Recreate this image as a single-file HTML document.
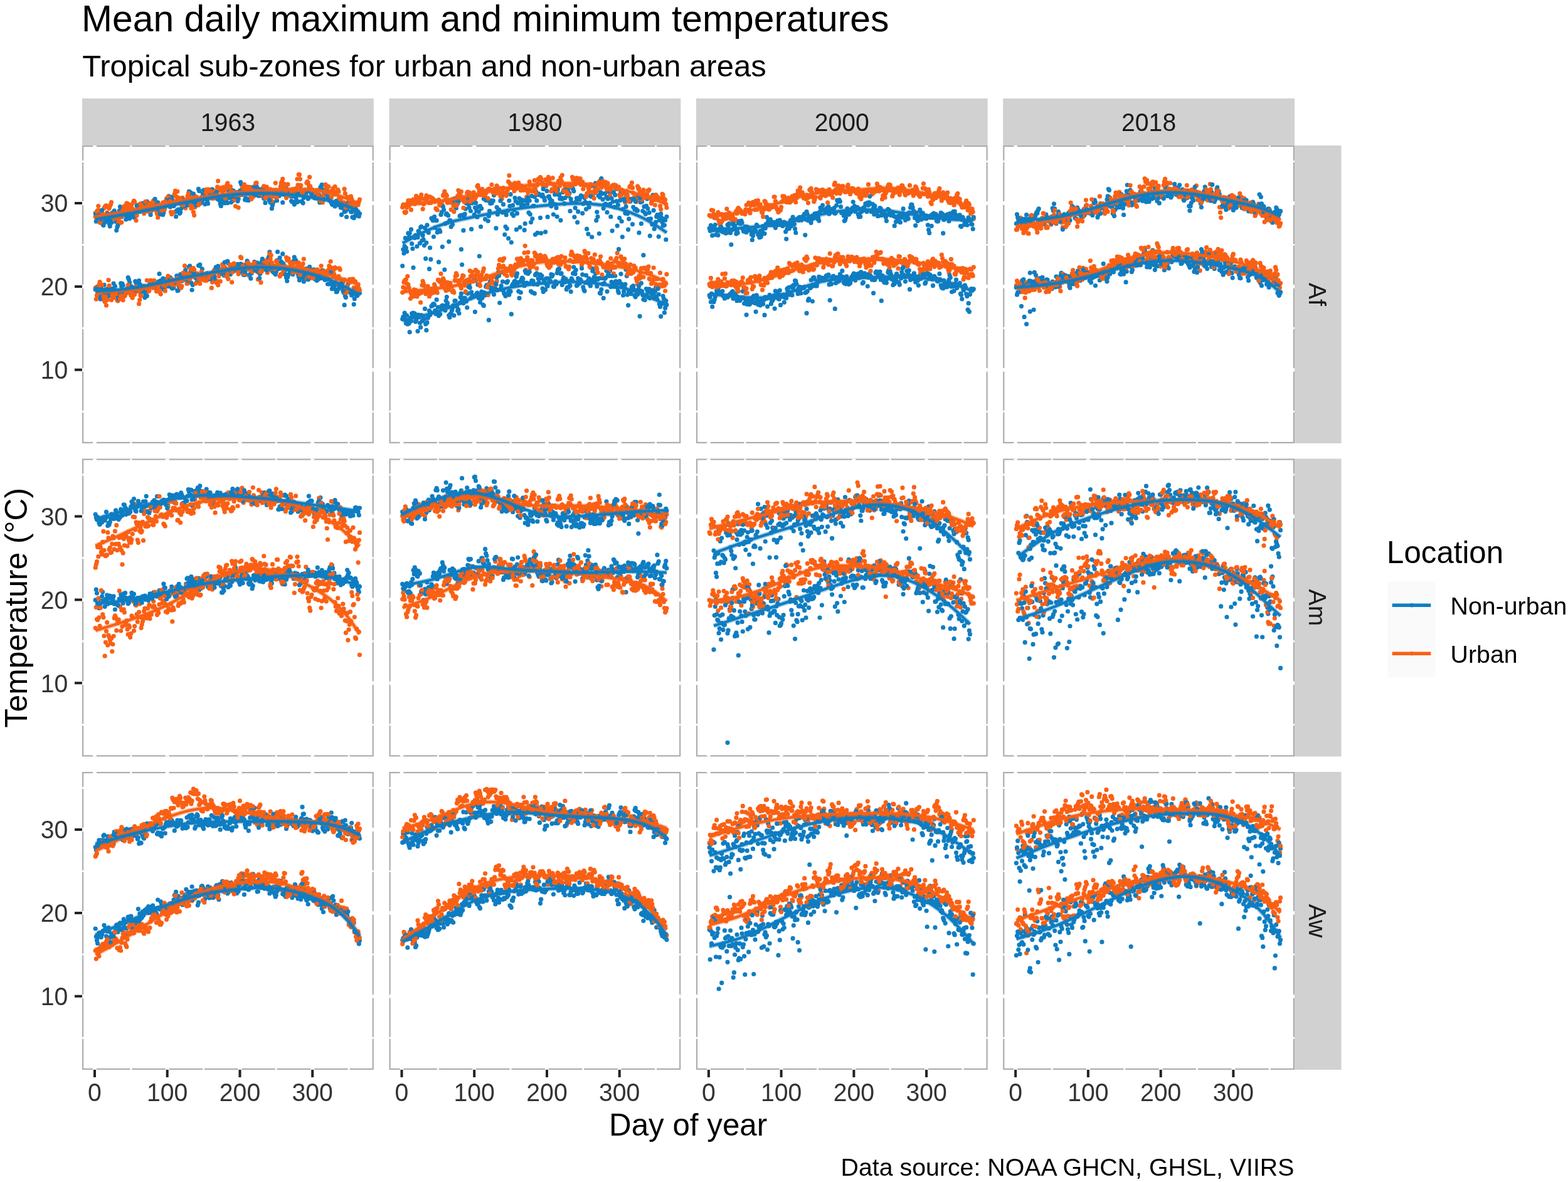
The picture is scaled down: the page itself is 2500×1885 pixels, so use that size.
<!DOCTYPE html><html><head><meta charset="utf-8"><title>Mean daily maximum and minimum temperatures</title><style>html,body{margin:0;padding:0;background:#fff}svg{display:block}text{font-family:"Liberation Sans",Arial,Helvetica,sans-serif}</style></head><body><svg width="2500" height="1885" viewBox="0 0 2500 1885">
<rect width="2500" height="1885" fill="#fff"/>
<text x="130" y="50" font-size="58.8" fill="#000">Mean daily maximum and minimum temperatures</text>
<text x="131.2" y="122" font-size="49" fill="#000">Tropical sub-zones for urban and non-urban areas</text>
<rect x="131.0" y="157" width="464.8" height="75" fill="#D1D1D1"/>
<text transform="translate(363.4 208.6) scale(1 1.035)" font-size="39.2" fill="#1A1A1A" text-anchor="middle">1963</text>
<rect x="620.5" y="157" width="464.8" height="75" fill="#D1D1D1"/>
<text transform="translate(852.9 208.6) scale(1 1.035)" font-size="39.2" fill="#1A1A1A" text-anchor="middle">1980</text>
<rect x="1109.9" y="157" width="464.8" height="75" fill="#D1D1D1"/>
<text transform="translate(1342.3 208.6) scale(1 1.035)" font-size="39.2" fill="#1A1A1A" text-anchor="middle">2000</text>
<rect x="1599.2" y="157" width="464.8" height="75" fill="#D1D1D1"/>
<text transform="translate(1831.6 208.6) scale(1 1.035)" font-size="39.2" fill="#1A1A1A" text-anchor="middle">2018</text>
<rect x="2063.1" y="232.0" width="75.4" height="475.0" fill="#D1D1D1"/>
<text transform="translate(2086.6 469.5) rotate(90)" font-size="39.2" fill="#1A1A1A" text-anchor="middle">Af</text>
<rect x="2063.1" y="731.5" width="75.4" height="475.0" fill="#D1D1D1"/>
<text transform="translate(2086.6 969.0) rotate(90)" font-size="39.2" fill="#1A1A1A" text-anchor="middle">Am</text>
<rect x="2063.1" y="1231.0" width="75.4" height="475.0" fill="#D1D1D1"/>
<text transform="translate(2086.6 1468.5) rotate(90)" font-size="39.2" fill="#1A1A1A" text-anchor="middle">Aw</text>
<rect x="132.1" y="233.1" width="462.6" height="472.8" fill="#fff" stroke="#ADADAD" stroke-width="2.2"/>
<g stroke="#fff"><path d="M151.0 232.0V707.0" stroke-width="5.8"/><path d="M208.9 232.0V707.0" stroke-width="2.9"/><path d="M266.7 232.0V707.0" stroke-width="5.8"/><path d="M324.6 232.0V707.0" stroke-width="2.9"/><path d="M382.5 232.0V707.0" stroke-width="5.8"/><path d="M440.3 232.0V707.0" stroke-width="2.9"/><path d="M498.2 232.0V707.0" stroke-width="5.8"/><path d="M556.1 232.0V707.0" stroke-width="2.9"/><path d="M131.0 656.2H595.8" stroke-width="2.9"/><path d="M131.0 589.8H595.8" stroke-width="5.8"/><path d="M131.0 523.3H595.8" stroke-width="2.9"/><path d="M131.0 456.9H595.8" stroke-width="5.8"/><path d="M131.0 390.4H595.8" stroke-width="2.9"/><path d="M131.0 324.0H595.8" stroke-width="5.8"/><path d="M131.0 257.5H595.8" stroke-width="2.9"/></g>
<path d="M380.1 317.3h0M557.2 466.2h0M566.5 468.5h0M532.9 456.4h0M236.6 334.4h0M186.9 468.8h0M523.7 315h0M228.5 334.4h0M417.2 417.7h0M541 315.7h0M251.7 460.7h0M523.7 444.9h0M355.8 317.6h0M156.8 468.8h0M304.9 451.1h0M391.7 437.6h0M298 442.8h0M343.1 446.1h0M466.9 437.6h0M159.1 335.8h0M404.4 310.1h0M249.4 453.5h0M192.7 451.9h0M396.3 420.6h0M245.9 327.4h0M498.2 431.5h0M218.1 453.2h0M328.1 306.6h0M526 315h0M266.7 445h0M198.4 342.2h0M363.9 303.9h0M506.3 443.3h0M388.2 438.2h0M451.9 309.9h0M342 441.1h0M160.3 476.9h0M340.8 313h0M186.9 362.1h0M384.8 434.1h0M182.2 468.7h0M207.7 455.5h0M241.3 452.5h0M455.4 297.6h0M177.6 355.2h0M538.7 453.8h0M478.5 295.9h0M519 445.4h0M220.4 327.2h0M432.2 320.8h0M204.2 334.3h0M395.2 418.3h0M387.1 310.5h0M184.6 353.4h0M306.1 462.5h0M486.6 302.8h0M215.8 448.7h0M384.8 294h0M174.1 356.4h0M573.4 340.7h0M294.5 444.2h0M332.7 444.1h0M363.9 419.8h0M280.6 449.1h0M470.4 308.6h0M377.8 427.5h0M200.8 464.6h0M273.7 314.2h0M335 313.5h0M191.5 329.6h0M394 416.2h0M282.9 463.4h0M563 334.9h0M196.1 332.4h0M558.4 465.9h0M498.2 302.7h0M323.4 436.8h0M440.3 314.9h0M413.7 303.3h0M572.3 463h0M265.6 450.6h0M197.3 466.3h0M269 312.8h0M379 320.8h0M348.9 428.9h0M214.7 347.3h0M338.5 435.4h0M500.5 311.4h0M185.7 367.3h0M463.5 313.1h0M457.7 448.1h0M254 436.7h0M534.1 328.9h0M495.9 430.1h0M310.7 440.8h0M389.4 306.7h0M337.3 302.2h0M259.8 342.5h0M263.3 329.5h0M350.1 319.9h0M331.5 439.7h0M548 328.2h0M169.5 464.1h0M239 329h0M206.6 348.4h0M190.3 469.6h0M300.3 439.5h0M431.1 322.9h0M432.2 430.3h0M250.5 453.5h0M469.3 410h0M296.8 440.4h0M472.7 319h0M397.5 306h0M203.1 342.9h0M381.3 307.1h0M513.2 434.5h0M398.7 298.9h0M213.5 460.3h0M156.8 346.5h0M531.8 325h0M383.6 290.7h0M427.6 304.3h0M538.7 325.8h0M355.8 427.5h0M534.1 451.1h0M277.1 458.8h0M153.3 353.1h0M524.8 452.9h0M448.4 293.9h0M447.3 419.8h0M357 316.4h0M320 324.1h0M466.9 313.2h0M256.3 447.6h0M193.8 456.5h0M257.5 336.8h0M543.3 451.5h0M389.4 438.4h0M535.2 326.1h0M499.3 435.2h0M428.8 409.2h0M215.8 337.9h0M291 443.2h0M227.4 324.2h0M223.9 466.6h0M561.8 346.3h0M539.9 460.5h0M292.2 320.4h0M539.9 319.8h0M236.6 460.9h0M369.7 424.6h0M314.2 318.4h0M248.2 453.6h0M527.1 305.4h0M219.3 464.3h0M299.1 327.3h0M239 452.8h0M271.4 329.9h0M171.8 473.6h0M374.4 313.2h0M425.3 303.1h0M267.9 325.4h0M569.9 471.3h0M427.6 412.1h0M230.9 474.6h0M500.5 429.8h0M416 302h0M293.3 329.6h0M154.5 457.7h0M388.2 309.1h0M289.9 448.1h0M559.5 337.7h0M565.3 336.2h0M244.7 331.9h0M234.3 321.3h0M357 439.2h0M536.4 320.4h0M344.3 309.4h0M321.1 322.5h0M285.2 335.3h0M475 436.6h0M338.5 301.8h0M454.2 296.9h0M385.9 426.9h0M560.7 338.1h0M211.2 464.7h0M354.7 428.7h0M426.4 306h0M510.9 438.6h0M155.6 462.7h0M258.6 339.9h0M220.4 457.7h0M350.1 429.2h0M491.2 316.9h0M166 454.3h0M262.1 459h0M485.5 446.3h0M336.2 307.2h0M358.2 324h0M418.3 300.9h0M242.4 455.9h0M189.2 345.7h0M329.2 444.7h0M436.9 310.6h0M264.4 445.2h0M416 420.6h0M501.7 315.8h0M374.4 429.6h0M235.5 465h0M483.1 323.8h0M439.2 307.2h0M289.9 324.2h0M237.8 327h0M177.6 471.5h0M163.7 357.1h0M313 441.9h0M465.8 434.3h0M376.7 425.8h0M550.3 471.7h0M273.7 459h0M479.7 440.7h0M237.8 455.6h0M438 303.6h0M228.5 456.6h0M456.5 442.8h0M369.7 316.1h0M287.6 437.7h0M473.9 322.5h0M546.8 324.1h0M370.9 312.5h0M475 321.5h0M435.7 322.5h0M554.9 453.1h0M473.9 432.8h0M472.7 431h0M548 466.7h0M380.1 423.9h0M303.8 306.8h0M258.6 454h0M404.4 427.3h0M512.1 297.2h0M197.3 338.5h0" stroke="#0F7DC2" stroke-width="7.2" stroke-linecap="round" fill="none"/>
<path d="M498.2 438.7h0M260.9 323.1h0M205.4 457.3h0M453.1 436.8h0M171.8 460h0M438 313.1h0M153.3 477.1h0M345.4 309.9h0M249.4 464.6h0M219.3 330.5h0M419.5 300.8h0M247.1 323.3h0M470.4 302.9h0M416 309.7h0M377.8 306.6h0M309.6 343.3h0M260.9 455.7h0M384.8 306h0M333.9 305.1h0M363.9 297.9h0M258.6 458.6h0M536.4 307.1h0M152.2 345.3h0M523.7 430.3h0M413.7 308.2h0M384.8 411.4h0M257.5 451.4h0M531.8 431h0M409.1 291.6h0M545.6 325.9h0M472.7 433.6h0M289.9 456.3h0M561.8 327.1h0M388.2 424.6h0M439.2 291.8h0M426.4 311.5h0M258.6 331.8h0M347.7 454.7h0M355.8 437.1h0M360.5 417.7h0M351.2 304h0M532.9 437.4h0M208.9 331.4h0M342 430.1h0M218.1 464.4h0M325.8 303.1h0M476.2 278.3h0M433.4 321.1h0M374.4 316.9h0M363.9 444.8h0M417.2 312.5h0M270.2 318.2h0M381.3 307.8h0M248.2 331.4h0M482 422.6h0M169.5 486.9h0M526 434h0M548 448h0M199.6 335.3h0M372 320h0M166 331.8h0M265.6 316.7h0M296.8 319.2h0M512.1 317.9h0M519 438.6h0M335 306.8h0M488.9 291.7h0M276 458h0M461.2 430.6h0M412.5 309.5h0M513.2 315.2h0M164.9 342.6h0M233.2 332h0M413.7 436.4h0M264.4 457.5h0M337.3 316.2h0M424.1 415.8h0M487.8 428.5h0M304.9 332.2h0M266.7 327.4h0M161.4 459.9h0M513.2 431.2h0M487.8 311.4h0M465.8 302.4h0M420.7 416.3h0M280.6 313.3h0M385.9 421.8h0M390.6 310.2h0M269 315.9h0M270.2 443.9h0M403.3 426.2h0M323.4 437.2h0M502.8 431.5h0M294.5 327.2h0M466.9 301.8h0M497 435.2h0M412.5 432.4h0M429.9 305.3h0M557.2 322.4h0M311.9 317.6h0M367.4 427.5h0M244.7 319.9h0M473.9 285.5h0M310.7 330.4h0M460 412.5h0M273.7 341.6h0M549.1 446h0M252.8 329.6h0M463.5 420.7h0M190.3 472h0M404.4 421.1h0M530.6 300.7h0M436.9 305.3h0M573.4 318.1h0M483.1 420.5h0M483.1 309.7h0M179.9 339.9h0M232 457.4h0M157.9 335.8h0M543.3 321.4h0M272.5 448.5h0M365.1 433.7h0M213.5 320.3h0M212.3 466.3h0M295.7 332h0M291 315.3h0M354.7 305.1h0M565.3 324.6h0M286.4 322.5h0M539.9 440.7h0M306.1 325.2h0M532.9 309.8h0M499.3 313.1h0M382.5 429.7h0M505.1 303.4h0M181.1 474.7h0M427.6 310.2h0M342 309.4h0M431.1 412.8h0M546.8 329.6h0M397.5 440h0M446.1 310.5h0M324.6 317.8h0M211.2 333.1h0M176.5 466.7h0M298 452.2h0M220.4 464.6h0M410.2 433.4h0M328.1 443h0M330.4 441.4h0M571.1 453.9h0M190.3 344.2h0M559.5 446.1h0M195 475.2h0M567.6 340.4h0M206.6 341.7h0M461.2 303.8h0M406.8 295.7h0M566.5 330.9h0M479.7 295.7h0M497 310.1h0M435.7 433.1h0M243.6 330.7h0M212.3 322.8h0M434.5 305.7h0M241.3 452.1h0M162.6 339.2h0M188 357.4h0M225.1 325.6h0M558.4 450h0M156.8 328.5h0M530.6 442.2h0M315.3 324h0M354.7 421.7h0M486.6 305.1h0M568.8 458.1h0M152.2 459.2h0M563 445.1h0M428.8 419.4h0M250.5 460.5h0M451.9 292.8h0M193.8 473.9h0M453.1 293.4h0M249.4 337.1h0M242.4 452.4h0M220.4 332.2h0M175.3 466.3h0M490.1 289.7h0M239 328.5h0M387.1 299.3h0M339.6 316.3h0M545.6 456.3h0M359.3 427.4h0M552.6 324.3h0M377.8 424.6h0M376.7 425.4h0M226.2 462.7h0M405.6 306.2h0M504 434.4h0M331.5 302h0M490.1 439.6h0M196.1 478.7h0M215.8 335.9h0M160.3 454.8h0M402.1 309.8h0M160.3 355.2h0M458.8 414h0M185.7 475h0M201.9 462.1h0M281.8 445.6h0M432.2 314.7h0M445 312.3h0M293.3 324.9h0M314.2 316.7h0M544.5 451.7h0M491.2 291.3h0M254 330.8h0M200.8 342h0M163.7 471.6h0M302.6 318.2h0M346.6 448.6h0M193.8 354.5h0M409.1 424.8h0M528.3 426.9h0M385.9 300.4h0M326.9 305.6h0M272.5 338h0M307.2 441h0M447.3 437.9h0M375.5 431.6h0M234.3 447h0M543.3 445.5h0M478.5 285.6h0M295.7 434.5h0M267.9 314.2h0M203.1 460.7h0M269 449.3h0M473.9 428h0M557.2 445.7h0M169.5 327.8h0M529.4 438.3h0M210 326.6h0M569.9 323h0" stroke="#FA6014" stroke-width="7.2" stroke-linecap="round" fill="none"/>
<path d="M195 452.3h0M403.3 299.2h0M516.7 308.1h0M554.9 323.2h0M157.9 471.7h0M568.8 337.4h0M482 322h0M164.9 467.2h0M445 428.7h0M320 444.6h0M484.3 448.9h0M251.7 322.9h0M271.4 442.6h0M449.6 302.7h0M476.2 441.3h0M419.5 302.4h0M311.9 323.8h0M188 472.3h0M433.4 332.4h0M434.5 327.2h0M328.1 445.4h0M447.3 309.6h0M348.9 313.7h0M280.6 345.5h0M412.5 312.3h0M243.6 455.4h0M288.7 332.8h0M277.1 328.6h0M326.9 440.2h0M292.2 441.8h0M468.1 416.1h0M512.1 443.7h0M509.8 438.6h0M212.3 466.5h0M222.8 337.3h0M419.5 429.8h0M557.2 323.4h0M322.3 320.1h0M221.6 331.4h0M181.1 345.8h0M558.4 329.6h0M401 298.9h0M252.8 335.7h0M284.1 334.1h0M225.1 460.8h0M385.9 305.9h0M361.6 438.1h0M173 347.3h0M521.3 445.3h0M346.6 425.4h0M302.6 424h0M176.5 351.9h0M530.6 326.7h0M267.9 449.1h0M287.6 338.8h0M256.3 336.1h0M458.8 441.7h0M262.1 334.2h0M339.6 439h0M346.6 317.3h0M414.9 436.3h0M306.1 321.5h0M210 344.7h0M179.9 341h0M383.6 420.9h0M382.5 304.3h0M550.3 337.3h0M471.6 314.6h0M163.7 463.7h0M248.2 329.7h0M487.8 308.5h0M479.7 302.3h0M276 450.7h0M424.1 428.4h0M243.6 333.8h0M464.6 422.2h0M347.7 424.3h0M434.5 430.7h0M488.9 305.4h0M515.5 304.9h0M443.8 312.5h0M188 359.5h0M442.6 401.7h0M308.4 309.1h0M160.3 345.9h0M298 324.7h0M168.4 461.5h0M463.5 430.4h0M318.8 422.2h0M504 444h0M339.6 307.1h0M321.1 440.1h0M552.6 463.4h0M461.2 429.8h0M291 318.3h0M204.2 442.7h0M322.3 428.9h0M407.9 299.1h0M325.8 440.9h0M234.3 471.9h0M480.8 321h0M304.9 324.3h0M417.2 306.2h0M257.5 458.2h0M250.5 329.1h0M439.2 437.6h0M367.4 305.4h0M343.1 314.2h0M454.2 431.6h0M561.8 465.1h0M272.5 448h0M316.5 423.5h0M359.3 435.8h0M284.1 463.3h0M314.2 449.7h0M342 313.4h0M406.8 311.5h0M308.4 437.9h0M303.8 433.6h0M203.1 460.3h0M309.6 315.9h0M502.8 440.8h0M403.3 424h0M242.4 329.4h0M226.2 325.1h0M521.3 310.8h0M520.2 443.2h0M269 456.6h0M200.8 350h0M373.2 432h0M217 340.2h0M324.6 303.3h0M552.6 346h0M440.3 433.5h0M152.2 340.2h0M279.5 337.9h0M372 428.7h0M433.4 426.1h0M392.9 319.1h0M286.4 447h0M442.6 308.6h0M482 442.5h0M492.4 304.4h0M255.2 448.1h0M502.8 308.4h0M411.4 300.8h0M367.4 437.4h0M445 312.4h0M178.8 467.1h0M225.1 336.1h0M553.7 333.4h0M223.9 334.3h0M359.3 320.5h0M208.9 457.3h0M446.1 303.3h0M497 433.6h0M421.8 419.7h0M226.2 458.3h0M366.3 431h0M205.4 338.1h0M164.9 359.5h0M513.2 294.7h0M217 451.1h0M173 464.1h0M174.1 459.8h0M337.3 438.3h0M281.8 335.8h0M438 435.1h0M464.6 320.6h0M294.5 328.7h0M301.4 305.4h0M192.7 339.3h0M210 457.4h0M368.6 427.8h0M441.5 320h0M347.7 315.2h0M443.8 422.1h0M556.1 465.6h0M285.2 456.4h0M232 469.4h0M154.5 345.4h0M315.3 438.5h0M370.9 422.1h0M493.6 299.9h0M317.7 424h0M316.5 301.4h0M401 436h0M307.2 454.5h0M545.6 457.8h0M429.9 401.8h0M379 421.3h0M541 455.9h0M456.5 308.5h0M213.5 346.4h0M484.3 315.5h0M477.4 308.3h0M264.4 324.1h0M232 325.9h0M170.7 468.7h0M528.3 323.4h0M254 338.8h0M402.1 433.4h0M265.6 319.5h0M206.6 450.1h0M270.2 318.5h0M405.6 417.6h0M522.5 453h0M155.6 345.3h0M193.8 346h0M310.7 313.3h0M157.9 342.4h0M252.8 449.2h0M398.7 437.4h0M382.5 422.4h0M499.3 309.7h0M227.4 456.1h0M399.8 444.2h0M501.7 444.8h0M391.7 316.1h0M431.1 421.8h0M532.9 323.7h0M175.3 360.8h0M152.2 461.7h0M324.6 443.7h0M295.7 430.6h0M441.5 415.4h0M397.5 422.7h0M282.9 336.6h0M198.4 464.6h0M241.3 336.3h0M219.3 334.5h0M494.7 430.3h0M361.6 316.5h0M240.1 342.4h0M229.7 327.1h0M260.9 338.9h0M446.1 411h0M418.3 412.9h0M551.4 336.3h0M296.8 326.3h0M451.9 420.8h0M196.1 455.2h0M201.9 465.5h0" stroke="#0F7DC2" stroke-width="7.2" stroke-linecap="round" fill="none"/>
<path d="M499.3 443.3h0M488.9 444.6h0M326.9 437.9h0M504 305.1h0M479.7 436.4h0M418.3 309.8h0M207.7 333.6h0M186.9 479.1h0M265.6 452.8h0M563 322.3h0M228.5 332h0M571.1 326.7h0M314.2 436.1h0M493.6 282.4h0M279.5 304.4h0M185.7 346.4h0M524.8 424.2h0M429.9 404.4h0M442.6 306.9h0M556.1 449h0M362.8 435.4h0M510.9 433h0M159.1 355h0M204.2 325.1h0M179.9 472.6h0M214.7 321.9h0M435.7 303.2h0M174.1 332.3h0M477.4 425.5h0M188 479.8h0M227.4 460.5h0M310.7 435.3h0M564.2 458.8h0M552.6 465.9h0M516.7 304.8h0M553.7 314.1h0M406.8 423.8h0M456.5 410.5h0M171.8 341h0M350.1 435.7h0M536.4 444.2h0M299.1 451.9h0M508.6 318.1h0M217 456.8h0M278.3 309.4h0M222.8 478h0M460 307.1h0M527.1 307.4h0M206.6 465h0M357 303.4h0M317.7 444.9h0M288.7 325.4h0M391.7 421.6h0M200.8 468.1h0M285.2 315.6h0M352.4 303h0M523.7 297.6h0M347.7 288.7h0M373.2 420.2h0M247.1 453.9h0M514.4 322.9h0M225.1 471.7h0M546.8 450.6h0M500.5 439.8h0M538.7 452.1h0M367.4 297.5h0M522.5 433.8h0M336.2 305.4h0M337.3 459.2h0M278.3 447h0M425.3 420.8h0M226.2 328.3h0M402.1 433.3h0M455.4 427.7h0M539.9 305.7h0M178.8 343h0M227.4 333.4h0M170.7 339.1h0M541 427.8h0M507.4 435.5h0M564.2 326.6h0M221.6 326.6h0M313 443.9h0M432.2 407h0M559.5 313.2h0M244.7 451.9h0M284.1 315.1h0M426.4 435h0M440.3 303.2h0M343.1 434.4h0M351.2 448.7h0M207.7 468.6h0M494.7 438.7h0M374.4 426.4h0M443.8 420.9h0M336.2 442.5h0M492.4 296.2h0M512.1 424.1h0M189.2 468.1h0M306.1 439.5h0M451.9 433.5h0M521.3 301.6h0M472.7 300h0M572.3 460.2h0M344.3 313.2h0M167.2 329.8h0M550.3 466.4h0M251.7 460.1h0M228.5 463.5h0M502.8 306.7h0M421.8 308.3h0M470.4 418h0M287.6 318.7h0M329.2 447.3h0M264.4 323.2h0M173 331.2h0M501.7 310.3h0M162.6 454.3h0M509.8 440.6h0M248.2 459.8h0M262.1 457.6h0M370.9 433.8h0M535.2 307.9h0M250.5 340.9h0M211.2 474.9h0M235.5 324.9h0M544.5 315.5h0M331.5 445.8h0M529.4 308h0M396.3 429.6h0M522.5 297h0M506.3 429.9h0M189.2 351.2h0M565.3 463.6h0M500.5 304.7h0M282.9 305.3h0M449.6 289.3h0M167.2 481.3h0M333.9 441.1h0M339.6 435.4h0M442.6 422.1h0M368.6 302.6h0M471.6 303.7h0M464.6 422.3h0M338.5 450.1h0M491.2 445.7h0M369.7 450.2h0M423 426.5h0M465.8 427.9h0M475 424.1h0M155.6 335.6h0M548 322.9h0M399.8 422.3h0M495.9 306.3h0M392.9 299.9h0M450.7 285.3h0M266.7 445.5h0M410.2 305.9h0M527.1 417h0M353.5 432.3h0M332.7 302.4h0M263.3 321.6h0M182.2 348.6h0M230.9 457.8h0M421.8 418.7h0M197.3 330h0M534.1 297.5h0M493.6 444h0M485.5 311.1h0M433.4 418.9h0M542.2 430.1h0M568.8 325.4h0M192.7 355.1h0M355.8 298.6h0M271.4 451.6h0M395.2 298.5h0M257.5 335.8h0M411.4 445.4h0M183.4 466.7h0M446.1 440.6h0M538.7 302.7h0M445 426.4h0M520.2 440.9h0M390.6 430.7h0M431.1 301.9h0M256.3 469.1h0M293.3 436.4h0M286.4 455.2h0M352.4 430.1h0M301.4 437.6h0M457.7 414.9h0M300.3 436.4h0M456.5 315.6h0M394 427.6h0M219.3 463.5h0M203.1 329.6h0M369.7 310.6h0M501.7 434.9h0M528.3 315.1h0M173 446.6h0M259.8 323h0M509.8 321.8h0M375.5 328.8h0M177.6 322.6h0M515.5 312h0M325.8 447.2h0M520.2 298.2h0M340.8 315.9h0M399.8 314.1h0M450.7 435.6h0M403.3 313.9h0M239 454.3h0M323.4 314.1h0M338.5 315.8h0M485.5 432.3h0M353.5 303.4h0M396.3 302.2h0M240.1 447h0M308.4 338.2h0M223.9 471.2h0M222.8 332.5h0M434.5 432.9h0M417.2 433h0M197.3 473h0M235.5 464.7h0M343.1 304.3h0M357 425.1h0M508.6 439.1h0M484.3 413h0M183.4 342.2h0M280.6 452.7h0M389.4 437h0M480.8 428h0M381.3 429.1h0M361.6 295.3h0M277.1 322.9h0M383.6 311h0M255.2 467.1h0M322.3 436h0M392.9 425.5h0M320 318.2h0M213.5 470h0M198.4 472.5h0" stroke="#FA6014" stroke-width="7.2" stroke-linecap="round" fill="none"/>
<path d="M326.9 325.7h0M329.2 315.3h0M392.9 423h0M166 348.9h0M522.5 306.4h0M259.8 444.1h0M530.6 457h0M390.6 318.6h0M189.2 476.8h0M325.8 311h0M366.3 315.5h0M528.3 450.9h0M278.3 450.6h0M535.2 462h0M567.6 333.8h0M420.7 423.9h0M490.1 434.3h0M407.9 425.4h0M182.2 336h0M524.8 319.6h0M509.8 322.9h0M373.2 312.9h0M537.5 326.7h0M161.4 461.5h0M402.1 299.3h0M471.6 414.9h0M286.4 340.5h0M505.1 447.5h0M560.7 471h0M365.1 430.2h0M205.4 445.5h0M274.8 319h0M293.3 446.1h0M300.3 317h0M505.1 316.3h0M429.9 319.8h0M494.7 303h0M170.7 352.3h0M572.3 345h0M553.7 460.9h0M565.3 476.4h0M375.5 427.3h0M360.5 320.9h0M218.1 328.2h0M420.7 316.6h0M208.9 343.3h0M199.6 341h0M249.4 326.8h0M531.8 450.8h0M453.1 423.8h0M551.4 474.3h0M181.1 452h0M409.1 297.4h0M354.7 318.5h0M559.5 464.3h0M335 445h0M183.4 339.3h0M247.1 451.6h0M567.6 461.8h0M244.7 458.2h0M455.4 437.9h0M260.9 461.8h0M517.9 317.8h0M468.1 322.1h0M387.1 430h0M462.3 433.5h0M436.9 435h0M353.5 436.3h0M568.8 471.1h0M450.7 322.9h0M331.5 324.7h0M330.4 319.9h0M185.7 464.9h0M469.3 325.9h0M406.8 431.2h0M543.3 331.1h0M233.2 323.9h0M333.9 311.4h0M485.5 307.5h0M212.3 345.7h0M278.3 324.5h0M272.5 326.9h0M520.2 306.6h0M307.2 319.3h0M465.8 322h0M311.9 443.1h0M506.3 311.8h0M426.4 425.4h0M358.2 418.3h0M493.6 425.7h0M171.8 341h0M362.8 323.6h0M448.4 417.4h0M299.1 447.3h0M332.7 314.7h0M564.2 347.7h0M478.5 438.8h0M488.9 428.9h0M405.6 309.7h0M302.6 309.6h0M462.3 308.9h0M309.6 436.4h0M323.4 309.1h0M351.2 434.4h0M176.5 467.3h0M573.4 467.6h0M421.8 310.3h0M410.2 309.7h0M544.5 342.4h0M526 434.3h0M184.6 463.7h0M545.6 331.5h0M546.8 463.4h0M340.8 432.9h0M362.8 416.6h0M480.8 439.3h0M315.3 321.4h0M450.7 404.9h0M542.2 327.9h0M169.5 347h0M372 304.1h0M279.5 447.3h0M414.9 307.6h0M336.2 444.4h0M288.7 443h0M549.1 486.4h0M563 468.4h0M399.8 300.2h0M376.7 310.2h0M168.4 347.8h0M199.6 470.4h0M365.1 309.7h0M390.6 433.5h0M423 323.4h0M483.1 442.6h0M247.1 317.3h0M566.5 343.9h0M549.1 337.4h0M477.4 446.8h0M507.4 312.5h0M542.2 453.8h0M529.4 460.7h0M410.2 419.1h0M235.5 327.5h0M411.4 431.9h0M266.7 326.1h0M345.4 428.8h0M507.4 445.4h0M510.9 298.8h0M529.4 325.7h0M222.8 453.1h0M301.4 425.6h0M167.2 354.4h0M214.7 465.6h0M270.2 443h0M457.7 302.1h0M274.8 459.9h0M352.4 328.4h0M255.2 342h0M458.8 305.5h0M537.5 465.1h0M476.2 308.4h0M449.6 418.5h0M353.5 324.1h0M381.3 424.8h0M375.5 307.7h0M317.7 304.4h0M295.7 326.3h0M313 327.6h0M183.4 456.3h0M428.8 318.3h0M396.3 319.4h0M195 339.8h0M571.1 466.1h0M564.2 485.3h0M409.1 429.6h0M514.4 302.5h0M162.6 461.6h0M569.9 337.6h0M460 437.8h0M504 313.5h0M517.9 446.3h0M240.1 455.1h0M281.8 439.8h0M516.7 433.3h0M230.9 335.5h0M178.8 339.6h0M425.3 430.9h0M162.6 335.3h0M508.6 441.8h0M497 310h0M453.1 310h0M360.5 429.6h0M352.4 435.4h0M423 426.8h0M318.8 319.2h0M460 305.3h0M167.2 471.3h0M536.4 465.7h0M344.3 426.2h0M514.4 432.1h0M508.6 310.6h0M330.4 435.8h0M207.7 345.1h0M190.3 336.2h0M175.3 463.7h0M435.7 433.6h0M413.7 443.7h0M153.3 460.8h0M276 327.9h0M492.4 437.4h0M527.1 434.3h0M345.4 306.3h0M229.7 465.3h0M461.2 305h0M245.9 453.2h0M470.4 418.1h0M161.4 349.4h0M571.1 341.1h0M377.8 314.7h0M395.2 308.7h0M424.1 313.5h0M201.9 345.4h0M491.2 445.7h0M179.9 460.2h0M515.5 431.7h0M486.6 437.9h0M333.9 442.4h0M544.5 452.7h0M519 307h0M412.5 433.5h0M556.1 321.3h0M211.2 344.2h0M394 317.1h0M351.2 325.3h0M191.5 468.7h0M159.1 472.8h0M221.6 447.5h0M490.1 304.8h0M263.3 451.5h0M495.9 307.6h0M233.2 462.4h0M487.8 437.6h0M368.6 322.6h0" stroke="#0F7DC2" stroke-width="7.2" stroke-linecap="round" fill="none"/>
<path d="M373.2 309.9h0M217 351.6h0M302.6 444.9h0M573.4 462.7h0M307.2 315.7h0M510.9 320.3h0M198.4 328.8h0M236.6 337.5h0M505.1 430.7h0M556.1 319.2h0M245.9 447.4h0M229.7 340.4h0M535.2 427.6h0M486.6 431.6h0M242.4 329.7h0M300.3 308.4h0M154.5 337.1h0M157.9 454.1h0M462.3 418h0M441.5 314.5h0M243.6 459.1h0M178.8 470.8h0M420.7 296.8h0M454.2 297.5h0M553.7 456.7h0M407.9 291.8h0M368.6 430h0M233.2 459.1h0M389.4 294.1h0M462.3 310.9h0M324.6 444.3h0M184.6 468.8h0M506.3 303.4h0M376.7 310.3h0M256.3 330.6h0M537.5 444.7h0M303.8 429h0M232 321.6h0M164.9 472.5h0M191.5 476.4h0M288.7 459.2h0M304.9 429.4h0M335 437.8h0M569.9 455.9h0M366.3 310.7h0M554.9 462.5h0M554.9 327.6h0M401 317.3h0M195 343.8h0M237.8 327h0M380.1 437h0M475 295.1h0M273.7 445.4h0M215.8 461.2h0M332.7 442.8h0M457.7 310.9h0M541 315.4h0M454.2 426.4h0M274.8 454.1h0M358.2 312.9h0M229.7 456.4h0M463.5 303.6h0M287.6 447.7h0M447.3 297.6h0M526 305.8h0M262.1 334.3h0M168.4 328.4h0M478.5 438.2h0M494.7 297h0M182.2 463.6h0M320 445.9h0M321.1 433.3h0M398.7 299.9h0M292.2 435.2h0M448.4 291.7h0M316.5 326.9h0M234.3 329.2h0M542.2 317.9h0M161.4 344.2h0M316.5 442h0M391.7 300.6h0M199.6 470.3h0M516.7 435.8h0M348.9 300.1h0M419.5 426.9h0M443.8 304.7h0M448.4 437.4h0M285.2 450.7h0M476.2 418.8h0M329.2 302.3h0M308.4 427.5h0M284.1 444.7h0M166 478.7h0M240.1 323.8h0M281.8 320.4h0M379 310.7h0M380.1 331.1h0M251.7 347h0M458.8 293.9h0M537.5 306.1h0M277.1 447.3h0M498.2 303.2h0M407.9 426.2h0M477.4 278.4h0M322.3 315h0M303.8 327h0M181.1 344.2h0M340.8 433.6h0M416 450.4h0M425.3 298.2h0M466.9 434.3h0M236.6 461.5h0M401 423.5h0M321.1 314.5h0M298 318.2h0M566.5 448.9h0M524.8 306.9h0M560.7 445.3h0M441.5 416.8h0M468.1 419.9h0M255.2 329.5h0M558.4 326.3h0M282.9 443.8h0M315.3 439.6h0M515.5 432.5h0M311.9 452.1h0M271.4 321h0M521.3 432.9h0M418.3 427.1h0M245.9 333.3h0M561.8 446.7h0M482 308.8h0M346.6 298.2h0M492.4 440.8h0M567.6 462.6h0M344.3 433.4h0M394 297.9h0M205.4 334.8h0M439.2 423.8h0M428.8 306.6h0M405.6 419.2h0M176.5 326.1h0M259.8 451.4h0M549.1 301.4h0M517.9 442.2h0M411.4 306.8h0M177.6 478.5h0M291 446.1h0M168.4 473.1h0M184.6 344.9h0M370.9 306.3h0M155.6 467.9h0M514.4 434.2h0M328.1 307.3h0M350.1 299.7h0M358.2 426.1h0M361.6 440.9h0M263.3 463.9h0M517.9 305.7h0M551.4 458.5h0M372 421.2h0M495.9 432.9h0M274.8 325.7h0M186.9 344.9h0M427.6 426.3h0M292.2 327h0M221.6 484.4h0M237.8 464h0M572.3 321.8h0M309.6 430.3h0M414.9 308.9h0M388.2 300.3h0M218.1 343.6h0M379 430.3h0M276 338.9h0M318.8 452.3h0M170.7 478.5h0M208.9 471.5h0M299.1 312.5h0M156.8 466.7h0M414.9 433.3h0M360.5 300.9h0M469.3 419.3h0M362.8 292.2h0M289.9 326.6h0M507.4 311.3h0M301.4 314.5h0M382.5 311.1h0M163.7 347.9h0M480.8 304.3h0M174.1 455.5h0M468.1 310.5h0M196.1 335.3h0M436.9 423.9h0M359.3 316.1h0M159.1 449.7h0M204.2 454.5h0M214.7 469.6h0M484.3 303.6h0M398.7 429.9h0M471.6 426.9h0M345.4 451.2h0M560.7 317.3h0M397.5 298.4h0M366.3 422.3h0M201.9 324h0M192.7 471.6h0M383.6 409.9h0M191.5 346.2h0M440.3 416.5h0M423 316h0M230.9 337h0M175.3 328.7h0M317.7 324.7h0M550.3 308.4h0M519 294.4h0M296.8 442.9h0M348.9 440.3h0M531.8 304.4h0M252.8 452.5h0M313 313.9h0M395.2 419.4h0M424.1 314.4h0M469.3 301.9h0M404.4 304.5h0M294.5 423.9h0M534.1 426.7h0M210 467h0M438 428.9h0M318.8 318.7h0M330.4 306.1h0M153.3 347h0M254 462.8h0M279.5 447.7h0M455.4 304.4h0M449.6 427.3h0M551.4 331h0M223.9 324.8h0M267.9 440.2h0M154.5 471.1h0M241.3 335.3h0M365.1 308.6h0M387.1 424.4h0M464.6 304.8h0" stroke="#FA6014" stroke-width="7.2" stroke-linecap="round" fill="none"/>
<defs><path id="L00omax" d="M152.2 345.8 L161.5 344.2 L170.9 342.7 L180.2 341.1 L189.6 339.5 L199.0 337.7 L208.3 335.9 L217.7 334.0 L227.0 332.1 L236.4 330.1 L245.8 328.1 L255.1 326.1 L264.5 324.2 L273.9 322.5 L283.2 320.9 L292.6 319.3 L301.9 317.9 L311.3 316.5 L320.7 315.1 L330.0 313.7 L339.4 312.3 L348.7 310.9 L358.1 309.6 L367.5 308.4 L376.8 307.3 L386.2 306.4 L395.6 305.6 L404.9 304.9 L414.3 304.3 L423.6 303.8 L433.0 303.4 L442.4 302.9 L451.7 302.4 L461.1 302.0 L470.4 301.7 L479.8 301.8 L489.2 302.1 L498.5 302.8 L507.9 304.1 L517.2 305.8 L526.6 308.0 L536.0 310.6 L545.3 313.7 L554.7 317.3 L564.1 321.3 L573.4 325.5"/></defs>
<use href="#L00omax" stroke="#FA6014" stroke-opacity="0.35" stroke-width="8" fill="none" stroke-linejoin="round"/>
<use href="#L00omax" stroke="#FA6014" stroke-width="4.3" fill="none" stroke-linejoin="round"/>
<defs><path id="L00omin" d="M152.2 465.6 L161.5 465.4 L170.9 465.1 L180.2 464.8 L189.6 464.2 L199.0 463.5 L208.3 462.6 L217.7 461.3 L227.0 459.8 L236.4 458.0 L245.8 456.1 L255.1 454.0 L264.5 451.8 L273.9 449.6 L283.2 447.3 L292.6 445.0 L301.9 442.8 L311.3 440.6 L320.7 438.5 L330.0 436.5 L339.4 434.7 L348.7 433.0 L358.1 431.4 L367.5 429.9 L376.8 428.6 L386.2 427.4 L395.6 426.4 L404.9 425.5 L414.3 424.8 L423.6 424.4 L433.0 424.2 L442.4 424.3 L451.7 424.8 L461.1 425.5 L470.4 426.5 L479.8 427.9 L489.2 429.5 L498.5 431.5 L507.9 433.8 L517.2 436.3 L526.6 439.0 L536.0 441.8 L545.3 444.8 L554.7 447.9 L564.1 451.0 L573.4 454.1"/></defs>
<use href="#L00omin" stroke="#FA6014" stroke-opacity="0.35" stroke-width="8" fill="none" stroke-linejoin="round"/>
<use href="#L00omin" stroke="#FA6014" stroke-width="4.3" fill="none" stroke-linejoin="round"/>
<defs><path id="L00bmax" d="M152.2 350.0 L161.5 348.4 L170.9 346.9 L180.2 345.3 L189.6 343.6 L199.0 342.0 L208.3 340.3 L217.7 338.5 L227.0 336.7 L236.4 334.9 L245.8 333.1 L255.1 331.2 L264.5 329.3 L273.9 327.4 L283.2 325.4 L292.6 323.5 L301.9 321.7 L311.3 319.9 L320.7 318.1 L330.0 316.5 L339.4 314.9 L348.7 313.4 L358.1 312.1 L367.5 311.0 L376.8 310.0 L386.2 309.2 L395.6 308.7 L404.9 308.4 L414.3 308.2 L423.6 308.3 L433.0 308.6 L442.4 309.0 L451.7 309.6 L461.1 310.4 L470.4 311.3 L479.8 312.4 L489.2 313.6 L498.5 315.0 L507.9 316.5 L517.2 318.2 L526.6 320.2 L536.0 322.6 L545.3 325.6 L554.7 329.2 L564.1 333.4 L573.4 338.0"/></defs>
<use href="#L00bmax" stroke="#0F7DC2" stroke-opacity="0.35" stroke-width="8" fill="none" stroke-linejoin="round"/>
<use href="#L00bmax" stroke="#0F7DC2" stroke-width="4.3" fill="none" stroke-linejoin="round"/>
<defs><path id="L00bmin" d="M152.2 464.1 L161.5 463.6 L170.9 463.1 L180.2 462.5 L189.6 461.8 L199.0 460.9 L208.3 459.7 L217.7 458.3 L227.0 456.7 L236.4 454.9 L245.8 453.0 L255.1 451.0 L264.5 449.0 L273.9 447.0 L283.2 445.1 L292.6 443.2 L301.9 441.3 L311.3 439.5 L320.7 437.7 L330.0 436.0 L339.4 434.2 L348.7 432.6 L358.1 431.1 L367.5 429.7 L376.8 428.6 L386.2 427.6 L395.6 426.9 L404.9 426.4 L414.3 426.2 L423.6 426.3 L433.0 426.6 L442.4 427.3 L451.7 428.2 L461.1 429.5 L470.4 431.1 L479.8 433.0 L489.2 435.2 L498.5 437.6 L507.9 440.3 L517.2 443.4 L526.6 446.8 L536.0 450.6 L545.3 454.9 L554.7 459.7 L564.1 465.0 L573.4 470.6"/></defs>
<use href="#L00bmin" stroke="#0F7DC2" stroke-opacity="0.35" stroke-width="8" fill="none" stroke-linejoin="round"/>
<use href="#L00bmin" stroke="#0F7DC2" stroke-width="4.3" fill="none" stroke-linejoin="round"/>
<rect x="621.6" y="233.1" width="462.6" height="472.8" fill="#fff" stroke="#ADADAD" stroke-width="2.2"/>
<g stroke="#fff"><path d="M640.5 232.0V707.0" stroke-width="5.8"/><path d="M698.4 232.0V707.0" stroke-width="2.9"/><path d="M756.2 232.0V707.0" stroke-width="5.8"/><path d="M814.1 232.0V707.0" stroke-width="2.9"/><path d="M872.0 232.0V707.0" stroke-width="5.8"/><path d="M929.8 232.0V707.0" stroke-width="2.9"/><path d="M987.7 232.0V707.0" stroke-width="5.8"/><path d="M1045.6 232.0V707.0" stroke-width="2.9"/><path d="M620.5 656.2H1085.3" stroke-width="2.9"/><path d="M620.5 589.8H1085.3" stroke-width="5.8"/><path d="M620.5 523.3H1085.3" stroke-width="2.9"/><path d="M620.5 456.9H1085.3" stroke-width="5.8"/><path d="M620.5 390.4H1085.3" stroke-width="2.9"/><path d="M620.5 324.0H1085.3" stroke-width="5.8"/><path d="M620.5 257.5H1085.3" stroke-width="2.9"/></g>
<path d="M728.5 318.8h0M810.6 380.2h0M965.7 325h0M909 336.7h0M870.8 444h0M682.2 507.2h0M991.2 453.2h0M756.2 443.7h0M743.5 480.6h0M701.8 501.1h0M769 307.5h0M980.7 310.9h0M846.5 464.5h0M921.7 443.9h0M683.3 504.3h0M915.9 434.1h0M1061.8 382.2h0M806 361.5h0M723.8 325.4h0M786.3 451.2h0M685.6 502.3h0M711.1 479.5h0M779.4 510.4h0M770.1 309.5h0M918.3 321.8h0M907.8 450.1h0M772.4 466.6h0M656.7 499.9h0M693.7 495.2h0M1051.3 484.9h0M911.3 444.2h0M1040.9 311h0M742.3 333.2h0M898.6 303.3h0M745.8 468.1h0M675.2 508.9h0M955.3 443.8h0M676.4 508.5h0M961.1 318.1h0M699.5 503.6h0M1053.7 340.9h0M817.6 327.3h0M742.3 466.2h0M873.1 345.9h0M1050.2 377.3h0M779.4 344.4h0M730.8 318.6h0M843 433.6h0M1007.4 318.3h0M709.9 495.1h0M758.5 323.4h0M811.8 320h0M753.9 472.6h0M763.2 337.6h0M807.2 450.1h0M1002.7 349.1h0M1051.3 351.2h0M981.9 448.5h0M924 318.2h0M800.2 433.9h0M932.1 464.1h0M1030.5 328.4h0M880.1 320.4h0M949.5 436.2h0M830.3 466.5h0M762 453.9h0M729.6 495.5h0M1030.5 460.6h0M941.4 312.6h0M744.7 317.4h0M1034 349.3h0M950.7 443.8h0M964.5 444.3h0M1058.3 476.3h0M747 457.5h0M719.2 361.7h0M829.1 362.5h0M810.6 465.3h0M1036.3 475.6h0M773.6 470.8h0M936.8 324.3h0M690.3 351.7h0M881.2 438.6h0M931 462.5h0M955.3 372.5h0M684.5 495.4h0M840.7 325.2h0M985.4 326.7h0M677.5 363.4h0M861.5 437.8h0M825.7 323.9h0M845.3 452.1h0M782.8 319.9h0M873.1 456.2h0M802.5 463.4h0M806 472.2h0M862.7 443.7h0M1005 465.5h0M1005 320.9h0M726.1 479.6h0M973.8 457.5h0M895.1 315.7h0M711.1 341.8h0M969.2 439h0M718 351.5h0M900.9 449.8h0M740 481.2h0M947.2 307.9h0M1060.6 351.2h0M904.4 305.1h0M650.9 371.9h0M812.9 464.2h0M763.2 475.4h0M1032.8 332.7h0M1045.6 458.7h0M953 445.5h0M931 313.7h0M1008.5 357.6h0M872 455.4h0M772.4 305.6h0M1031.7 461.9h0M759.7 468.5h0M874.3 444.1h0M646.3 509.7h0M1050.2 469.5h0M811.8 470.1h0M808.3 364.6h0M721.5 358h0M777.1 470.1h0M1061.8 479.7h0M855.8 435.8h0M800.2 312.4h0M692.6 486.1h0M870.8 296.5h0M972.6 431.4h0M707.6 492.5h0M1047.9 342.7h0M898.6 442.5h0M762 330.1h0M865 310.5h0M794.4 434.5h0M700.7 366.9h0M939.1 330.5h0M876.6 447.3h0M1000.4 340.8h0M1047.9 477.6h0M784 324h0M859.2 450.3h0M914.8 426h0M856.9 453.7h0M678.7 412.4h0M733.1 483.2h0M744.7 490.5h0M697.2 497.2h0M760.9 467.2h0M884.7 310.2h0M1014.3 333.5h0M885.8 326.2h0M949.5 292.2h0M942.6 447.8h0M907.8 308.2h0M819.9 335h0M661.3 500h0M666 378.4h0M652.1 378.6h0M714.6 343.7h0M959.9 308.8h0M1018.9 371.2h0M1022.4 356.7h0M778.2 352.5h0M951.8 338.1h0M1059.4 359h0M750.4 336.5h0M687.9 488.3h0M839.6 451.2h0M929.8 457.9h0M782.8 460.7h0M880.1 440.4h0M883.5 457.2h0M885.8 448.9h0M725 316.5h0M1046.7 345.4h0M743.5 324.2h0M642.8 397.8h0M968 464.8h0M970.3 303.5h0M828 475.4h0M804.8 374.2h0M915.9 346.1h0M948.3 449.4h0M881.2 324.1h0M972.6 325.4h0M920.6 454.4h0M912.5 299.9h0M654.4 379h0M816.4 455.5h0M652.1 515.8h0M992.3 377.8h0M708.8 487.4h0M833.8 444.7h0M980.7 440h0M649.8 517h0M722.7 487.1h0M788.6 307.6h0M905.5 448.2h0M887 453.1h0M1053.7 504.6h0M922.9 448.9h0M891.6 428.9h0M999.3 310.1h0M788.6 462.7h0M767.8 332.6h0M823.4 366.2h0M902 444.9h0M1054.8 484.6h0M905.5 302.9h0M795.6 334.4h0M694.9 351.7h0M649.8 381.3h0M786.3 320.2h0M1006.2 468.4h0M642.8 505.4h0M689.1 349.7h0M868.5 450.9h0M692.6 345.5h0M877.7 323.3h0M834.9 450.9h0M853.4 438.4h0M821 315.5h0M787.5 311.3h0M801.4 339h0M706.5 487.7h0M645.1 499.2h0M933.3 450.8h0M748.1 453.7h0M799.1 455.9h0M852.3 467.9h0M866.2 465.3h0M1031.7 317.1h0M833.8 320.2h0M977.3 452.2h0M1023.6 321.6h0M703 342.3h0" stroke="#0F7DC2" stroke-width="7.2" stroke-linecap="round" fill="none"/>
<path d="M785.2 303.4h0M959.9 295.7h0M850 295.6h0M682.2 456.7h0M814.1 299.3h0M1056 309.4h0M807.2 311.9h0M825.7 414.5h0M1003.9 430.3h0M984.2 301.5h0M719.2 457.1h0M874.3 423.9h0M900.9 296.9h0M729.6 447.6h0M972.6 311h0M903.2 424.8h0M920.6 289.3h0M815.3 293.6h0M744.7 449.2h0M883.5 294.8h0M913.6 286.2h0M889.3 299.3h0M917.1 293.8h0M912.5 282.3h0M863.9 293h0M861.5 406.8h0M664.8 315.2h0M920.6 407.6h0M784 294.6h0M866.2 412.5h0M1017.8 444.3h0M912.5 405.1h0M836.1 403.2h0M973.8 412.2h0M774.7 308.3h0M750.4 440.4h0M647.4 338.2h0M662.5 462.6h0M867.3 414.1h0M856.9 292.8h0M753.9 448.7h0M971.5 306.9h0M996.9 323h0M902 300.2h0M652.1 458.8h0M955.3 415.9h0M731.9 309.6h0M1056 456.3h0M742.3 321.6h0M733.1 311.1h0M806 428.5h0M770.1 307.9h0M1029.4 428.5h0M862.7 410.7h0M1042.1 316.5h0M706.5 311.9h0M720.4 319.2h0M767.8 438.3h0M887 411.7h0M1035.1 302.6h0M801.4 306h0M726.1 440.8h0M921.7 413h0M829.1 418.9h0M910.2 406.5h0M800.2 316.9h0M659 472.8h0M1022.4 306.9h0M978.4 436.4h0M792.1 448.2h0M780.5 304h0M760.9 439.5h0M696.1 464.7h0M833.8 421.2h0M1045.6 310.7h0M859.2 412.6h0M865 291.7h0M674.1 333.3h0M1035.1 444.6h0M957.6 287.2h0M645.1 447.5h0M788.6 457.4h0M705.3 327.4h0M869.6 410.1h0M720.4 457.1h0M839.6 414.9h0M1021.3 434.6h0M767.8 308.6h0M838.4 301h0M756.2 311.5h0M769 445.3h0M703 324.4h0M848.8 305.2h0M907.8 296.4h0M1007.4 433.3h0M759.7 312.2h0M858.1 285.8h0M933.3 294.8h0M667.1 319.4h0M965.7 290.7h0M796.7 300h0M696.1 333.9h0M851.1 297.3h0M999.3 304.8h0M992.3 419.8h0M907.8 425.6h0M691.4 318h0M741.2 320.2h0M778.2 470.4h0M802.5 299.7h0M740 321.8h0M927.5 423.1h0M644 329.2h0M1031.7 310.4h0M744.7 307.7h0M683.3 313.9h0M757.4 439.5h0M1017.8 301.1h0M939.1 420h0M668.3 468.6h0M870.8 413h0M1023.6 441.5h0M693.7 457h0M826.8 420.7h0M747 308.8h0M847.7 304.4h0M917.1 416.9h0M725 326.7h0M677.5 462.7h0M715.7 461.9h0M924 285.6h0M753.9 316.5h0M786.3 307.6h0M986.5 298.1h0M980.7 296.1h0M792.1 296.2h0M1016.6 453.6h0M714.6 454.5h0M762 295.5h0M888.2 416.4h0M1046.7 461h0M925.2 284.8h0M1034 304.3h0M818.7 437.2h0M747 446.2h0M905.5 427.1h0M726.1 330.7h0M1045.6 453h0M1052.5 435.2h0M749.3 431.8h0M787.5 441h0M942.6 297.2h0M743.5 447.2h0M823.4 425.3h0M897.4 292.5h0M772.4 308.7h0M690.3 318.3h0M1054.8 454.2h0M1053.7 454.6h0M687.9 321.5h0M765.5 455.8h0M953 301.9h0M946 413.3h0M824.5 298.3h0M1044.4 327.1h0M1013.2 314.3h0M1006.2 436.4h0M678.7 468.6h0M790.9 454h0M1018.9 440.1h0M944.9 414.9h0M801.4 415.6h0M1032.8 429.2h0M731.9 453.3h0M701.8 327.6h0M756.2 444.7h0M781.7 302h0M742.3 464.9h0M686.8 323.3h0M1024.7 310.7h0M862.7 284.9h0M1014.3 443.8h0M650.9 453.8h0M806 307.2h0M1029.4 313.7h0M855.8 295.8h0M994.6 421.5h0M822.2 297h0M993.5 418.5h0M828 295.1h0M692.6 453.7h0M789.8 453.2h0M764.3 304.9h0M722.7 463.9h0M712.3 453.5h0M841.9 307.6h0M981.9 295.6h0M642.8 326.6h0M965.7 423.8h0M1059.4 319h0M763.2 440.8h0M893.9 283.1h0M988.8 313.2h0M1014.3 322h0M793.3 440.1h0M984.2 403.6h0M818.7 298.5h0M1062.9 437.3h0M736.6 443.8h0M785.2 451.2h0M837.2 392.1h0M803.7 412h0M954.1 416.2h0M1046.7 312h0M661.3 468.6h0M904.4 310.5h0M970.3 431.9h0M845.3 295.4h0M780.5 451.8h0M838.4 430.6h0M966.9 300h0M968 304.7h0M1020.1 307.6h0M927.5 293.3h0M642.8 458.2h0M1022.4 427.9h0M679.8 311.8h0M669.4 323.4h0M743.5 315.4h0M734.2 312h0M933.3 403.5h0M1001.6 316.9h0M992.3 307.5h0M692.6 321.5h0M797.9 413.7h0M941.4 426.7h0M674.1 448.4h0M718 451.4h0M914.8 407.8h0M865 412.9h0M671.7 466.9h0M949.5 306.4h0M980.7 426.4h0" stroke="#FA6014" stroke-width="7.2" stroke-linecap="round" fill="none"/>
<path d="M913.6 301.1h0M850 448.1h0M940.2 453.5h0M961.1 452.9h0M1025.9 406.9h0M975 449.5h0M785.2 463.6h0M803.7 467.9h0M995.8 320.3h0M996.9 453.3h0M789.8 301.5h0M937.9 447.2h0M914.8 304.8h0M940.2 323.6h0M893.9 436.4h0M727.3 487.6h0M723.8 503.1h0M802.5 325.9h0M668.3 505.8h0M850 328.6h0M715.7 503h0M803.7 338.3h0M910.2 317.7h0M869.6 369.8h0M854.6 305.7h0M920.6 354.6h0M690.3 485.4h0M669.4 515h0M924 452h0M1056 483.1h0M875.4 313.1h0M860.4 311h0M674.1 375.5h0M944.9 313.4h0M832.6 443.1h0M749.3 458.7h0M844.2 320h0M707.6 334.7h0M757.4 331h0M919.4 455.6h0M950.7 351.4h0M753.9 313.1h0M966.9 314.4h0M730.8 493.7h0M644 404h0M818.7 452.6h0M655.5 511.9h0M884.7 452.6h0M1043.2 475.9h0M785.2 320.9h0M836.1 366.9h0M1025.9 477.6h0M821 448.2h0M926.4 447.8h0M899.7 324.6h0M983.1 320.9h0M999.3 440.1h0M832.6 318.8h0M984.2 458.6h0M822.2 321h0M1039.8 357.8h0M804.8 469h0M892.8 317h0M831.5 445.2h0M904.4 458.4h0M976.1 440.2h0M847.7 447.7h0M897.4 306.7h0M712.3 473.6h0M1028.2 339.3h0M815.3 386.5h0M971.5 440.2h0M926.4 311.8h0M906.7 457.9h0M694.9 500.6h0M812.9 328.7h0M716.9 506.2h0M868.5 319.7h0M672.9 512.2h0M874.3 313.7h0M817.6 453.2h0M740 345.2h0M1042.1 469.7h0M928.7 437.9h0M793.3 342h0M826.8 464.6h0M837.2 356.7h0M921.7 337.4h0M846.5 354.5h0M752.8 470.7h0M809.5 336.2h0M1052.5 342.3h0M956.4 467.3h0M703 489.1h0M667.1 368.6h0M749.3 322.5h0M954.1 444h0M793.3 462.4h0M878.9 328.8h0M781.7 448.3h0M1024.7 470.5h0M944.9 432.2h0M1046.7 472.8h0M774.7 457.2h0M797.9 320.2h0M887 331.4h0M704.2 490.6h0M799.1 309.7h0M682.2 368h0M678.7 517h0M693.7 363.1h0M1020.1 504.3h0M891.6 309.9h0M966.9 431.8h0M825.7 450.4h0M912.5 447h0M947.2 442.1h0M876.6 317.2h0M775.9 317.4h0M657.9 502.4h0M733.1 344.4h0M934.5 439.2h0M1044.4 465.2h0M1049 344.5h0M937.9 373.2h0M933.3 322.4h0M917.1 331.6h0M727.3 332h0M971.5 304.9h0M854.6 436.8h0M714.6 489.4h0M792.1 442.5h0M1018.9 456.1h0M1036.3 376.2h0M927.5 313.3h0M773.6 349.7h0M784 459h0M1038.6 323h0M659 426.8h0M674.1 511.4h0M998.1 329.4h0M764.3 408.5h0M737.7 342.9h0M671.7 361.4h0M890.5 310.7h0M1009.7 455.9h0M654.4 506.6h0M848.8 348.8h0M735.4 397.7h0M725 479.9h0M1017.8 314h0M1057.1 472h0M896.3 454.5h0M978.4 457.1h0M976.1 368.1h0M808.3 450.6h0M865 460h0M934.5 333.6h0M715.7 385.3h0M750.4 475.5h0M736.6 478.1h0M653.2 372.2h0M698.4 368.1h0M1010.8 461.5h0M1029.4 341.3h0M990 306.2h0M676.4 391.3h0M883.5 303.4h0M962.2 332.3h0M836.1 455.7h0M766.6 361.5h0M1032.8 466.5h0M777.1 319.6h0M1021.3 322.4h0M705.3 487h0M954.1 312h0M741.2 341.3h0M701.8 369.5h0M935.6 450.1h0M962.2 475.4h0M993.5 333.6h0M948.3 296.4h0M747 326h0M1056 354.4h0M807.2 342.7h0M1022.4 451.7h0M867.3 446.7h0M669.4 387.9h0M704.2 338.3h0M775.9 454.7h0M1016.6 469.4h0M641.7 424.1h0M816.4 341h0M656.7 388.7h0M943.7 378h0M771.3 487.4h0M1008.5 461.2h0M755.1 319h0M823.4 441.2h0M1012 334h0M689.1 487.4h0M1052.5 489.2h0M853.4 374.1h0M861.5 347.3h0M667.1 502.1h0M801.4 449.1h0M1027 471.1h0M1028.2 478.5h0M789.8 460.6h0M1003.9 321.5h0M882.4 456.9h0M757.4 497.3h0M778.2 454.2h0M957.6 306.7h0M770.1 486h0M892.8 421.5h0M1001.6 486.8h0M878.9 437.6h0M1006.2 317.3h0M929.8 324.8h0M790.9 452.9h0M790.9 363.9h0M847.7 312.6h0M781.7 324.5h0M720.4 495.3h0M979.6 330.1h0M1000.4 469.9h0M963.4 451.7h0M769 474.9h0M787.5 469.7h0M1009.7 330.3h0M706.5 329.6h0M660.2 500.9h0M1062.9 345.5h0M647.4 515.4h0M722.7 319.7h0M925.2 314.8h0M1035.1 460.9h0M679.8 387.1h0M927.5 428h0M919.4 316.1h0M675.2 382.1h0M726.1 329h0" stroke="#0F7DC2" stroke-width="7.2" stroke-linecap="round" fill="none"/>
<path d="M940.2 425h0M915.9 409.4h0M888.2 305.1h0M979.6 294.9h0M730.8 447.9h0M807.2 428.7h0M714.6 319.2h0M973.8 303.2h0M800.2 426.2h0M987.7 419.6h0M891.6 290.2h0M697.2 467h0M895.1 288.6h0M1047.9 444.9h0M1058.3 316.3h0M1057.1 310.8h0M704.2 453.7h0M657.9 470.5h0M668.3 315.3h0M948.3 302.8h0M804.8 308.7h0M672.9 316.9h0M860.4 286.4h0M981.9 414.1h0M1039.8 451h0M803.7 307.3h0M881.2 413h0M825.7 299.1h0M852.3 403h0M843 419.3h0M846.5 415h0M884.7 297.9h0M712.3 312.2h0M875.4 426.8h0M872 287.5h0M870.8 295.5h0M697.2 335h0M922.9 288.5h0M650.9 319.9h0M745.8 448.5h0M856.9 413.7h0M1010.8 315h0M928.7 290.1h0M852.3 287.6h0M797.9 313h0M911.3 401.5h0M961.1 423h0M875.4 290.5h0M1038.6 324.5h0M1028.2 428.1h0M861.5 282.6h0M845.3 427.3h0M646.3 339.3h0M698.4 321h0M675.2 452.2h0M1018.9 300.7h0M899.7 304.9h0M896.3 418.3h0M811.8 428.7h0M653.2 463.4h0M822.2 421.9h0M956.4 292.6h0M833.8 301.5h0M782.8 303.7h0M873.1 423.9h0M762 433.7h0M1049 458.1h0M986.5 420.7h0M832.6 301.7h0M811.8 279.8h0M654.4 324.6h0M693.7 320h0M863.9 415.7h0M755.1 306.9h0M869.6 286.4h0M1039.8 320.3h0M733.1 447.4h0M944.9 313.1h0M1050.2 458.6h0M968 420.8h0M1023.6 317.9h0M962.2 294.6h0M940.2 306.3h0M1000.4 437.3h0M748.1 306.9h0M954.1 291.6h0M1037.5 314.7h0M675.2 325.6h0M821 291.9h0M1049 314.5h0M713.4 450.3h0M759.7 432.9h0M936.8 307.9h0M699.5 318.6h0M964.5 290.4h0M998.1 315.3h0M881.2 283.8h0M647.4 445.5h0M873.1 287.9h0M1053.7 333.7h0M882.4 294.2h0M664.8 473h0M700.7 326.9h0M983.1 298.8h0M728.5 438.9h0M1005 421.8h0M681 465h0M824.5 412.8h0M1012 318.1h0M1003.9 298.2h0M840.7 410.4h0M976.1 298.1h0M770.1 432.9h0M821 423h0M1051.3 454.1h0M919.4 283.9h0M1015.5 318.2h0M711.1 463.6h0M655.5 334.6h0M910.2 296.9h0M735.4 459.7h0M684.5 472.7h0M700.7 449.1h0M1040.9 449.1h0M750.4 313.5h0M666 467.7h0M855.8 428.2h0M915.9 290.1h0M758.5 314.4h0M859.2 285h0M839.6 314.1h0M667.1 468.5h0M991.2 302.9h0M941.4 293.9h0M745.8 306.1h0M1044.4 444.9h0M1027 309h0M644 450.2h0M641.7 330.5h0M1006.2 296.4h0M1050.2 318.1h0M660.2 461.8h0M977.3 295.3h0M995.8 308.6h0M689.1 315.9h0M880.1 415.9h0M950.7 305.2h0M769 301.5h0M899.7 418.3h0M663.6 312.7h0M1008.5 431.7h0M868.5 294.9h0M957.6 409h0M765.5 311h0M854.6 406.2h0M963.4 296.2h0M786.3 441.8h0M969.2 292.3h0M686.8 468.7h0M1005 296.5h0M774.7 445h0M713.4 323.5h0M931 296.2h0M953 434.7h0M795.6 422.7h0M699.5 446.3h0M996.9 420.3h0M963.4 424.5h0M905.5 311.6h0M853.4 302h0M958.8 419.9h0M1061.8 325.5h0M843 302.2h0M969.2 418.7h0M641.7 466.3h0M993.5 305.2h0M679.8 466.7h0M707.6 446.8h0M937.9 403.8h0M766.6 446.8h0M810.6 429.8h0M828 413.1h0M701.8 448.2h0M709.9 460.8h0M1059.4 455.4h0M676.4 323.9h0M799.1 309.5h0M846.5 303.1h0M721.5 317.9h0M832.6 417.9h0M799.1 414.6h0M988.8 422.4h0M847.7 423.4h0M773.6 313.7h0M662.5 318.4h0M741.2 455.2h0M704.2 321.8h0M929.8 418.1h0M670.6 482.3h0M1036.3 445.4h0M913.6 417.3h0M705.3 457.4h0M919.4 413.7h0M660.2 320h0M1060.6 318.5h0M789.8 302.3h0M804.8 437.2h0M816.4 299.4h0M722.7 327.8h0M964.5 424.3h0M955.3 289.9h0M1012 426.7h0M706.5 444.2h0M1037.5 435.6h0M657.9 324.2h0M848.8 415.4h0M994.6 308.8h0M882.4 419h0M796.7 414.4h0M723.8 466.4h0M773.6 444.6h0M648.6 452.3h0M885.8 298.4h0M892.8 296.3h0M677.5 317h0M661.3 325.1h0M883.5 413h0M866.2 297.2h0M948.3 406.2h0M685.6 466.4h0M878.9 417.9h0M727.3 435.9h0M781.7 442.5h0M779.4 454.1h0M751.6 440h0M1008.5 299.7h0M1038.6 452.4h0M1054.8 315.8h0M666 320.4h0M656.7 320h0M1030.5 313.9h0M877.7 292.4h0M926.4 294.4h0" stroke="#FA6014" stroke-width="7.2" stroke-linecap="round" fill="none"/>
<path d="M958.8 284.6h0M969.2 317.2h0M838.4 434.9h0M1029.4 471.7h0M696.1 351.7h0M718 500.7h0M764.3 470.3h0M657.9 396.6h0M858.1 310.7h0M755.1 442.6h0M672.9 383.6h0M698.4 490h0M995.8 458.4h0M935.6 365.2h0M709.9 356.6h0M845.3 341.8h0M844.2 433.6h0M858.1 444.1h0M712.3 340.5h0M877.7 448h0M671.7 502.5h0M913.6 436.1h0M738.9 483.6h0M1054.8 347.2h0M899.7 447.2h0M751.6 465.8h0M647.4 395.3h0M946 428.7h0M1057.1 360h0M897.4 446.9h0M941.4 456h0M653.2 529.7h0M939.1 444.1h0M977.3 321.5h0M838.4 319.6h0M988.8 319.4h0M663.6 375.5h0M734.2 473.9h0M1038.6 467.6h0M906.7 312.5h0M687.9 348.1h0M994.6 465.1h0M965.7 443h0M841.9 314.9h0M1045.6 354h0M756.2 342.3h0M851.1 328.3h0M882.4 342h0M826.8 323.4h0M1014.3 470.1h0M866.2 301.4h0M659 499h0M824.5 436.2h0M1059.4 498.7h0M964.5 308.5h0M822.2 452.4h0M852.3 314h0M992.3 457.5h0M814.1 309.9h0M991.2 353h0M681 358.8h0M716.9 351.4h0M1015.5 335.9h0M655.5 365.9h0M860.4 441.3h0M910.2 465.1h0M795.6 439.4h0M830.3 322.9h0M863.9 439.9h0M983.1 452.8h0M863.9 313h0M797.9 461.3h0M686.8 498.7h0M713.4 355h0M943.7 446.4h0M855.8 319.9h0M796.7 483h0M1012 471.4h0M734.2 343.5h0M834.9 327.2h0M691.4 484.5h0M648.6 401.2h0M684.5 428.9h0M970.3 436.8h0M958.8 461.7h0M668.3 369.9h0M843 339.2h0M664.8 504.4h0M1049 460.3h0M1007.4 457.7h0M890.5 428.9h0M780.5 458.1h0M1040.9 462.8h0M1017.8 461.3h0M856.9 371.4h0M737.7 475.2h0M1039.8 468.7h0M889.3 303.1h0M664.8 393h0M900.9 315.7h0M662.5 375.2h0M1035.1 339.2h0M720.4 320.4h0M661.3 379.3h0M705.3 393.6h0M993.5 471h0M963.4 326.5h0M1060.6 491.3h0M984.2 360.1h0M829.1 449.3h0M1010.8 317.3h0M809.5 448.5h0M1001.6 366.1h0M796.7 337.3h0M765.5 482.2h0M699.5 417.9h0M666 528.2h0M872 304.4h0M752.8 323.9h0M646.3 379.7h0M1013.2 321.2h0M815.3 500.9h0M936.8 451h0M862.7 371.8h0M994.6 317.3h0M911.3 322.9h0M670.6 521.9h0M895.1 435.9h0M780.5 336.7h0M819.9 449.3h0M928.7 340.2h0M1023.6 464.5h0M932.1 315.4h0M922.9 315.7h0M824.5 340.3h0M735.4 468.2h0M719.2 500.1h0M957.6 467.9h0M736.6 422.1h0M700.7 500.4h0M996.9 340.1h0M794.4 334.7h0M1042.1 335.4h0M903.2 304.6h0M818.7 343.9h0M869.6 461.9h0M1043.2 364.9h0M1027 329.4h0M760.9 346.2h0M731.9 499.7h0M713.4 483.4h0M650.9 511.4h0M731.9 320.3h0M968 338.7h0M662.5 513.1h0M990 436.8h0M951.8 456.7h0M729.6 324.7h0M859.2 309h0M681 514.4h0M839.6 318.5h0M765.5 328.5h0M683.3 370.9h0M670.6 362.6h0M679.8 526.7h0M766.6 476.7h0M903.2 461.4h0M956.4 314.6h0M738.9 367.4h0M1034 474.1h0M663.6 510.5h0M828 316.3h0M641.7 508.8h0M925.2 445.6h0M978.4 306.7h0M1002.7 465.2h0M645.1 392.7h0M677.5 492.4h0M814.1 464.8h0M840.7 451.6h0M1015.5 464.5h0M888.2 345.5h0M893.9 351.3h0M1021.3 463.6h0M721.5 491.6h0M748.1 331.2h0M848.8 466.5h0M985.4 464.3h0M973.8 345.7h0M979.6 450.6h0M745.8 314.4h0M988.8 452h0M774.7 319.5h0M685.6 395.2h0M998.1 430h0M792.1 330.5h0M841.9 436.5h0M691.4 377.5h0M975 316.3h0M946 295.7h0M867.3 315.1h0M1037.5 464.3h0M696.1 477.9h0M889.3 430.7h0M918.3 430.6h0M648.6 503h0M741.2 475.1h0M1058.3 349.5h0M660.2 377.7h0M942.6 313.3h0M902 302.8h0M686.8 413.7h0M987.7 347.6h0M987.7 448.3h0M1037.5 348.8h0M1013.2 473.6h0M953 345.6h0M751.6 365.4h0M1003.9 464.6h0M708.8 430.2h0M896.3 317.5h0M875.4 450.2h0M851.1 453.1h0M759.7 336.2h0M771.3 316.9h0M758.5 447.3h0M767.8 465.1h0M644 506.4h0M697.2 370.6h0M981.9 300.4h0M1016.6 335.8h0M1044.4 359.1h0M1020.1 315.6h0M959.9 443.6h0M888.2 435.3h0M831.5 329.2h0M986.5 467h0M917.1 436.8h0M1062.9 486.2h0M1024.7 336.6h0M986.5 397.4h0M837.2 432h0M909 455.6h0M728.5 489.1h0" stroke="#0F7DC2" stroke-width="7.2" stroke-linecap="round" fill="none"/>
<path d="M752.8 319.3h0M936.8 418h0M1027 427.2h0M663.6 471.6h0M958.8 299.2h0M844.2 423.9h0M906.7 429.1h0M978.4 296.4h0M1007.4 291.3h0M728.5 326.6h0M902 424.9h0M892.8 411.3h0M1030.5 427.3h0M1002.7 320.8h0M654.4 476.1h0M795.6 308h0M649.8 440.5h0M935.6 413.3h0M976.1 426h0M991.2 412.3h0M998.1 421.2h0M1024.7 441.7h0M872 421.6h0M737.7 439.4h0M1013.2 427h0M649.8 324.5h0M808.3 439.9h0M670.6 316.4h0M990 409.2h0M918.3 414.5h0M949.5 419.7h0M885.8 414.8h0M1058.3 451.7h0M751.6 317.2h0M990 312h0M748.1 445.7h0M995.8 412.8h0M716.9 319.5h0M874.3 282.4h0M698.4 446.4h0M962.2 426.2h0M922.9 410.7h0M716.9 456.1h0M897.4 417.8h0M890.5 288.7h0M823.4 300.8h0M645.1 338.2h0M815.3 436.6h0M691.4 466.6h0M772.4 445h0M961.1 288.9h0M729.6 312.6h0M925.2 409.6h0M891.6 413.7h0M850 425.2h0M911.3 295.6h0M810.6 289.7h0M1043.2 444.3h0M858.1 412.9h0M985.4 418.8h0M715.7 320.5h0M903.2 305.4h0M736.6 318.5h0M703 436.7h0M836.1 300.2h0M926.4 415.6h0M684.5 323.5h0M709.9 318.7h0M809.5 432.2h0M900.9 410.9h0M878.9 304.9h0M877.7 424.2h0M896.3 279.3h0M841.9 402.3h0M725 447.3h0M931 410.1h0M727.3 328.2h0M887 303.3h0M802.5 424.2h0M972.6 425.5h0M718 322.9h0M975 420.4h0M884.7 418.5h0M1047.9 318.2h0M669.4 466.6h0M983.1 411.5h0M778.2 316.4h0M937.9 299.6h0M730.8 303.6h0M906.7 310.2h0M1040.9 313.3h0M737.7 315.2h0M672.9 454.8h0M1031.7 434h0M809.5 303h0M771.3 311.9h0M918.3 284.7h0M816.4 438.9h0M935.6 309h0M694.9 464.5h0M721.5 465.5h0M812.9 430.8h0M898.6 304.4h0M1021.3 306.7h0M1060.6 464h0M929.8 301.5h0M932.1 295.1h0M794.4 428.4h0M1062.9 331.2h0M1001.6 433.5h0M814.1 424.4h0M652.1 328.5h0M682.2 316h0M678.7 315.8h0M939.1 302.8h0M777.1 458.2h0M817.6 297.9h0M735.4 305.6h0M975 297.1h0M851.1 421.1h0M794.4 303.3h0M853.4 408.6h0M1000.4 312.2h0M943.7 418.1h0M775.9 439.5h0M1032.8 304h0M826.8 291.3h0M889.3 410.1h0M694.9 332.4h0M867.3 294.7h0M890.5 421.2h0M966.9 427.7h0M854.6 308.5h0M880.1 301.8h0M681 318.4h0M687.9 460.7h0M708.8 305.4h0M646.3 459.8h0M689.1 460.4h0M985.4 300.4h0M707.6 309.8h0M793.3 307.8h0M766.6 307.6h0M819.9 430h0M946 306.7h0M1015.5 448.3h0M1025.9 442h0M711.1 310.1h0M723.8 337.7h0M959.9 438.1h0M1009.7 307.8h0M1009.7 434.3h0M999.3 425.4h0M1036.3 316.3h0M734.2 456h0M947.2 416h0M656.7 472.1h0M782.8 442.5h0M683.3 465.3h0M909 294.4h0M655.5 468h0M844.2 289.9h0M868.5 408.3h0M653.2 319.9h0M790.9 308.5h0M758.5 430.5h0M951.8 294.7h0M977.3 426.8h0M834.9 415.3h0M719.2 334.3h0M1025.9 302.9h0M779.4 301.1h0M914.8 285h0M947.2 316.3h0M671.7 310.5h0M819.9 304.6h0M829.1 300.1h0M943.7 306.7h0M764.3 452.9h0M876.6 416.4h0M812.9 292.7h0M909 414.8h0M752.8 433.8h0M956.4 415.5h0M708.8 451.8h0M685.6 313.8h0M1061.8 452.2h0M831.5 296.4h0M1002.7 426.9h0M951.8 429.1h0M904.4 425.5h0M1052.5 328.6h0M921.7 284.7h0M1042.1 427h0M817.6 432.9h0M648.6 331h0M987.7 310.5h0M1020.1 444.2h0M830.3 411.8h0M934.5 313.6h0M893.9 421.9h0M876.6 285.2h0M831.5 417h0M676.4 455.7h0M787.5 304.1h0M898.6 417.6h0M777.1 302.9h0M775.9 304.1h0M1010.8 423.8h0M763.2 300.1h0M749.3 321.4h0M755.1 442.1h0M1043.2 318.6h0M834.9 303.5h0M950.7 426.7h0M757.4 316.6h0M788.6 301h0M738.9 331.5h0M979.6 417h0M932.1 400.4h0M1051.3 317.7h0M860.4 408.4h0M928.7 412.4h0M970.3 301.7h0M840.7 304.1h0M971.5 427.8h0M659 318h0M837.2 302.5h0M760.9 297.1h0M924 408.6h0M934.5 410.3h0M740 450.1h0M690.3 461.1h0M771.3 428.4h0M1028.2 315.1h0M830.3 303.7h0M738.9 440h0M1057.1 445.1h0M1034 425h0M784 448.4h0M895.1 408.7h0M942.6 411.8h0M808.3 309.3h0M1016.6 297h0" stroke="#FA6014" stroke-width="7.2" stroke-linecap="round" fill="none"/>
<defs><path id="L01omax" d="M641.7 326.0 L651.0 325.5 L660.4 325.0 L669.7 324.4 L679.1 323.7 L688.5 322.7 L697.8 321.6 L707.2 320.2 L716.5 318.6 L725.9 316.8 L735.3 314.9 L744.6 312.9 L754.0 310.8 L763.4 308.8 L772.7 306.8 L782.1 304.8 L791.4 303.0 L800.8 301.2 L810.2 299.6 L819.5 298.2 L828.9 296.9 L838.2 295.8 L847.6 294.9 L857.0 294.1 L866.3 293.5 L875.7 293.0 L885.1 292.6 L894.4 292.4 L903.8 292.3 L913.1 292.5 L922.5 292.8 L931.9 293.4 L941.2 294.2 L950.6 295.3 L959.9 296.6 L969.3 298.1 L978.7 299.9 L988.0 301.8 L997.4 304.1 L1006.7 306.5 L1016.1 309.2 L1025.5 312.1 L1034.8 315.2 L1044.2 318.6 L1053.6 322.1 L1062.9 325.8"/></defs>
<use href="#L01omax" stroke="#FA6014" stroke-opacity="0.35" stroke-width="8" fill="none" stroke-linejoin="round"/>
<use href="#L01omax" stroke="#FA6014" stroke-width="4.3" fill="none" stroke-linejoin="round"/>
<defs><path id="L01omin" d="M641.7 465.5 L651.0 464.7 L660.4 463.9 L669.7 463.0 L679.1 462.1 L688.5 461.1 L697.8 459.9 L707.2 458.6 L716.5 457.1 L725.9 455.4 L735.3 453.5 L744.6 451.3 L754.0 448.8 L763.4 446.0 L772.7 442.9 L782.1 439.6 L791.4 436.3 L800.8 433.0 L810.2 429.9 L819.5 427.0 L828.9 424.5 L838.2 422.3 L847.6 420.4 L857.0 418.9 L866.3 417.7 L875.7 417.0 L885.1 416.6 L894.4 416.5 L903.8 416.7 L913.1 417.2 L922.5 417.8 L931.9 418.6 L941.2 419.4 L950.6 420.4 L959.9 421.5 L969.3 422.7 L978.7 424.0 L988.0 425.6 L997.4 427.3 L1006.7 429.3 L1016.1 431.7 L1025.5 434.5 L1034.8 437.7 L1044.2 441.5 L1053.6 445.9 L1062.9 450.6"/></defs>
<use href="#L01omin" stroke="#FA6014" stroke-opacity="0.35" stroke-width="8" fill="none" stroke-linejoin="round"/>
<use href="#L01omin" stroke="#FA6014" stroke-width="4.3" fill="none" stroke-linejoin="round"/>
<defs><path id="L01bmax" d="M641.7 387.8 L651.0 382.8 L660.4 377.8 L669.7 373.1 L679.1 368.6 L688.5 364.4 L697.8 360.7 L707.2 357.4 L716.5 354.7 L725.9 352.2 L735.3 350.0 L744.6 348.1 L754.0 346.1 L763.4 344.2 L772.7 342.3 L782.1 340.5 L791.4 338.6 L800.8 336.9 L810.2 335.2 L819.5 333.7 L828.9 332.3 L838.2 331.1 L847.6 329.9 L857.0 328.8 L866.3 327.9 L875.7 327.0 L885.1 326.1 L894.4 325.4 L903.8 324.9 L913.1 324.6 L922.5 324.5 L931.9 324.6 L941.2 325.1 L950.6 326.0 L959.9 327.2 L969.3 328.7 L978.7 330.8 L988.0 333.2 L997.4 336.1 L1006.7 339.6 L1016.1 343.5 L1025.5 347.9 L1034.8 352.9 L1044.2 358.5 L1053.6 364.6 L1062.9 371.0"/></defs>
<use href="#L01bmax" stroke="#0F7DC2" stroke-opacity="0.35" stroke-width="8" fill="none" stroke-linejoin="round"/>
<use href="#L01bmax" stroke="#0F7DC2" stroke-width="4.3" fill="none" stroke-linejoin="round"/>
<defs><path id="L01bmin" d="M641.7 510.9 L651.0 508.9 L660.4 506.9 L669.7 504.7 L679.1 502.3 L688.5 499.6 L697.8 496.7 L707.2 493.4 L716.5 489.9 L725.9 486.2 L735.3 482.4 L744.6 478.7 L754.0 475.1 L763.4 471.8 L772.7 468.7 L782.1 465.9 L791.4 463.4 L800.8 461.2 L810.2 459.2 L819.5 457.4 L828.9 455.9 L838.2 454.6 L847.6 453.4 L857.0 452.5 L866.3 451.6 L875.7 450.9 L885.1 450.3 L894.4 449.8 L903.8 449.5 L913.1 449.5 L922.5 449.6 L931.9 450.1 L941.2 450.8 L950.6 451.8 L959.9 453.1 L969.3 454.6 L978.7 456.3 L988.0 458.3 L997.4 460.4 L1006.7 462.9 L1016.1 465.7 L1025.5 468.9 L1034.8 472.7 L1044.2 477.1 L1053.6 482.1 L1062.9 487.6"/></defs>
<use href="#L01bmin" stroke="#0F7DC2" stroke-opacity="0.35" stroke-width="8" fill="none" stroke-linejoin="round"/>
<use href="#L01bmin" stroke="#0F7DC2" stroke-width="4.3" fill="none" stroke-linejoin="round"/>
<rect x="1111.0" y="233.1" width="462.6" height="472.8" fill="#fff" stroke="#ADADAD" stroke-width="2.2"/>
<g stroke="#fff"><path d="M1129.9 232.0V707.0" stroke-width="5.8"/><path d="M1187.8 232.0V707.0" stroke-width="2.9"/><path d="M1245.6 232.0V707.0" stroke-width="5.8"/><path d="M1303.5 232.0V707.0" stroke-width="2.9"/><path d="M1361.4 232.0V707.0" stroke-width="5.8"/><path d="M1419.2 232.0V707.0" stroke-width="2.9"/><path d="M1477.1 232.0V707.0" stroke-width="5.8"/><path d="M1535.0 232.0V707.0" stroke-width="2.9"/><path d="M1109.9 656.2H1574.7" stroke-width="2.9"/><path d="M1109.9 589.8H1574.7" stroke-width="5.8"/><path d="M1109.9 523.3H1574.7" stroke-width="2.9"/><path d="M1109.9 456.9H1574.7" stroke-width="5.8"/><path d="M1109.9 390.4H1574.7" stroke-width="2.9"/><path d="M1109.9 324.0H1574.7" stroke-width="5.8"/><path d="M1109.9 257.5H1574.7" stroke-width="2.9"/></g>
<path d="M1295.4 480.5h0M1513 352.7h0M1456.3 438.5h0M1164.6 469.4h0M1269.9 452.7h0M1548.8 357.4h0M1374.1 337.3h0M1357.9 441.7h0M1445.8 346.8h0M1428.5 353.6h0M1507.2 345.4h0M1535 457.7h0M1212.1 368.6h0M1464.4 345.7h0M1432 348.8h0M1422.7 338.4h0M1192.4 367.6h0M1160 358.5h0M1258.4 469.9h0M1186.6 484h0M1367.1 438.8h0M1190.1 502.1h0M1518.8 456.9h0M1210.9 378.7h0M1288.5 351.6h0M1276.9 350.6h0M1499.1 346.5h0M1197 482.1h0M1171.6 360.2h0M1349.8 440.8h0M1482.9 438.1h0M1440.1 332.9h0M1448.2 437.6h0M1266.5 455.3h0M1467.8 338.1h0M1325.5 333.7h0M1545.4 349.8h0M1354.4 340.5h0M1544.2 483.7h0M1521.1 348h0M1509.5 458h0M1474.8 452.2h0M1323.2 478.8h0M1516.4 456.9h0M1515.3 340.6h0M1406.5 339.2h0M1303.5 450.3h0M1522.2 337.1h0M1412.3 346.5h0M1530.3 342.9h0M1325.5 452.9h0M1243.3 351h0M1180.8 477.2h0M1458.6 440.1h0M1245.6 471.1h0M1459.7 449.9h0M1247.9 360.5h0M1257.2 458.6h0M1245.6 354.7h0M1175 367.1h0M1176.2 371.3h0M1445.8 432.2h0M1215.5 366.8h0M1176.2 473.7h0M1294.2 349.9h0M1223.6 356.9h0M1208.6 374.2h0M1186.6 368.7h0M1260.7 351h0M1282.7 457.5h0M1390.3 446.1h0M1547.7 351.1h0M1546.5 351.5h0M1133.4 359.4h0M1545.4 497.1h0M1134.5 364.8h0M1524.5 344.7h0M1140.3 472.9h0M1243.3 463.1h0M1289.6 350.2h0M1161.1 471.7h0M1511.8 451h0M1469 443.4h0M1489.8 440.6h0M1317.4 336.9h0M1478.2 437.8h0M1517.6 341.8h0M1148.4 466.4h0M1312.8 334.7h0M1329 440.3h0M1234.1 354.7h0M1541.9 359h0M1473.6 439h0M1139.2 347.3h0M1390.3 337.2h0M1533.8 350.3h0M1222.5 346.3h0M1467.8 444.6h0M1316.2 442.3h0M1392.6 331.8h0M1226 352.3h0M1219 502.4h0M1296.6 348.5h0M1347.5 351h0M1375.2 332.8h0M1155.4 476h0M1340.5 440.7h0M1191.2 485.2h0M1246.8 470.7h0M1419.2 432.8h0M1397.2 338.8h0M1177.3 356h0M1510.7 454.1h0M1404.2 445.9h0M1216.7 360.5h0M1192.4 480.1h0M1188.9 370h0M1331.3 340.5h0M1349.8 341h0M1401.9 336.3h0M1361.4 436.1h0M1362.5 443.4h0M1494.4 448.2h0M1238.7 471.4h0M1427.3 440.6h0M1364.8 332.5h0M1259.5 466.3h0M1144.9 461.4h0M1154.2 472.9h0M1242.2 477.2h0M1457.4 435.8h0M1441.2 438.6h0M1215.5 478.9h0M1210.9 485.9h0M1419.2 338h0M1259.5 355.8h0M1494.4 353h0M1217.9 363.7h0M1429.6 345.8h0M1536.1 462.9h0M1154.2 367.6h0M1264.1 346h0M1464.4 455.1h0M1519.9 337.6h0M1286.1 337.5h0M1449.3 339.1h0M1470.1 430.1h0M1531.5 468.4h0M1366 437.3h0M1396.1 434.9h0M1406.5 439.4h0M1276.9 467.7h0M1455.1 444.7h0M1330.1 443.7h0M1179.7 354.4h0M1536.1 350.4h0M1342.8 431.9h0M1263 352.9h0M1134.5 468.4h0M1436.6 443.8h0M1315.1 334.2h0M1250.3 482.2h0M1352.1 336.1h0M1175 479.7h0M1202.8 366.8h0M1435.4 354.6h0M1163.5 370.1h0M1227.1 470.4h0M1150.7 364h0M1508.3 343.1h0M1310.4 443.2h0M1508.3 452.1h0M1293.1 355.3h0M1499.1 445.6h0M1131.1 470.9h0M1214.4 373.8h0M1221.3 475.9h0M1298.9 340.9h0M1278 351.2h0M1313.9 334.3h0M1138 481.4h0M1301.2 454.7h0M1307 337.8h0M1502.6 341h0M1291.9 459.5h0M1301.2 340.7h0M1504.9 350.5h0M1180.8 356.8h0M1444.7 347.8h0M1421.5 444.9h0M1501.4 345.8h0M1535 346.3h0M1139.2 477.7h0M1234.1 471.1h0M1524.5 446h0M1453.9 326.3h0M1539.6 458.2h0M1382.2 337.6h0M1471.3 339.8h0M1144.9 375.1h0M1156.5 371.7h0M1363.7 337.5h0M1458.6 347.4h0M1466.7 439.1h0M1427.3 345.8h0M1226 475.2h0M1452.8 440.2h0M1146.1 367.1h0M1275.7 348.3h0M1168.1 464.5h0M1289.6 476.5h0M1297.7 345.3h0M1500.2 339.4h0M1480.6 366.6h0M1237.5 354.8h0M1295.4 343.8h0M1275.7 462.5h0M1260.7 466.1h0M1519.9 456.5h0M1477.1 436.5h0M1415.8 333.7h0M1462 446.2h0M1199.3 382.7h0M1302.3 455.9h0M1359 442.5h0M1268.8 371.2h0M1497.9 436.7h0M1201.7 370.6h0M1324.3 451.5h0M1153 369.3h0M1136.8 480.2h0M1182 352.1h0M1394.9 446.1h0M1353.3 342.1h0M1339.4 321.3h0M1191.2 361.6h0M1463.2 352.5h0M1426.2 452.4h0M1510.7 341.9h0M1399.6 441.1h0M1393.8 342h0M1540.7 354.4h0M1517.6 465.5h0" stroke="#0F7DC2" stroke-width="7.2" stroke-linecap="round" fill="none"/>
<path d="M1318.5 310.8h0M1462 420h0M1418.1 296.2h0M1140.3 347.3h0M1228.3 437.4h0M1354.4 416.4h0M1383.3 419h0M1501.4 319.9h0M1296.6 430.2h0M1300 314.7h0M1414.6 304.5h0M1334.7 305h0M1372.9 416.2h0M1444.7 305.7h0M1401.9 412.9h0M1445.8 304.5h0M1361.4 413.6h0M1165.8 454.6h0M1458.6 418.7h0M1500.2 314h0M1316.2 312.3h0M1359 300.6h0M1231.7 330.3h0M1441.2 300.5h0M1222.5 445.9h0M1367.1 416.1h0M1404.2 402.3h0M1453.9 307h0M1271.1 418.8h0M1524.5 433.6h0M1503.7 417.7h0M1352.1 409h0M1312.8 303.4h0M1298.9 318.5h0M1456.3 311.9h0M1249.1 434.3h0M1291.9 302.4h0M1265.3 317.4h0M1264.1 315.3h0M1359 410h0M1147.3 356.4h0M1550 437.4h0M1491 416.1h0M1223.6 451.2h0M1308.1 316.1h0M1421.5 300.5h0M1342.8 296.8h0M1163.5 344.5h0M1160 450.4h0M1384.5 413.6h0M1258.4 419.6h0M1452.8 306.5h0M1445.8 424.7h0M1224.8 441.4h0M1523.4 317h0M1457.4 308.8h0M1368.3 301.1h0M1438.9 296h0M1473.6 424.4h0M1434.3 409.1h0M1346.3 304.8h0M1220.2 449.3h0M1440.1 417.2h0M1478.2 427.4h0M1429.6 306.4h0M1208.6 319.8h0M1132.2 344.2h0M1325.5 414.6h0M1290.8 302.8h0M1392.6 414.7h0M1435.4 305.3h0M1531.5 323.8h0M1216.7 454.3h0M1149.6 448.9h0M1172.7 350h0M1427.3 420.1h0M1429.6 419.4h0M1201.7 456.9h0M1234.1 434.7h0M1466.7 429h0M1187.8 462.7h0M1479.4 313.5h0M1366 410.2h0M1543.1 442.8h0M1229.4 434h0M1536.1 327h0M1376.4 416.6h0M1390.3 309.8h0M1302.3 423h0M1241 338.5h0M1381 426.6h0M1489.8 425.5h0M1257.2 315.5h0M1426.2 417.9h0M1456.3 415.7h0M1276.9 306.2h0M1391.4 308.7h0M1266.5 422.7h0M1369.5 307.9h0M1513 434.2h0M1285 415.8h0M1375.2 306h0M1341.7 299.5h0M1180.8 335.6h0M1452.8 410h0M1237.5 330.4h0M1176.2 333h0M1163.5 450.9h0M1433.1 408.8h0M1536.1 445.7h0M1448.2 420.3h0M1264.1 431.3h0M1500.2 425.2h0M1209.8 448.1h0M1327.8 315.2h0M1186.6 339.5h0M1268.8 424.8h0M1390.3 414.4h0M1371.8 419.8h0M1291.9 427.4h0M1465.5 308.3h0M1266.5 311.5h0M1499.1 424.2h0M1268.8 322.4h0M1243.3 336.2h0M1311.6 302.7h0M1344 296.9h0M1155.4 444.2h0M1467.8 434.1h0M1394.9 305.8h0M1432 428.2h0M1251.4 315.7h0M1544.2 443.2h0M1236.4 320.8h0M1474.8 425.8h0M1307 314.5h0M1182 449.4h0M1486.3 315.5h0M1319.7 417.1h0M1231.7 440.2h0M1208.6 445.1h0M1313.9 309.8h0M1372.9 317.5h0M1477.1 429.9h0M1193.6 323.4h0M1141.5 450.8h0M1497.9 300.7h0M1139.2 454.7h0M1242.2 434.2h0M1259.5 421.7h0M1173.9 449.4h0M1407.7 413h0M1360.2 300.5h0M1533.8 330.6h0M1413.4 416.2h0M1480.6 302.1h0M1421.5 411.5h0M1412.3 308.3h0M1493.3 313.2h0M1519.9 424.3h0M1492.1 419.6h0M1355.6 309.4h0M1302.3 307h0M1315.1 415.1h0M1510.7 307.2h0M1363.7 305.7h0M1131.1 343.3h0M1438.9 419.5h0M1215.5 462.3h0M1473.6 309.6h0M1161.1 345.3h0M1202.8 441.3h0M1307 412.8h0M1136.8 335.5h0M1207.4 333.9h0M1525.7 430.4h0M1519.9 319.1h0M1282.7 412.9h0M1360.2 411.2h0M1533.8 434.5h0M1394.9 413.7h0M1155.4 347.7h0M1466.7 313.4h0M1179.7 451.2h0M1260.7 318h0M1472.5 292.8h0M1414.6 421.4h0M1205.1 446.3h0M1134.5 450.8h0M1463.2 419.4h0M1400.7 412.8h0M1253.7 429.5h0M1356.7 306.3h0M1347.5 418.3h0M1405.3 303.2h0M1213.2 454.1h0M1331.3 410.3h0M1515.3 421.4h0M1295.4 314.1h0M1396.1 408.5h0M1250.3 429.9h0M1197 442.3h0M1399.6 297h0M1326.6 424.3h0M1272.2 422.9h0M1147.3 456.3h0M1295.4 422.5h0M1273.4 304.7h0M1545.4 326.3h0M1340.5 303.4h0M1276.9 425.5h0M1134.5 335.1h0M1480.6 427.5h0M1550 333.1h0M1393.8 303.6h0M1370.6 424.5h0M1374.1 313.3h0M1430.8 418.8h0M1305.8 412.1h0M1150.7 453.7h0M1400.7 299.6h0M1391.4 410h0M1458.6 308.7h0M1487.5 412.9h0M1334.7 413h0M1496.8 304.2h0M1315.1 311.5h0M1420.4 419.7h0M1220.2 321.4h0M1546.5 428.8h0M1368.3 418.4h0M1303.5 304.4h0M1415.8 296.9h0M1171.6 352.2h0M1267.6 420.5h0M1186.6 458.4h0M1539.6 429.2h0M1442.4 413.4h0M1162.3 451.7h0M1245.6 431.1h0M1310.4 302.8h0M1488.7 421.6h0M1486.3 414.6h0" stroke="#FA6014" stroke-width="7.2" stroke-linecap="round" fill="none"/>
<path d="M1438.9 428h0M1447 441h0M1472.5 436.3h0M1398.4 338.3h0M1484 441.6h0M1383.3 323.4h0M1156.5 472.9h0M1187.8 361.3h0M1543.1 352h0M1184.3 464.6h0M1279.2 458.3h0M1443.5 448.8h0M1495.6 448.6h0M1197 368.2h0M1503.7 460h0M1532.6 470.3h0M1249.1 470.2h0M1345.2 450h0M1429.6 436.5h0M1264.1 459.5h0M1303.5 348.9h0M1487.5 347.1h0M1170.4 363.6h0M1334.7 442.3h0M1392.6 467.4h0M1479.4 436.1h0M1388 324.9h0M1252.6 369.6h0M1515.3 442.6h0M1208.6 485.6h0M1521.1 464h0M1495.6 352.8h0M1475.9 450.4h0M1377.6 330.7h0M1148.4 363.1h0M1168.1 357.5h0M1267.6 364.9h0M1133.4 481.5h0M1206.3 358.6h0M1452.8 326.4h0M1165.8 467.5h0M1214.4 478.9h0M1496.8 347.7h0M1386.8 313.1h0M1413.4 451.1h0M1200.5 476.7h0M1377.6 439.5h0M1318.5 331.5h0M1344 339.4h0M1407.7 342.8h0M1304.7 448.1h0M1171.6 472.5h0M1142.6 463.3h0M1266.5 357.6h0M1529.2 345.6h0M1437.7 347h0M1278 459.9h0M1147.3 467.3h0M1324.3 336.6h0M1547.7 462.9h0M1442.4 342.1h0M1528 453.5h0M1434.3 454.1h0M1230.6 355h0M1298.9 445.2h0M1526.9 344.1h0M1376.4 450.4h0M1297.7 442.3h0M1522.2 454.2h0M1185.5 474.9h0M1440.1 426.2h0M1204 367.4h0M1340.5 329.7h0M1473.6 348.1h0M1491 346.2h0M1394.9 328.4h0M1493.3 351.9h0M1132.2 368.1h0M1420.4 343.5h0M1385.7 436.7h0M1132.2 474.1h0M1300 456h0M1443.5 351.1h0M1183.1 355.3h0M1430.8 350.9h0M1397.2 433.2h0M1486.3 342.2h0M1222.5 476h0M1360.2 438.4h0M1451.6 446.3h0M1198.2 479.5h0M1474.8 347.4h0M1293.1 446.6h0M1230.6 480.3h0M1283.8 467h0M1379.9 324.9h0M1501.4 458.6h0M1291.9 347.1h0M1172.7 468.2h0M1509.5 346.8h0M1453.9 441.7h0M1381 439.8h0M1173.9 471.9h0M1384.5 327.1h0M1326.6 443.1h0M1241 469.4h0M1280.3 348.5h0M1141.5 469.3h0M1272.2 468.4h0M1332.4 338.9h0M1400.7 437.8h0M1551.2 461.9h0M1147.3 367.9h0M1217.9 478.5h0M1353.3 453.3h0M1311.6 444.5h0M1430.8 441h0M1272.2 348.4h0M1187.8 476h0M1274.6 457.4h0M1279.2 345.7h0M1178.5 352.8h0M1333.6 327.6h0M1263 470.7h0M1254.9 460.6h0M1205.1 497.1h0M1281.5 459.3h0M1378.7 335.5h0M1403 433.3h0M1231.7 479.3h0M1239.8 475.5h0M1551.2 365.2h0M1333.6 444.1h0M1418.1 435.8h0M1488.7 441.1h0M1548.8 460.7h0M1138 362.5h0M1220.2 473.8h0M1477.1 348.6h0M1329 337.3h0M1423.9 338.4h0M1447 344.1h0M1308.1 331.3h0M1285 466.4h0M1478.2 344.4h0M1436.6 346.4h0M1153 471.4h0M1492.1 341.7h0M1309.3 331.6h0M1150.7 469.6h0M1323.2 337.5h0M1337.1 445.8h0M1239.8 352.1h0M1224.8 352.7h0M1492.1 444.8h0M1286.1 499.4h0M1273.4 351.5h0M1235.2 360.3h0M1221.3 357.4h0M1274.6 346.4h0M1244.5 358.4h0M1345.2 344h0M1504.9 447.3h0M1481.7 371.6h0M1269.9 349.9h0M1194.7 366.3h0M1460.9 441.3h0M1442.4 441.5h0M1421.5 338.6h0M1538.4 454.8h0M1413.4 352.3h0M1320.9 438h0M1391.4 444h0M1496.8 445.9h0M1369.5 346h0M1185.5 368.8h0M1514.1 438.9h0M1157.7 371.8h0M1142.6 365.9h0M1497.9 344.1h0M1408.8 339h0M1285 349.9h0M1207.4 479.4h0M1195.9 366.8h0M1256 360.9h0M1308.1 444.7h0M1257.2 357.9h0M1219 372.5h0M1302.3 340.2h0M1487.5 455.4h0M1199.3 475.2h0M1290.8 457h0M1265.3 454.6h0M1416.9 431h0M1350.9 332.7h0M1140.3 358.5h0M1249.1 355.7h0M1456.3 335.8h0M1481.7 426.8h0M1525.7 347.2h0M1238.7 356.6h0M1363.7 447.1h0M1472.5 343h0M1448.2 348.8h0M1335.9 320.9h0M1503.7 371.9h0M1165.8 390.1h0M1411.1 443.5h0M1359 331.9h0M1157.7 471.9h0M1484 343.9h0M1236.4 363.3h0M1229.4 358.7h0M1194.7 485.4h0M1376.4 332.6h0M1379.9 439.5h0M1307 443.2h0M1404.2 332.7h0M1235.2 492.1h0M1403 331.7h0M1296.6 442.8h0M1160 473.9h0M1190.1 370.5h0M1539.6 355.9h0M1398.4 434.8h0M1550 462.9h0M1178.5 474.7h0M1378.7 435.9h0M1177.3 475.1h0M1544.2 346.8h0M1251.4 358.2h0M1317.4 439.8h0M1411.1 342.1h0M1372.9 433.9h0M1311.6 327.3h0M1489.8 344.5h0M1352.1 447.2h0M1162.3 470.8h0M1232.9 476.9h0M1426.2 360.2h0M1267.6 447.6h0M1258.4 364.5h0M1410 341.3h0" stroke="#0F7DC2" stroke-width="7.2" stroke-linecap="round" fill="none"/>
<path d="M1428.5 305.1h0M1497.9 426.7h0M1329 417.5h0M1457.4 418h0M1544.2 324.1h0M1182 338.2h0M1462 302.6h0M1475.9 301.6h0M1275.7 299.2h0M1337.1 413.2h0M1234.1 314h0M1279.2 429.8h0M1252.6 321.4h0M1235.2 314h0M1511.8 430.1h0M1210.9 327.8h0M1176.2 460.2h0M1547.7 340.7h0M1178.5 333.9h0M1436.6 416.4h0M1546.5 332.9h0M1364.8 415h0M1309.3 312.5h0M1296.6 315.1h0M1164.6 349h0M1514.1 316h0M1319.7 323.2h0M1175 460.8h0M1420.4 303.4h0M1342.8 411.3h0M1158.8 456.1h0M1226 440.7h0M1464.4 310.6h0M1413.4 304.5h0M1379.9 312h0M1219 443.4h0M1374.1 413.4h0M1543.1 335.2h0M1294.2 306h0M1502.6 412h0M1256 321.4h0M1317.4 412.8h0M1249.1 318.8h0M1193.6 446.7h0M1521.1 326.9h0M1333.6 410.5h0M1197 327.6h0M1281.5 316h0M1166.9 447.8h0M1535 327.6h0M1530.3 317.5h0M1353.3 300.6h0M1529.2 321h0M1370.6 314.5h0M1528 316.1h0M1415.8 415.6h0M1165.8 349.5h0M1209.8 326.3h0M1138 341.5h0M1330.1 418.2h0M1541.9 431h0M1521.1 424.1h0M1547.7 437.9h0M1485.2 419h0M1389.1 305h0M1451.6 307h0M1287.3 412.3h0M1180.8 452.5h0M1235.2 433.9h0M1426.2 303.6h0M1265.3 423.1h0M1327.8 424.2h0M1187.8 341.6h0M1244.5 335.2h0M1168.1 344.6h0M1213.2 331.7h0M1376.4 307.7h0M1346.3 416.3h0M1191.2 336.2h0M1216.7 345.7h0M1226 334.2h0M1548.8 430h0M1154.2 455.8h0M1156.5 436.4h0M1522.2 316h0M1335.9 297.4h0M1254.9 428.6h0M1205.1 320.3h0M1530.3 430.4h0M1479.4 417h0M1459.7 297.5h0M1337.1 296.2h0M1172.7 457h0M1280.3 434h0M1513 322.8h0M1175 340.5h0M1326.6 308.6h0M1135.7 457.7h0M1132.2 455.9h0M1272.2 304.3h0M1443.5 311.2h0M1139.2 345.5h0M1157.7 456.7h0M1278 422.2h0M1392.6 304.9h0M1345.2 303.6h0M1151.9 437h0M1419.2 418.7h0M1289.6 314.4h0M1303.5 415.8h0M1271.1 309.5h0M1293.1 423.6h0M1156.5 341.8h0M1177.3 331.5h0M1552.3 348.9h0M1190.1 460h0M1238.7 432.1h0M1364.8 307.4h0M1269.9 422.5h0M1451.6 412.2h0M1455.1 412.3h0M1201.7 323.6h0M1148.4 456.5h0M1263 313h0M1178.5 455h0M1385.7 302h0M1143.8 455h0M1274.6 432.1h0M1511.8 319.9h0M1537.3 441.9h0M1355.6 411.3h0M1286.1 311.2h0M1294.2 428.4h0M1422.7 413.7h0M1523.4 437.7h0M1142.6 347.9h0M1287.3 316h0M1470.1 430.6h0M1348.6 421.2h0M1246.8 438.9h0M1493.3 421.8h0M1540.7 320h0M1207.4 447.1h0M1141.5 347.5h0M1502.6 310h0M1435.4 417.3h0M1243.3 442.2h0M1301.2 301.8h0M1349.8 305.8h0M1433.1 300.5h0M1160 343.4h0M1232.9 328.1h0M1341.7 415.1h0M1282.7 316.2h0M1518.8 321.5h0M1375.2 416.3h0M1518.8 424.9h0M1444.7 420.4h0M1135.7 343.4h0M1465.5 421.5h0M1148.4 357.6h0M1202.8 327.2h0M1419.2 294.9h0M1422.7 313h0M1232.9 434.8h0M1338.2 302.1h0M1423.9 421.1h0M1363.7 414.1h0M1260.7 432.5h0M1501.4 406.4h0M1317.4 304.9h0M1464.4 421.9h0M1230.6 329h0M1210.9 439.9h0M1320.9 422.2h0M1228.3 331.2h0M1283.8 428.3h0M1166.9 350.4h0M1551.2 439.9h0M1169.2 348.2h0M1471.3 300.1h0M1185.5 338.8h0M1195.9 447.5h0M1447 424.5h0M1184.3 339.8h0M1200.5 457.2h0M1242.2 334.9h0M1214.4 454.4h0M1227.1 333.1h0M1278 311.1h0M1482.9 428.9h0M1313.9 420.5h0M1405.3 413.2h0M1298.9 421.6h0M1506 419.4h0M1443.5 415.2h0M1183.1 449.5h0M1198.2 324h0M1474.8 300.6h0M1227.1 443.3h0M1301.2 421.1h0M1331.3 291.5h0M1154.2 344.8h0M1323.2 304.3h0M1212.1 445.9h0M1469 441.9h0M1401.9 304.8h0M1161.1 453.2h0M1300 411.2h0M1267.6 314h0M1532.6 433.9h0M1259.5 322.8h0M1386.8 423.7h0M1470.1 308.6h0M1257.2 435.1h0M1484 422.9h0M1171.6 455.1h0M1322 302.1h0M1194.7 334.1h0M1450.5 295.7h0M1460.9 413.6h0M1345.2 417.5h0M1397.2 401.5h0M1133.4 345h0M1531.5 428.4h0M1322 414h0M1206.3 325.8h0M1288.5 427.2h0M1311.6 413.6h0M1164.6 453.4h0M1192.4 447.1h0M1489.8 308.9h0M1432 299.3h0M1162.3 339.1h0M1449.3 417.3h0M1396.1 301.7h0M1288.5 323.6h0M1190.1 327h0M1247.9 439.3h0M1143.8 342.1h0M1448.2 308.3h0M1320.9 308.4h0M1149.6 355.5h0" stroke="#FA6014" stroke-width="7.2" stroke-linecap="round" fill="none"/>
<path d="M1313.9 447h0M1163.5 469.3h0M1433.1 450.1h0M1410 450.5h0M1346.3 352.3h0M1282.7 341.1h0M1332.4 451.5h0M1250.3 354.1h0M1143.8 368.1h0M1223.6 488.8h0M1546.5 469.4h0M1334.7 319.3h0M1339.4 437.3h0M1204 483.4h0M1318.5 439.3h0M1537.3 358.2h0M1158.8 473.3h0M1348.6 347.3h0M1283.8 374.8h0M1261.8 457.2h0M1346.3 451.7h0M1322 341.2h0M1462 349.6h0M1268.8 448h0M1507.2 453.8h0M1202.8 483h0M1401.9 434.2h0M1322 453.8h0M1465.5 443.9h0M1244.5 486.4h0M1162.3 356.7h0M1370.6 340.6h0M1530.3 451.4h0M1231.7 358h0M1418.1 335.7h0M1450.5 339.4h0M1158.8 371.2h0M1209.8 484.3h0M1463.2 447.7h0M1420.4 437.2h0M1330.1 331.6h0M1523.4 342.2h0M1300 346.9h0M1480.6 444.6h0M1337.1 321.4h0M1511.8 345.2h0M1172.7 366.1h0M1550 358h0M1173.9 372.8h0M1518.8 339.7h0M1415.8 434.3h0M1327.8 338.1h0M1389.1 441.9h0M1531.5 360.5h0M1320.9 329.6h0M1356.7 338h0M1414.6 342.6h0M1331.3 492.4h0M1479.4 358.8h0M1198.2 374h0M1425 344.6h0M1305.8 441.4h0M1241 358.7h0M1212.1 486.8h0M1312.8 443.9h0M1182 475.9h0M1416.9 334.8h0M1382.2 441.5h0M1224.8 474h0M1400.7 344.3h0M1281.5 343.8h0M1193.6 363.6h0M1532.6 361.4h0M1304.7 347h0M1280.3 458.6h0M1290.8 345.5h0M1433.1 344.4h0M1271.1 349.5h0M1538.4 353.5h0M1368.3 436.7h0M1316.2 337.1h0M1341.7 440.9h0M1533.8 476.8h0M1435.4 440.4h0M1438.9 340.4h0M1338.2 447.7h0M1405.3 343.3h0M1151.9 369.8h0M1164.6 371.5h0M1253.7 381.1h0M1287.3 464.4h0M1451.6 331.2h0M1179.7 479.5h0M1393.8 446.3h0M1432 449.8h0M1287.3 341.5h0M1459.7 359.7h0M1405.3 479.7h0M1428.5 446h0M1207.4 360.9h0M1183.1 474.5h0M1485.2 360.3h0M1460.9 339.1h0M1271.1 462.8h0M1232.9 354.7h0M1367.1 330.7h0M1254.9 365.5h0M1383.3 456.5h0M1236.4 464.2h0M1227.1 350.1h0M1355.6 334.9h0M1385.7 322.9h0M1253.7 475.3h0M1228.3 472.7h0M1540.7 468.8h0M1366 333.7h0M1370.6 441.3h0M1213.2 482.5h0M1371.8 435h0M1374.1 440h0M1407.7 440.4h0M1246.8 356.4h0M1355.6 451.6h0M1348.6 452.8h0M1471.3 438h0M1525.7 459.3h0M1368.3 342h0M1206.3 470.8h0M1350.9 445.4h0M1151.9 464.3h0M1135.7 375.7h0M1434.3 353.7h0M1513 446h0M1469 350.1h0M1412.3 446.9h0M1516.4 346.4h0M1229.4 484.4h0M1131.1 364.1h0M1422.7 444.3h0M1209.8 373.1h0M1143.8 464.4h0M1347.5 446.4h0M1444.7 441h0M1425 447.7h0M1326.6 335.9h0M1319.7 333.8h0M1216.7 484.8h0M1372.9 333.4h0M1237.5 465.1h0M1364.8 441.2h0M1470.1 341.3h0M1466.7 334.7h0M1388 440.2h0M1384.5 442.4h0M1491 443.1h0M1552.3 460.9h0M1543.1 493.9h0M1251.4 474.6h0M1341.7 339.5h0M1528 347.2h0M1201.7 471.8h0M1361.4 330.5h0M1169.2 476.2h0M1552.3 346.3h0M1408.8 448.3h0M1514.1 340.9h0M1247.9 473.2h0M1338.2 318.9h0M1319.7 441.1h0M1414.6 444.7h0M1195.9 484.4h0M1423.9 454.4h0M1386.8 438.7h0M1228.3 349.8h0M1294.2 457.2h0M1273.4 459.4h0M1184.3 364.7h0M1475.9 343.9h0M1305.8 352.1h0M1288.5 479.2h0M1155.4 365.9h0M1161.1 360.4h0M1506 453h0M1193.6 479.9h0M1455.1 330.5h0M1399.6 344.7h0M1213.2 377.6h0M1371.8 345.6h0M1362.5 328.5h0M1315.1 444h0M1261.8 360.3h0M1506 348.5h0M1256 463.7h0M1523.4 452.2h0M1375.2 452h0M1391.4 325.6h0M1493.3 444.4h0M1486.3 445.5h0M1457.4 338.4h0M1166.9 366.7h0M1242.2 354.9h0M1526.9 454.5h0M1356.7 446.8h0M1309.3 446.5h0M1537.3 460.9h0M1369.5 443.2h0M1500.2 454.9h0M1200.5 375.9h0M1396.1 334.9h0M1265.3 351.7h0M1437.7 433.8h0M1188.9 480.5h0M1488.7 340.1h0M1149.6 466.8h0M1166.9 466.2h0M1360.2 322h0M1529.2 454.9h0M1342.8 339.1h0M1485.2 441.4h0M1205.1 368.5h0M1149.6 361.9h0M1381 326.5h0M1170.4 471.8h0M1169.2 356.3h0M1354.4 449h0M1135.7 489.2h0M1252.6 470.9h0M1136.8 363.6h0M1482.9 346.9h0M1502.6 456.7h0M1441.2 342.5h0M1327.8 440.8h0M1146.1 465.6h0M1335.9 449.3h0M1141.5 374.3h0M1449.3 431.3h0M1450.5 461.4h0M1357.9 335.9h0M1541.9 472.5h0M1465.5 346.2h0M1389.1 337.7h0M1310.4 335.3h0M1344 441.6h0M1220.2 363.9h0" stroke="#0F7DC2" stroke-width="7.2" stroke-linecap="round" fill="none"/>
<path d="M1344 410h0M1484 322.8h0M1140.3 455.2h0M1170.4 447.5h0M1509.5 419.4h0M1538.4 326.7h0M1516.4 316.6h0M1251.4 435.6h0M1406.5 413.9h0M1488.7 317.1h0M1540.7 432.6h0M1535 427.7h0M1354.4 304h0M1304.7 412h0M1221.3 449.9h0M1347.5 306.3h0M1504.9 313.2h0M1185.5 458.3h0M1188.9 334.2h0M1150.7 341.7h0M1305.8 304.2h0M1214.4 337.7h0M1329 305.3h0M1138 456.6h0M1236.4 432.2h0M1403 403.3h0M1411.1 416.8h0M1253.7 316.9h0M1440.1 301.1h0M1224.8 327.2h0M1325.5 309.8h0M1195.9 340h0M1388 432.2h0M1378.7 416.4h0M1212.1 325.9h0M1279.2 306.8h0M1442.4 308h0M1217.9 334.3h0M1153 346.8h0M1508.3 309.9h0M1169.2 453.3h0M1404.2 299.3h0M1515.3 323.7h0M1357.9 300.3h0M1293.1 300.6h0M1261.8 320.4h0M1503.7 306.9h0M1308.1 414.1h0M1525.7 310.9h0M1215.5 339.7h0M1478.2 305.7h0M1384.5 294.2h0M1332.4 302h0M1459.7 413.1h0M1495.6 307.7h0M1348.6 305.7h0M1244.5 432.5h0M1241 432.1h0M1250.3 313.1h0M1254.9 322.7h0M1184.3 442.8h0M1437.7 418.5h0M1482.9 311.8h0M1239.8 426.8h0M1237.5 437.3h0M1399.6 405.2h0M1324.3 415.7h0M1142.6 458.1h0M1309.3 415.5h0M1517.6 421.4h0M1356.7 414.7h0M1136.8 456.8h0M1274.6 303.1h0M1425 423.7h0M1333.6 308.5h0M1297.7 428.8h0M1407.7 312h0M1532.6 327h0M1408.8 420.3h0M1467.8 310.4h0M1199.3 461.1h0M1179.7 336.7h0M1146.1 351.9h0M1393.8 418.9h0M1204 440.5h0M1304.7 303.4h0M1198.2 450.6h0M1281.5 425.2h0M1200.5 322.4h0M1477.1 308.3h0M1412.3 416.5h0M1330.1 294.7h0M1506 315.4h0M1263 424.3h0M1441.2 417.3h0M1516.4 413.4h0M1173.9 336.5h0M1352.1 294.9h0M1338.2 416.5h0M1450.5 408.7h0M1386.8 303.1h0M1522.2 436.9h0M1453.9 410.3h0M1388 304.2h0M1269.9 315.8h0M1332.4 406.9h0M1238.7 333.5h0M1286.1 409.4h0M1206.3 443.4h0M1398.4 411.8h0M1280.3 309.8h0M1221.3 325.2h0M1222.5 332.5h0M1471.3 430.7h0M1485.2 325.2h0M1552.3 426.1h0M1492.1 315.7h0M1353.3 413.1h0M1239.8 334.6h0M1361.4 304.5h0M1475.9 422h0M1350.9 298h0M1144.9 445.4h0M1349.8 424.1h0M1455.1 302.8h0M1258.4 319.8h0M1285 317.3h0M1509.5 311.7h0M1379.9 421.5h0M1323.2 404.3h0M1528 430.6h0M1499.1 308.9h0M1428.5 420.9h0M1191.2 467.2h0M1289.6 430.9h0M1469 308.7h0M1539.6 323.4h0M1362.5 302.9h0M1383.3 303.5h0M1449.3 305.2h0M1312.8 426.3h0M1168.1 451.6h0M1275.7 427.1h0M1335.9 404.5h0M1427.3 306.8h0M1389.1 423.4h0M1371.8 313.7h0M1217.9 455.2h0M1481.7 306.7h0M1194.7 445.5h0M1495.6 422.8h0M1246.8 321.7h0M1339.4 308.4h0M1157.7 348.8h0M1131.1 453.2h0M1434.3 310.7h0M1339.4 421.2h0M1416.9 294.3h0M1261.8 422.3h0M1385.7 417.6h0M1460.9 299.4h0M1403 298.3h0M1507.2 416.7h0M1245.6 330.4h0M1297.7 321.6h0M1472.5 419.7h0M1418.1 426.7h0M1537.3 330.4h0M1229.4 327.8h0M1494.4 308.5h0M1144.9 338.6h0M1324.3 310.3h0M1382.2 309.2h0M1508.3 424.9h0M1357.9 409.6h0M1170.4 350h0M1177.3 464.4h0M1463.2 306.7h0M1350.9 414.5h0M1487.5 318.4h0M1507.2 315.1h0M1425 302.8h0M1406.5 317.7h0M1192.4 336.3h0M1430.8 303.7h0M1524.5 317.7h0M1151.9 352h0M1369.5 413.8h0M1283.8 315.3h0M1223.6 333h0M1411.1 314.9h0M1366 308.3h0M1504.9 417.4h0M1410 417.6h0M1408.8 311h0M1541.9 327.2h0M1397.2 304.4h0M1377.6 412.6h0M1219 320.9h0M1378.7 303.9h0M1230.6 442.9h0M1318.5 416.7h0M1146.1 451.1h0M1447 307.9h0M1526.9 428.1h0M1252.6 434.6h0M1188.9 467.4h0M1437.7 295.9h0M1381 303.4h0M1526.9 308.7h0M1538.4 436.1h0M1367.1 309h0M1290.8 425.4h0M1416.9 421.2h0M1423.9 309.7h0M1273.4 425.7h0M1510.7 420.3h0M1183.1 340.4h0M1496.8 419.3h0M1481.7 425.9h0M1158.8 333.1h0M1551.2 337.9h0M1133.4 443.3h0M1410 304.5h0M1204 334.5h0M1514.1 430.2h0M1362.5 417.4h0M1517.6 321h0M1340.5 410.2h0M1153 453.1h0M1529.2 429.1h0M1548.8 339.2h0M1491 308h0M1199.3 325.4h0M1545.4 437.8h0M1310.4 416.3h0M1377.6 305.5h0M1398.4 293.2h0M1436.6 304.1h0M1316.2 418.7h0M1247.9 312.9h0M1382.2 424.7h0M1494.4 418.8h0M1256 428.2h0" stroke="#FA6014" stroke-width="7.2" stroke-linecap="round" fill="none"/>
<defs><path id="L02omax" d="M1131.1 345.8 L1140.4 344.6 L1149.8 343.4 L1159.1 342.1 L1168.5 340.7 L1177.9 339.1 L1187.2 337.4 L1196.6 335.4 L1205.9 333.2 L1215.3 330.9 L1224.7 328.4 L1234.0 325.8 L1243.4 323.1 L1252.8 320.4 L1262.1 317.6 L1271.5 315.0 L1280.8 312.5 L1290.2 310.3 L1299.6 308.5 L1308.9 307.0 L1318.3 306.0 L1327.6 305.3 L1337.0 304.7 L1346.4 304.2 L1355.7 303.7 L1365.1 303.1 L1374.5 302.3 L1383.8 301.5 L1393.2 300.8 L1402.5 300.2 L1411.9 300.0 L1421.3 300.2 L1430.6 300.9 L1440.0 302.0 L1449.3 303.5 L1458.7 305.2 L1468.1 307.2 L1477.4 309.2 L1486.8 311.4 L1496.1 313.7 L1505.5 316.2 L1514.9 319.1 L1524.2 322.4 L1533.6 326.2 L1543.0 330.6 L1552.3 335.3"/></defs>
<use href="#L02omax" stroke="#FA6014" stroke-opacity="0.35" stroke-width="8" fill="none" stroke-linejoin="round"/>
<use href="#L02omax" stroke="#FA6014" stroke-width="4.3" fill="none" stroke-linejoin="round"/>
<defs><path id="L02omin" d="M1131.1 450.2 L1140.4 451.2 L1149.8 452.1 L1159.1 452.8 L1168.5 453.1 L1177.9 453.0 L1187.2 452.3 L1196.6 451.0 L1205.9 449.1 L1215.3 446.7 L1224.7 444.0 L1234.0 441.0 L1243.4 437.9 L1252.8 434.7 L1262.1 431.6 L1271.5 428.6 L1280.8 425.8 L1290.2 423.3 L1299.6 421.0 L1308.9 419.2 L1318.3 417.7 L1327.6 416.5 L1337.0 415.6 L1346.4 414.9 L1355.7 414.4 L1365.1 413.9 L1374.5 413.5 L1383.8 413.2 L1393.2 413.1 L1402.5 413.2 L1411.9 413.5 L1421.3 414.0 L1430.6 414.9 L1440.0 416.0 L1449.3 417.2 L1458.7 418.4 L1468.1 419.7 L1477.4 420.9 L1486.8 422.0 L1496.1 423.1 L1505.5 424.5 L1514.9 426.4 L1524.2 428.9 L1533.6 432.3 L1543.0 436.6 L1552.3 441.6"/></defs>
<use href="#L02omin" stroke="#FA6014" stroke-opacity="0.35" stroke-width="8" fill="none" stroke-linejoin="round"/>
<use href="#L02omin" stroke="#FA6014" stroke-width="4.3" fill="none" stroke-linejoin="round"/>
<defs><path id="L02bmax" d="M1131.1 368.6 L1140.4 367.6 L1149.8 366.6 L1159.1 365.7 L1168.5 364.8 L1177.9 364.0 L1187.2 363.2 L1196.6 362.5 L1205.9 361.7 L1215.3 360.9 L1224.7 360.0 L1234.0 358.8 L1243.4 357.4 L1252.8 355.6 L1262.1 353.5 L1271.5 351.2 L1280.8 348.9 L1290.2 346.5 L1299.6 344.1 L1308.9 342.0 L1318.3 340.1 L1327.6 338.4 L1337.0 336.9 L1346.4 335.8 L1355.7 335.0 L1365.1 334.4 L1374.5 334.2 L1383.8 334.3 L1393.2 334.6 L1402.5 335.2 L1411.9 336.0 L1421.3 337.1 L1430.6 338.3 L1440.0 339.6 L1449.3 341.0 L1458.7 342.5 L1468.1 344.0 L1477.4 345.4 L1486.8 346.7 L1496.1 347.9 L1505.5 348.9 L1514.9 349.7 L1524.2 350.3 L1533.6 350.6 L1543.0 350.6 L1552.3 350.5"/></defs>
<use href="#L02bmax" stroke="#0F7DC2" stroke-opacity="0.35" stroke-width="8" fill="none" stroke-linejoin="round"/>
<use href="#L02bmax" stroke="#0F7DC2" stroke-width="4.3" fill="none" stroke-linejoin="round"/>
<defs><path id="L02bmin" d="M1131.1 468.6 L1140.4 469.7 L1149.8 470.7 L1159.1 471.7 L1168.5 472.7 L1177.9 473.5 L1187.2 474.2 L1196.6 474.6 L1205.9 474.9 L1215.3 474.7 L1224.7 474.1 L1234.0 472.9 L1243.4 471.1 L1252.8 468.5 L1262.1 465.4 L1271.5 461.9 L1280.8 458.3 L1290.2 454.8 L1299.6 451.7 L1308.9 449.2 L1318.3 447.4 L1327.6 446.1 L1337.0 445.2 L1346.4 444.6 L1355.7 444.1 L1365.1 443.7 L1374.5 443.2 L1383.8 442.7 L1393.2 442.2 L1402.5 441.8 L1411.9 441.5 L1421.3 441.3 L1430.6 441.3 L1440.0 441.5 L1449.3 441.8 L1458.7 442.4 L1468.1 443.1 L1477.4 444.1 L1486.8 445.4 L1496.1 446.9 L1505.5 448.8 L1514.9 451.1 L1524.2 453.9 L1533.6 457.1 L1543.0 460.9 L1552.3 464.9"/></defs>
<use href="#L02bmin" stroke="#0F7DC2" stroke-opacity="0.35" stroke-width="8" fill="none" stroke-linejoin="round"/>
<use href="#L02bmin" stroke="#0F7DC2" stroke-width="4.3" fill="none" stroke-linejoin="round"/>
<rect x="1600.3" y="233.1" width="462.6" height="472.8" fill="#fff" stroke="#ADADAD" stroke-width="2.2"/>
<g stroke="#fff"><path d="M1619.2 232.0V707.0" stroke-width="5.8"/><path d="M1677.1 232.0V707.0" stroke-width="2.9"/><path d="M1734.9 232.0V707.0" stroke-width="5.8"/><path d="M1792.8 232.0V707.0" stroke-width="2.9"/><path d="M1850.7 232.0V707.0" stroke-width="5.8"/><path d="M1908.5 232.0V707.0" stroke-width="2.9"/><path d="M1966.4 232.0V707.0" stroke-width="5.8"/><path d="M2024.3 232.0V707.0" stroke-width="2.9"/><path d="M1599.2 656.2H2064.0" stroke-width="2.9"/><path d="M1599.2 589.8H2064.0" stroke-width="5.8"/><path d="M1599.2 523.3H2064.0" stroke-width="2.9"/><path d="M1599.2 456.9H2064.0" stroke-width="5.8"/><path d="M1599.2 390.4H2064.0" stroke-width="2.9"/><path d="M1599.2 324.0H2064.0" stroke-width="5.8"/><path d="M1599.2 257.5H2064.0" stroke-width="2.9"/></g>
<path d="M1829.8 416.2h0M1629.6 356h0M1978 318.5h0M1956 433.6h0M2023.1 333.2h0M1887.7 405.9h0M1854.1 415h0M1876.1 406.2h0M1815.9 420.6h0M1787 326h0M1640 460.9h0M1820.6 312.7h0M1753.4 333.6h0M1798.6 310.8h0M1729.1 442.9h0M2020.8 449.2h0M1645.8 349.2h0M1753.4 447h0M1917.8 401.6h0M2038.1 338.8h0M2039.3 471.3h0M1939.8 306.6h0M1663.2 353.2h0M1776.6 425.5h0M1814.8 319.7h0M1843.7 308h0M1724.5 337.7h0M2003.4 331.6h0M2001.1 426.1h0M1870.3 304.2h0M1881.9 304.8h0M1893.5 314.9h0M1817.1 312.4h0M1832.1 321.4h0M1960.6 423.5h0M1767.3 301.5h0M1762.7 334.6h0M1763.9 445.6h0M1820.6 418.2h0M1928.2 403.2h0M1625 351.7h0M1856.4 305.3h0M1959.4 430h0M1679.4 336h0M1736.1 440.7h0M1811.3 318h0M1634.2 349.2h0M1863.4 427.8h0M1638.9 457.9h0M1672.4 349.6h0M1677.1 460.7h0M1969.9 429.5h0M1892.3 417.4h0M1803.2 310.3h0M1916.6 320.1h0M1974.5 434.9h0M1950.2 326.1h0M2025.4 343.8h0M1787 437.6h0M1850.7 422.6h0M1750 434.7h0M1636.6 459.2h0M1685.2 452.5h0M1812.5 319.1h0M1726.8 346h0M1913.2 315.9h0M1989.5 332h0M1746.5 455.5h0M1666.6 353h0M1744.2 441.4h0M1797.4 425h0M1897 426.6h0M1843.7 424.4h0M1886.5 303.7h0M1796.3 433h0M1862.2 305.9h0M1730.3 339.2h0M1762.7 441.5h0M1922.4 304.2h0M2008.1 310h0M1700.2 442.3h0M1669 350.8h0M1681.7 455.6h0M1804.4 327.1h0M2040.5 338.1h0M1907.4 305.8h0M1724.5 442.7h0M1684 441h0M1633.1 505.4h0M1840.2 305.5h0M1641.2 350.2h0M1931.7 306.2h0M1652.8 338.7h0M1826.4 312h0M1652.8 447.8h0M1964.1 311.5h0M1677.1 345.5h0M2010.4 439.3h0M1866.9 412.3h0M2021.9 450.6h0M1728 333.9h0M1768.5 426.5h0M1642.3 496.8h0M1929.4 408.1h0M1868 417.8h0M1657.4 358h0M2024.3 335.1h0M1791.6 437.1h0M1875 410.2h0M1702.5 343.9h0M1707.2 453.5h0M1761.5 430h0M1662 442.3h0M1885.4 302.1h0M1968.7 425.1h0M1976.8 318.2h0M1693.3 351.5h0M1794 421.3h0M1761.5 335.3h0M1950.2 438.2h0M1667.8 447.2h0M2040.5 468.2h0M1995.3 429.7h0M1709.5 328.8h0M1975.6 327.2h0M1936.3 428.4h0M1733.8 339.4h0M1846 416.5h0M2030 452.7h0M2015 441.6h0M1699.1 353.8h0M1669 445.9h0M1877.3 300.9h0M1957.1 418.5h0M1678.2 332h0M1966.4 427.6h0M2035.8 333.9h0M2026.6 441.5h0M1834.5 304.6h0M1769.6 315.3h0M1894.6 421.3h0M1692.1 354.7h0M2013.8 446.6h0M1979.1 324.1h0M1923.6 420.4h0M1864.5 416.7h0M1718.7 431.9h0M1701.4 448.2h0M1679.4 456.5h0M1702.5 444.4h0M1908.5 309.6h0M1759.2 420.6h0M1696.7 446.2h0M1938.6 312.9h0M1995.3 335.5h0M1921.3 298h0M2033.5 450.8h0M1803.2 425.1h0M1781.2 331.1h0M1664.3 453.9h0M1648.1 346.3h0M1658.5 451.6h0M1637.7 353.3h0M1799.7 312.4h0M1973.3 427.8h0M1704.8 351.3h0M1722.2 447.5h0M1709.5 446.6h0M1662 356.4h0M1980.3 430.2h0M1831 411.3h0M1993 437.7h0M2005.7 337.2h0M1772 319.6h0M1906.2 419.9h0M1848.3 323.9h0M1824 313.6h0M1743 440.5h0M1718.7 334.2h0M1827.5 419.6h0M1810.2 318.7h0M1789.3 430.3h0M1967.5 415.8h0M1910.8 312.9h0M1952.5 416.3h0M1807.8 423.8h0M1731.5 328h0M1973.3 326.6h0M1897 335.9h0M1869.2 409h0M1752.3 340.2h0M1975.6 438.5h0M1791.6 342.7h0M1937.5 418.6h0M1728 434.3h0M1710.6 330.3h0M1840.2 422.7h0M1866.9 315h0M1957.1 325h0M1982.6 431.2h0M1734.9 440.5h0M2031.2 339.7h0M1888.9 316.7h0M1710.6 442.3h0M1961.8 329.4h0M2027.7 443.2h0M1947.9 317.8h0M1692.1 435.3h0M1776.6 344.4h0M2033.5 337.5h0M1831 319.6h0M1655.1 335.1h0M1671.3 458.7h0M1653.9 449.6h0M1659.7 357.1h0M1794 319.1h0M1914.3 406.8h0M1836.8 414h0M1682.9 347h0M2002.3 331.9h0M1988.4 429h0M1806.7 325.9h0M1688.6 342.9h0M1781.2 427h0M1998.8 430.9h0M1760.4 333h0M1725.7 439.3h0M1819.4 301.3h0M1782.4 330.2h0M1850.7 310.4h0M1965.2 443.1h0M1880.7 411.3h0M1774.3 425.7h0M1903.9 306.5h0M1754.6 440.3h0M1711.8 334.9h0M1998.8 325.2h0M1681.7 332.9h0M1740.7 341.5h0M1804.4 433.6h0M1684 356.6h0M1756.9 330.1h0M1699.1 440.8h0M1907.4 427h0M1945.6 315.5h0" stroke="#0F7DC2" stroke-width="7.2" stroke-linecap="round" fill="none"/>
<path d="M1722.2 350.9h0M1718.7 353.9h0M1736.1 442.6h0M1717.6 361.3h0M1807.8 311h0M1691 464.2h0M1766.2 431.4h0M1840.2 411.1h0M1901.6 404.9h0M1631.9 371.4h0M1629.6 456.4h0M1787 320.3h0M2002.3 341.4h0M1837.9 289.9h0M1718.7 447.9h0M1627.3 465.3h0M2025.4 431.9h0M1702.5 440.8h0M1762.7 336.5h0M1782.4 425.7h0M1842.6 290.9h0M1790.5 319.2h0M1868 310.3h0M1827.5 288.2h0M1704.8 346.1h0M1697.9 347.1h0M1927 307.4h0M1858.8 422.1h0M1892.3 398.5h0M1728 437.5h0M1820.6 312.7h0M1883.1 406.5h0M2040.5 458.6h0M1894.6 415.8h0M1922.4 401.4h0M1625 358.6h0M2001.1 344.2h0M1822.9 310.8h0M2038.1 348.5h0M1871.5 406.3h0M1809 309.4h0M1980.3 327.4h0M1701.4 440.3h0M1626.1 352.7h0M1769.6 429.6h0M1643.5 453.1h0M1726.8 427.3h0M1878.4 401.1h0M1755.8 438.9h0M1984.9 436h0M1700.2 356.3h0M1784.7 306.3h0M1714.1 339.5h0M1914.3 419.8h0M1692.1 346.8h0M1686.3 444.2h0M1684 454.7h0M1704.8 456.7h0M2013.8 427.7h0M1662 347.7h0M1888.9 407.1h0M1981.4 317.9h0M1795.1 413.5h0M1983.7 316.3h0M2026.6 352.4h0M1721 351h0M1752.3 433.6h0M1832.1 309.1h0M1954.8 412.6h0M1893.5 397.7h0M2040.5 359.8h0M1834.5 417.7h0M1723.4 340.2h0M2035.8 355.2h0M1710.6 339.6h0M1930.5 404.7h0M1905.1 305.4h0M1662 452.6h0M1910.8 306.8h0M1950.2 406.5h0M1781.2 409.3h0M1641.2 463.9h0M1906.2 409.7h0M1806.7 312.9h0M1754.6 324.4h0M1652.8 445.2h0M1848.3 306.5h0M1765 433.5h0M1814.8 406.6h0M1665.5 348.2h0M1777.8 313h0M1972.2 324.6h0M1694.4 362.3h0M1902.7 413.3h0M1866.9 312.1h0M1697.9 444.4h0M1744.2 321.4h0M1848.3 400.8h0M1763.9 437.7h0M1962.9 321.2h0M1988.4 421.9h0M2004.6 334.8h0M1982.6 428.8h0M1734.9 436.4h0M1907.4 296h0M1765 324.5h0M1660.9 447.8h0M1978 414.2h0M1724.5 341.7h0M1849.5 402.8h0M1835.6 406.9h0M1717.6 456.1h0M1815.9 412.7h0M1725.7 445.8h0M1899.3 409.9h0M1986.1 331.1h0M2039.3 360.9h0M1947.9 399.3h0M2012.7 430.3h0M1794 422h0M1921.3 403.1h0M1925.9 415.7h0M1866.9 411.7h0M1707.2 440.2h0M1989.5 419h0M1770.8 321.5h0M1912 307.1h0M1913.2 431.7h0M1693.3 450.4h0M2030 342.7h0M1849.5 307.9h0M1901.6 310h0M1916.6 317.9h0M1836.8 400.6h0M1798.6 324.5h0M1953.7 406.3h0M1667.8 465.6h0M1695.6 446.4h0M1979.1 314.2h0M1743 339.4h0M1741.9 431.5h0M1818.3 422.8h0M1862.2 412.2h0M1971 320h0M1768.5 314.3h0M1692.1 446.5h0M1998.8 334.2h0M2005.7 444.5h0M1880.7 401.9h0M1914.3 310.8h0M1679.4 352.6h0M2018.5 433.7h0M1954.8 318.9h0M1760.4 339h0M1737.2 337.7h0M1693.3 354.6h0M1714.1 451.3h0M2015 337.2h0M1709.5 334.5h0M1781.2 319.2h0M1784.7 409.8h0M1826.4 289.9h0M1795.1 319.5h0M1644.7 461.9h0M1734.9 339.6h0M1703.7 448.5h0M1996.5 435.4h0M1952.5 405.7h0M1900.4 302.7h0M1959.4 332.1h0M1917.8 417.5h0M1743 428.3h0M1724.5 433.9h0M1731.5 429.2h0M1812.5 408.9h0M2010.4 424.4h0M1687.5 348.2h0M1916.6 419.2h0M1917.8 310.2h0M1738.4 336.9h0M1973.3 429.6h0M2041.6 451.7h0M1930.5 301.8h0M1694.4 436.9h0M1956 410h0M1974.5 317.4h0M2004.6 433.2h0M1762.7 436.3h0M1928.2 412.1h0M2012.7 343.8h0M1944.4 330.3h0M1792.8 318.7h0M1924.7 318.1h0M1967.5 313.7h0M1929.4 398.7h0M1666.6 352.2h0M1627.3 347.3h0M2031.2 443.2h0M1770.8 434h0M1927 417.9h0M1760.4 438.7h0M1688.6 457.8h0M1748.8 334.7h0M1895.8 306.2h0M2039.3 455.2h0M1635.4 367.3h0M1960.6 317.8h0M1893.5 303.9h0M1846 391.8h0M1938.6 401.9h0M1966.4 326.6h0M1957.1 328.2h0M1737.2 433.9h0M1986.1 428.1h0M1879.6 313.9h0M1918.9 307.1h0M1942.1 397.3h0M1958.3 332.2h0M1633.1 365.5h0M1824 396.6h0M2009.2 329.2h0M1686.3 352.7h0M1847.2 296.7h0M1898.1 413.9h0M1903.9 303h0M1929.4 293.5h0M1962.9 424.1h0M1903.9 422h0M1629.6 365h0M2018.5 335.8h0M1960.6 433.7h0M1836.8 293.4h0M1827.5 414.8h0M1975.6 327.7h0M1739.6 426.8h0M1932.8 403.3h0M1989.5 333.3h0M2021.9 436.4h0M1890 309.9h0M1939.8 301.8h0M1750 434.8h0M1851.8 412.8h0M1922.4 303.2h0" stroke="#FA6014" stroke-width="7.2" stroke-linecap="round" fill="none"/>
<path d="M2032.4 349.7h0M1959.4 318.4h0M2031.2 455.2h0M1997.6 423.4h0M1731.5 439.2h0M1988.4 327.4h0M2041.6 336.7h0M1943.2 305.2h0M1987.2 426.6h0M2038.1 453.9h0M1835.6 417h0M1768.5 303.3h0M1648.1 494h0M1758.1 436.5h0M1680.5 453.7h0M1953.7 420.3h0M2030 352.8h0M1879.6 401.7h0M1719.9 438.2h0M1785.9 320.3h0M1895.8 328.7h0M2037 335.3h0M1841.4 300h0M1656.2 332.9h0M1996.5 436.3h0M1800.9 313.8h0M1795.1 311.9h0M1915.5 397.7h0M2004.6 333.9h0M1671.3 347h0M1836.8 316.9h0M2000 431.7h0M1906.2 308.1h0M1987.2 319.4h0M1826.4 404.8h0M1645.8 455.8h0M1945.6 421.1h0M1785.9 437h0M1814.8 421.7h0M2026.6 347.5h0M1991.9 335.6h0M1712.9 448.9h0M1997.6 322.2h0M1672.4 451.7h0M1972.2 430h0M1942.1 415.2h0M1656.2 445.8h0M1770.8 430.9h0M1686.3 448.1h0M1870.3 399.6h0M1923.6 311.8h0M1859.9 294.9h0M1924.7 318.2h0M1752.3 438.2h0M1697.9 438.8h0M1886.5 410.6h0M1909.7 425.8h0M1914.3 324.4h0M1958.3 418.3h0M1844.9 320.4h0M2016.2 444.6h0M2039.3 341.7h0M1623.8 465.9h0M1739.6 337.3h0M1944.4 430.5h0M1930.5 417.3h0M1969.9 326h0M1666.6 457.1h0M1898.1 414.4h0M1989.5 442h0M1961.8 423.8h0M1673.6 451.8h0M1706 351.4h0M1891.2 416h0M1704.8 452.6h0M2000 338.5h0M1723.4 438.7h0M1744.2 323.6h0M1855.3 423.4h0M1748.8 336.7h0M1879.6 309.2h0M1962.9 418.4h0M1847.2 315.3h0M1806.7 419.4h0M1767.3 432h0M1675.9 457.3h0M1660.9 449.5h0M1929.4 312.1h0M2037 467.3h0M1745.3 441.2h0M1638.9 349.5h0M1647 452.3h0M1643.5 448.3h0M1714.1 442.3h0M1825.2 309.3h0M1833.3 426.2h0M1981.4 323.7h0M1802.1 415.1h0M1908.5 434.4h0M1663.2 448.5h0M1788.2 431.8h0M1751.1 342.7h0M1865.7 312.3h0M1849.5 412.6h0M1763.9 329.2h0M1966.4 335.2h0M1984.9 325.4h0M2034.7 445.2h0M1664.3 357.4h0M1980.3 331.5h0M1630.8 450.6h0M1839.1 315.7h0M1946.7 316.2h0M2023.1 458.2h0M1872.6 293.7h0M1701.4 343.1h0M1979.1 434.4h0M1700.2 352.9h0M1809 418.4h0M1706 459.2h0M1946.7 428.1h0M2019.6 348.3h0M1949 427.2h0M1902.7 419.3h0M1822.9 316.5h0M1790.5 426.3h0M1766.2 312.9h0M1982.6 319.8h0M1905.1 429h0M1878.4 405.1h0M1773.1 429.4h0M1936.3 321.7h0M1634.2 462.7h0M1917.8 317.8h0M1849.5 313.8h0M1956 323.9h0M1770.8 329.3h0M1650.4 453.7h0M1881.9 411h0M1910.8 418.4h0M1784.7 330.4h0M1726.8 430.2h0M1717.6 438.7h0M1837.9 399.2h0M1868 312.4h0M1847.2 409.9h0M1853 418.2h0M1873.8 298.7h0M1902.7 319.7h0M1863.4 303.7h0M1792.8 430.4h0M1636.6 516.8h0M2017.3 445.1h0M1802.1 303h0M1780.1 326.3h0M1674.8 459.9h0M1878.4 299.5h0M1758.1 328.6h0M1861.1 312.6h0M1976.8 443.5h0M1798.6 417.7h0M1942.1 308.4h0M1828.7 319.4h0M2003.4 442.8h0M1990.7 336.8h0M2011.5 324.9h0M1960.6 313.4h0M2011.5 455.4h0M1873.8 407.7h0M2024.3 454.1h0M1983.7 332.9h0M1655.1 454h0M2006.9 436.2h0M1839.1 402.5h0M1972.2 324h0M1780.1 427.5h0M1939.8 405.9h0M1715.3 341.1h0M1857.6 298.3h0M1859.9 419.2h0M1971 429.3h0M1815.9 316.5h0M1986.1 426.5h0M1769.6 436.9h0M1682.9 457.8h0M1990.7 447.5h0M1725.7 339.1h0M2004.6 442.7h0M1738.4 338h0M1633.1 355.8h0M1631.9 360h0M1872.6 407.2h0M2028.9 354.9h0M1631.9 445.6h0M1653.9 339.9h0M1673.6 349.9h0M1747.7 334.6h0M2010.4 314.2h0M1964.1 435.4h0M1651.6 341.5h0M2028.9 442.5h0M1951.3 426.8h0M1912 311h0M1834.5 422h0M1729.1 342.9h0M2041.6 465.9h0M1877.3 410.7h0M1862.2 426.4h0M1626.1 456.6h0M1965.2 323.6h0M1927 317.5h0M1876.1 303.3h0M1869.2 302h0M2018.5 445.9h0M1817.1 413h0M2001.1 332.5h0M1630.8 349.7h0M2021.9 333h0M1737.2 340h0M1627.3 352.5h0M1871.5 406.9h0M1918.9 410.4h0M1818.3 305.7h0M1842.6 304.1h0M1711.8 453h0M1734.9 336.4h0M1721 336.5h0M1912 417.9h0M1857.6 425.2h0M1871.5 302h0M1821.7 320.5h0M1627.3 454.1h0M1651.6 439h0M1894.6 312.1h0M1891.2 316.2h0M1931.7 425.5h0M1818.3 422.3h0M1899.3 414h0M1750 346.4h0M1715.3 440.9h0M1918.9 316.3h0M1760.4 438.9h0M1778.9 326h0M1660.9 354.8h0M1951.3 324.6h0" stroke="#0F7DC2" stroke-width="7.2" stroke-linecap="round" fill="none"/>
<path d="M1877.3 311h0M1753.4 313.2h0M1641.2 353.5h0M1712.9 337.9h0M1887.7 309.5h0M1642.3 462h0M1834.5 292.7h0M1671.3 463.5h0M1672.4 352.8h0M2035.8 439.2h0M1728 340.2h0M1655.1 354.3h0M1656.2 355h0M1708.3 443h0M1924.7 403.4h0M2009.2 419.7h0M1751.1 437.7h0M1937.5 310.5h0M1890 406.4h0M2008.1 436h0M1716.4 452.2h0M2032.4 348.7h0M1628.5 458.3h0M1969.9 320.8h0M1850.7 425h0M1699.1 449h0M2000 332.9h0M1637.7 363.1h0M1747.7 338.8h0M2013.8 340.7h0M1753.4 432.3h0M1972.2 427h0M1966.4 405.2h0M1923.6 394.6h0M1913.2 311h0M2027.7 346.4h0M1865.7 292h0M2024.3 440.1h0M1835.6 297.6h0M1965.2 317.8h0M1828.7 404h0M1988.4 325.1h0M1787 425.9h0M1761.5 340.6h0M1745.3 429.3h0M1756.9 326.6h0M1853 405.1h0M1886.5 317.5h0M1637.7 459.3h0M1715.3 441.6h0M2032.4 436.7h0M1994.2 323h0M1976.8 426.9h0M1702.5 349.3h0M1951.3 314.6h0M1862.2 301.8h0M1825.2 284.8h0M1633.1 461h0M1696.7 443.1h0M1915.5 415.6h0M1744.2 424.6h0M1967.5 414.1h0M1869.2 303.1h0M1780.1 415.6h0M1964.1 412.9h0M1990.7 329.6h0M1821.7 397.2h0M1769.6 317.7h0M1909.7 318.8h0M2023.1 444.9h0M1859.9 293.5h0M1687.5 446.8h0M1659.7 364.1h0M1622.7 456.4h0M1730.3 331.9h0M1817.1 297.5h0M1675.9 358.1h0M1767.3 318.4h0M1829.8 292.8h0M1875 402.4h0M1875 306.7h0M1628.5 360.2h0M1814.8 309.9h0M1643.5 344.1h0M2033.5 351.1h0M1873.8 405.9h0M1809 408.7h0M1869.2 400.1h0M1932.8 314h0M1815.9 311.5h0M1677.1 355.4h0M1680.5 454.4h0M1910.8 414.8h0M2003.4 335.4h0M1748.8 440.1h0M1726.8 345.2h0M1983.7 435.9h0M1854.1 313.4h0M2010.4 340.6h0M1841.4 409.9h0M1885.4 310.2h0M1721 426.6h0M1729.1 332.7h0M1872.6 300.6h0M2011.5 425.1h0M1844.9 388.3h0M1752.3 330.7h0M1824 297.7h0M1673.6 349.5h0M1897 412h0M1636.6 450.6h0M1647 347.9h0M1631.9 454.5h0M1788.2 411h0M2034.7 349.4h0M2019.6 438.8h0M2020.8 433h0M1741.9 337.9h0M1673.6 460.5h0M1847.2 394.2h0M1908.5 309.2h0M1898.1 308.2h0M1675.9 460.3h0M1819.4 302.6h0M2000 417.8h0M2030 448.7h0M1645.8 462h0M1799.7 410.8h0M1798.6 406.6h0M1706 446.8h0M1891.2 315h0M1789.3 421h0M1799.7 327.3h0M1620.4 455.1h0M1755.8 325.9h0M1891.2 409.3h0M1773.1 424.3h0M2011.5 339.2h0M1652.8 365.2h0M1949 321.2h0M1839.1 293.2h0M1805.5 423.9h0M1881.9 306.3h0M1993 332.2h0M1671.3 349.3h0M1864.5 412.1h0M2037 437.7h0M1710.6 430.8h0M1980.3 427h0M1950.2 323.9h0M2025.4 351.3h0M1945.6 402.8h0M1843.7 401.2h0M1982.6 330.8h0M1785.9 411h0M1842.6 411.2h0M1993 418.9h0M1667.8 363.1h0M1701.4 358.4h0M1620.4 366.3h0M2024.3 345.3h0M1812.5 329.5h0M1931.7 403.6h0M1761.5 437.4h0M1921.3 305.1h0M1746.5 332.3h0M1861.1 402.2h0M1863.4 306h0M1782.4 308.9h0M1949 414.5h0M1820.6 396.9h0M1645.8 353.2h0M1725.7 352.8h0M1947.9 330.5h0M1883.1 314h0M1994.2 419.4h0M1920.1 417.4h0M2020.8 350.8h0M1691 347.3h0M1647 461.9h0M1968.7 322.8h0M1878.4 304.9h0M1723.4 438.1h0M1974.5 428.6h0M1791.6 313.5h0M1811.3 405.3h0M1920.1 310.7h0M1887.7 414.5h0M1621.5 447.9h0M1670.1 363.2h0M1699.1 361.9h0M1935.1 316.9h0M1803.2 306h0M1858.8 292.1h0M1895.8 413.4h0M1886.5 410.9h0M1870.3 395.6h0M1733.8 433.9h0M1672.4 465.1h0M1621.5 366.2h0M1897 313.4h0M1969.9 414.8h0M1819.4 395.4h0M1825.2 395.3h0M1759.2 437.7h0M1850.7 314.2h0M1840.2 306h0M2021.9 337.7h0M1871.5 306.4h0M1783.5 311.9h0M1681.7 452.6h0M1936.3 417.2h0M1956 315.9h0M1703.7 356.2h0M1630.8 360.5h0M2001.1 421.5h0M1756.9 442.8h0M1863.4 410.2h0M2015 427.1h0M1828.7 287.5h0M1918.9 422.3h0M2006.9 325h0M1832.1 403.1h0M1951.3 409.8h0M1958.3 422.1h0M1855.3 410.1h0M1934 407.6h0M1623.8 356.2h0M1876.1 402.9h0M1800.9 319.8h0M1908.5 403.1h0M1831 393.9h0M1997.6 414.9h0M1800.9 417h0M1638.9 372h0M1855.3 295.3h0M1976.8 308.5h0M1778.9 419.7h0M1987.2 327.6h0M1689.8 457.2h0M1925.9 319.3h0M1821.7 307.2h0M1659.7 450.1h0" stroke="#FA6014" stroke-width="7.2" stroke-linecap="round" fill="none"/>
<path d="M1812.5 414.2h0M1954.8 334.5h0M1884.2 420.1h0M1829.8 312.4h0M1916.6 403.2h0M2008.1 441.1h0M1827.5 321.9h0M1680.5 325.1h0M1913.2 410.2h0M1993 329.2h0M2015 329h0M1790.5 332.1h0M1670.1 446.4h0M1858.8 419h0M1994.2 331.8h0M1778.9 425h0M1691 344.6h0M1795.1 449.9h0M1940.9 298.8h0M1643.5 347.1h0M1691 439.3h0M1708.3 336.5h0M1952.5 321.1h0M2027.7 344.7h0M1703.7 440.8h0M1773.1 330.2h0M1865.7 415.1h0M1932.8 294.4h0M1717.6 331.1h0M1755.8 326.3h0M1741.9 443.1h0M1708.3 442.8h0M2009.2 451h0M1716.4 435.7h0M1799.7 423h0M1783.5 420.7h0M1928.2 315.4h0M1855.3 316.4h0M1853 312.4h0M1805.5 430.5h0M1825.2 399h0M1934 425.8h0M1693.3 448.1h0M1967.5 330.4h0M2016.2 333.9h0M1925.9 311.9h0M1685.2 343.9h0M1716.4 349.1h0M1844.9 424.4h0M1766.2 442.4h0M1996.5 324.5h0M1738.4 448.6h0M1915.5 330.5h0M1674.8 348.1h0M1703.7 339.6h0M1851.8 420.8h0M1883.1 420.4h0M1642.3 435.1h0M1822.9 406.4h0M2020.8 336.2h0M1636.6 342.5h0M1954.8 433.9h0M2018.5 342.5h0M1777.8 425.6h0M1837.9 314h0M1732.6 334.2h0M1797.4 295h0M1905.1 298.3h0M1695.6 446.2h0M1670.1 347.6h0M1903.9 433.3h0M1649.3 346.4h0M1747.7 439h0M1947.9 433.2h0M1811.3 423.3h0M1789.3 324.5h0M1962.9 329.6h0M1647 344.9h0M2009.2 325.5h0M1687.5 337.6h0M1628.5 354.3h0M1740.7 442.5h0M1748.8 440h0M1875 310.1h0M1694.4 442.1h0M1920.1 416.2h0M1732.6 434.8h0M1900.4 315.2h0M1714.1 347.7h0M1909.7 311.5h0M1629.6 447.5h0M1658.5 353.5h0M2005.7 444h0M2019.6 453.3h0M1623.8 348.7h0M1934 317.3h0M1777.8 334.7h0M1694.4 365.8h0M1824 403.4h0M1678.2 449h0M1696.7 341.9h0M1930.5 320.2h0M1885.4 413.2h0M1644.7 344.9h0M1755.8 432.9h0M1754.6 340.4h0M1739.6 450.4h0M1920.1 304.7h0M1665.5 354.2h0M1983.7 427.2h0M1835.6 316.3h0M1622.7 346.8h0M2025.4 438.8h0M1953.7 330.3h0M1628.5 450.9h0M1994.2 434.9h0M1723.4 344.3h0M1968.7 326.6h0M1641.2 447.8h0M1746.5 322.4h0M1833.3 304.7h0M2006.9 327.7h0M1924.7 428.6h0M1807.8 313.3h0M1883.1 307.6h0M1649.3 434.4h0M1783.5 327.7h0M1782.4 420.3h0M1722.2 339.1h0M1687.5 456.4h0M1991.9 438.5h0M1688.6 451.1h0M1736.1 338.2h0M1675.9 355.8h0M1943.2 423.2h0M1858.8 303h0M1800.9 418.4h0M1925.9 420h0M1901.6 423.6h0M2032.4 451.1h0M1900.4 410.1h0M1775.4 433.8h0M1944.4 310h0M1659.7 444.9h0M1958.3 322h0M1927 405.8h0M2017.3 339.2h0M1695.6 351.7h0M1733.8 436.3h0M2012.7 331.7h0M1712.9 340.4h0M1774.3 340.4h0M1775.4 340.4h0M1741.9 343.3h0M1809 321.8h0M1935.1 316.4h0M1848.3 408.3h0M2002.3 434.6h0M1935.1 426.3h0M1888.9 410.2h0M1895.8 422.9h0M1842.6 421.9h0M1984.9 424.2h0M1657.4 443.9h0M1642.3 353.2h0M2034.7 331.2h0M1626.1 352.9h0M1721 445.8h0M1697.9 351.4h0M1819.4 416.2h0M1884.2 307.8h0M1689.8 451.4h0M1898.1 328.7h0M1730.3 443h0M1625 457.8h0M1765 318.3h0M1890 310.9h0M1841.4 430.3h0M1686.3 346.9h0M1756.9 435.6h0M1621.5 469.9h0M1821.7 411.7h0M1854.1 312.6h0M1772 433.4h0M1622.7 466.4h0M1635.4 454.7h0M1637.7 453.9h0M1893.5 410.3h0M2012.7 438h0M1899.3 323.7h0M1745.3 319h0M1640 350.1h0M1689.8 352.8h0M1743 338.8h0M1635.4 354.3h0M1633.1 456h0M1719.9 340.9h0M1751.1 437.7h0M1937.5 318.6h0M2035.8 448.7h0M1901.6 317.4h0M1986.1 320.1h0M1978 443.7h0M1621.5 341.8h0M1784.7 421.3h0M1805.5 323.4h0M1861.1 421.2h0M1620.4 356.5h0M1810.2 421.6h0M1938.6 418.5h0M1932.8 416.7h0M1667.8 342h0M1648.1 449.1h0M1981.4 429.1h0M1765 448.8h0M1887.7 319.7h0M1949 328.4h0M1788.2 310h0M1922.4 423.8h0M1650.4 344.8h0M1971 331.2h0M1921.3 424.4h0M1737.2 447.4h0M1892.3 304.8h0M2013.8 337.6h0M1828.7 426h0M1890 416.3h0M1644.7 455.5h0M1880.7 295.1h0M1792.8 326.1h0M1813.6 315.4h0M1832.1 424.3h0M1759.2 325.1h0M1974.5 315h0M1851.8 310.7h0M1813.6 422.9h0M1856.4 430.7h0M1628.5 488.3h0M1796.3 304.9h0M1665.5 453.7h0M1940.9 413.8h0M1620.4 458.4h0M1846 315.3h0M1707.2 342.6h0M1864.5 310.5h0" stroke="#0F7DC2" stroke-width="7.2" stroke-linecap="round" fill="none"/>
<path d="M1634.2 475.2h0M1841.4 307.1h0M1740.7 318h0M1700.2 442.9h0M1978 322.5h0M1674.8 346.9h0M1732.6 326.8h0M1657.4 463.5h0M1829.8 410.2h0M1892.3 295.5h0M2034.7 430.4h0M1634.2 367.4h0M1758.1 325.1h0M1711.8 334.7h0M1759.2 329.3h0M1943.2 313.6h0M1785.9 312.5h0M1729.1 438.6h0M1745.3 337.6h0M2026.6 437.9h0M1881.9 401.8h0M1669 452.4h0M2037 354.3h0M2028.9 347.9h0M1767.3 432.5h0M1766.2 337.4h0M1831 301h0M1669 361.1h0M1944.4 408.9h0M1656.2 458h0M1991.9 333.2h0M1864.5 301.2h0M1998.8 424.5h0M2041.6 356h0M1711.8 440.3h0M1685.2 454.5h0M1695.6 348.3h0M1719.9 351.6h0M1902.7 306.2h0M2006.9 447.7h0M1763.9 332.6h0M1940.9 407h0M1706 336.8h0M1943.2 401.4h0M1674.8 457.1h0M1658.5 452.8h0M1802.1 295.6h0M1859.9 419.4h0M1837.9 400.8h0M1678.2 353.3h0M1894.6 313h0M2031.2 348.3h0M1746.5 434.8h0M1965.2 407.9h0M1657.4 357h0M1638.9 455.5h0M1670.1 462.6h0M1707.2 323.3h0M1660.9 358.5h0M1822.9 398.4h0M1681.7 335.3h0M1961.8 327.2h0M1730.3 440h0M1981.4 436.3h0M1630.8 465.5h0M1754.6 438h0M1946.7 407.5h0M1968.7 415.5h0M1833.3 415.8h0M1990.7 429.9h0M1865.7 415.5h0M1997.6 333.8h0M1905.1 412.2h0M1818.3 310.6h0M1648.1 361h0M1915.5 323.2h0M1649.3 461.9h0M2019.6 340.9h0M1797.4 418.1h0M1857.6 426.2h0M1928.2 312.7h0M1738.4 415.8h0M1851.8 310.9h0M1666.6 450.3h0M1783.5 417.5h0M1733.8 338.5h0M1788.2 311.5h0M1873.8 307.3h0M1923.6 302.7h0M1740.7 432h0M1739.6 328.5h0M1817.1 416.7h0M1680.5 342.7h0M1709.5 435.9h0M1623.8 454.6h0M1649.3 357h0M2002.3 419.4h0M1964.1 311.4h0M1688.6 346.8h0M1796.3 317.2h0M1719.9 446.7h0M1731.5 319.1h0M1987.2 415.6h0M1810.2 404.6h0M1952.5 320.4h0M1810.2 320.6h0M1708.3 332.2h0M1689.8 341.9h0M1854.1 414.2h0M1679.4 451.3h0M1758.1 444.3h0M1778.9 307.3h0M1991.9 430.9h0M1938.6 310.3h0M1684 353.7h0M1844.9 298h0M1685.2 352.1h0M1940.9 308h0M1792.8 415.3h0M1747.7 430.8h0M1776.6 317.9h0M1682.9 450.1h0M1971 433h0M1839.1 411.5h0M1665.5 451.9h0M1906.2 312.2h0M1802.1 419.5h0M1663.2 455.1h0M1884.2 413.5h0M1805.5 312.4h0M1813.6 406.2h0M1885.4 413.1h0M1712.9 438.6h0M1777.8 416h0M1856.4 289.7h0M1961.8 426.6h0M1774.3 335.2h0M1625 451.3h0M2003.4 430.7h0M1640 372.5h0M1664.3 458.5h0M1907.4 412.3h0M1768.5 423.1h0M1622.7 362.4h0M2038.1 447h0M2016.2 353.9h0M1807.8 411.9h0M1877.3 396.2h0M2005.7 332h0M1856.4 420.6h0M1957.1 412.1h0M1813.6 313.5h0M1870.3 304.3h0M1811.3 327.3h0M1664.3 340.5h0M1909.7 406.3h0M1648.1 462h0M1804.4 306.2h0M1715.3 332.9h0M1868 402.3h0M1884.2 307.3h0M1900.4 406h0M1774.3 419h0M1776.6 422.6h0M1861.1 291.7h0M2028.9 453h0M2027.7 437.9h0M1843.7 310.4h0M1959.4 437h0M1939.8 413.3h0M1973.3 321.4h0M1651.6 361.6h0M1937.5 410.4h0M1945.6 338.8h0M1716.4 350h0M1996.5 333h0M2023.1 336.1h0M1682.9 355.5h0M1663.2 340h0M1736.1 339h0M1979.1 418.3h0M1796.3 426.3h0M1644.7 343.4h0M1696.7 352.5h0M1804.4 416.3h0M1879.6 395.7h0M2017.3 438.6h0M1995.3 425.6h0M1953.7 315.3h0M1857.6 285.4h0M1626.1 453.4h0M1658.5 363.8h0M1750 328.6h0M1635.4 466.4h0M1826.4 405.5h0M1888.9 303.5h0M1912 420h0M1791.6 416.1h0M1773.1 321.1h0M1942.1 304.1h0M1772 415.9h0M1732.6 437.4h0M1876.1 302.1h0M1833.3 301.1h0M1653.9 445.6h0M1931.7 310.8h0M2017.3 344.6h0M1751.1 335.4h0M1772 324.4h0M1935.1 425.9h0M1899.3 303.1h0M1653.9 370.6h0M1853 306.3h0M1789.3 316.2h0M1803.2 422.6h0M1936.3 310.6h0M1775.4 415.1h0M1775.4 338.2h0M1655.1 447.3h0M1946.7 347.1h0M1984.9 333.2h0M2033.5 426.2h0M1678.2 453.9h0M1790.5 413.9h0M1975.6 425.4h0M1806.7 423.9h0M1780.1 323.4h0M1797.4 313.6h0M2016.2 436.6h0M1640 464.5h0M1651.6 457.4h0M1995.3 337.7h0M1677.1 455.8h0M1846 301.5h0M1722.2 435h0M1636.6 364.6h0M1650.4 361.4h0M1794 313.4h0M1934 317.3h0M2008.1 337h0M1642.3 360h0M1650.4 460.3h0M1872.6 405.6h0M1880.7 310.7h0" stroke="#FA6014" stroke-width="7.2" stroke-linecap="round" fill="none"/>
<defs><path id="L03omax" d="M1620.4 361.5 L1629.7 360.0 L1639.1 358.6 L1648.4 357.1 L1657.8 355.4 L1667.2 353.6 L1676.5 351.6 L1685.9 349.4 L1695.2 347.0 L1704.6 344.4 L1714.0 341.7 L1723.3 338.8 L1732.7 335.8 L1742.1 332.6 L1751.4 329.5 L1760.8 326.3 L1770.1 323.1 L1779.5 320.1 L1788.9 317.2 L1798.2 314.5 L1807.6 312.0 L1816.9 309.8 L1826.3 307.9 L1835.7 306.4 L1845.0 305.3 L1854.4 304.5 L1863.8 304.2 L1873.1 304.3 L1882.5 304.7 L1891.8 305.5 L1901.2 306.5 L1910.6 307.7 L1919.9 309.2 L1929.3 310.8 L1938.6 312.6 L1948.0 314.5 L1957.4 316.5 L1966.7 318.5 L1976.1 320.7 L1985.4 323.1 L1994.8 325.9 L2004.2 329.3 L2013.5 333.5 L2022.9 338.7 L2032.3 344.9 L2041.6 351.8"/></defs>
<use href="#L03omax" stroke="#FA6014" stroke-opacity="0.35" stroke-width="8" fill="none" stroke-linejoin="round"/>
<use href="#L03omax" stroke="#FA6014" stroke-width="4.3" fill="none" stroke-linejoin="round"/>
<defs><path id="L03omin" d="M1620.4 459.8 L1629.7 458.8 L1639.1 457.8 L1648.4 456.7 L1657.8 455.5 L1667.2 454.2 L1676.5 452.8 L1685.9 451.2 L1695.2 449.3 L1704.6 447.2 L1714.0 444.8 L1723.3 442.0 L1732.7 438.9 L1742.1 435.4 L1751.4 431.6 L1760.8 427.6 L1770.1 423.5 L1779.5 419.6 L1788.9 416.0 L1798.2 412.7 L1807.6 409.9 L1816.9 407.6 L1826.3 405.7 L1835.7 404.3 L1845.0 403.3 L1854.4 402.8 L1863.8 402.6 L1873.1 402.9 L1882.5 403.4 L1891.8 404.2 L1901.2 405.2 L1910.6 406.4 L1919.9 407.8 L1929.3 409.3 L1938.6 410.9 L1948.0 412.8 L1957.4 414.8 L1966.7 417.0 L1976.1 419.4 L1985.4 422.1 L1994.8 425.3 L2004.2 429.1 L2013.5 433.5 L2022.9 438.8 L2032.3 445.0 L2041.6 451.7"/></defs>
<use href="#L03omin" stroke="#FA6014" stroke-opacity="0.35" stroke-width="8" fill="none" stroke-linejoin="round"/>
<use href="#L03omin" stroke="#FA6014" stroke-width="4.3" fill="none" stroke-linejoin="round"/>
<defs><path id="L03bmax" d="M1620.4 351.6 L1629.7 351.2 L1639.1 350.7 L1648.4 350.1 L1657.8 349.4 L1667.2 348.4 L1676.5 347.3 L1685.9 345.8 L1695.2 344.1 L1704.6 342.2 L1714.0 340.0 L1723.3 337.6 L1732.7 335.1 L1742.1 332.4 L1751.4 329.6 L1760.8 326.7 L1770.1 323.9 L1779.5 321.2 L1788.9 318.5 L1798.2 316.1 L1807.6 313.9 L1816.9 312.0 L1826.3 310.3 L1835.7 309.0 L1845.0 308.0 L1854.4 307.4 L1863.8 307.1 L1873.1 307.2 L1882.5 307.6 L1891.8 308.4 L1901.2 309.4 L1910.6 310.7 L1919.9 312.2 L1929.3 313.9 L1938.6 315.7 L1948.0 317.6 L1957.4 319.5 L1966.7 321.4 L1976.1 323.3 L1985.4 325.3 L1994.8 327.4 L2004.2 329.9 L2013.5 332.8 L2022.9 336.4 L2032.3 340.6 L2041.6 345.2"/></defs>
<use href="#L03bmax" stroke="#0F7DC2" stroke-opacity="0.35" stroke-width="8" fill="none" stroke-linejoin="round"/>
<use href="#L03bmax" stroke="#0F7DC2" stroke-width="4.3" fill="none" stroke-linejoin="round"/>
<defs><path id="L03bmin" d="M1620.4 458.4 L1629.7 457.6 L1639.1 456.8 L1648.4 455.9 L1657.8 455.0 L1667.2 453.9 L1676.5 452.7 L1685.9 451.3 L1695.2 449.7 L1704.6 448.0 L1714.0 446.1 L1723.3 444.0 L1732.7 441.8 L1742.1 439.4 L1751.4 436.9 L1760.8 434.3 L1770.1 431.7 L1779.5 429.1 L1788.9 426.7 L1798.2 424.3 L1807.6 422.2 L1816.9 420.3 L1826.3 418.6 L1835.7 417.3 L1845.0 416.3 L1854.4 415.6 L1863.8 415.4 L1873.1 415.6 L1882.5 416.0 L1891.8 416.7 L1901.2 417.6 L1910.6 418.7 L1919.9 419.9 L1929.3 421.3 L1938.6 422.8 L1948.0 424.4 L1957.4 426.2 L1966.7 428.1 L1976.1 430.2 L1985.4 432.7 L1994.8 435.8 L2004.2 439.7 L2013.5 444.6 L2022.9 450.8 L2032.3 458.4 L2041.6 466.8"/></defs>
<use href="#L03bmin" stroke="#0F7DC2" stroke-opacity="0.35" stroke-width="8" fill="none" stroke-linejoin="round"/>
<use href="#L03bmin" stroke="#0F7DC2" stroke-width="4.3" fill="none" stroke-linejoin="round"/>
<rect x="132.1" y="732.6" width="462.6" height="472.8" fill="#fff" stroke="#ADADAD" stroke-width="2.2"/>
<g stroke="#fff"><path d="M151.0 731.5V1206.5" stroke-width="5.8"/><path d="M208.9 731.5V1206.5" stroke-width="2.9"/><path d="M266.7 731.5V1206.5" stroke-width="5.8"/><path d="M324.6 731.5V1206.5" stroke-width="2.9"/><path d="M382.5 731.5V1206.5" stroke-width="5.8"/><path d="M440.3 731.5V1206.5" stroke-width="2.9"/><path d="M498.2 731.5V1206.5" stroke-width="5.8"/><path d="M556.1 731.5V1206.5" stroke-width="2.9"/><path d="M131.0 1155.7H595.8" stroke-width="2.9"/><path d="M131.0 1089.3H595.8" stroke-width="5.8"/><path d="M131.0 1022.8H595.8" stroke-width="2.9"/><path d="M131.0 956.4H595.8" stroke-width="5.8"/><path d="M131.0 889.9H595.8" stroke-width="2.9"/><path d="M131.0 823.5H595.8" stroke-width="5.8"/><path d="M131.0 757.0H595.8" stroke-width="2.9"/></g>
<path d="M222.8 961.3h0M504 816.5h0M399.8 923.8h0M479.7 930.1h0M438 793.3h0M259.8 940.5h0M247.1 949.6h0M306.1 797h0M428.8 912.4h0M559.5 921.8h0M450.7 923.4h0M536.4 919.9h0M227.4 807.6h0M361.6 919.3h0M397.5 797.9h0M382.5 932.1h0M357 789.5h0M365.1 789.2h0M210 945.4h0M250.5 791.6h0M353.5 944.8h0M344.3 927.2h0M162.6 832.9h0M315.3 777.8h0M329.2 780.1h0M477.4 810.7h0M350.1 921.7h0M394 787.5h0M436.9 792h0M163.7 944.3h0M460 910.5h0M358.2 934.6h0M362.8 789.7h0M296.8 798h0M560.7 819.7h0M390.6 918.7h0M482 915.7h0M554.9 819.5h0M200.8 820.5h0M453.1 929.5h0M188 823h0M494.7 913.2h0M471.6 922h0M296.8 931.1h0M563 927.2h0M417.2 916.1h0M360.5 925.4h0M313 788.3h0M257.5 944.5h0M181.1 950.8h0M463.5 915.1h0M410.2 797.3h0M380.1 925.5h0M239 805.6h0M366.3 931.9h0M345.4 924.8h0M193.8 951.4h0M395.2 919.9h0M286.4 938.8h0M340.8 797.7h0M501.7 913h0M493.6 916.9h0M546.8 930.8h0M298 798.8h0M394 917.9h0M548 814.8h0M244.7 944.8h0M267.9 806.4h0M240.1 951.6h0M488.9 926.3h0M277.1 796.8h0M572.3 821.4h0M564.2 933.5h0M362.8 921h0M500.5 917.6h0M359.3 793.9h0M539.9 810.9h0M251.7 804h0M212.3 953.2h0M440.3 909.6h0M487.8 914.5h0M303.8 788.9h0M480.8 924.1h0M190.3 823.8h0M445 914h0M222.8 804.6h0M373.2 916.5h0M483.1 815.3h0M155.6 962.3h0M230.9 950.2h0M532.9 800.5h0M320 938.7h0M384.8 919.4h0M191.5 956.3h0M285.2 793.3h0M204.2 962.7h0M473.9 914.8h0M484.3 915.4h0M250.5 947.9h0M431.1 934.4h0M432.2 927h0M376.7 783.1h0M206.6 953.9h0M295.7 797.4h0M382.5 794.9h0M537.5 929.8h0M217 815.4h0M175.3 950.1h0M485.5 818.3h0M510.9 793.7h0M220.4 956.9h0M380.1 788.2h0M566.5 809.5h0M516.7 812.5h0M227.4 951h0M426.4 797.5h0M192.7 812h0M201.9 957h0M183.4 972h0M318.8 774.9h0M346.6 785.4h0M508.6 912.6h0M392.9 792.8h0M152.2 956.9h0M490.1 804.3h0M309.6 930.8h0M234.3 955.7h0M365.1 934.8h0M455.4 913.8h0M289.9 942.3h0M549.1 818.4h0M573.4 810h0M248.2 947.6h0M203.1 815.4h0M242.4 806.4h0M369.7 785.2h0M157.9 969.8h0M157.9 833.8h0M173 961.8h0M463.5 817.4h0M514.4 919.1h0M271.4 945.1h0M236.6 815.2h0M486.6 818h0M249.4 800.5h0M567.6 927.4h0M228.5 799.9h0M403.3 795.2h0M440.3 794.8h0M398.7 794.4h0M396.3 930.3h0M289.9 789.3h0M450.7 803.1h0M218.1 808.3h0M244.7 801.2h0M167.2 829.8h0M512.1 801.8h0M484.3 818.7h0M321.1 931.5h0M429.9 782.5h0M447.3 922.5h0M492.4 918.6h0M169.5 957.6h0M298 922.8h0M413.7 798.8h0M435.7 800.6h0M441.5 920.5h0M272.5 941.6h0M210 800h0M556.1 913.7h0M482 812.7h0M569.9 815.8h0M414.9 793.6h0M410.2 914.4h0M185.7 818.6h0M299.1 921.9h0M487.8 808.8h0M232 956.2h0M565.3 815.1h0M350.1 788.6h0M406.8 925.5h0M397.5 931.9h0M229.7 811.2h0M211.2 948.1h0M351.2 920.5h0M173 834.4h0M184.6 962.3h0M161.4 958.2h0M401 931.8h0M218.1 957.5h0M478.5 931.5h0M330.4 785.7h0M509.8 803.8h0M340.8 932h0M225.1 956.4h0M213.5 795.5h0M195 822h0M375.5 784.3h0M443.8 812.5h0M171.8 838.5h0M495.9 798.8h0M324.6 795.3h0M335 785.5h0M434.5 920.7h0M368.6 927.4h0M564.2 815h0M186.9 964.1h0M460 795.7h0M527.1 914.4h0M293.3 943.9h0M240.1 805.7h0M554.9 916h0M293.3 802.7h0M174.1 836.7h0M325.8 918.4h0M407.9 794.9h0M272.5 794.8h0M360.5 788.1h0M479.7 807h0M434.5 787.3h0M433.4 791.4h0M476.2 814.9h0M522.5 805.5h0M449.6 924.2h0M316.5 925h0M436.9 920.2h0M475 815.8h0M469.3 803.6h0M427.6 787.7h0M404.4 794.8h0M468.1 800.1h0M363.9 791.3h0M561.8 935.6h0M409.1 804.6h0M505.1 917.9h0M336.2 919.1h0M470.4 807.3h0M550.3 927.7h0M154.5 828.6h0M402.1 793.3h0M263.3 801.7h0M269 796.8h0M235.5 955.5h0" stroke="#0F7DC2" stroke-width="7.2" stroke-linecap="round" fill="none"/>
<path d="M443.8 906.9h0M181.1 1014.5h0M483.1 820.2h0M484.3 938.7h0M411.4 905.9h0M549.1 830.9h0M392.9 788.8h0M282.9 947.6h0M331.5 795.3h0M431.1 794.3h0M359.3 804.4h0M354.7 806.6h0M412.5 781.5h0M271.4 941.7h0M280.6 936.5h0M410.2 901.4h0M338.5 939.9h0M505.1 829.2h0M302.6 814.1h0M260.9 958.7h0M439.2 911.2h0M320 948.6h0M450.7 931.6h0M301.4 816.6h0M379 919.9h0M495.9 951.8h0M207.7 1016.3h0M222.8 847h0M372 810.8h0M214.7 998.6h0M404.4 903.8h0M446.1 797.7h0M193.8 973.1h0M374.4 793.2h0M413.7 792.5h0M397.5 906.7h0M401 804.6h0M315.3 948.3h0M244.7 959.1h0M196.1 881.9h0M213.5 1005.8h0M536.4 974.3h0M460 902.2h0M189.2 867.3h0M395.2 789.1h0M513.2 813.1h0M545.6 839.1h0M342 919.3h0M508.6 794.3h0M564.2 963.5h0M239 986.4h0M543.3 979.4h0M517.9 822.3h0M457.7 894.8h0M519 823h0M537.5 841.6h0M287.6 833.5h0M298 812.4h0M500.5 940.6h0M463.5 788.4h0M196.1 972.8h0M385.9 778.2h0M276 810.2h0M302.6 947.8h0M351.2 799.4h0M566.5 1016.9h0M492.4 958.4h0M497 948.5h0M544.5 982.2h0M550.3 838.5h0M322.3 922.7h0M487.8 904.2h0M504 818.4h0M417.2 785.3h0M163.7 979.8h0M215.8 844.8h0M510.9 942.3h0M449.6 930.6h0M502.8 831.2h0M471.6 790.9h0M333.9 798.5h0M336.2 803.9h0M154.5 895.7h0M219.3 991.6h0M251.7 973.4h0M183.4 847.2h0M448.4 927.1h0M367.4 812.5h0M552.6 850.2h0M461.2 907.9h0M368.6 917.7h0M316.5 941h0M340.8 931h0M293.3 808h0M344.3 927.1h0M479.7 922.2h0M242.4 829h0M259.8 958.9h0M260.9 835.4h0M161.4 941.7h0M267.9 808.6h0M563 965h0M247.1 944h0M491.2 953.9h0M182.2 985.4h0M363.9 785.6h0M171.8 849.2h0M389.4 794.2h0M402.1 795.1h0M348.9 904.2h0M385.9 905.4h0M390.6 792.6h0M469.3 945.5h0M218.1 835.4h0M310.7 941.2h0M521.3 842.5h0M303.8 941.8h0M436.9 913.1h0M328.1 799h0M564.2 858h0M198.4 869.8h0M152.2 905.2h0M237.8 964.5h0M423 911.2h0M466.9 801.8h0M155.6 988.6h0M230.9 970.1h0M568.8 871.2h0M188 868h0M535.2 840.3h0M391.7 903.6h0M157.9 984.8h0M358.2 917.6h0M284.1 829.3h0M310.7 796.6h0M286.4 944.8h0M442.6 792.8h0M197.3 971.8h0M573.4 1044.3h0M292.2 807.1h0M321.1 783.3h0M534.1 960.6h0M331.5 928.3h0M398.7 797.8h0M197.3 859.3h0M345.4 919.3h0M317.7 922.3h0M167.2 885.6h0M239 814.4h0M376.7 912.4h0M201.9 989.9h0M353.5 914.1h0M193.8 877.7h0M159.1 869.4h0M346.6 918.6h0M402.1 891.7h0M326.9 924h0M357 811.5h0M426.4 912.7h0M293.3 960.7h0M424.1 900.6h0M337.3 933.7h0M182.2 875.8h0M462.3 888.1h0M563 841.3h0M170.7 992.6h0M456.5 905.6h0M529.4 918.9h0M175.3 1020.8h0M558.4 846.2h0M220.4 865.3h0M255.2 953.9h0M254 963.9h0M285.2 812.8h0M203.1 1003.4h0M307.2 951h0M199.6 996.7h0M414.9 898.1h0M189.2 988h0M384.8 789.4h0M285.2 962.4h0M544.5 820.5h0M266.7 821.8h0M249.4 831.5h0M169.5 885.1h0M394 797.4h0M256.3 821.5h0M156.8 887.7h0M225.1 849h0M438 913.2h0M304.9 938.2h0M457.7 810.6h0M462.3 801h0M168.4 886.7h0M233.2 982.8h0M560.7 859.5h0M515.5 825.1h0M453.1 908.6h0M477.4 810.6h0M228.5 861.9h0M520.2 831.7h0M273.7 973.1h0M159.1 998.4h0M531.8 939.7h0M162.6 883.9h0M429.9 911.9h0M559.5 990.6h0M522.5 860.5h0M184.6 984.9h0M556.1 862.4h0M329.2 799.1h0M548 970.8h0M215.8 964.6h0M278.3 810.4h0M219.3 861.1h0M287.6 962.4h0M350.1 911.4h0M434.5 797.4h0M236.6 838.4h0M241.3 830.7h0M291 959.5h0M551.4 1009.2h0M206.6 1000.1h0M223.9 984.3h0M484.3 810.9h0M255.2 809.1h0M572.3 1007.6h0M178.8 1038.8h0M300.3 814h0M514.4 931.2h0M272.5 815.5h0M267.9 973.4h0M502.8 955h0M236.6 983.4h0M243.6 967.9h0M464.6 902.2h0M455.4 815.7h0M436.9 804h0M529.4 807.1h0M263.3 962.8h0M492.4 820.1h0M405.6 795.1h0M504 929.6h0" stroke="#FA6014" stroke-width="7.2" stroke-linecap="round" fill="none"/>
<path d="M411.4 915.2h0M255.2 949.1h0M189.2 966h0M439.2 919.8h0M566.5 922.7h0M423 799.5h0M168.4 826.7h0M311.9 933.5h0M288.7 785.9h0M470.4 913.8h0M254 941.6h0M523.7 914.9h0M573.4 935.3h0M337.3 792.6h0M473.9 812.3h0M509.8 914h0M339.6 931.6h0M412.5 924h0M413.7 927h0M513.2 806h0M325.8 791.1h0M501.7 813.5h0M353.5 794.3h0M505.1 812.1h0M155.6 824.5h0M287.6 936.4h0M220.4 799.2h0M420.7 790.8h0M366.3 790.2h0M398.7 926.3h0M376.7 910.7h0M208.9 955.8h0M477.4 933h0M254 804.9h0M330.4 931.4h0M182.2 825.5h0M205.4 961.2h0M223.9 806.2h0M292.2 793.1h0M379 779.9h0M462.3 911.8h0M369.7 928h0M565.3 930h0M335 928.9h0M535.2 921.2h0M191.5 824.9h0M417.2 792.2h0M446.1 807.8h0M545.6 924.6h0M383.6 796.4h0M561.8 815.7h0M159.1 964.6h0M424.1 800.7h0M273.7 935.5h0M529.4 812.5h0M233.2 791.3h0M201.9 812h0M236.6 957.4h0M507.4 801h0M166 958.5h0M193.8 818.6h0M486.6 923h0M300.3 780.7h0M571.1 940.9h0M456.5 790.9h0M553.7 818.1h0M185.7 961.4h0M342 803.1h0M178.8 954.4h0M425.3 805.3h0M200.8 953.4h0M457.7 798.7h0M388.2 795.5h0M421.8 908.1h0M520.2 815.8h0M451.9 804.5h0M160.3 958.6h0M458.8 805.5h0M498.2 811.2h0M387.1 929.8h0M177.6 953.7h0M571.1 816h0M488.9 806.2h0M256.3 947.2h0M351.2 786h0M166 824.8h0M448.4 917.9h0M153.3 940.2h0M361.6 789.1h0M358.2 791.4h0M414.9 918.1h0M485.5 914.8h0M258.6 798.6h0M280.6 789.4h0M427.6 921.7h0M256.3 803.6h0M170.7 823.6h0M557.2 815.9h0M538.7 929.2h0M462.3 807.2h0M270.2 788.8h0M207.7 952.5h0M153.3 825.5h0M541 813.1h0M531.8 812.2h0M454.2 789h0M308.4 796.2h0M497 798.8h0M512.1 912.6h0M455.4 799.9h0M497 915.1h0M506.3 811.3h0M301.4 784.5h0M331.5 936.1h0M328.1 785.3h0M260.9 797h0M536.4 802.9h0M401 800.6h0M304.9 919.7h0M162.6 951h0M317.7 940.8h0M527.1 810.1h0M546.8 820.7h0M451.9 930.9h0M308.4 923.7h0M469.3 917.6h0M302.6 781h0M461.2 797.5h0M306.1 929.6h0M502.8 815.3h0M171.8 963.1h0M456.5 924.2h0M352.4 934.5h0M432.2 792h0M416 927.2h0M228.5 952h0M491.2 801.7h0M291 945.9h0M320 784.6h0M175.3 832.5h0M229.7 951.8h0M542.2 818h0M326.9 915.8h0M405.6 917h0M205.4 819h0M189.2 828.3h0M255.2 802.8h0M245.9 950.1h0M535.2 810.1h0M310.7 788.7h0M375.5 905.1h0M241.3 809.7h0M287.6 793.7h0M226.2 809.1h0M523.7 807.4h0M285.2 931.4h0M385.9 788.1h0M223.9 953.1h0M418.3 924.1h0M475 920.2h0M418.3 794.7h0M346.6 921.1h0M499.3 915.4h0M431.1 791.7h0M221.6 803.6h0M559.5 822.4h0M538.7 803.9h0M323.4 783.8h0M374.4 787.1h0M178.8 823.9h0M219.3 805.4h0M569.9 936.5h0M264.4 805h0M374.4 913.1h0M520.2 922h0M329.2 919.5h0M476.2 921.7h0M510.9 913.9h0M421.8 785.6h0M466.9 917.4h0M160.3 828h0M416 793.1h0M336.2 795h0M304.9 781.3h0M333.9 933.9h0M161.4 827.9h0M174.1 954.2h0M273.7 799.3h0M491.2 908.8h0M230.9 815.6h0M278.3 801.7h0M247.1 810.2h0M164.9 826.1h0M524.8 908.3h0M302.6 924.9h0M359.3 924h0M383.6 927.1h0M438 922.8h0M406.8 802.3h0M446.1 921.1h0M269 951.3h0M521.3 814.8h0M221.6 957.9h0M531.8 916.1h0M324.6 931.4h0M344.3 791.9h0M537.5 808.1h0M321.1 790.4h0M443.8 922.6h0M572.3 944h0M342 937h0M206.6 813.1h0M286.4 789.1h0M183.4 827h0M277.1 944.3h0M357 941.9h0M243.6 948.5h0M367.4 788.3h0M309.6 783.4h0M526 904.6h0M390.6 785.7h0M280.6 948.8h0M545.6 812.8h0M517.9 915.3h0M506.3 905.2h0M560.7 933.4h0M251.7 948.2h0M257.5 802.6h0M237.8 818.2h0M465.8 814.9h0M316.5 786.5h0M252.8 950.2h0M453.1 789.9h0M270.2 949.4h0M370.9 779.7h0M208.9 807.8h0M274.8 943.1h0M495.9 917.8h0M363.9 936.5h0M551.4 925.8h0M508.6 798.8h0M332.7 933h0M276 945.7h0" stroke="#0F7DC2" stroke-width="7.2" stroke-linecap="round" fill="none"/>
<path d="M557.2 996.1h0M429.9 802.1h0M406.8 801.5h0M162.6 959.8h0M425.3 785.8h0M419.5 800.4h0M510.9 817.2h0M258.6 962h0M291 815.9h0M332.7 793.8h0M192.7 856.6h0M509.8 808.7h0M355.8 928.9h0M443.8 799h0M550.3 989.5h0M365.1 925.6h0M222.8 963.1h0M520.2 959h0M480.8 926h0M538.7 841.8h0M420.7 886.8h0M307.2 814.3h0M572.3 861.3h0M409.1 913.8h0M234.3 839.7h0M567.6 866.3h0M270.2 945.9h0M348.9 791h0M490.1 946h0M318.8 949.6h0M478.5 805.2h0M278.3 948.5h0M354.7 933.9h0M398.7 909.2h0M396.3 789.9h0M461.2 809.4h0M486.6 829.9h0M379 807h0M232 839.5h0M225.1 1001.3h0M271.4 795.9h0M380.1 793.2h0M176.5 1025.8h0M573.4 849.4h0M500.5 824.5h0M362.8 802.9h0M226.2 846.9h0M152.2 1001.6h0M523.7 937.2h0M479.7 823.6h0M370.9 809.1h0M418.3 802h0M163.7 864.4h0M347.7 805.8h0M446.1 918.1h0M441.5 794.6h0M407.9 798.8h0M374.4 900.1h0M179.9 855.2h0M517.9 953.8h0M403.3 777.5h0M353.5 796.2h0M295.7 943.3h0M208.9 865.3h0M243.6 837h0M521.3 941.1h0M447.3 785.6h0M269 970.1h0M273.7 822h0M416 792.4h0M392.9 899.3h0M569.9 864.5h0M207.7 858.2h0M471.6 917.1h0M308.4 817.9h0M229.7 819.5h0M229.7 974.7h0M468.1 916.4h0M468.1 800.2h0M440.3 779.8h0M541 978.2h0M485.5 813.2h0M211.2 984.1h0M176.5 881.3h0M335 924.4h0M370.9 899h0M527.1 930.3h0M311.9 947.1h0M350.1 799.1h0M304.9 819.1h0M493.6 805.6h0M174.1 876.4h0M498.2 912.2h0M213.5 802.9h0M542.2 808.9h0M383.6 905.8h0M330.4 785.5h0M171.8 1029h0M477.4 917.7h0M524.8 924.2h0M186.9 988.7h0M208.9 1010.3h0M439.2 786.3h0M306.1 954.1h0M245.9 830.5h0M174.1 1015.9h0M426.4 799h0M532.9 931.6h0M201.9 856.1h0M301.4 952.3h0M324.6 792h0M451.9 800.2h0M195 999.1h0M185.7 837.7h0M417.2 916.2h0M204.2 848.4h0M546.8 963.2h0M156.8 954.1h0M309.6 935.8h0M388.2 801.6h0M458.8 903.7h0M546.8 833.7h0M217 965.3h0M567.6 1018.4h0M432.2 937.5h0M369.7 894.8h0M419.5 909.6h0M254 791.7h0M292.2 955.7h0M478.5 941.2h0M445 792.8h0M527.1 811.8h0M343.1 930.1h0M179.9 1027.5h0M530.6 819h0M199.6 853.9h0M332.7 931.2h0M212.3 958.8h0M552.6 990.4h0M394 908.4h0M177.6 1018h0M173 857.8h0M155.6 872.5h0M221.6 976h0M183.4 981.9h0M256.3 954.3h0M247.1 815h0M218.1 979.5h0M191.5 967.6h0M366.3 909.1h0M526 820.9h0M288.7 961.4h0M483.1 943h0M566.5 875.9h0M168.4 1024.3h0M482 822.5h0M177.6 880.7h0M490.1 817.7h0M339.6 930h0M455.4 897.5h0M352.4 799.9h0M412.5 910.6h0M191.5 872.6h0M497 807h0M265.6 965.5h0M465.8 808.3h0M192.7 1006h0M571.1 955.3h0M512.1 969.5h0M498.2 808.5h0M358.2 816.3h0M424.1 793.5h0M536.4 838.8h0M539.9 834h0M298 932h0M195 900.2h0M448.4 790.3h0M308.4 948.1h0M281.8 935.6h0M263.3 839.1h0M227.4 991.1h0M248.2 823.3h0M181.1 857.8h0M523.7 829h0M325.8 923.7h0M513.2 958.7h0M321.1 937.4h0M423 788.5h0M303.8 804.6h0M494.7 814.2h0M279.5 800.5h0M355.8 800.2h0M257.5 820.7h0M377.8 789.1h0M270.2 799.9h0M178.8 867.6h0M507.4 957h0M384.8 894.3h0M251.7 812.7h0M184.6 867.7h0M190.3 857.7h0M230.9 814.9h0M274.8 800.2h0M387.1 910.6h0M458.8 803.1h0M352.4 909.7h0M542.2 976h0M252.8 807.9h0M416 900.9h0M554.9 849.2h0M519 932h0M288.7 820.8h0M205.4 860.9h0M470.4 808.7h0M421.8 899.3h0M204.2 1011.7h0M488.9 925.7h0M339.6 799.3h0M164.9 984.6h0M501.7 832.7h0M175.3 873.5h0M154.5 987.6h0M233.2 836.6h0M375.5 786.4h0M442.6 892.4h0M376.7 783.8h0M365.1 789.2h0M169.5 1006.6h0M454.2 800.4h0M264.4 821.9h0M403.3 893.1h0M166 1014.1h0M435.7 804h0M340.8 793.7h0M537.5 973.6h0M157.9 869h0M469.3 812.7h0M248.2 971.1h0M221.6 833.5h0M435.7 908h0M325.8 784.9h0M366.3 795.6h0M404.4 789.8h0" stroke="#FA6014" stroke-width="7.2" stroke-linecap="round" fill="none"/>
<path d="M339.6 796.9h0M568.8 929.5h0M471.6 806.4h0M343.1 790.4h0M196.1 961.9h0M457.7 920.2h0M551.4 820.3h0M294.5 805.4h0M441.5 795.4h0M245.9 797.8h0M248.2 805.1h0M278.3 942.5h0M556.1 817h0M326.9 794.2h0M271.4 793.3h0M318.8 930.3h0M281.8 788.1h0M197.3 804.8h0M163.7 829.2h0M315.3 922.2h0M558.4 822.9h0M152.2 820.3h0M314.2 781.2h0M199.6 945.7h0M213.5 947.3h0M472.7 922.7h0M419.5 928.2h0M426.4 918.2h0M407.9 919.5h0M557.2 921.4h0M260.9 931.2h0M199.6 809.6h0M445 812.2h0M502.8 919.5h0M521.3 916.7h0M530.6 906.3h0M169.5 816.4h0M526 809.5h0M332.7 787.7h0M515.5 916.1h0M409.1 918.8h0M337.3 923.5h0M543.3 818.3h0M265.6 797.8h0M322.3 788.6h0M442.6 913.2h0M391.7 911.7h0M541 919.7h0M214.7 809.2h0M170.7 949.1h0M354.7 792.4h0M347.7 930.3h0M563 822h0M196.1 815.3h0M494.7 798.9h0M524.8 807.9h0M466.9 804.7h0M211.2 805h0M384.8 796.9h0M458.8 918.1h0M548 923.8h0M377.8 910.7h0M448.4 806.6h0M281.8 952.6h0M389.4 913h0M323.4 936.6h0M387.1 799.5h0M396.3 790h0M207.7 816.5h0M243.6 800.4h0M322.3 925.6h0M179.9 823.2h0M348.9 929.9h0M372 788.3h0M226.2 961.1h0M370.9 920.9h0M483.1 916.1h0M513.2 909.4h0M294.5 938.9h0M389.4 782.2h0M395.2 790.8h0M549.1 926.8h0M558.4 921.1h0M192.7 948.1h0M328.1 917.2h0M352.4 794.7h0M234.3 806.7h0M500.5 818.1h0M528.3 905.2h0M154.5 946h0M164.9 957.9h0M300.3 929.7h0M490.1 916.6h0M354.7 944.9h0M517.9 817.2h0M419.5 790.8h0M447.3 798.2h0M464.6 916.8h0M279.5 951.5h0M345.4 793.2h0M259.8 801.9h0M232 799.7h0M464.6 810.8h0M499.3 811.9h0M402.1 938.7h0M179.9 956.1h0M288.7 944.8h0M317.7 781.3h0M516.7 916.1h0M519 912.6h0M530.6 807.8h0M377.8 780.8h0M233.2 952.5h0M534.1 797.7h0M198.4 805h0M184.6 813.9h0M465.8 915.1h0M195 956.9h0M249.4 951.2h0M156.8 965.8h0M493.6 802.3h0M388.2 910.2h0M235.5 816.3h0M420.7 917.3h0M203.1 957.7h0M333.9 785.7h0M212.3 803.5h0M391.7 787.1h0M264.4 949.7h0M355.8 793.1h0M176.5 961.7h0M225.1 814.7h0M424.1 924.4h0M252.8 802.2h0M534.1 923.3h0M385.9 915.9h0M176.5 827.2h0M504 916.5h0M449.6 811.7h0M381.3 928.5h0M156.8 829h0M274.8 790.2h0M553.7 909.2h0M544.5 821.8h0M219.3 953.5h0M379 911.3h0M215.8 962.7h0M241.3 950.4h0M310.7 928.4h0M542.2 925.9h0M433.4 930.2h0M301.4 933.8h0M367.4 933.8h0M314.2 932h0M381.3 788.4h0M343.1 930.6h0M411.4 795.9h0M412.5 796.1h0M204.2 818h0M428.8 783h0M190.3 955.1h0M237.8 952.3h0M307.2 926.4h0M258.6 944.2h0M282.9 939.4h0M403.3 934.3h0M404.4 917.9h0M282.9 790.7h0M265.6 955.5h0M279.5 790h0M347.7 788.4h0M478.5 809.1h0M468.1 922.8h0M242.4 954.4h0M439.2 793.8h0M338.5 924.5h0M331.5 795.8h0M159.1 836.5h0M519 814.8h0M348.9 790.7h0M514.4 803.8h0M442.6 798.6h0M552.6 819.6h0M543.3 932.8h0M567.6 809.4h0M177.6 820.1h0M529.4 901.7h0M276 792.9h0M182.2 963.2h0M284.1 791.1h0M291 802.5h0M544.5 926.9h0M480.8 807.3h0M186.9 822.5h0M454.2 932h0M267.9 946.9h0M515.5 810.4h0M355.8 937.4h0M498.2 917.2h0M198.4 952.6h0M284.1 934.1h0M528.3 814.6h0M399.8 796.7h0M472.7 811.2h0M215.8 813.9h0M311.9 787.1h0M188 964.9h0M423 920h0M263.3 937.4h0M262.1 937.2h0M461.2 909.7h0M197.3 946.7h0M532.9 913.8h0M507.4 914h0M392.9 922.8h0M552.6 920.5h0M266.7 946.9h0M181.1 827.3h0M313 937.6h0M266.7 810.6h0M539.9 923.4h0M373.2 791.7h0M292.2 940h0M239 946.8h0M435.7 922.4h0M568.8 811.7h0M372 914.8h0M492.4 791.2h0M167.2 967.3h0M217 961.9h0M522.5 919.9h0M429.9 920.8h0M425.3 924.2h0M338.5 793.6h0M168.4 955.3h0M295.7 937.4h0M262.1 799.8h0M303.8 922.4h0M299.1 791h0M214.7 957.8h0M405.6 803h0M368.6 785.1h0M307.2 807.2h0M550.3 815.1h0" stroke="#0F7DC2" stroke-width="7.2" stroke-linecap="round" fill="none"/>
<path d="M314.2 803.7h0M539.9 966.4h0M399.8 900.9h0M266.7 976.6h0M383.6 784.9h0M418.3 912h0M264.4 975.5h0M166 877.6h0M200.8 991.6h0M369.7 814.3h0M276 969h0M387.1 794.5h0M428.8 913.6h0M528.3 799.4h0M557.2 855.4h0M272.5 963.2h0M506.3 926.6h0M185.7 1005.4h0M499.3 840.2h0M473.9 887.8h0M472.7 896.6h0M480.8 821.7h0M506.3 825.2h0M410.2 805.3h0M428.8 804.5h0M535.2 967.2h0M472.7 812.6h0M153.3 900.1h0M381.3 797.3h0M313 790.7h0M326.9 794.2h0M553.7 977.8h0M499.3 938.1h0M401 902.5h0M367.4 911.4h0M227.4 832.3h0M237.8 826.6h0M360.5 808.2h0M299.1 939h0M453.1 799.8h0M164.9 847.4h0M274.8 991.2h0M475 804.7h0M433.4 803.7h0M530.6 914.9h0M382.5 797.7h0M476.2 903h0M286.4 818h0M318.8 790.8h0M198.4 976.6h0M464.6 793.5h0M313 922h0M170.7 885.1h0M232 981.3h0M188 993.2h0M568.8 1003.1h0M226.2 996.1h0M460 807.6h0M234.3 985.8h0M551.4 864.2h0M235.5 825.1h0M434.5 899.9h0M485.5 936.1h0M240.1 807.4h0M259.8 824.2h0M508.6 931.9h0M322.3 784.6h0M242.4 966.9h0M456.5 810.9h0M323.4 794.8h0M299.1 815.9h0M315.3 805.8h0M252.8 977.6h0M451.9 928.6h0M200.8 850.6h0M269 817.1h0M397.5 784.5h0M445 914h0M390.6 917.4h0M372 923.8h0M317.7 801.5h0M465.8 916.3h0M347.7 919.7h0M360.5 901.8h0M414.9 795.2h0M343.1 817.7h0M486.6 916.1h0M306.1 815.2h0M553.7 841.6h0M476.2 803.9h0M337.3 809.1h0M211.2 851.5h0M431.1 931.9h0M357 912h0M373.2 906.7h0M262.1 950.6h0M249.4 973h0M167.2 1046.2h0M427.6 794.8h0M294.5 948.9h0M528.3 900.2h0M549.1 976.3h0M447.3 909.1h0M210 860.6h0M548 827.2h0M494.7 973.8h0M505.1 937h0M409.1 802.1h0M314.2 944.2h0M569.9 948.1h0M282.9 829.8h0M491.2 808.7h0M421.8 791.6h0M220.4 984.3h0M522.5 930.5h0M320 793.4h0M554.9 1020.8h0M333.9 938.7h0M203.1 870.8h0M160.3 873.4h0M279.5 942.5h0M351.2 905.4h0M516.7 817.4h0M512.1 802.5h0M389.4 919.6h0M284.1 965.9h0M543.3 828.2h0M381.3 912.1h0M329.2 915.6h0M495.9 804.9h0M153.3 968.4h0M359.3 906.8h0M206.6 864.9h0M258.6 823.6h0M565.3 984.1h0M373.2 799.4h0M316.5 808.2h0M277.1 813h0M324.6 918.2h0M411.4 797.3h0M281.8 813.8h0M413.7 901.9h0M473.9 810.9h0M470.4 931.7h0M425.3 910.5h0M250.5 815.5h0M346.6 803.5h0M361.6 810.5h0M538.7 953.8h0M395.2 903h0M377.8 918.2h0M262.1 837.1h0M488.9 814.3h0M295.7 807.5h0M466.9 902.7h0M560.7 944.5h0M532.9 830h0M228.5 987.3h0M161.4 880.7h0M296.8 807.2h0M516.7 941.8h0M344.3 806h0M160.3 969.3h0M173 1013.2h0M515.5 927.1h0M362.8 913.8h0M240.1 977.9h0M375.5 895.2h0M475 895.6h0M335 804.7h0M558.4 975.7h0M210 982h0M561.8 950.3h0M388.2 910.7h0M509.8 928.4h0M399.8 798.1h0M501.7 941.5h0M449.6 805.5h0M420.7 799.3h0M223.9 841.9h0M368.6 815.1h0M380.1 924h0M300.3 950.7h0M217 832.8h0M493.6 969.3h0M280.6 802.9h0M214.7 824.6h0M407.9 907.8h0M212.3 824.2h0M250.5 980.4h0M186.9 877.5h0M294.5 810.8h0M311.9 786.4h0M534.1 834.3h0M433.4 917.3h0M541 818.9h0M328.1 916.1h0M396.3 910h0M296.8 949.3h0M450.7 804.9h0M190.3 942.3h0M432.2 809.6h0M265.6 825.5h0M454.2 905.9h0M545.6 973.2h0M405.6 900.1h0M330.4 915.2h0M391.7 790.8h0M526 917.1h0M507.4 806.1h0M482 943.8h0M257.5 941h0M244.7 837.2h0M441.5 892.3h0M438 801.5h0M531.8 822.1h0M363.9 926.6h0M338.5 808h0M289.9 804.2h0M241.3 979.9h0M336.2 935.7h0M463.5 888.8h0M406.8 895.5h0M524.8 832.6h0M382.5 896h0M514.4 814.8h0M565.3 859.8h0M559.5 856.3h0M361.6 901h0M309.6 810.5h0M245.9 966.5h0M345.4 803.6h0M277.1 972.5h0M487.8 817.6h0M342 807.9h0M561.8 864h0M556.1 1004.1h0M205.4 997.4h0M427.6 917.6h0M289.9 940.5h0M440.3 923.9h0M323.4 936h0M235.5 970.2h0M571.1 897.1h0" stroke="#FA6014" stroke-width="7.2" stroke-linecap="round" fill="none"/>
<defs><path id="L10omax" d="M152.2 870.6 L161.5 866.5 L170.9 862.4 L180.2 858.3 L189.6 854.1 L199.0 849.9 L208.3 845.5 L217.7 841.1 L227.0 836.7 L236.4 832.2 L245.8 827.8 L255.1 823.5 L264.5 819.3 L273.9 815.4 L283.2 811.7 L292.6 808.3 L301.9 805.3 L311.3 802.6 L320.7 800.3 L330.0 798.5 L339.4 797.1 L348.7 796.1 L358.1 795.3 L367.5 794.9 L376.8 794.6 L386.2 794.4 L395.6 794.4 L404.9 794.5 L414.3 794.8 L423.6 795.5 L433.0 796.6 L442.4 798.1 L451.7 800.2 L461.1 802.7 L470.4 805.6 L479.8 809.0 L489.2 812.7 L498.5 816.8 L507.9 821.2 L517.2 826.1 L526.6 831.5 L536.0 837.7 L545.3 844.7 L554.7 852.7 L564.1 861.7 L573.4 871.3"/></defs>
<use href="#L10omax" stroke="#FA6014" stroke-opacity="0.35" stroke-width="8" fill="none" stroke-linejoin="round"/>
<use href="#L10omax" stroke="#FA6014" stroke-width="4.3" fill="none" stroke-linejoin="round"/>
<defs><path id="L10omin" d="M152.2 1005.4 L161.5 1002.6 L170.9 999.8 L180.2 997.0 L189.6 994.1 L199.0 991.1 L208.3 988.0 L217.7 984.9 L227.0 981.6 L236.4 978.0 L245.8 974.3 L255.1 970.2 L264.5 965.8 L273.9 961.0 L283.2 955.9 L292.6 950.6 L301.9 945.1 L311.3 939.8 L320.7 934.5 L330.0 929.5 L339.4 924.8 L348.7 920.6 L358.1 916.8 L367.5 913.5 L376.8 910.9 L386.2 908.9 L395.6 907.5 L404.9 906.9 L414.3 907.0 L423.6 907.8 L433.0 909.4 L442.4 911.7 L451.7 914.7 L461.1 918.3 L470.4 922.5 L479.8 927.1 L489.2 932.1 L498.5 937.4 L507.9 942.9 L517.2 948.9 L526.6 955.8 L536.0 963.7 L545.3 973.1 L554.7 984.2 L564.1 997.2 L573.4 1011.3"/></defs>
<use href="#L10omin" stroke="#FA6014" stroke-opacity="0.35" stroke-width="8" fill="none" stroke-linejoin="round"/>
<use href="#L10omin" stroke="#FA6014" stroke-width="4.3" fill="none" stroke-linejoin="round"/>
<defs><path id="L10bmax" d="M152.2 827.9 L161.5 825.1 L170.9 822.3 L180.2 819.5 L189.6 816.7 L199.0 814.0 L208.3 811.4 L217.7 808.9 L227.0 806.5 L236.4 804.2 L245.8 802.0 L255.1 799.9 L264.5 798.0 L273.9 796.2 L283.2 794.5 L292.6 793.1 L301.9 791.9 L311.3 790.9 L320.7 790.2 L330.0 789.8 L339.4 789.7 L348.7 789.9 L358.1 790.2 L367.5 790.7 L376.8 791.4 L386.2 792.0 L395.6 792.8 L404.9 793.5 L414.3 794.3 L423.6 795.2 L433.0 796.2 L442.4 797.3 L451.7 798.5 L461.1 799.7 L470.4 801.0 L479.8 802.3 L489.2 803.6 L498.5 804.9 L507.9 806.2 L517.2 807.4 L526.6 808.6 L536.0 809.9 L545.3 811.2 L554.7 812.6 L564.1 814.1 L573.4 815.7"/></defs>
<use href="#L10bmax" stroke="#0F7DC2" stroke-opacity="0.35" stroke-width="8" fill="none" stroke-linejoin="round"/>
<use href="#L10bmax" stroke="#0F7DC2" stroke-width="4.3" fill="none" stroke-linejoin="round"/>
<defs><path id="L10bmin" d="M152.2 962.7 L161.5 961.9 L170.9 961.0 L180.2 960.1 L189.6 959.1 L199.0 957.8 L208.3 956.4 L217.7 954.8 L227.0 952.9 L236.4 950.9 L245.8 948.7 L255.1 946.5 L264.5 944.2 L273.9 941.9 L283.2 939.6 L292.6 937.4 L301.9 935.4 L311.3 933.4 L320.7 931.7 L330.0 930.1 L339.4 928.8 L348.7 927.7 L358.1 926.7 L367.5 925.8 L376.8 925.0 L386.2 924.1 L395.6 923.3 L404.9 922.4 L414.3 921.6 L423.6 920.7 L433.0 920.0 L442.4 919.3 L451.7 918.6 L461.1 918.1 L470.4 917.8 L479.8 917.6 L489.2 917.7 L498.5 918.0 L507.9 918.7 L517.2 919.8 L526.6 921.2 L536.0 923.0 L545.3 925.3 L554.7 928.2 L564.1 931.5 L573.4 935.1"/></defs>
<use href="#L10bmin" stroke="#0F7DC2" stroke-opacity="0.35" stroke-width="8" fill="none" stroke-linejoin="round"/>
<use href="#L10bmin" stroke="#0F7DC2" stroke-width="4.3" fill="none" stroke-linejoin="round"/>
<rect x="621.6" y="732.6" width="462.6" height="472.8" fill="#fff" stroke="#ADADAD" stroke-width="2.2"/>
<g stroke="#fff"><path d="M640.5 731.5V1206.5" stroke-width="5.8"/><path d="M698.4 731.5V1206.5" stroke-width="2.9"/><path d="M756.2 731.5V1206.5" stroke-width="5.8"/><path d="M814.1 731.5V1206.5" stroke-width="2.9"/><path d="M872.0 731.5V1206.5" stroke-width="5.8"/><path d="M929.8 731.5V1206.5" stroke-width="2.9"/><path d="M987.7 731.5V1206.5" stroke-width="5.8"/><path d="M1045.6 731.5V1206.5" stroke-width="2.9"/><path d="M620.5 1155.7H1085.3" stroke-width="2.9"/><path d="M620.5 1089.3H1085.3" stroke-width="5.8"/><path d="M620.5 1022.8H1085.3" stroke-width="2.9"/><path d="M620.5 956.4H1085.3" stroke-width="5.8"/><path d="M620.5 889.9H1085.3" stroke-width="2.9"/><path d="M620.5 823.5H1085.3" stroke-width="5.8"/><path d="M620.5 757.0H1085.3" stroke-width="2.9"/></g>
<path d="M773.6 875.7h0M847.7 821.3h0M965.7 810.4h0M990 911.9h0M859.2 919.4h0M852.3 888.7h0M943.7 823.8h0M762 787.8h0M881.2 816h0M800.2 815.7h0M801.4 796.7h0M826.8 913h0M1051.3 789h0M675.2 957.2h0M1012 900.3h0M645.1 815.4h0M760.9 915.5h0M1001.6 826.2h0M831.5 897.1h0M735.4 920.5h0M911.3 897.9h0M847.7 905.7h0M744.7 777.8h0M1037.5 932.5h0M874.3 906.1h0M897.4 913.8h0M666 822.2h0M919.4 835.9h0M965.7 916.5h0M756.2 919.3h0M727.3 791.3h0M674.1 808.8h0M925.2 907.5h0M755.1 913.3h0M814.1 801.2h0M887 921.9h0M709.9 801.7h0M899.7 922h0M796.7 901.4h0M926.4 913.2h0M981.9 908.1h0M994.6 828h0M812.9 915.4h0M934.5 900.8h0M1002.7 902.7h0M836.1 915.7h0M747 797.3h0M920.6 888.3h0M830.3 913.5h0M670.6 811.1h0M744.7 910.7h0M880.1 928.1h0M662.5 798h0M757.4 916.7h0M845.3 892.3h0M969.2 917.6h0M996.9 908.1h0M1036.3 804.2h0M738.9 915.2h0M681 928.6h0M1023.6 815.8h0M918.3 838.9h0M766.6 907.4h0M780.5 781.1h0M1008.5 814.6h0M852.3 810.3h0M1051.3 923.6h0M775.9 778.8h0M848.8 900.7h0M772.4 791.8h0M1013.2 906.7h0M892.8 832.1h0M681 800.1h0M1015.5 817.3h0M927.5 909.4h0M647.4 933.3h0M738.9 799.1h0M838.4 825.8h0M780.5 911.2h0M715.7 785.2h0M700.7 915.1h0M728.5 922.7h0M1057.1 926.6h0M910.2 830.3h0M758.5 766.6h0M903.2 839.3h0M980.7 898.5h0M1058.3 824.1h0M904.4 817.2h0M890.5 892.9h0M1050.2 805h0M646.3 936.1h0M779.4 899.6h0M824.5 808.7h0M770.1 897.5h0M950.7 822h0M953 936.7h0M882.4 829.2h0M641.7 816.2h0M1034 899.1h0M956.4 918.6h0M924 841.2h0M829.1 825.7h0M999.3 807.8h0M1050.2 895.3h0M679.8 943.8h0M690.3 919.2h0M749.3 902.8h0M843 831.4h0M719.2 785.7h0M759.7 785.8h0M788.6 768.1h0M685.6 803.8h0M709.9 920.6h0M712.3 931.1h0M687.9 806.2h0M912.5 830.3h0M735.4 782.3h0M721.5 906.8h0M855.8 821.6h0M1046.7 814.7h0M924 912.2h0M1053.7 820.6h0M656.7 835.2h0M793.3 909.4h0M984.2 920.6h0M832.6 808.2h0M900.9 919.2h0M1035.1 907.1h0M648.6 930.4h0M826.8 811.5h0M743.5 784.9h0M718 916.9h0M787.5 767.9h0M811.8 783.9h0M1061.8 894.7h0M866.2 922h0M936.8 894.1h0M697.2 781.8h0M737.7 788.9h0M821 903.5h0M642.8 938.5h0M951.8 924.9h0M888.2 910.9h0M745.8 789.1h0M944.9 829.9h0M1017.8 916.2h0M915.9 817.5h0M752.8 787.8h0M793.3 783.9h0M840.7 900h0M993.5 821h0M756.2 761.2h0M704.2 909.1h0M964.5 916.8h0M939.1 819.2h0M736.6 762.7h0M834.9 812.4h0M814.1 920.2h0M778.2 784.3h0M766.6 809.2h0M686.8 809h0M990 825.5h0M725 921.5h0M1005 904.9h0M698.4 917h0M935.6 808.2h0M1006.2 817.1h0M1001.6 897.2h0M853.4 818.4h0M1022.4 910.1h0M1014.3 909.5h0M867.3 803.9h0M668.3 806.9h0M926.4 834.3h0M784 909.2h0M983.1 809.1h0M991.2 904.2h0M917.1 828.9h0M752.8 913.3h0M705.3 896.9h0M781.7 919.8h0M858.1 916.9h0M1046.7 911.9h0M765.5 920.5h0M891.6 910.6h0M987.7 820.7h0M962.2 909h0M979.6 894.1h0M751.6 920.3h0M731.9 923.5h0M1049 898.4h0M959.9 926.6h0M701.8 796.9h0M1030.5 824.9h0M1040.9 807.1h0M1059.4 903.9h0M740 907.7h0M699.5 792.2h0M663.6 909.3h0M985.4 821.7h0M678.7 813.7h0M659 809.8h0M867.3 917.3h0M742.3 793.2h0M833.8 906h0M700.7 803.1h0M848.8 829.8h0M977.3 809.6h0M782.8 921.4h0M888.2 836.1h0M862.7 913.6h0M975 903.1h0M822.2 910.2h0M884.7 820.1h0M786.3 908.6h0M838.4 911h0M661.3 807.5h0M801.4 907.6h0M844.2 829.8h0M777.1 893.7h0M940.2 899.5h0M809.5 813.9h0M711.1 769.5h0M947.2 835.5h0M984.2 797.9h0M721.5 794.4h0M799.1 896.5h0M672.9 943h0M815.3 808.6h0M986.5 814.4h0M767.8 803.3h0M733.1 925.7h0M807.2 815.5h0M749.3 783.6h0M1015.5 931.4h0M834.9 904.3h0M797.9 803.6h0M895.1 910.3h0M904.4 916.5h0M937.9 816.8h0M893.9 836.1h0M771.3 899.1h0" stroke="#0F7DC2" stroke-width="7.2" stroke-linecap="round" fill="none"/>
<path d="M773.6 932.2h0M935.6 809.2h0M972.6 806.8h0M713.4 804.5h0M1027 941.5h0M661.3 974.7h0M824.5 812h0M868.5 909.4h0M753.9 793.1h0M705.3 805.2h0M668.3 804.5h0M687.9 804.7h0M704.2 805.5h0M999.3 926.8h0M927.5 812.2h0M693.7 953.3h0M818.7 911.9h0M742.3 798.9h0M1003.9 810.9h0M669.4 810.2h0M988.8 937.2h0M904.4 807.5h0M703 941.3h0M1038.6 830.8h0M1057.1 829h0M874.3 784.8h0M670.6 947.7h0M698.4 812.2h0M946 810.2h0M907.8 794.3h0M990 918.9h0M890.5 794.3h0M991.2 814.8h0M955.3 909.7h0M763.2 912h0M1017.8 937.3h0M964.5 813.5h0M883.5 807.3h0M755.1 930.3h0M940.2 803.9h0M781.7 793.5h0M1062.9 970.1h0M1025.9 934.4h0M1015.5 815.5h0M766.6 919.8h0M740 929.3h0M983.1 906.3h0M762 917h0M765.5 906.7h0M773.6 797.8h0M898.6 818h0M848.8 788.4h0M933.3 812.2h0M718 934.7h0M1010.8 934.3h0M862.7 920.3h0M1024.7 936.6h0M981.9 911.3h0M975 816.6h0M874.3 909.3h0M1046.7 959.6h0M769 909.3h0M796.7 891.4h0M800.2 804.1h0M912.5 807.2h0M1029.4 804.6h0M752.8 786.4h0M845.3 909.9h0M694.9 805.4h0M778.2 787.5h0M928.7 815.8h0M868.5 821.6h0M865 806.8h0M744.7 800.4h0M1014.3 929.6h0M1035.1 941.4h0M759.7 800.1h0M714.6 797.1h0M1022.4 918.6h0M727.3 800.9h0M737.7 792h0M789.8 895.5h0M992.3 944.2h0M922.9 805.8h0M895.1 912.5h0M720.4 807.4h0M1049 817.3h0M689.1 807.5h0M709.9 808.5h0M830.3 927h0M808.3 909.5h0M1044.4 831h0M1043.2 944.5h0M753.9 939.9h0M692.6 954.5h0M979.6 928.4h0M976.1 936h0M911.3 796h0M738.9 921h0M737.7 910.1h0M720.4 937h0M843 906.7h0M666 966.9h0M1052.5 964.7h0M821 922.4h0M965.7 817.8h0M698.4 940.8h0M903.2 921.4h0M863.9 925.9h0M706.5 949.5h0M669.4 948.6h0M1045.6 947.8h0M980.7 930.4h0M911.3 914.7h0M749.3 806.7h0M902 814.7h0M671.7 810.6h0M725 798.1h0M701.8 957.5h0M899.7 902.3h0M726.1 955h0M926.4 896.9h0M1006.2 824.7h0M690.3 803.2h0M940.2 903.7h0M897.4 818.6h0M925.2 910.6h0M906.7 908h0M741.2 795.2h0M1031.7 938.5h0M845.3 805h0M799.1 807.2h0M999.3 813.9h0M819.9 810.8h0M984.2 820.5h0M832.6 796.7h0M1030.5 943.7h0M844.2 920h0M855.8 802h0M919.4 916.1h0M723.8 798.3h0M767.8 782h0M759.7 917.7h0M662.5 814.3h0M837.2 891.2h0M1042.1 821.6h0M789.8 797.7h0M877.7 908.8h0M990 819.5h0M897.4 912h0M937.9 906.3h0M810.6 791.3h0M712.3 805.9h0M947.2 804h0M1001.6 818.4h0M679.8 958.8h0M987.7 826.9h0M1051.3 822.4h0M959.9 925.9h0M963.4 919.3h0M649.8 976.3h0M932.1 915.7h0M889.3 796.5h0M809.5 915.3h0M786.3 807.2h0M885.8 908h0M1006.2 930.8h0M705.3 949.4h0M854.6 806h0M928.7 926.4h0M736.6 785h0M661.3 817.7h0M735.4 785.7h0M794.4 792.5h0M646.3 965.3h0M1031.7 817.5h0M828 918.3h0M663.6 981.1h0M918.3 902.5h0M666 819.7h0M818.7 800h0M961.1 812.2h0M1025.9 817.5h0M900.9 926.9h0M912.5 902h0M771.3 916h0M851.1 879.7h0M951.8 802.9h0M947.2 919.6h0M906.7 802.3h0M699.5 813.5h0M803.7 897.4h0M893.9 810.2h0M896.3 923.7h0M1009.7 941.3h0M806 914.7h0M668.3 933.8h0M861.5 813.4h0M725 950.9h0M756.2 798.5h0M826.8 797.8h0M875.4 793.6h0M719.2 797.4h0M750.4 800.8h0M910.2 790.3h0M690.3 936.3h0M1013.2 808.9h0M834.9 801.6h0M801.4 797.1h0M892.8 894.2h0M881.2 919.9h0M770.1 785.3h0M689.1 941.7h0M919.4 815.5h0M678.7 811.2h0M1003.9 919.9h0M645.1 956.1h0M681 800.3h0M1032.8 938.7h0M1057.1 947.6h0M865 916.9h0M956.4 925.2h0M795.6 810.8h0M641.7 955.6h0M787.5 805.2h0M1053.7 839.7h0M944.9 820.1h0M733.1 799.1h0M948.3 915.7h0M675.2 960.3h0M994.6 799.1h0M878.9 810.6h0M748.1 796.2h0M863.9 813.6h0M870.8 795.5h0M1015.5 939h0M833.8 916.8h0M914.8 808.1h0M1012 804.3h0M834.9 905.1h0M758.5 924.4h0M1054.8 932.5h0M687.9 946.3h0" stroke="#FA6014" stroke-width="7.2" stroke-linecap="round" fill="none"/>
<path d="M868.5 913.6h0M907.8 824.9h0M1002.7 835.4h0M716.9 909.2h0M976.1 907.6h0M931 836.3h0M841.9 902.7h0M841.9 837h0M876.6 910.8h0M937.9 877.7h0M991.2 822.4h0M929.8 916.3h0M850 909h0M1028.2 905h0M802.5 924.4h0M809.5 909.5h0M802.5 809.5h0M645.1 934.3h0M660.2 802.8h0M705.3 803.3h0M672.9 810.2h0M787.5 904.8h0M808.3 807.4h0M683.3 936.5h0M773.6 800.4h0M653.2 814.5h0M690.3 795.7h0M819.9 920.8h0M947.2 906.5h0M741.2 912.8h0M892.8 918.4h0M825.7 823.1h0M862.7 819.6h0M755.1 781.9h0M907.8 893.5h0M1042.1 810.7h0M831.5 809h0M898.6 823h0M1024.7 826h0M836.1 821.7h0M957.6 830.6h0M850 832h0M1043.2 901.9h0M1016.6 829.5h0M654.4 945.9h0M942.6 831h0M649.8 943.9h0M932.1 906.8h0M899.7 829.7h0M740 804.5h0M725 787h0M1014.3 800.5h0M693.7 800.9h0M956.4 834.4h0M877.7 922.8h0M902 825.5h0M656.7 932.6h0M972.6 916.2h0M774.7 789h0M703 906.4h0M983.1 897.6h0M806 805.3h0M988.8 823.2h0M662.5 914h0M714.6 782.9h0M1024.7 898.8h0M1000.4 813.8h0M844.2 896.5h0M810.6 920.9h0M897.4 819.1h0M1010.8 822h0M698.4 795.4h0M644 940.6h0M795.6 904.8h0M999.3 926.8h0M882.4 903.4h0M922.9 822.8h0M846.5 822.4h0M955.3 834.7h0M936.8 818.1h0M689.1 933.9h0M816.4 891.2h0M790.9 888.3h0M970.3 837.6h0M845.3 819.4h0M1018.9 823.7h0M828 914.5h0M885.8 914.7h0M804.8 911.4h0M896.3 921.8h0M769 890h0M728.5 806.7h0M684.5 813.6h0M1062.9 814.7h0M1039.8 909.6h0M674.1 943.7h0M757.4 760.4h0M825.7 889h0M720.4 916.6h0M748.1 800.3h0M837.2 912.6h0M786.3 787.6h0M883.5 909.2h0M885.8 818.5h0M878.9 930h0M953 831.3h0M685.6 949.7h0M995.8 830.3h0M1020.1 912.1h0M968 817.3h0M741.2 802h0M870.8 829.3h0M1029.4 916.1h0M1034 809.5h0M649.8 830.8h0M817.6 816.4h0M714.6 926h0M919.4 911.4h0M706.5 782.1h0M644 826.6h0M1030.5 913.7h0M876.6 812.7h0M1029.4 823.7h0M909 886.3h0M914.8 835.6h0M784 783.5h0M861.5 818.4h0M906.7 903.2h0M1054.8 918.3h0M706.5 901.8h0M794.4 910h0M927.5 834.3h0M1012 800.6h0M723.8 909h0M1025.9 896.3h0M863.9 812.3h0M726.1 784.3h0M707.6 911.2h0M779.4 791h0M715.7 920.8h0M961.1 911.9h0M861.5 902.2h0M771.3 792.3h0M726.1 914.9h0M736.6 928h0M1060.6 825.3h0M769 802.2h0M1018.9 905.3h0M973.8 912.6h0M928.7 835h0M874.3 802.9h0M905.5 810.9h0M1023.6 903.8h0M797.9 894.7h0M711.1 921.9h0M959.9 829.7h0M1013.2 818.3h0M748.1 892.4h0M760.9 782.2h0M860.4 906.7h0M694.9 914.7h0M713.4 784.4h0M1043.2 822.4h0M770.1 797.5h0M840.7 827.4h0M762 917.5h0M891.6 826.7h0M648.6 816.5h0M750.4 891.6h0M790.9 800.1h0M917.1 927.3h0M832.6 905.6h0M913.6 906h0M806 920.3h0M722.7 795.9h0M1038.6 917.9h0M928.7 922.9h0M1032.8 902.3h0M718 773.8h0M745.8 901.3h0M893.9 910.9h0M661.3 904.9h0M872 914.2h0M687.9 931.8h0M873.1 812h0M963.4 815.6h0M824.5 900.1h0M878.9 816.4h0M963.4 906h0M1039.8 822h0M869.6 924.2h0M677.5 939.4h0M667.1 910.5h0M932.1 825.1h0M817.6 891.6h0M870.8 926h0M978.4 892.3h0M653.2 934.9h0M913.6 821.6h0M679.8 817.6h0M727.3 923.3h0M716.9 777.4h0M933.3 885.6h0M785.2 793.9h0M855.8 897.2h0M778.2 908.2h0M1045.6 824.4h0M833.8 793.8h0M995.8 902h0M795.6 798.9h0M1010.8 898.8h0M943.7 901.2h0M949.5 900.5h0M1060.6 900.6h0M763.2 775.6h0M880.1 823h0M720.4 785.2h0M1009.7 821.2h0M659 909.3h0M898.6 918.5h0M699.5 912.4h0M684.5 944.3h0M734.2 785.3h0M1052.5 805.6h0M828 814.8h0M890.5 838.2h0M851.1 817.5h0M668.3 915h0M676.4 946.2h0M1009.7 909.8h0M896.3 826.3h0M925.2 839.7h0M1025.9 818.5h0M1016.6 920.4h0M920.6 827h0M807.2 913.9h0M1044.4 827.7h0M961.1 828.3h0M759.7 905.9h0M812.9 797.2h0M808.3 919.4h0M823.4 810.6h0M1036.3 918.7h0" stroke="#0F7DC2" stroke-width="7.2" stroke-linecap="round" fill="none"/>
<path d="M829.1 808h0M727.3 951.8h0M794.4 914.5h0M924 911.4h0M907.8 930.2h0M816.4 920h0M892.8 795.4h0M963.4 825.1h0M742.3 922.6h0M918.3 816.7h0M987.7 936.5h0M1050.2 957.1h0M1030.5 812.1h0M664.8 966.5h0M846.5 797.3h0M887 809.7h0M927.5 914.2h0M745.8 911.1h0M709.9 928.6h0M860.4 798.5h0M730.8 929h0M726.1 804.6h0M644 831.3h0M838.4 894.5h0M803.7 794.7h0M765.5 798.7h0M979.6 799.2h0M792.1 906.2h0M954.1 791.4h0M1029.4 945.1h0M856.9 913.1h0M873.1 799.1h0M859.2 901.5h0M654.4 957.9h0M779.4 916h0M656.7 958.1h0M712.3 924.3h0M891.6 906.6h0M777.1 801.9h0M1002.7 812.8h0M991.2 923h0M1016.6 939.9h0M1056 938.7h0M977.3 934.9h0M751.6 904h0M846.5 907h0M730.8 813.7h0M755.1 791.2h0M869.6 807.5h0M808.3 795.5h0M939.1 812.4h0M968 915h0M716.9 794.1h0M996.9 923.1h0M650.9 972.5h0M838.4 792.6h0M988.8 826.3h0M825.7 911.9h0M729.6 802.7h0M951.8 905.4h0M922.9 902.3h0M876.6 899h0M762 799.1h0M876.6 815.7h0M647.4 814.8h0M788.6 803.1h0M738.9 789.1h0M677.5 823.1h0M657.9 950.6h0M648.6 822.3h0M976.1 811.4h0M924 802.5h0M853.4 887h0M860.4 902.4h0M817.6 801.8h0M763.2 787h0M880.1 807.8h0M683.3 803.6h0M722.7 802.5h0M839.6 782.6h0M782.8 918.1h0M801.4 901.1h0M676.4 813h0M1022.4 813h0M941.4 794.2h0M793.3 914.9h0M660.2 823.4h0M885.8 808.2h0M1045.6 831h0M829.1 902.9h0M1050.2 820.1h0M941.4 920.8h0M1007.4 807.9h0M872 799.8h0M714.6 926.1h0M913.6 810.7h0M667.1 953.7h0M812.9 906.6h0M811.8 907.1h0M984.2 935.6h0M978.4 804h0M664.8 814.4h0M903.2 817h0M957.6 935h0M1062.9 820.4h0M1013.2 942h0M792.1 790h0M932.1 812.3h0M929.8 924.3h0M1061.8 832.7h0M683.3 944.8h0M973.8 812.9h0M1023.6 808.1h0M852.3 886.3h0M935.6 920.3h0M671.7 947h0M1018.9 822.7h0M823.4 793h0M944.9 926.4h0M653.2 967.5h0M950.7 916.4h0M697.2 945h0M740 793.7h0M905.5 808.1h0M807.2 806.4h0M1052.5 827.4h0M780.5 914.2h0M921.7 807.1h0M981.9 806.8h0M728.5 795.3h0M743.5 806.7h0M1047.9 811.2h0M701.8 808.1h0M1054.8 841.1h0M654.4 815h0M959.9 813.1h0M815.3 906h0M696.1 809.8h0M1021.3 800.5h0M830.3 821.8h0M748.1 914.8h0M1056 837.4h0M931 809.1h0M975 920.3h0M1032.8 828.5h0M958.8 935.1h0M1000.4 926.4h0M1038.6 941h0M942.6 922.8h0M888.2 920.7h0M861.5 898.1h0M707.6 933.2h0M934.5 826.1h0M840.7 907.1h0M950.7 808.9h0M970.3 917.7h0M994.6 932.2h0M655.5 956.1h0M641.7 822.9h0M936.8 920.9h0M750.4 911.8h0M844.2 800.6h0M786.3 908.3h0M831.5 813.5h0M697.2 816.1h0M706.5 814.8h0M764.3 783.7h0M1042.1 944.3h0M655.5 820h0M921.7 905.3h0M657.9 820.5h0M836.1 886.7h0M920.6 816.4h0M778.2 915.7h0M972.6 912.1h0M691.4 803.6h0M686.8 944.1h0M734.2 794h0M771.3 785.9h0M735.4 911.8h0M998.1 809.6h0M1046.7 824.3h0M795.6 900.8h0M708.8 928.2h0M986.5 819.1h0M822.2 804.4h0M1017.8 822.9h0M1009.7 806.4h0M917.1 903h0M957.6 811.4h0M677.5 962.9h0M843 804.9h0M953 910.7h0M1020.1 933.9h0M747 919.8h0M815.3 806.2h0M977.3 817.7h0M840.7 803.2h0M693.7 814.9h0M715.7 926.4h0M1014.3 806h0M1010.8 803h0M782.8 779.4h0M751.6 792.6h0M985.4 929.3h0M711.1 791.5h0M978.4 940.5h0M998.1 925.9h0M685.6 807.3h0M716.9 922.8h0M802.5 799h0M956.4 801.5h0M905.5 910h0M1036.3 840.9h0M996.9 804.9h0M733.1 929.6h0M888.2 808.6h0M745.8 788h0M684.5 798h0M867.3 811.2h0M980.7 802.5h0M831.5 896.4h0M814.1 812.7h0M728.5 938.7h0M1060.6 976.4h0M1043.2 827.8h0M787.5 906.6h0M694.9 937.3h0M659 952.8h0M1036.3 944.1h0M832.6 905.9h0M1005 925h0M779.4 791.6h0M909 802.9h0M1059.4 833.5h0M889.3 928.7h0M1028.2 808.5h0M915.9 809.6h0M647.4 979.3h0M758.5 799.3h0M721.5 799.9h0M917.1 808.9h0M649.8 816.8h0" stroke="#FA6014" stroke-width="7.2" stroke-linecap="round" fill="none"/>
<path d="M962.2 819.7h0M701.8 908.5h0M950.7 912.9h0M1003.9 823.2h0M696.1 917.8h0M719.2 909.7h0M789.8 777.5h0M683.3 797.1h0M973.8 835.8h0M942.6 906.8h0M1031.7 900.9h0M985.4 913.2h0M671.7 809.8h0M729.6 930.8h0M968 916.6h0M910.2 903.5h0M811.8 918.4h0M733.1 797h0M935.6 910.1h0M998.1 944.3h0M767.8 890h0M785.2 918.5h0M865 926.6h0M858.1 817h0M854.6 884.5h0M915.9 910.2h0M875.4 915.6h0M986.5 903.7h0M948.3 826.9h0M978.4 806h0M946 918.6h0M707.6 798.8h0M873.1 917h0M682.2 804.5h0M934.5 815.2h0M642.8 819.2h0M723.8 785.5h0M1059.4 822.3h0M875.4 805h0M758.5 905.2h0M955.3 934.3h0M777.1 789.6h0M670.6 933.3h0M843 918h0M689.1 791.4h0M708.8 794.1h0M859.2 823.1h0M1031.7 808h0M753.9 786.8h0M1061.8 811.3h0M903.2 927.3h0M941.4 834.1h0M837.2 834.2h0M977.3 913.4h0M957.6 919.3h0M921.7 828.2h0M839.6 905.8h0M764.3 906.3h0M1045.6 916.1h0M1047.9 884.9h0M1054.8 835.4h0M734.2 924.8h0M792.1 907.5h0M988.8 914.4h0M941.4 917.9h0M781.7 788.1h0M958.8 926.6h0M796.7 801.1h0M652.1 943.1h0M851.1 889.9h0M980.7 798.6h0M1003.9 908.5h0M958.8 826.9h0M1017.8 850.8h0M866.2 806.2h0M782.8 785.8h0M1040.9 904.2h0M1035.1 805h0M944.9 904.8h0M883.5 823.7h0M1056 932.5h0M655.5 928.6h0M946 820.9h0M979.6 801.8h0M818.7 799.8h0M743.5 916.9h0M1008.5 910.1h0M764.3 777.3h0M921.7 890.5h0M664.8 918.6h0M803.7 921.1h0M737.7 908.1h0M654.4 826.8h0M1000.4 920.8h0M660.2 915.4h0M993.5 911.5h0M881.2 906.4h0M753.9 903.3h0M655.5 834.5h0M682.2 941.4h0M872 831.5h0M971.5 832.7h0M1032.8 819h0M789.8 889h0M818.7 906.9h0M863.9 913.9h0M696.1 778.6h0M1027 919.9h0M1058.3 927h0M853.4 903.3h0M675.2 801.8h0M992.3 908.5h0M884.7 912.2h0M1042.1 907.2h0M966.9 799.8h0M856.9 913.4h0M998.1 811.5h0M775.9 886.2h0M918.3 912.4h0M994.6 911.6h0M772.4 900h0M976.1 823.6h0M889.3 833.3h0M1007.4 898.1h0M657.9 923.3h0M964.5 817.8h0M669.4 821.4h0M692.6 919.7h0M647.4 811.8h0M1007.4 810h0M669.4 914.4h0M996.9 827.2h0M751.6 788.5h0M992.3 819.8h0M1047.9 820.7h0M713.4 924h0M971.5 919.3h0M1020.1 816.6h0M729.6 798.7h0M912.5 899.6h0M650.9 830.9h0M703 800h0M969.2 815h0M869.6 819.4h0M815.3 910.1h0M877.7 820.1h0M677.5 828h0M742.3 918.4h0M788.6 891.6h0M1021.3 818.1h0M692.6 806.2h0M1021.3 903.2h0M975 830.2h0M865 797.9h0M895.1 840.3h0M657.9 824.9h0M830.3 814.8h0M981.9 796h0M1005 824.2h0M652.1 820.3h0M948.3 904.7h0M929.8 839.7h0M708.8 905.4h0M686.8 935.9h0M900.9 821.4h0M1038.6 817.1h0M641.7 931.4h0M1056 838.1h0M763.2 894.9h0M966.9 910.3h0M909 825.4h0M671.7 943.1h0M1062.9 906.2h0M694.9 781.6h0M939.1 887.2h0M906.7 816.2h0M887 821.9h0M902 922.7h0M664.8 826.7h0M951.8 830h0M839.6 825.3h0M678.7 947.6h0M829.1 909h0M747 891.5h0M646.3 812.1h0M666 919.3h0M819.9 790.9h0M1037.5 808h0M914.8 900.1h0M1057.1 832.2h0M846.5 894.1h0M1049 816.8h0M1028.2 817.5h0M794.4 784.1h0M931 908.1h0M667.1 824.5h0M868.5 814.2h0M730.8 788.7h0M691.4 913.4h0M804.8 797.6h0M987.7 904.9h0M722.7 910h0M803.7 810.4h0M731.9 809.9h0M1052.5 923.8h0M765.5 793.9h0M889.3 900.1h0M1044.4 921.6h0M949.5 835.5h0M1053.7 915.1h0M663.6 801.4h0M750.4 804.3h0M856.9 831.6h0M854.6 816.5h0M693.7 921.6h0M860.4 815h0M697.2 923.4h0M933.3 823.1h0M922.9 914.6h0M691.4 797.4h0M972.6 834.9h0M650.9 945.7h0M730.8 918.7h0M1006.2 905.3h0M970.3 908.9h0M822.2 811.2h0M799.1 805.8h0M911.3 840.5h0M816.4 811.5h0M800.2 912.4h0M792.1 794.2h0M940.2 827.3h0M821 808.2h0M905.5 899.3h0M704.2 807.7h0M954.1 939.3h0M1022.4 821.6h0M954.1 827h0M823.4 914.4h0M676.4 809.4h0M1027 818.2h0M712.3 779.5h0M810.6 790.8h0M774.7 882.7h0" stroke="#0F7DC2" stroke-width="7.2" stroke-linecap="round" fill="none"/>
<path d="M878.9 923h0M1058.3 960h0M882.4 902.7h0M780.5 780.6h0M814.1 900.7h0M729.6 937.7h0M983.1 815.3h0M772.4 915.1h0M948.3 814.7h0M812.9 797.3h0M985.4 811.7h0M662.5 984.8h0M723.8 938.7h0M1008.5 803.3h0M736.6 913.1h0M1049 948h0M825.7 815.5h0M824.5 924.2h0M777.1 918.6h0M775.9 924.6h0M866.2 919.5h0M904.4 919.9h0M707.6 806h0M731.9 804.7h0M796.7 808h0M652.1 952h0M711.1 922.2h0M853.4 809h0M681 969.1h0M821 798.2h0M646.3 807.8h0M781.7 927h0M766.6 786h0M933.3 905h0M1061.8 974.5h0M833.8 808.8h0M939.1 898.3h0M682.2 800.8h0M784 911.6h0M955.3 796.8h0M1008.5 932.3h0M1020.1 824.7h0M995.8 929.3h0M788.6 908.5h0M699.5 948.8h0M696.1 933.5h0M807.2 911.1h0M757.4 930.1h0M719.2 943.1h0M823.4 934.1h0M920.6 905.3h0M1058.3 819.7h0M995.8 795.7h0M836.1 802.9h0M854.6 895.1h0M708.8 805.3h0M650.9 820.1h0M862.7 816.8h0M1051.3 959.3h0M910.2 915.4h0M819.9 924.5h0M810.6 900.7h0M828 798.1h0M958.8 817.2h0M648.6 984h0M817.6 917.4h0M913.6 892.8h0M692.6 804h0M852.3 789.3h0M674.1 812h0M809.5 799.4h0M993.5 944.9h0M816.4 811.4h0M969.2 932.6h0M875.4 900h0M744.7 916.3h0M752.8 913.3h0M756.2 917.2h0M1037.5 931.1h0M772.4 783.2h0M1037.5 821h0M883.5 901h0M934.5 906.7h0M722.7 950.7h0M841.9 804.8h0M1016.6 820h0M684.5 941.4h0M902 935.6h0M993.5 797.3h0M1044.4 958.9h0M949.5 906.2h0M1024.7 826.6h0M1023.6 925.1h0M670.6 811.8h0M859.2 793.4h0M1018.9 934.1h0M969.2 811.2h0M645.1 813.9h0M929.8 812.6h0M1000.4 816h0M1034 941.9h0M700.7 946.4h0M774.7 926.6h0M869.6 910.7h0M652.1 820.9h0M713.4 924.7h0M757.4 804.7h0M881.2 806.4h0M700.7 823.6h0M1005 815.3h0M870.8 899.6h0M858.1 813.4h0M909 920.3h0M672.9 820h0M802.5 909h0M1021.3 926.8h0M858.1 908.2h0M660.2 964.6h0M949.5 808h0M1007.4 939.6h0M1040.9 931.3h0M1060.6 835.7h0M642.8 945.3h0M850 785.6h0M642.8 828.8h0M676.4 968.8h0M884.7 806.3h0M764.3 905.6h0M965.7 918.4h0M943.7 919.9h0M1047.9 959.6h0M1039.8 820.7h0M800.2 900h0M686.8 810.2h0M1039.8 939.9h0M855.8 907.2h0M891.6 790.9h0M890.5 916.1h0M884.7 906.8h0M966.9 932.7h0M718 806h0M882.4 807.4h0M653.2 817.6h0M896.3 804.5h0M799.1 896.6h0M837.2 800.4h0M1012 941h0M685.6 949h0M644 950.9h0M790.9 905.6h0M721.5 946.4h0M848.8 933.7h0M992.3 808.4h0M760.9 906.3h0M973.8 916h0M971.5 911.6h0M672.9 941h0M774.7 795.2h0M900.9 809.6h0M659 823.9h0M743.5 920.3h0M966.9 815.3h0M867.3 910.3h0M804.8 896.6h0M760.9 797h0M749.3 922h0M1028.2 925.2h0M811.8 808.2h0M785.2 921.6h0M1040.9 823h0M775.9 805.4h0M895.1 809.6h0M841.9 909h0M804.8 800.7h0M925.2 811.5h0M893.9 902.8h0M1002.7 906.7h0M847.7 792.6h0M1034 830h0M747 791.9h0M1059.4 969.8h0M793.3 791.1h0M943.7 809h0M962.2 810.8h0M770.1 893.3h0M926.4 815.2h0M942.6 811.5h0M898.6 907.9h0M873.1 901h0M970.3 819.1h0M785.2 798.2h0M691.4 944.8h0M741.2 928.1h0M931 917.7h0M667.1 816.5h0M797.9 797.6h0M914.8 883.8h0M769 790.7h0M703 799.1h0M866.2 822h0M784 793.7h0M1035.1 833.8h0M971.5 817.6h0M790.9 793.1h0M731.9 935.5h0M822.2 933.8h0M682.2 944.3h0M961.1 920.8h0M936.8 815.4h0M954.1 923.4h0M887 910h0M880.1 922.1h0M962.2 918.2h0M767.8 924.2h0M704.2 943h0M663.6 809.7h0M915.9 906.6h0M715.7 794.8h0M850 893.5h0M675.2 810.7h0M856.9 801.3h0M1001.6 919.6h0M826.8 907.9h0M946 915.5h0M872 904.3h0M968 804.5h0M656.7 828.1h0M899.7 807.4h0M1027 819.6h0M839.6 907.9h0M797.9 891.8h0M937.9 805.9h0M674.1 964h0M953 804.1h0M678.7 960.7h0M964.5 911.5h0M851.1 796h0M847.7 909.3h0M986.5 932.6h0M806 798.3h0M679.8 813.2h0M1053.7 954.4h0M877.7 809.8h0M734.2 918.3h0" stroke="#FA6014" stroke-width="7.2" stroke-linecap="round" fill="none"/>
<defs><path id="L11omax" d="M641.7 824.6 L651.0 821.7 L660.4 818.8 L669.7 815.9 L679.1 813.0 L688.5 809.9 L697.8 806.8 L707.2 803.5 L716.5 800.4 L725.9 797.5 L735.3 795.0 L744.6 793.2 L754.0 792.2 L763.4 792.2 L772.7 793.1 L782.1 794.7 L791.4 796.6 L800.8 798.7 L810.2 800.8 L819.5 802.6 L828.9 804.0 L838.2 805.0 L847.6 805.8 L857.0 806.3 L866.3 806.6 L875.7 806.7 L885.1 806.7 L894.4 806.7 L903.8 806.6 L913.1 806.6 L922.5 806.7 L931.9 806.9 L941.2 807.3 L950.6 807.9 L959.9 808.5 L969.3 809.3 L978.7 810.1 L988.0 811.0 L997.4 811.9 L1006.7 813.0 L1016.1 814.2 L1025.5 815.8 L1034.8 817.7 L1044.2 820.2 L1053.6 823.2 L1062.9 826.6"/></defs>
<use href="#L11omax" stroke="#FA6014" stroke-opacity="0.35" stroke-width="8" fill="none" stroke-linejoin="round"/>
<use href="#L11omax" stroke="#FA6014" stroke-width="4.3" fill="none" stroke-linejoin="round"/>
<defs><path id="L11omin" d="M641.7 969.3 L651.0 966.1 L660.4 962.8 L669.7 959.4 L679.1 955.8 L688.5 951.9 L697.8 947.7 L707.2 943.2 L716.5 938.4 L725.9 933.7 L735.3 929.1 L744.6 924.8 L754.0 921.1 L763.4 918.0 L772.7 915.6 L782.1 913.8 L791.4 912.5 L800.8 911.6 L810.2 910.9 L819.5 910.5 L828.9 910.3 L838.2 910.2 L847.6 910.2 L857.0 910.4 L866.3 910.7 L875.7 911.1 L885.1 911.6 L894.4 912.2 L903.8 912.9 L913.1 913.7 L922.5 914.7 L931.9 915.7 L941.2 916.9 L950.6 918.2 L959.9 919.6 L969.3 921.1 L978.7 922.6 L988.0 924.1 L997.4 925.7 L1006.7 927.6 L1016.1 930.0 L1025.5 933.3 L1034.8 937.7 L1044.2 943.5 L1053.6 950.8 L1062.9 959.0"/></defs>
<use href="#L11omin" stroke="#FA6014" stroke-opacity="0.35" stroke-width="8" fill="none" stroke-linejoin="round"/>
<use href="#L11omin" stroke="#FA6014" stroke-width="4.3" fill="none" stroke-linejoin="round"/>
<defs><path id="L11bmax" d="M641.7 819.7 L651.0 815.3 L660.4 811.0 L669.7 806.9 L679.1 802.9 L688.5 799.1 L697.8 795.7 L707.2 792.6 L716.5 790.0 L725.9 787.9 L735.3 786.5 L744.6 785.8 L754.0 785.9 L763.4 786.9 L772.7 788.8 L782.1 791.4 L791.4 794.5 L800.8 797.9 L810.2 801.6 L819.5 805.4 L828.9 809.1 L838.2 812.7 L847.6 815.9 L857.0 818.8 L866.3 821.1 L875.7 822.8 L885.1 823.8 L894.4 824.2 L903.8 824.2 L913.1 823.9 L922.5 823.4 L931.9 822.7 L941.2 822.0 L950.6 821.3 L959.9 820.6 L969.3 819.8 L978.7 819.1 L988.0 818.3 L997.4 817.5 L1006.7 816.7 L1016.1 816.0 L1025.5 815.3 L1034.8 814.8 L1044.2 814.4 L1053.6 814.1 L1062.9 813.9"/></defs>
<use href="#L11bmax" stroke="#0F7DC2" stroke-opacity="0.35" stroke-width="8" fill="none" stroke-linejoin="round"/>
<use href="#L11bmax" stroke="#0F7DC2" stroke-width="4.3" fill="none" stroke-linejoin="round"/>
<defs><path id="L11bmin" d="M641.7 933.4 L651.0 931.9 L660.4 930.3 L669.7 928.6 L679.1 926.7 L688.5 924.5 L697.8 921.9 L707.2 918.9 L716.5 915.8 L725.9 912.6 L735.3 909.6 L744.6 907.0 L754.0 905.2 L763.4 904.1 L772.7 903.9 L782.1 904.3 L791.4 905.1 L800.8 906.1 L810.2 907.2 L819.5 908.1 L828.9 908.9 L838.2 909.5 L847.6 910.0 L857.0 910.4 L866.3 910.8 L875.7 911.2 L885.1 911.7 L894.4 912.1 L903.8 912.5 L913.1 912.8 L922.5 913.0 L931.9 913.0 L941.2 912.9 L950.6 912.7 L959.9 912.4 L969.3 912.1 L978.7 911.8 L988.0 911.6 L997.4 911.5 L1006.7 911.5 L1016.1 911.5 L1025.5 911.7 L1034.8 912.0 L1044.2 912.3 L1053.6 912.7 L1062.9 913.1"/></defs>
<use href="#L11bmin" stroke="#0F7DC2" stroke-opacity="0.35" stroke-width="8" fill="none" stroke-linejoin="round"/>
<use href="#L11bmin" stroke="#0F7DC2" stroke-width="4.3" fill="none" stroke-linejoin="round"/>
<rect x="1111.0" y="732.6" width="462.6" height="472.8" fill="#fff" stroke="#ADADAD" stroke-width="2.2"/>
<g stroke="#fff"><path d="M1129.9 731.5V1206.5" stroke-width="5.8"/><path d="M1187.8 731.5V1206.5" stroke-width="2.9"/><path d="M1245.6 731.5V1206.5" stroke-width="5.8"/><path d="M1303.5 731.5V1206.5" stroke-width="2.9"/><path d="M1361.4 731.5V1206.5" stroke-width="5.8"/><path d="M1419.2 731.5V1206.5" stroke-width="2.9"/><path d="M1477.1 731.5V1206.5" stroke-width="5.8"/><path d="M1535.0 731.5V1206.5" stroke-width="2.9"/><path d="M1109.9 1155.7H1574.7" stroke-width="2.9"/><path d="M1109.9 1089.3H1574.7" stroke-width="5.8"/><path d="M1109.9 1022.8H1574.7" stroke-width="2.9"/><path d="M1109.9 956.4H1574.7" stroke-width="5.8"/><path d="M1109.9 889.9H1574.7" stroke-width="2.9"/><path d="M1109.9 823.5H1574.7" stroke-width="5.8"/><path d="M1109.9 757.0H1574.7" stroke-width="2.9"/></g>
<path d="M1259.5 959.5h0M1320.9 811.9h0M1249.1 827h0M1503.7 1000.7h0M1383.3 804.4h0M1324.3 932.9h0M1223.6 841.4h0M1465.5 828.8h0M1429.6 915.7h0M1462 819.1h0M1251.4 934.4h0M1536.1 962h0M1442.4 928.8h0M1500.2 847.1h0M1506 837.9h0M1229.4 849.7h0M1375.2 814.4h0M1295.4 822.7h0M1522.2 1002.7h0M1290.8 836h0M1371.8 920.1h0M1462 943.2h0M1353.3 892.4h0M1434.3 927.9h0M1427.3 817.5h0M1200.5 959h0M1148.4 863.2h0M1484 925.8h0M1342.8 928.3h0M1298.9 934.8h0M1268.8 816.1h0M1197 956h0M1345.2 818.3h0M1396.1 929.6h0M1492.1 829.9h0M1469 930.8h0M1449.3 890.4h0M1523.4 848h0M1220.2 863.5h0M1487.5 904.3h0M1221.3 932.1h0M1474.8 910.5h0M1480.6 807.9h0M1363.7 792.5h0M1452.8 914.3h0M1161.1 834.5h0M1163.5 971.7h0M1244.5 997.2h0M1539.6 881.6h0M1326.6 858.4h0M1349.8 815.3h0M1449.3 798.6h0M1224.8 971.9h0M1508.3 825.3h0M1362.5 799.6h0M1374.1 814.6h0M1214.4 960.9h0M1146.1 1009.7h0M1214.4 820.8h0M1249.1 980.8h0M1279.2 822.6h0M1338.2 909.6h0M1322 919.5h0M1247.9 838.9h0M1442.4 836h0M1168.1 953.9h0M1323.2 925.6h0M1258.4 947.8h0M1224.8 819.6h0M1313.9 895.5h0M1143.8 988.3h0M1482.9 902.6h0M1201.7 981.1h0M1518.8 828.3h0M1481.7 915h0M1179.7 975h0M1499.1 842.5h0M1519.9 846.5h0M1459.7 814.2h0M1497.9 834.4h0M1528 980.5h0M1385.7 806.5h0M1450.5 813.7h0M1327.8 822.5h0M1200.5 899.2h0M1275.7 843.4h0M1325.5 830.6h0M1230.6 949.5h0M1513 945.7h0M1232.9 845h0M1258.4 821.2h0M1290.8 951.7h0M1376.4 937h0M1430.8 919.6h0M1269.9 989.1h0M1177.3 836h0M1156.5 892.3h0M1458.6 912h0M1213.2 811.3h0M1415.8 807.4h0M1443.5 825.8h0M1265.3 846.8h0M1404.2 916.5h0M1231.7 841.6h0M1479.4 834.8h0M1433.1 932.5h0M1493.3 835h0M1509.5 962.9h0M1327.8 936.7h0M1347.5 792.8h0M1141.5 913.7h0M1438.9 935.2h0M1419.2 904.2h0M1161.1 1005.2h0M1481.7 821h0M1182 845.3h0M1423.9 913.7h0M1141.5 956.4h0M1140.3 885.2h0M1426.2 906.1h0M1340.5 834h0M1530.3 880.7h0M1341.7 930.3h0M1443.5 923.4h0M1333.6 917.7h0M1282.7 973.4h0M1330.1 927.1h0M1293.1 943.2h0M1173.9 848.9h0M1521.1 851.4h0M1204 871.9h0M1366 796h0M1511.8 963.2h0M1185.5 867.7h0M1453.9 917.1h0M1298.9 843h0M1335.9 796.7h0M1364.8 808.1h0M1176.2 852.4h0M1398.4 917.2h0M1209.8 932.9h0M1150.7 993.7h0M1379.9 922.9h0M1495.6 863.5h0M1526.9 960.9h0M1378.7 805.6h0M1348.6 813.7h0M1354.4 909.7h0M1274.6 803.8h0M1493.3 940.1h0M1356.7 819.9h0M1367.1 923.1h0M1368.3 808h0M1368.3 909.3h0M1158.8 956.4h0M1243.3 834.8h0M1339.4 906.8h0M1430.8 809.4h0M1517.6 829.9h0M1450.5 902.8h0M1376.4 810.2h0M1347.5 923.4h0M1153 886.4h0M1425 916.9h0M1386.8 814.1h0M1499.1 952.3h0M1188.9 876.8h0M1197 860.5h0M1148.4 981.8h0M1194.7 884.5h0M1246.8 986.2h0M1482.9 829.7h0M1252.6 823.6h0M1438.9 809.1h0M1172.7 906h0M1507.2 828h0M1164.6 971.8h0M1491 959.4h0M1361.4 804.1h0M1346.3 960h0M1509.5 823.6h0M1198.2 971.2h0M1478.2 935.1h0M1535 975.2h0M1261.8 973.1h0M1360.2 932.9h0M1360.2 804.4h0M1264.1 823h0M1463.2 825.6h0M1518.8 952.2h0M1207.4 960.7h0M1545.4 1005.7h0M1311.6 820.6h0M1475.9 929.6h0M1215.5 978h0M1355.6 798.8h0M1414.6 917h0M1464.4 827.9h0M1289.6 969.2h0M1220.2 931.4h0M1223.6 967.5h0M1241 836.8h0M1254.9 928.8h0M1477.1 826h0M1287.3 942.3h0M1359 918.2h0M1288.5 855.3h0M1187.8 975.3h0M1540.7 975.7h0M1286.1 811.5h0M1391.4 922.1h0M1160 1184.3h0M1300 827.4h0M1511.8 855.4h0M1416.9 904.3h0M1259.5 829h0M1510.7 947.5h0M1404.2 806.9h0M1447 924.1h0M1151.9 885.4h0M1475.9 832.7h0M1243.3 998h0M1501.4 843.1h0M1146.1 843.9h0M1400.7 907.8h0M1420.4 906.4h0M1432 919.6h0M1531.5 924.2h0M1311.6 907.6h0M1162.3 836.8h0M1399.6 907.8h0M1273.4 827.6h0M1176.2 993.1h0M1422.7 912.9h0M1525.7 952.5h0M1435.4 811.9h0" stroke="#0F7DC2" stroke-width="7.2" stroke-linecap="round" fill="none"/>
<path d="M1132.2 966h0M1435.4 932.1h0M1305.8 792.2h0M1275.7 913.1h0M1363.7 900h0M1416.9 916.5h0M1524.5 959.3h0M1455.1 799h0M1138 946.8h0M1510.7 951.5h0M1455.1 916.2h0M1371.8 897.2h0M1301.2 808.6h0M1202.8 955.9h0M1285 823.8h0M1414.6 907.1h0M1252.6 931.2h0M1485.2 806.4h0M1546.5 833.7h0M1268.8 898.1h0M1529.2 832h0M1323.2 811h0M1172.7 938.3h0M1403 775.4h0M1418.1 800.3h0M1289.6 818.9h0M1239.8 940.8h0M1473.6 815.4h0M1338.2 909.4h0M1323.2 900.7h0M1194.7 932.1h0M1430.8 809.6h0M1427.3 800.7h0M1377.6 784.4h0M1178.5 823.2h0M1400.7 902.5h0M1184.3 922.4h0M1457.4 776.9h0M1531.5 838.8h0M1486.3 827.4h0M1384.5 807.6h0M1188.9 835.6h0M1337.1 902.8h0M1273.4 815.5h0M1295.4 893.3h0M1344 804.5h0M1460.9 801.9h0M1264.1 811.3h0M1499.1 934.9h0M1340.5 810.1h0M1175 818.7h0M1185.5 834.9h0M1436.6 804.8h0M1134.5 958.6h0M1234.1 945h0M1415.8 793.5h0M1280.3 801.9h0M1482.9 811.4h0M1151.9 841.8h0M1134.5 827.9h0M1214.4 833.8h0M1297.7 823.2h0M1552.3 962.2h0M1170.4 837.8h0M1366 793.5h0M1492.1 940.3h0M1456.3 910.4h0M1349.8 813.8h0M1230.6 822.7h0M1142.6 961.4h0M1217.9 962.8h0M1216.7 967.7h0M1462 811.7h0M1178.5 946.7h0M1447 810.8h0M1344 906.2h0M1523.4 847.8h0M1438.9 777.9h0M1357.9 802.9h0M1375.2 882.6h0M1519.9 833.6h0M1362.5 895.7h0M1501.4 950.4h0M1316.2 909.9h0M1389.1 909.8h0M1131.1 957h0M1372.9 796.3h0M1307 800.2h0M1407.7 798.7h0M1536.1 938.2h0M1207.4 957.8h0M1348.6 804h0M1376.4 793h0M1449.3 823.7h0M1190.1 936.8h0M1324.3 911.8h0M1253.7 803.5h0M1480.6 828.3h0M1507.2 928.3h0M1199.3 960.8h0M1148.4 957.7h0M1221.3 943.6h0M1302.3 917h0M1494.4 829.8h0M1412.3 802.8h0M1390.3 903.3h0M1254.9 811.4h0M1200.5 838h0M1252.6 811.6h0M1333.6 813.5h0M1473.6 907.3h0M1237.5 802.6h0M1342.8 907.5h0M1423.9 925.8h0M1342.8 807.3h0M1171.6 935.2h0M1364.8 894h0M1285 916.5h0M1309.3 809.8h0M1219 948.9h0M1144.9 860h0M1173.9 823.7h0M1293.1 893.5h0M1241 938.1h0M1245.6 921.3h0M1443.5 807.8h0M1415.8 910.1h0M1345.2 939.3h0M1437.7 794.5h0M1418.1 922.3h0M1530.3 840.1h0M1327.8 897.1h0M1511.8 939.7h0M1478.2 925.5h0M1242.2 815.7h0M1428.5 900.5h0M1195.9 942.7h0M1135.7 833.4h0M1205.1 945.4h0M1383.3 904.9h0M1271.1 903.3h0M1288.5 916.7h0M1394.9 806.7h0M1496.8 926.4h0M1543.1 939.3h0M1329 785.6h0M1401.9 899.3h0M1404.2 789.9h0M1136.8 839.1h0M1158.8 945.7h0M1394.9 916.1h0M1386.8 809.4h0M1235.2 841.9h0M1140.3 958h0M1179.7 835.4h0M1263 807.1h0M1144.9 973.8h0M1364.8 790.5h0M1325.5 896h0M1205.1 823.1h0M1544.2 819.7h0M1352.1 798.9h0M1448.2 826.2h0M1513 935.6h0M1434.3 924.3h0M1500.2 939.3h0M1400.7 790.4h0M1149.6 969.2h0M1453.9 800.8h0M1133.4 960.4h0M1404.2 893.8h0M1202.8 835.4h0M1470.1 924h0M1200.5 967.9h0M1508.3 813.8h0M1162.3 851.9h0M1275.7 810.3h0M1287.3 799.9h0M1467.8 828h0M1361.4 898h0M1147.3 847.5h0M1161.1 959.7h0M1147.3 958.7h0M1269.9 801.5h0M1487.5 829.2h0M1322 903.7h0M1206.3 829h0M1229.4 931.3h0M1541.9 938.3h0M1550 951.5h0M1493.3 934.1h0M1410 783.4h0M1318.5 788.2h0M1544.2 947.6h0M1286.1 787.9h0M1146.1 851.2h0M1369.5 903.1h0M1379.9 901.6h0M1398.4 788.2h0M1276.9 924.8h0M1324.3 823.8h0M1326.6 910.1h0M1545.4 836.9h0M1193.6 978.4h0M1516.4 953.4h0M1525.7 966.8h0M1379.9 796h0M1246.8 914.3h0M1429.6 900.3h0M1521.1 828.7h0M1268.8 803.9h0M1444.7 800.6h0M1441.2 810.1h0M1197 836.6h0M1195.9 833.9h0M1391.4 915.4h0M1465.5 938.3h0M1251.4 809.2h0M1381 907.4h0M1310.4 802.8h0M1551.2 832.9h0M1354.4 797.4h0M1231.7 815h0M1392.6 916.7h0M1536.1 852.1h0M1294.2 801.3h0M1397.2 912.4h0M1296.6 897.4h0M1459.7 917.4h0M1393.8 813.6h0M1269.9 952.3h0M1405.3 898.1h0M1547.7 957.7h0M1288.5 803h0M1330.1 795.2h0M1443.5 913.3h0M1312.8 808.7h0M1459.7 799.2h0M1133.4 836.9h0M1535 854.3h0M1221.3 815.1h0M1533.8 946.6h0M1511.8 817.7h0" stroke="#FA6014" stroke-width="7.2" stroke-linecap="round" fill="none"/>
<path d="M1396.1 811.7h0M1426.2 818.1h0M1217.9 938.8h0M1312.8 899.7h0M1273.4 966.8h0M1310.4 840.3h0M1412.3 929.4h0M1506 946.3h0M1308.1 814h0M1260.7 821.6h0M1160 1010h0M1516.4 827.1h0M1205.1 953.4h0M1250.3 950.9h0M1422.7 813.6h0M1171.6 1014.6h0M1180.8 961h0M1452.8 815.1h0M1274.6 967h0M1156.5 964.9h0M1139.2 889.2h0M1206.3 962.3h0M1460.9 946h0M1180.8 852.4h0M1428.5 907.6h0M1407.7 928.1h0M1239.8 861.6h0M1524.5 950.6h0M1525.7 864.7h0M1307 985h0M1331.3 829.7h0M1451.6 812.7h0M1350.9 906.9h0M1253.7 930.1h0M1205.1 853.4h0M1296.6 822h0M1383.3 914.4h0M1384.5 919.2h0M1437.7 926.6h0M1280.3 877.6h0M1344 839.3h0M1305.8 929.8h0M1491 831.4h0M1502.6 843.3h0M1359 810.7h0M1157.7 961.2h0M1352.1 822.8h0M1236.4 842.3h0M1217.9 817.7h0M1445.8 826.1h0M1531.5 945.4h0M1385.7 914.6h0M1455.1 920.7h0M1286.1 955.1h0M1323.2 812.2h0M1484 838.5h0M1353.3 817.5h0M1541.9 875.8h0M1543.1 857h0M1188.9 982h0M1319.7 839.8h0M1447 811h0M1293.1 849.3h0M1405.3 908h0M1428.5 821.3h0M1282.7 829.6h0M1320.9 929.3h0M1523.4 952.3h0M1334.7 808.3h0M1201.7 872h0M1245.6 837.7h0M1149.6 1019.8h0M1411.1 934.4h0M1309.3 828.4h0M1175 1013.9h0M1283.8 828.9h0M1489.8 935.2h0M1480.6 974.3h0M1247.9 988.1h0M1485.2 840.3h0M1155.4 996.5h0M1186.6 959.5h0M1253.7 834.1h0M1488.7 928.5h0M1521.1 1018.7h0M1411.1 813.9h0M1357.9 813.1h0M1304.7 843.3h0M1398.4 807.1h0M1169.2 984.6h0M1229.4 958.7h0M1318.5 824.6h0M1232.9 957.9h0M1204 988h0M1310.4 965.1h0M1226 1008.9h0M1147.3 1002.4h0M1231.7 976.9h0M1456.3 822.8h0M1362.5 937.6h0M1472.5 944.8h0M1406.5 808.1h0M1533.8 990.5h0M1138 878.1h0M1138 1035.9h0M1308.1 937.9h0M1364.8 922.1h0M1183.1 991.7h0M1324.3 801.5h0M1234.1 860.9h0M1209.8 821.6h0M1529.2 892.2h0M1241 955.4h0M1338.2 812.5h0M1265.3 997.8h0M1421.5 816.5h0M1382.2 799.9h0M1378.7 921.2h0M1357.9 919.7h0M1199.3 965.6h0M1526.9 884.9h0M1238.7 980.9h0M1393.8 901.9h0M1514.1 842.5h0M1210.9 825.1h0M1540.7 849.9h0M1346.3 823.8h0M1537.3 907.4h0M1414.6 811.8h0M1330.1 815.6h0M1192.4 849h0M1153 1004.4h0M1407.7 810.6h0M1390.3 908.3h0M1497.9 946.1h0M1467.8 930.1h0M1377.6 801.5h0M1361.4 918.7h0M1416.9 814.1h0M1486.3 940.9h0M1194.7 951.7h0M1305.8 850h0M1339.4 822.1h0M1344 922.9h0M1522.2 843.6h0M1175 860.7h0M1413.4 812h0M1391.4 799.8h0M1423.9 806.6h0M1228.3 833.8h0M1384.5 809.9h0M1319.7 907.7h0M1177.3 1045.2h0M1222.5 822.1h0M1363.7 935.7h0M1139.2 981.3h0M1301.2 939.4h0M1182 981.9h0M1516.4 982.8h0M1154.2 996.8h0M1244.5 857.4h0M1515.3 831.4h0M1435.4 928.7h0M1285 838.3h0M1539.6 976.8h0M1371.8 822.1h0M1333.6 828h0M1434.3 808.9h0M1403 908.9h0M1279.2 989h0M1496.8 968.3h0M1382.2 909.5h0M1492.1 959h0M1440.1 947.6h0M1469 820.4h0M1399.6 801.9h0M1285 985.2h0M1419.2 813.8h0M1341.7 823.5h0M1535 896.4h0M1303.5 845.2h0M1235.2 974.6h0M1397.2 801.8h0M1226 816.6h0M1467.8 811.2h0M1500.2 964.1h0M1158.8 847.6h0M1392.6 918.7h0M1485.2 926.3h0M1453.9 816.2h0M1317.4 912.2h0M1195.9 861.1h0M1296.6 954.3h0M1266.5 956.7h0M1532.6 962.5h0M1488.7 824.7h0M1269.9 809.1h0M1332.4 835.1h0M1234.1 974.4h0M1495.6 955h0M1388 806.1h0M1157.7 849.5h0M1155.4 890h0M1448.2 804.4h0M1401.9 789.2h0M1245.6 994.2h0M1388 923h0M1470.1 799.5h0M1272.2 979.4h0M1524.5 848.4h0M1315.1 809.6h0M1216.7 961.8h0M1377.6 908.6h0M1295.4 939.6h0M1219 952h0M1372.9 920.2h0M1421.5 912h0M1473.6 931.8h0M1254.9 815.8h0M1190.1 865h0M1235.2 844.8h0M1337.1 924h0M1354.4 798.6h0M1301.2 818.9h0M1352.1 936h0M1315.1 916.2h0M1510.7 830.5h0M1237.5 888.8h0M1465.5 931.9h0M1379.9 800.5h0M1474.8 837.5h0M1170.4 889.2h0M1281.5 824.3h0M1246.8 817.8h0M1207.4 847.9h0M1410 818.9h0" stroke="#0F7DC2" stroke-width="7.2" stroke-linecap="round" fill="none"/>
<path d="M1397.2 797.9h0M1524.5 843.4h0M1188.9 932.1h0M1470.1 821h0M1449.3 914h0M1388 919.1h0M1416.9 809.8h0M1538.4 930.6h0M1396.1 810.3h0M1413.4 900.4h0M1251.4 927.2h0M1326.6 800.4h0M1368.3 917.1h0M1293.1 788.4h0M1477.1 818.6h0M1150.7 840.3h0M1318.5 925.2h0M1283.8 924.1h0M1329 906.2h0M1377.6 886h0M1350.9 809.1h0M1280.3 924.2h0M1220.2 943.4h0M1411.1 793.6h0M1501.4 819.2h0M1339.4 818.3h0M1302.3 792.4h0M1359 907.3h0M1493.3 828.1h0M1325.5 800.9h0M1433.1 804.3h0M1514.1 825h0M1372.9 893.1h0M1539.6 926.8h0M1303.5 789.3h0M1515.3 927.9h0M1407.7 899.4h0M1311.6 895.9h0M1227.1 818.3h0M1149.6 840.3h0M1264.1 915.6h0M1547.7 836.4h0M1175 953.6h0M1261.8 900.8h0M1337.1 825.6h0M1349.8 907.1h0M1138 832.4h0M1305.8 902.2h0M1506 823.6h0M1477.1 925.3h0M1403 902.5h0M1479.4 818.3h0M1222.5 942.1h0M1242.2 931.1h0M1247.9 800.8h0M1227.1 948h0M1510.7 816.4h0M1516.4 832.6h0M1238.7 802h0M1442.4 809.9h0M1526.9 847.1h0M1518.8 834.6h0M1204 826.9h0M1183.1 834.5h0M1352.1 895.3h0M1298.9 776.4h0M1160 824h0M1480.6 941.6h0M1160 953.6h0M1442.4 912.8h0M1458.6 909h0M1419.2 781.8h0M1503.7 800.9h0M1366 890.3h0M1378.7 895.2h0M1384.5 902.5h0M1161.1 845.7h0M1363.7 800.1h0M1456.3 787.2h0M1199.3 817.6h0M1381 803.2h0M1478.2 834h0M1257.2 920.9h0M1224.8 807.3h0M1451.6 897.4h0M1223.6 950.9h0M1307 917.8h0M1154.2 942.6h0M1238.7 955.4h0M1450.5 903.7h0M1158.8 829.1h0M1550 826.9h0M1421.5 784.1h0M1186.6 936.8h0M1273.4 930.6h0M1519.9 929.2h0M1492.1 833.9h0M1474.8 818.1h0M1309.3 891.3h0M1209.8 963.4h0M1298.9 896.2h0M1169.2 939.6h0M1484 927h0M1482.9 923.8h0M1548.8 830h0M1474.8 913.3h0M1212.1 821.8h0M1166.9 847.2h0M1432 810.5h0M1286.1 910.8h0M1204 950.4h0M1194.7 834.7h0M1481.7 815.9h0M1253.7 900.4h0M1243.3 826.2h0M1168.1 857.6h0M1541.9 833.6h0M1287.3 898.7h0M1243.3 923.2h0M1429.6 831h0M1368.3 774.7h0M1359 818.2h0M1385.7 800.3h0M1320.9 933.7h0M1327.8 789.8h0M1463.2 811.1h0M1540.7 836.4h0M1489.8 914.5h0M1353.3 782.2h0M1465.5 815.7h0M1389.1 811.9h0M1458.6 793h0M1452.8 897.7h0M1436.6 914.9h0M1357.9 896h0M1143.8 950h0M1539.6 841.7h0M1156.5 838.4h0M1139.2 950.1h0M1464.4 930.1h0M1346.3 916h0M1546.5 951.9h0M1281.5 929.2h0M1426.2 796.4h0M1469 906.3h0M1471.3 926.7h0M1187.8 932.4h0M1184.3 820h0M1497.9 926.1h0M1139.2 839.4h0M1401.9 788.4h0M1451.6 826.5h0M1313.9 899.8h0M1488.7 823.8h0M1294.2 896.5h0M1471.3 821.1h0M1504.9 957.5h0M1408.8 903.9h0M1375.2 790.6h0M1331.3 909.2h0M1392.6 791.5h0M1198.2 951.7h0M1370.6 793.1h0M1453.9 899.2h0M1463.2 917.8h0M1135.7 947.5h0M1177.3 946.2h0M1265.3 823.7h0M1274.6 904.9h0M1216.7 828.2h0M1332.4 909.5h0M1215.5 832.9h0M1399.6 907.3h0M1191.2 834.8h0M1320.9 801.2h0M1420.4 922h0M1437.7 915.8h0M1282.7 924.4h0M1317.4 922.8h0M1266.5 811.6h0M1330.1 905.7h0M1197 948.6h0M1319.7 791.1h0M1291.9 790.4h0M1347.5 801.9h0M1232.9 929.8h0M1489.8 837.7h0M1260.7 805.5h0M1472.5 812.1h0M1450.5 818.4h0M1528 833.7h0M1296.6 791.7h0M1361.4 800.6h0M1271.1 821.9h0M1531.5 968.4h0M1331.3 806h0M1393.8 924.4h0M1220.2 832.5h0M1156.5 951.1h0M1182 832.9h0M1448.2 937.7h0M1141.5 848.8h0M1164.6 967h0M1506 939h0M1182 965.4h0M1341.7 816.9h0M1162.3 957.1h0M1354.4 910.8h0M1438.9 912.4h0M1244.5 935.3h0M1261.8 799.2h0M1250.3 920.8h0M1173.9 959.5h0M1410 896.8h0M1219 818.6h0M1420.4 792.5h0M1345.2 803.5h0M1254.9 901.4h0M1198.2 842.3h0M1504.9 821.4h0M1406.5 804.6h0M1163.5 974.1h0M1257.2 806.3h0M1232.9 809.7h0M1335.9 906.4h0M1212.1 968.2h0M1479.4 928.2h0M1308.1 893.4h0M1406.5 912.3h0M1339.4 914.7h0M1155.4 844.1h0M1267.6 811.1h0M1433.1 928.2h0M1172.7 845.9h0M1532.6 955.2h0M1347.5 904.1h0M1540.7 935.4h0M1258.4 809h0M1412.3 951.7h0M1382.2 919.4h0M1413.4 800.5h0M1217.9 826.7h0M1213.2 837.9h0" stroke="#FA6014" stroke-width="7.2" stroke-linecap="round" fill="none"/>
<path d="M1267.6 821.8h0M1529.2 986.9h0M1504.9 852.1h0M1185.5 955.2h0M1543.1 971.7h0M1302.3 821.9h0M1538.4 845.6h0M1342.8 816.7h0M1173.9 1009.1h0M1335.9 975.2h0M1266.5 836.7h0M1230.6 830.4h0M1433.1 810.9h0M1252.6 902.3h0M1210.9 946.9h0M1332.4 913.1h0M1546.5 891.9h0M1322 814.8h0M1238.7 865h0M1287.3 847.3h0M1329 812.7h0M1464.4 932.9h0M1263 825.4h0M1260.7 956.2h0M1350.9 816.6h0M1494.4 975.8h0M1441.2 834.6h0M1369.5 805.1h0M1349.8 910.6h0M1460.9 818.9h0M1312.8 821.9h0M1221.3 836.8h0M1216.7 819.6h0M1394.9 918h0M1191.2 856.5h0M1236.4 993.4h0M1429.6 812.3h0M1142.6 919.8h0M1348.6 921.3h0M1151.9 980.2h0M1507.2 963.1h0M1502.6 974.2h0M1149.6 896.1h0M1390.3 809.2h0M1471.3 818.4h0M1519.9 960.6h0M1356.7 920.2h0M1496.8 860.9h0M1154.2 897.7h0M1415.8 907h0M1250.3 836.1h0M1437.7 824.4h0M1478.2 825.1h0M1163.5 853.2h0M1405.3 812.6h0M1515.3 1002.4h0M1463.2 938.4h0M1215.5 826.4h0M1530.3 958.4h0M1355.6 909.8h0M1227.1 982h0M1183.1 850.5h0M1389.1 921.2h0M1162.3 986h0M1400.7 799.7h0M1370.6 890.2h0M1541.9 992.3h0M1413.4 915.7h0M1143.8 898.9h0M1370.6 808.6h0M1187.8 864h0M1313.9 810.9h0M1479.4 952.9h0M1291.9 836.3h0M1208.6 803.8h0M1150.7 858h0M1456.3 914.8h0M1448.2 911.1h0M1256 813.6h0M1144.9 989.6h0M1440.1 847.5h0M1472.5 828.4h0M1165.8 982.4h0M1337.1 800.1h0M1501.4 972.6h0M1420.4 813.2h0M1144.9 882.6h0M1367.1 790h0M1436.6 802.7h0M1171.6 887.7h0M1242.2 818.5h0M1477.1 947.1h0M1222.5 969.7h0M1283.8 964.4h0M1325.5 938.9h0M1546.5 1011.4h0M1389.1 801.8h0M1190.1 954.2h0M1193.6 864.2h0M1334.7 961.8h0M1212.1 956.2h0M1169.2 891.1h0M1261.8 841.8h0M1178.5 959.6h0M1504.9 944.6h0M1458.6 803.8h0M1264.1 958.4h0M1425 823.7h0M1263 980.2h0M1466.7 945.7h0M1166.9 961.4h0M1381 917.1h0M1164.6 873h0M1466.7 874.6h0M1192.4 1003.3h0M1386.8 914.4h0M1408.8 934.9h0M1275.7 965.6h0M1297.7 840.2h0M1455.1 815.6h0M1394.9 803.9h0M1251.4 817.8h0M1256 934.1h0M1271.1 834.8h0M1406.5 925.3h0M1533.8 900.6h0M1178.5 868.6h0M1375.2 937.2h0M1441.2 938.3h0M1198.2 846.4h0M1514.1 986.2h0M1289.6 853h0M1316.2 847.9h0M1486.3 819.1h0M1418.1 810.3h0M1271.1 991.7h0M1457.4 809.4h0M1257.2 823.1h0M1195.9 1000.4h0M1331.3 967.3h0M1444.7 921.9h0M1170.4 973.4h0M1267.6 1018.8h0M1184.3 836.7h0M1536.1 872.2h0M1193.6 938.5h0M1418.1 909.3h0M1278 850.5h0M1329 913.9h0M1309.3 925h0M1444.7 858.8h0M1318.5 913.1h0M1278 958.3h0M1272.2 829.8h0M1489.8 815.6h0M1544.2 861.1h0M1457.4 919.7h0M1494.4 842.5h0M1302.3 941.7h0M1294.2 955.3h0M1403 798.2h0M1280.3 968h0M1508.3 924.6h0M1451.6 912.2h0M1291.9 938.7h0M1212.1 874.7h0M1268.8 961.5h0M1374.1 910.4h0M1179.7 847.9h0M1345.2 914.2h0M1517.6 933.1h0M1304.7 945.5h0M1473.6 825.5h0M1326.6 948.1h0M1208.6 979.7h0M1372.9 830.5h0M1199.3 846h0M1307 825.4h0M1191.2 936.5h0M1239.8 962.3h0M1528 888.4h0M1202.8 870.2h0M1206.3 856h0M1219 808.5h0M1538.4 967.3h0M1340.5 950.5h0M1160 853.8h0M1487.5 838.9h0M1228.3 978.4h0M1544.2 1019.1h0M1147.3 898.7h0M1242.2 984.1h0M1392.6 806.3h0M1432 806.2h0M1401.9 895.1h0M1503.7 841.7h0M1410 931h0M1300 935.8h0M1412.3 810.4h0M1513 862.3h0M1227.1 889.1h0M1445.8 934.5h0M1184.3 1007h0M1172.7 1012.1h0M1140.3 967.3h0M1393.8 811.6h0M1294.2 831.4h0M1317.4 806.4h0M1213.2 967.9h0M1316.2 922.6h0M1297.7 952.2h0M1276.9 867.8h0M1288.5 957.6h0M1427.3 912.4h0M1237.5 967h0M1168.1 940.2h0M1537.3 997.9h0M1545.4 880.7h0M1459.7 915.5h0M1470.1 928.2h0M1165.8 878.6h0M1381 796h0M1303.5 933.9h0M1142.6 979.8h0M1257.2 943.8h0M1369.5 895.9h0M1436.6 926.2h0M1276.9 957h0M1408.8 819.5h0M1281.5 941.5h0M1471.3 960.1h0M1166.9 885h0M1202.8 988h0M1186.6 846.2h0M1532.6 894.5h0M1366 932.7h0M1397.2 926.8h0" stroke="#0F7DC2" stroke-width="7.2" stroke-linecap="round" fill="none"/>
<path d="M1496.8 820.7h0M1515.3 825.2h0M1487.5 930h0M1367.1 769.5h0M1166.9 943.9h0M1440.1 920.5h0M1230.6 921.2h0M1244.5 824.3h0M1319.7 912.1h0M1183.1 934.8h0M1250.3 822.1h0M1150.7 959.1h0M1423.9 790.7h0M1388 797.3h0M1201.7 960.2h0M1260.7 911.9h0M1371.8 793.6h0M1434.3 804.1h0M1256 820.8h0M1517.6 837.5h0M1488.7 916.3h0M1545.4 936.9h0M1157.7 828h0M1509.5 819.9h0M1234.1 813.1h0M1236.4 946.8h0M1313.9 808h0M1297.7 895.8h0M1445.8 904.2h0M1500.2 823.5h0M1148.4 845.6h0M1338.2 803.6h0M1533.8 841.7h0M1165.8 968h0M1153 956.9h0M1304.7 785.4h0M1180.8 832.4h0M1224.8 953.3h0M1444.7 911h0M1143.8 840.6h0M1289.6 915.3h0M1228.3 824.8h0M1190.1 823.2h0M1485.2 930.8h0M1207.4 819.9h0M1495.6 935.6h0M1265.3 920.7h0M1213.2 958.8h0M1367.1 903.1h0M1398.4 896h0M1452.8 830.4h0M1311.6 807.7h0M1310.4 900.2h0M1491 823.5h0M1378.7 794.4h0M1467.8 928h0M1466.7 806.6h0M1282.7 817.5h0M1256 909.9h0M1176.2 952.9h0M1340.5 892h0M1210.9 826.1h0M1334.7 898.1h0M1263 915.1h0M1272.2 896.5h0M1462 919.2h0M1522.2 836.2h0M1187.8 830.9h0M1301.2 916.1h0M1151.9 958.6h0M1518.8 934.1h0M1425 910.5h0M1551.2 952h0M1157.7 958.4h0M1502.6 814.5h0M1164.6 839.5h0M1421.5 911.3h0M1532.6 846.5h0M1360.2 806h0M1236.4 803.7h0M1142.6 850.9h0M1419.2 920.4h0M1208.6 811.5h0M1445.8 801.5h0M1146.1 943.5h0M1235.2 940.9h0M1484 819.5h0M1425 795.7h0M1396.1 908.9h0M1475.9 914.2h0M1274.6 810.4h0M1422.7 927.1h0M1530.3 943.4h0M1237.5 953.6h0M1180.8 942.6h0M1281.5 801h0M1176.2 817.1h0M1154.2 840.8h0M1466.7 932.7h0M1210.9 968h0M1408.8 806.4h0M1529.2 927.3h0M1441.2 912.2h0M1460.9 927.1h0M1548.8 962.3h0M1509.5 942.7h0M1247.9 910.7h0M1229.4 817.8h0M1185.5 926.8h0M1537.3 841h0M1522.2 936.7h0M1427.3 909.6h0M1353.3 911.3h0M1386.8 914.9h0M1430.8 898.2h0M1155.4 955.8h0M1335.9 811.4h0M1278 930.7h0M1170.4 935.5h0M1508.3 930.2h0M1317.4 795.3h0M1495.6 823.9h0M1332.4 815.1h0M1266.5 918.3h0M1228.3 942.8h0M1186.6 822.3h0M1222.5 813.2h0M1140.3 852.1h0M1405.3 801.8h0M1356.7 901.2h0M1131.1 849.1h0M1231.7 927.4h0M1538.4 847.6h0M1259.5 808.2h0M1226 931.3h0M1457.4 909.9h0M1153 831.6h0M1528 934.4h0M1283.8 804.8h0M1355.6 903.2h0M1513 819.3h0M1491 926.3h0M1206.3 955.3h0M1385.7 906.7h0M1208.6 953.1h0M1399.6 775.9h0M1290.8 929.2h0M1259.5 913.6h0M1300 799.2h0M1163.5 846.6h0M1383.3 813.8h0M1481.7 932.5h0M1290.8 795.5h0M1192.4 836.9h0M1370.6 899.8h0M1552.3 834.3h0M1226 815.2h0M1239.8 812.3h0M1191.2 926h0M1272.2 825.6h0M1411.1 911.5h0M1177.3 820.9h0M1355.6 813.9h0M1537.3 927h0M1376.4 879.2h0M1422.7 791.1h0M1435.4 809.6h0M1214.4 954.7h0M1517.6 946.9h0M1295.4 802.4h0M1165.8 846.3h0M1497.9 814.9h0M1502.6 946.7h0M1279.2 816.5h0M1390.3 825.8h0M1360.2 892.9h0M1523.4 938.6h0M1334.7 802.8h0M1374.1 794.4h0M1241 810.6h0M1316.2 803.2h0M1521.1 919.7h0M1315.1 808.5h0M1426.2 909.1h0M1348.6 910.5h0M1382.2 798.3h0M1249.1 918.2h0M1464.4 813.4h0M1276.9 822.1h0M1300 900.8h0M1209.8 825.2h0M1469 829.1h0M1391.4 805.3h0M1279.2 928.8h0M1514.1 928.5h0M1201.7 835.5h0M1136.8 941.7h0M1503.7 952.9h0M1312.8 908.7h0M1322 815.4h0M1246.8 811.7h0M1249.1 804h0M1507.2 811.1h0M1192.4 940.9h0M1362.5 809.1h0M1374.1 903.9h0M1278 824.6h0M1304.7 903.7h0M1356.7 798.5h0M1291.9 906h0M1132.2 851.2h0M1258.4 927.3h0M1543.1 827.9h0M1486.3 920.5h0M1350.9 904.6h0M1475.9 810.1h0M1303.5 904.2h0M1535 944.4h0M1223.6 801h0M1432 912.9h0M1428.5 807.7h0M1168.1 954.8h0M1193.6 836.6h0M1369.5 792.8h0M1169.2 831.4h0M1308.1 793.1h0M1341.7 908.4h0M1179.7 932.6h0M1440.1 793.6h0M1499.1 826.1h0M1447 916.3h0M1141.5 962h0M1315.1 901.2h0M1525.7 842.9h0M1494.4 941h0M1267.6 909.4h0M1472.5 922.5h0M1414.6 794.4h0M1346.3 802.9h0M1245.6 820.9h0M1171.6 824.2h0M1215.5 966.1h0M1526.9 947.8h0M1333.6 896.7h0" stroke="#FA6014" stroke-width="7.2" stroke-linecap="round" fill="none"/>
<defs><path id="L12omax" d="M1131.1 843.1 L1140.4 840.6 L1149.8 838.2 L1159.1 835.7 L1168.5 833.3 L1177.9 830.9 L1187.2 828.5 L1196.6 826.1 L1205.9 823.8 L1215.3 821.5 L1224.7 819.2 L1234.0 816.8 L1243.4 814.5 L1252.8 812.1 L1262.1 809.8 L1271.5 807.5 L1280.8 805.4 L1290.2 803.6 L1299.6 802.0 L1308.9 800.9 L1318.3 800.0 L1327.6 799.6 L1337.0 799.3 L1346.4 799.4 L1355.7 799.6 L1365.1 799.9 L1374.5 800.3 L1383.8 800.9 L1393.2 801.6 L1402.5 802.4 L1411.9 803.3 L1421.3 804.4 L1430.6 805.6 L1440.0 807.0 L1449.3 808.5 L1458.7 810.2 L1468.1 812.1 L1477.4 814.1 L1486.8 816.3 L1496.1 818.7 L1505.5 821.3 L1514.9 824.2 L1524.2 827.5 L1533.6 831.1 L1543.0 835.1 L1552.3 839.3"/></defs>
<use href="#L12omax" stroke="#FA6014" stroke-opacity="0.35" stroke-width="8" fill="none" stroke-linejoin="round"/>
<use href="#L12omax" stroke="#FA6014" stroke-width="4.3" fill="none" stroke-linejoin="round"/>
<defs><path id="L12omin" d="M1131.1 959.3 L1140.4 958.0 L1149.8 956.7 L1159.1 955.2 L1168.5 953.5 L1177.9 951.6 L1187.2 949.3 L1196.6 946.6 L1205.9 943.6 L1215.3 940.2 L1224.7 936.6 L1234.0 932.8 L1243.4 928.8 L1252.8 924.7 L1262.1 920.5 L1271.5 916.5 L1280.8 912.7 L1290.2 909.4 L1299.6 906.7 L1308.9 904.6 L1318.3 903.2 L1327.6 902.4 L1337.0 902.1 L1346.4 902.1 L1355.7 902.4 L1365.1 902.7 L1374.5 903.1 L1383.8 903.7 L1393.2 904.5 L1402.5 905.5 L1411.9 907.0 L1421.3 908.9 L1430.6 911.3 L1440.0 914.0 L1449.3 917.0 L1458.7 920.1 L1468.1 923.2 L1477.4 926.2 L1486.8 929.1 L1496.1 931.8 L1505.5 934.5 L1514.9 937.3 L1524.2 940.4 L1533.6 943.8 L1543.0 947.6 L1552.3 951.7"/></defs>
<use href="#L12omin" stroke="#FA6014" stroke-opacity="0.35" stroke-width="8" fill="none" stroke-linejoin="round"/>
<use href="#L12omin" stroke="#FA6014" stroke-width="4.3" fill="none" stroke-linejoin="round"/>
<defs><path id="L12bmax" d="M1138.0 882.2 L1147.1 878.8 L1156.2 875.4 L1165.2 872.0 L1174.3 868.7 L1183.4 865.5 L1192.5 862.4 L1201.5 859.3 L1210.6 856.3 L1219.7 853.4 L1228.8 850.6 L1237.9 847.8 L1246.9 845.0 L1256.0 842.3 L1265.1 839.5 L1274.2 836.8 L1283.3 834.0 L1292.3 831.2 L1301.4 828.2 L1310.5 825.2 L1319.6 822.2 L1328.6 819.2 L1337.7 816.3 L1346.8 813.6 L1355.9 811.2 L1365.0 809.1 L1374.0 807.4 L1383.1 806.1 L1392.2 805.3 L1401.3 805.0 L1410.4 805.3 L1419.4 806.2 L1428.5 807.7 L1437.6 809.9 L1446.7 812.7 L1455.7 816.2 L1464.8 820.3 L1473.9 825.1 L1483.0 830.6 L1492.1 836.7 L1501.1 843.6 L1510.2 851.0 L1519.3 859.1 L1528.4 867.8 L1537.4 877.1 L1546.5 886.8"/></defs>
<use href="#L12bmax" stroke="#0F7DC2" stroke-opacity="0.35" stroke-width="8" fill="none" stroke-linejoin="round"/>
<use href="#L12bmax" stroke="#0F7DC2" stroke-width="4.3" fill="none" stroke-linejoin="round"/>
<defs><path id="L12bmin" d="M1138.0 998.0 L1147.1 995.1 L1156.2 992.2 L1165.2 989.3 L1174.3 986.4 L1183.4 983.5 L1192.5 980.6 L1201.5 977.8 L1210.6 974.9 L1219.7 972.0 L1228.8 969.1 L1237.9 966.1 L1246.9 963.1 L1256.0 960.1 L1265.1 957.0 L1274.2 953.8 L1283.3 950.7 L1292.3 947.5 L1301.4 944.3 L1310.5 941.2 L1319.6 938.0 L1328.6 935.0 L1337.7 932.0 L1346.8 929.2 L1355.9 926.5 L1365.0 924.1 L1374.0 921.9 L1383.1 920.1 L1392.2 918.7 L1401.3 917.9 L1410.4 917.8 L1419.4 918.3 L1428.5 919.7 L1437.6 921.9 L1446.7 924.8 L1455.7 928.4 L1464.8 932.6 L1473.9 937.5 L1483.0 942.9 L1492.1 948.8 L1501.1 955.3 L1510.2 962.3 L1519.3 969.8 L1528.4 977.9 L1537.4 986.5 L1546.5 995.6"/></defs>
<use href="#L12bmin" stroke="#0F7DC2" stroke-opacity="0.35" stroke-width="8" fill="none" stroke-linejoin="round"/>
<use href="#L12bmin" stroke="#0F7DC2" stroke-width="4.3" fill="none" stroke-linejoin="round"/>
<rect x="1600.3" y="732.6" width="462.6" height="472.8" fill="#fff" stroke="#ADADAD" stroke-width="2.2"/>
<g stroke="#fff"><path d="M1619.2 731.5V1206.5" stroke-width="5.8"/><path d="M1677.1 731.5V1206.5" stroke-width="2.9"/><path d="M1734.9 731.5V1206.5" stroke-width="5.8"/><path d="M1792.8 731.5V1206.5" stroke-width="2.9"/><path d="M1850.7 731.5V1206.5" stroke-width="5.8"/><path d="M1908.5 731.5V1206.5" stroke-width="2.9"/><path d="M1966.4 731.5V1206.5" stroke-width="5.8"/><path d="M2024.3 731.5V1206.5" stroke-width="2.9"/><path d="M1599.2 1155.7H2064.0" stroke-width="2.9"/><path d="M1599.2 1089.3H2064.0" stroke-width="5.8"/><path d="M1599.2 1022.8H2064.0" stroke-width="2.9"/><path d="M1599.2 956.4H2064.0" stroke-width="5.8"/><path d="M1599.2 889.9H2064.0" stroke-width="2.9"/><path d="M1599.2 823.5H2064.0" stroke-width="5.8"/><path d="M1599.2 757.0H2064.0" stroke-width="2.9"/></g>
<path d="M2027.7 922.5h0M1862.2 890.5h0M1929.4 896.3h0M1980.3 813.7h0M1854.1 891.3h0M1928.2 817.9h0M1776.6 913.4h0M1753.4 996.4h0M1712.9 838.7h0M1885.4 795.4h0M1877.3 784.6h0M1947.9 929.2h0M1901.6 911.2h0M1744.2 818.7h0M1649.3 864.9h0M1761.5 922.4h0M2038.1 997.9h0M1635.4 853.3h0M1774.3 916.3h0M1993 946.9h0M1686.3 1027.3h0M1754.6 801.4h0M1826.4 784.3h0M1719.9 952.7h0M1849.5 788.7h0M1930.5 810.8h0M1925.9 785.2h0M2016.2 836.6h0M1625 865.7h0M1879.6 886.5h0M1988.4 819.3h0M1907.4 901.5h0M1953.7 926.5h0M1635.4 943.3h0M1961.8 908.2h0M1805.5 908.2h0M1678.2 983.6h0M1755.8 936.3h0M1850.7 789.2h0M1887.7 795.4h0M1652.8 834.9h0M1722.2 820.5h0M1934 795.6h0M1917.8 800.5h0M1699.1 825.4h0M1736.1 806.3h0M1653.9 957.2h0M1966.4 806.9h0M1863.4 899h0M1748.8 963.1h0M1693.3 982.1h0M1829.8 912.9h0M1663.2 981.3h0M1750 983.8h0M1746.5 936.4h0M1934 895.7h0M1924.7 777.9h0M1775.4 923.4h0M1957.1 842h0M1921.3 788.9h0M1980.3 927.4h0M1844.9 808.1h0M1649.3 980.6h0M1752.3 823.4h0M1853 887.5h0M1957.1 919.1h0M1865.7 789h0M1655.1 859.8h0M1952.5 920.8h0M2012.7 1016h0M1643.5 869.2h0M1825.2 893.8h0M1887.7 885.4h0M1670.1 962.8h0M1630.8 988.3h0M1628.5 963h0M1673.6 986.4h0M1859.9 898.3h0M2031.2 1005.2h0M1630.8 892.9h0M1842.6 810.4h0M1893.5 887.9h0M1777.8 906.4h0M2032.4 838.3h0M1870.3 882.6h0M1685.2 942.9h0M1909.7 892.5h0M1818.3 799.9h0M2020.8 968.8h0M1666.6 841.5h0M1876.1 880.2h0M1922.4 879.1h0M1951.3 940.5h0M1800.9 896.5h0M1711.8 855.8h0M2001.1 833.2h0M1694.4 843.2h0M1650.4 949.4h0M1944.4 804.3h0M1718.7 935.4h0M1964.1 920.6h0M1791.6 916.7h0M1675.9 848.7h0M1986.1 912.4h0M1908.5 787.6h0M1831 786.8h0M1837.9 788.9h0M1943.2 906.9h0M2033.5 999.7h0M1835.6 795.4h0M1839.1 795.8h0M1657.4 861.6h0M1628.5 889.6h0M1796.3 804h0M2025.4 830.7h0M1895.8 794.4h0M1648.1 847.4h0M1841.4 812.8h0M1983.7 802.8h0M1908.5 905.1h0M1857.6 900.4h0M1803.2 901.5h0M1725.7 820.6h0M1875 785.3h0M1900.4 785.7h0M2015 839.7h0M1753.4 812.3h0M1848.3 801.9h0M1772 834.2h0M1737.2 809.7h0M1787 972.3h0M1784.7 789h0M1915.5 892h0M2018.5 930.5h0M1966.4 919.4h0M1767.3 811.4h0M1795.1 913.4h0M2024.3 812.9h0M1822.9 802.4h0M1859.9 798.4h0M2030 840.8h0M1855.3 889.9h0M1929.4 817.8h0M1902.7 903.5h0M1756.9 858.4h0M1946.7 802h0M1711.8 924.6h0M1946.7 966.9h0M1785.9 929.4h0M1915.5 799h0M1758.1 843.8h0M1913.2 899.4h0M1763.9 806.2h0M1993 825.7h0M1682.9 1032.8h0M1897 906.9h0M1998.8 932.3h0M1660.9 849.2h0M1723.4 821.5h0M1840.2 911.2h0M1641.2 892.3h0M1821.7 815.6h0M1971 809.5h0M1680.5 1048.3h0M1758.1 938.2h0M1631.9 949.3h0M2040.5 832.8h0M1680.5 882.2h0M1858.8 900.6h0M2039.3 888.2h0M1912 892.9h0M1784.7 928.6h0M1822.9 883.4h0M1960.6 785.2h0M1848.3 914.2h0M1846 814.2h0M1728 830.6h0M1981.4 916.6h0M1914.3 794.9h0M2026.6 903.1h0M2010.4 922.7h0M1688.6 851.3h0M1858.8 792.3h0M1996.5 962.9h0M1998.8 806.7h0M1656.2 983.9h0M1945.6 805h0M1984.9 813.6h0M1812.5 806.7h0M1979.1 943.4h0M1937.5 812.9h0M1702.5 811.8h0M1692.1 956.3h0M2041.6 1065.4h0M1633.1 885.8h0M1746.5 852.9h0M1806.7 806.5h0M1938.6 819.9h0M1824 804.2h0M1662 1008.5h0M1817.1 793.3h0M1883.1 892.3h0M2005.7 843.7h0M1691 874.6h0M1989.5 823.3h0M2028.9 875.2h0M1792.8 803.1h0M1785.9 795.4h0M2027.7 874.1h0M1669 851.2h0M1730.3 839.1h0M1754.6 959.4h0M1916.6 880h0M1731.5 930.3h0M1765 936.1h0M1864.5 781.6h0M1775.4 803.1h0M2026.6 929h0M1803.2 827.6h0M1740.7 796.8h0M2018.5 824.5h0M1886.5 794h0M1939.8 900.1h0M1794 789.3h0M1707.2 802.2h0M1844.9 903h0M1674.8 882.1h0M1841.4 898.6h0M1995.3 824h0M1665.5 922.2h0M1798.6 920.5h0M1814.8 906h0M1931.7 904.2h0M1645.8 845.5h0M2017.3 818.1h0M1734.9 829h0M2003.4 1015.1h0M1774.3 800.7h0M2017.3 953.6h0M1733.8 905.2h0M1897 781.3h0" stroke="#0F7DC2" stroke-width="7.2" stroke-linecap="round" fill="none"/>
<path d="M1908.5 893.5h0M1806.7 820.6h0M1781.2 905.1h0M1804.4 893.9h0M1825.2 806.5h0M2025.4 839.5h0M1818.3 804.7h0M1950.2 911h0M1843.7 888.7h0M2024.3 842h0M1849.5 802h0M1726.8 889.6h0M1623.8 840h0M1637.7 838.1h0M1871.5 808.6h0M1913.2 890.9h0M2030 836.3h0M1673.6 832.6h0M1703.7 946.6h0M1967.5 805.1h0M1996.5 944.2h0M1862.2 808.9h0M1901.6 804.2h0M1730.3 900.2h0M1958.3 791.6h0M1702.5 933.7h0M1717.6 820.8h0M1669 954.4h0M1626.1 850.3h0M1782.4 800.1h0M1939.8 899.3h0M1864.5 800.2h0M1783.5 815.4h0M1795.1 801.9h0M1903.9 804.3h0M1815.9 803.2h0M1958.3 918.5h0M1709.5 809.3h0M1991.9 821.4h0M1914.3 788.8h0M2031.2 998h0M1898.1 891.3h0M1965.2 806.4h0M1780.1 808h0M1800.9 914.1h0M1931.7 802.6h0M1995.3 938.6h0M1872.6 803.3h0M1746.5 791.6h0M1694.4 806.6h0M1787 804.2h0M2034.7 863h0M1947.9 911h0M1794 811.7h0M1921.3 795.6h0M1917.8 882.3h0M1990.7 920.6h0M1790.5 796h0M1797.4 794.9h0M1828.7 824.5h0M1758.1 916.2h0M1780.1 913.3h0M1736.1 809.6h0M1734.9 903.2h0M1953.7 794.7h0M1740.7 926.9h0M1696.7 824h0M1934 892h0M2019.6 836.4h0M1971 812.2h0M1714.1 820h0M1620.4 946.1h0M1795.1 890h0M1731.5 809.7h0M1994.2 928.1h0M1949 794.8h0M1964.1 813h0M1707.2 808.4h0M1887.7 789.5h0M1640 993.7h0M1842.6 816.6h0M1892.3 895.5h0M1655.1 974.4h0M1665.5 819.9h0M1741.9 803.8h0M1877.3 899.1h0M1824 911.4h0M1697.9 920.4h0M1724.5 805.7h0M1677.1 821.3h0M1652.8 983.5h0M2028.9 822.9h0M1812.5 906.4h0M1716.4 792.9h0M1892.3 799.5h0M1723.4 905.5h0M1699.1 924.3h0M2012.7 819.3h0M2021.9 832.7h0M1651.6 949.4h0M1846 888.2h0M1994.2 820.1h0M1986.1 802.3h0M1675.9 932.4h0M1829.8 894.6h0M1679.4 933.2h0M2019.6 964.4h0M1750 894.9h0M1952.5 798.4h0M1944.4 819.3h0M1655.1 843.2h0M1775.4 806.2h0M2005.7 930.7h0M2023.1 837.4h0M1877.3 797.8h0M1752.3 801.5h0M1905.1 801.6h0M1649.3 831.7h0M1759.2 781.1h0M1832.1 801.8h0M1957.1 919.9h0M1731.5 898.4h0M1627.3 852.1h0M1861.1 881.5h0M1988.4 935.3h0M1989.5 814.5h0M2026.6 831.1h0M1909.7 889.3h0M1836.8 800.5h0M1747.7 797.3h0M1804.4 812h0M1695.6 903.9h0M1774.3 912.3h0M1682.9 922.2h0M1938.6 784.6h0M1978 921.1h0M1796.3 903h0M1961.8 924.5h0M1835.6 888.5h0M1640 872.8h0M1932.8 802.5h0M1890 886h0M1706 820.2h0M2027.7 840.9h0M1854.1 786.1h0M1929.4 797.7h0M1937.5 916.5h0M1978 819.9h0M1857.6 880.2h0M2016.2 910.6h0M2012.7 944.2h0M2033.5 953.6h0M1906.2 801.4h0M1762.7 803h0M1817.1 902.1h0M1907.4 898.9h0M2033.5 853.4h0M2013.8 939.5h0M1887.7 890.6h0M1620.4 843.4h0M1839.1 908.2h0M2011.5 819h0M1763.9 807.6h0M1734.9 805.1h0M1893.5 808.8h0M1719.9 802h0M1799.7 786.8h0M1664.3 976.6h0M1829.8 825.6h0M1769.6 797h0M1946.7 911.7h0M1648.1 837.5h0M1663.2 813.8h0M1741.9 954.6h0M1761.5 801.9h0M2024.3 961h0M1872.6 915.9h0M1834.5 902.7h0M2016.2 859.6h0M1803.2 832.1h0M1832.1 892.4h0M1959.4 918.2h0M1826.4 895.2h0M1934 793.8h0M1763.9 928.7h0M1728 910.8h0M1650.4 811.7h0M1627.3 962.2h0M1935.1 897.8h0M1945.6 806.1h0M1729.1 902.1h0M1647 943.7h0M1803.2 890.6h0M2020.8 832.3h0M1737.2 814.5h0M1915.5 880.1h0M1743 931.7h0M1987.2 805.1h0M1836.8 889.2h0M1797.4 909.3h0M1907.4 806.1h0M1700.2 828.8h0M1791.6 934.6h0M1826.4 808.5h0M1642.3 959h0M1778.9 914.8h0M1712.9 812.6h0M1684 936.3h0M1883.1 898.3h0M1981.4 907.8h0M1629.6 952.4h0M1641.2 961.6h0M1716.4 934.8h0M1767.3 893.6h0M1638.9 842.5h0M1745.3 895h0M1785.9 921.8h0M1847.2 889.7h0M1976.8 925.8h0M1928.2 795.1h0M1738.4 814.8h0M1678.2 943.8h0M1746.5 917.8h0M1936.3 787.2h0M1814.8 894.8h0M1651.6 810.3h0M1891.2 890.5h0M1697.9 820h0M1855.3 781.4h0M1630.8 845h0M1754.6 882.4h0M1811.3 900.9h0M1689.8 798.3h0M1806.7 904.2h0M1777.8 797.8h0M1914.3 890.4h0M1739.6 939h0M1898.1 793h0M1910.8 885.8h0M1710.6 813.5h0M1730.3 804.3h0M1982.6 913.6h0M1666.6 804.2h0" stroke="#FA6014" stroke-width="7.2" stroke-linecap="round" fill="none"/>
<path d="M1717.6 821.2h0M1666.6 930h0M1760.4 946.7h0M1840.2 811.8h0M1670.1 839.4h0M1905.1 801.5h0M1997.6 817.5h0M1641.2 1050.3h0M1695.6 835.1h0M1927 882.9h0M1990.7 941.9h0M1880.7 926.9h0M1898.1 899.2h0M1920.1 794.7h0M1958.3 802.7h0M1729.1 948.9h0M1927 784.7h0M1781.2 914.7h0M1825.2 796.7h0M1706 998.5h0M1894.6 891.5h0M1839.1 915.2h0M1862.2 774.7h0M1677.1 849.1h0M1826.4 887.7h0M2039.3 1000.4h0M1637.7 832.6h0M1769.6 916.8h0M2038.1 882.7h0M1875 877.8h0M2010.4 838.2h0M1974.5 805h0M1799.7 942.4h0M1976.8 806h0M1969.9 784.6h0M1703.7 856.1h0M1629.6 970.1h0M1750 811.5h0M1780.1 917.8h0M2011.5 821.5h0M1769.6 811.1h0M1755.8 829.5h0M1726.8 838.8h0M1854.1 807.2h0M1898.1 780.5h0M1636.6 822.8h0M1892.3 888.5h0M1679.4 855h0M1916.6 795.8h0M1795.1 801.7h0M1881.9 895.3h0M1918.9 798.5h0M1638.9 834.2h0M1712.9 942.6h0M1951.3 800.2h0M1748.8 825.8h0M1975.6 802.9h0M1967.5 913.7h0M1710.6 839.8h0M1943.2 827.7h0M1910.8 901.5h0M1671.3 939.1h0M2006.9 936.4h0M1939.8 810.7h0M1766.2 930.9h0M2023.1 830.6h0M1821.7 905.6h0M1717.6 988h0M1976.8 954.8h0M1923.6 884.9h0M2001.1 920.8h0M1995.3 937.8h0M1650.4 845.1h0M1706 829.2h0M1709.5 839.8h0M1819.4 908.7h0M1964.1 812.2h0M1969.9 996.1h0M1849.5 903.8h0M1633.1 961.1h0M1877.3 880.9h0M1716.4 938.3h0M1731.5 855.3h0M1883.1 790.4h0M1958.3 925.2h0M1864.5 892.4h0M1885.4 896.5h0M2002.3 960.3h0M1701.4 1033.6h0M1798.6 828.3h0M2040.5 1016.1h0M1824 888.9h0M1740.7 892.3h0M2034.7 864.2h0M1743 929.7h0M1715.3 979.5h0M1855.3 808.8h0M1930.5 900.1h0M1813.6 796.1h0M1692.1 834.6h0M1843.7 908.5h0M1813.6 944.4h0M1664.3 945.7h0M2041.6 845.4h0M1751.1 793.2h0M1759.2 1009.8h0M2019.6 836.9h0M1700.2 853.9h0M2033.5 872.2h0M1783.5 913.9h0M1884.2 790.6h0M1730.3 930.7h0M1866.9 925h0M1962.9 968h0M1861.1 785h0M1768.5 921.4h0M1945.6 913.1h0M1626.1 861.8h0M1694.4 937.8h0M1782.4 807.5h0M1770.8 814.7h0M1656.2 847.9h0M1733.8 809.9h0M1968.7 962.7h0M1640 957.3h0M1722.2 938.7h0M1732.6 925.5h0M1978 807.3h0M1704.8 1023.6h0M1703.7 954.9h0M1660.9 1003.5h0M1678.2 857h0M1863.4 773.4h0M1820.6 916.2h0M2000 831.7h0M1681.7 974.8h0M1648.1 1011.9h0M1787 811.3h0M1828.7 803.5h0M1702.5 975h0M1726.8 984.3h0M2037 870.6h0M1982.6 829.9h0M1891.2 897.5h0M1903.9 791.4h0M1856.4 889.3h0M1815.9 899.8h0M1728 979.3h0M1762.7 925h0M1684 901.9h0M1789.3 810h0M1810.2 820.4h0M1797.4 923.6h0M1959.4 910.7h0M1645.8 959.8h0M1954.8 812.6h0M2016.2 950.9h0M1766.2 796.2h0M1938.6 904.2h0M1987.2 936.8h0M1920.1 895.3h0M1714.1 821.8h0M1738.4 952.5h0M2012.7 827.5h0M1868 904.1h0M1739.6 915.5h0M1759.2 794.6h0M1700.2 964.4h0M1663.2 876.4h0M2013.8 951.2h0M1768.5 798.7h0M1625 959h0M2035.8 867.5h0M1657.4 954.1h0M1942.1 905.7h0M1817.1 903.6h0M1912 795.1h0M1675.9 961h0M1899.3 794.5h0M1634.2 1024.4h0M1851.8 904h0M1947.9 813.6h0M1662 869.9h0M1788.2 923.7h0M1984.9 923.9h0M1709.5 956.8h0M2021.9 978.8h0M1814.8 786.3h0M1679.4 979.9h0M1708.3 833.6h0M1806.7 909.8h0M1634.2 886.1h0M1827.5 907h0M2025.4 959.4h0M1747.7 808.6h0M1950.2 902.4h0M1681.7 881.4h0M1658.5 958.5h0M1892.3 789.7h0M2003.4 844h0M1878.4 784.3h0M1643.5 1003.1h0M1781.2 807.5h0M1699.1 927.3h0M1789.3 904.7h0M1928.2 896.4h0M1687.5 843.8h0M1697.9 824.1h0M1696.7 839.1h0M1968.7 792.7h0M1876.1 787.3h0M1842.6 902.8h0M1961.8 805.5h0M1869.2 801.7h0M1738.4 780.6h0M1739.6 796.1h0M1868 795.6h0M1708.3 950.2h0M1651.6 852.3h0M1935.1 809.7h0M1671.3 863.4h0M1807.8 902.2h0M1809 909.4h0M1997.6 983h0M1834.5 793h0M1751.1 947.1h0M1800.9 818.5h0M1674.8 1010.6h0M1799.7 812.5h0M1664.3 862h0M2031.2 828h0M1804.4 834.4h0M1949 805.3h0M1815.9 795.8h0M1873.8 786.4h0M2037 996.6h0M1878.4 885.3h0M1773.1 912h0M1747.7 981.7h0M1647 1027.4h0M1729.1 850.1h0" stroke="#0F7DC2" stroke-width="7.2" stroke-linecap="round" fill="none"/>
<path d="M1942.1 807.8h0M1879.6 882.3h0M1875 902.3h0M1704.8 947.5h0M1732.6 808.3h0M1886.5 793.9h0M1834.5 800.5h0M1864.5 895.5h0M1951.3 899.7h0M1862.2 894.9h0M1998.8 821.7h0M2004.6 926h0M2026.6 948.9h0M1863.4 821.6h0M2041.6 969.5h0M1859.9 882.9h0M1740.7 796.9h0M1966.4 807.6h0M2020.8 976.3h0M1879.6 784.8h0M1685.2 944.1h0M1672.4 843.2h0M1866.9 795.8h0M1717.6 919.9h0M1773.1 804.4h0M1849.5 888.7h0M1878.4 887.6h0M1923.6 798.5h0M1928.2 904h0M1665.5 952.3h0M2032.4 851.3h0M2037 837.8h0M1960.6 920.2h0M1788.2 903.9h0M1814.8 817.4h0M1856.4 795.4h0M1960.6 791.7h0M1937.5 785.8h0M1984.9 811.2h0M2006.9 932.7h0M1770.8 903.4h0M1973.3 918.3h0M1968.7 914.7h0M1894.6 881.6h0M1913.2 801.7h0M1883.1 799.6h0M1976.8 821.8h0M1975.6 812.8h0M1647 835.9h0M1920.1 901.5h0M1636.6 834.7h0M1902.7 798.4h0M2031.2 831.9h0M1984.9 904.6h0M2040.5 959.1h0M1885.4 800.4h0M1650.4 939.6h0M1905.1 909.5h0M1968.7 804.1h0M1685.2 823.2h0M2037 966.9h0M1810.2 886h0M1696.7 905h0M1707.2 948.8h0M1761.5 924.3h0M2015 925.3h0M1820.6 792.1h0M1969.9 916.4h0M1840.2 936.8h0M1762.7 919.1h0M1980.3 818h0M1776.6 922.9h0M1644.7 934h0M1833.3 802.1h0M1692.1 805.1h0M1819.4 813.1h0M1912 804.7h0M1642.3 835.3h0M2008.1 825.8h0M1855.3 900h0M1894.6 791.2h0M1662 811.6h0M1759.2 925.7h0M1936.3 899.1h0M1629.6 853.9h0M1813.6 910h0M1784.7 914.8h0M1848.3 889.4h0M1997.6 825.9h0M1835.6 804.8h0M1831 811.5h0M1743 804.2h0M1869.2 798.5h0M1916.6 889.6h0M1788.2 801.4h0M1776.6 805.5h0M1865.7 903.3h0M1844.9 809.8h0M1938.6 907.9h0M1811.3 807.8h0M1687.5 808.5h0M1932.8 888.8h0M1980.3 905.9h0M1854.1 898.6h0M2005.7 820.3h0M2013.8 824.3h0M1766.2 811.5h0M1847.2 810.5h0M1858.8 799.9h0M2038.1 837.6h0M1635.4 936h0M1983.7 907.3h0M1652.8 812h0M1694.4 922h0M1770.8 808.7h0M1660.9 798.6h0M1634.2 841.1h0M1881.9 792.3h0M1827.5 814.5h0M1784.7 808h0M1725.7 817.7h0M1962.9 814.3h0M1693.3 810.2h0M1884.2 800.3h0M1645.8 930.3h0M1890 800h0M1693.3 925h0M1686.3 952.2h0M1908.5 803.3h0M1657.4 841.8h0M1631.9 840.9h0M1733.8 893.8h0M1886.5 901.5h0M1728 816.3h0M2040.5 837.8h0M1674.8 913.2h0M1805.5 889.2h0M2035.8 948.2h0M1753.4 809.6h0M1754.6 798.9h0M1695.6 822.4h0M1798.6 907.5h0M1956 923h0M2035.8 857.5h0M1810.2 817.4h0M1721 813h0M1723.4 813.1h0M1950.2 806h0M1625 923.7h0M1663.2 909h0M1656.2 956.1h0M1737.2 934h0M1831 895.1h0M1726.8 818.4h0M1679.4 809.4h0M1825.2 900.1h0M1718.7 916.3h0M1853 785.9h0M1878.4 803.6h0M2011.5 939h0M1871.5 890.2h0M2021.9 992.2h0M1772 812.6h0M1671.3 844.8h0M1873.8 814.5h0M1681.7 813.8h0M1807.8 919h0M1922.4 801.9h0M1711.8 920.7h0M1972.2 828.8h0M2001.1 823.9h0M1851.8 796.9h0M1768.5 913.4h0M1686.3 812.1h0M1671.3 934h0M1688.6 809.4h0M1989.5 931.3h0M1870.3 905.1h0M1623.8 971.4h0M1839.1 805.9h0M2038.1 966.2h0M1946.7 804.6h0M1943.2 915.4h0M1719.9 889.5h0M1929.4 902.1h0M1672.4 946.9h0M1722.2 934.4h0M1909.7 805.2h0M1659.7 937.7h0M1827.5 891.9h0M1828.7 894.8h0M1983.7 809.3h0M1943.2 805.5h0M1621.5 963.8h0M1675.9 815.4h0M1848.3 811h0M1966.4 930.3h0M2001.1 936.8h0M1688.6 942.3h0M1739.6 811.5h0M1824 794.4h0M1998.8 932.2h0M1680.5 926h0M1817.1 813h0M2018.5 964.8h0M1710.6 939.5h0M1662 963.7h0M1840.2 806.9h0M1979.1 812.2h0M2039.3 966.7h0M1821.7 905.4h0M1902.7 903.6h0M2015 870.1h0M1850.7 896.4h0M1729.1 809.3h0M1658.5 826.8h0M1987.2 924.2h0M1768.5 806.6h0M1841.4 813h0M1634.2 954.4h0M1940.9 901.3h0M1921.3 898.5h0M1765 920.1h0M1775.4 910.3h0M1964.1 907.6h0M1702.5 819.4h0M1653.9 975.2h0M1861.1 790.5h0M1744.2 790.5h0M1858.8 883.4h0M1897 790.9h0M1807.8 813.5h0M1799.7 914.5h0M1843.7 805.3h0M2008.1 930.6h0M1884.2 901.4h0M1859.9 804.9h0M1953.7 905.5h0M1995.3 823h0M1789.3 897.6h0M1822.9 789.4h0M1981.4 818.4h0M1990.7 817.3h0" stroke="#FA6014" stroke-width="7.2" stroke-linecap="round" fill="none"/>
<path d="M2021.9 806.4h0M2009.2 920h0M1796.3 917.4h0M1942.1 802.4h0M1918.9 890.3h0M1871.5 793.7h0M1788.2 819.9h0M1743 821.2h0M1857.6 800.5h0M1950.2 807.4h0M1837.9 906h0M1760.4 805.7h0M1669 963.1h0M1956 807.8h0M1659.7 849.7h0M1701.4 842.8h0M1973.3 914.7h0M1831 909.7h0M1644.7 889.6h0M1636.6 984.3h0M2011.5 981.1h0M1994.2 950.5h0M1647 864.4h0M1704.8 825.5h0M1914.3 903.8h0M1954.8 930.1h0M1693.3 907.9h0M1987.2 804.3h0M1761.5 800.9h0M1871.5 883h0M1725.7 936.6h0M1763.9 921.6h0M1917.8 879.1h0M1853 812.7h0M1644.7 934.4h0M1836.8 915.3h0M2008.1 921.4h0M1756.9 935.8h0M1741.9 812.1h0M1665.5 877.3h0M1866.9 798.3h0M2023.1 951h0M1986.1 809.2h0M2030 935.2h0M1865.7 897.4h0M1895.8 896.7h0M1737.2 945.2h0M1724.5 859.5h0M1872.6 882.6h0M1811.3 919.3h0M1820.6 804.7h0M1959.4 792h0M1672.4 959h0M1745.3 825.9h0M1673.6 844.7h0M1888.9 802.7h0M1686.3 851.8h0M1925.9 896.3h0M1812.5 899.1h0M1805.5 823.6h0M1783.5 805h0M1715.3 818.6h0M1765 797.9h0M2006.9 846.5h0M1744.2 903h0M1910.8 777.5h0M1833.3 916.2h0M1921.3 921.2h0M1899.3 895.8h0M1924.7 892.7h0M1870.3 796h0M1850.7 898h0M1734.9 912.6h0M1652.8 955.1h0M1710.6 964.8h0M1811.3 826.2h0M1772 922.3h0M1631.9 891.6h0M1827.5 775.2h0M1932.8 906.9h0M1991.9 811.7h0M1856.4 799.6h0M1773.1 801.8h0M2024.3 972.3h0M1953.7 815.8h0M1828.7 900.3h0M1974.5 928.7h0M1770.8 903.2h0M1723.4 935.2h0M1833.3 796.1h0M1903.9 892.3h0M2034.7 999.8h0M1869.2 893.5h0M1804.4 929.7h0M1640 857.6h0M1965.2 803.2h0M1988.4 930.8h0M1807.8 800.4h0M2013.8 842.8h0M1767.3 910.7h0M1658.5 857.7h0M1981.4 825.5h0M1893.5 800.2h0M1983.7 926.2h0M1975.6 924.5h0M1973.3 799.4h0M1972.2 823.4h0M1832.1 912.2h0M1832.1 793.8h0M1940.9 817.9h0M1677.1 921.1h0M1996.5 820.2h0M1642.3 875.2h0M1879.6 785.5h0M1906.2 786.7h0M2015 930.3h0M1732.6 816.1h0M1697.9 911.4h0M2009.2 824.2h0M1872.6 799h0M1923.6 788.6h0M1834.5 887.4h0M1626.1 985.5h0M2020.8 828.2h0M1891.2 783.4h0M1741.9 936.7h0M1906.2 887.2h0M2004.6 862.9h0M1886.5 890.3h0M1847.2 819.3h0M1888.9 886h0M1653.9 837.7h0M1971 928h0M1627.3 888.6h0M1623.8 988.6h0M1936.3 806.5h0M1836.8 792.7h0M1982.6 918.5h0M1724.5 975.6h0M1687.5 1026.3h0M2002.3 828.3h0M1790.5 801.4h0M1716.4 826.3h0M1810.2 926.9h0M2005.7 966.6h0M1667.8 847h0M1940.9 902.1h0M1935.1 904.9h0M1691 961.8h0M1672.4 847.4h0M1960.6 915.9h0M1794 915.2h0M2000 924.8h0M1873.8 879.9h0M1932.8 803.3h0M1802.1 819.3h0M1778.9 905.8h0M1629.6 890.9h0M1802.1 904.2h0M1936.3 893.7h0M1931.7 798.8h0M1962.9 795.4h0M1991.9 954.8h0M1721 914.6h0M1990.7 836.2h0M1688.6 959h0M1835.6 901h0M1952.5 814.1h0M1956 984h0M1685.2 872.4h0M1792.8 955.9h0M2035.8 1029.8h0M1829.8 799.2h0M1696.7 903.4h0M1967.5 814.5h0M1994.2 830.7h0M1782.4 988.4h0M1790.5 905.9h0M1637.7 995.5h0M1843.7 809h0M1682.9 867.3h0M1721 833.3h0M1778.9 800.3h0M1978 931.9h0M1846 906.6h0M1851.8 803.3h0M1972.2 907.3h0M1922.4 805.6h0M1659.7 970.3h0M1907.4 786h0M1905.1 897.8h0M2004.6 972.7h0M1718.7 820h0M1638.9 969.6h0M2008.1 841.6h0M1655.1 994.7h0M1780.1 800.2h0M2028.9 919.5h0M1714.1 943.7h0M1819.4 793.7h0M2019.6 948.6h0M1890 885h0M1937.5 904.1h0M1707.2 962.7h0M1762.7 837.6h0M1965.2 924h0M1719.9 842.5h0M1909.7 791.7h0M1777.8 807.3h0M1900.4 906.2h0M1989.5 929h0M1979.1 803.8h0M1791.6 804.4h0M1913.2 795.5h0M1642.3 1002.4h0M1949 913.7h0M1752.3 952.2h0M1627.3 962.6h0M1736.1 914.5h0M1818.3 894.2h0M1667.8 938.6h0M1847.2 906.1h0M1884.2 895h0M1809 797.8h0M1623.8 881.8h0M1776.6 807.4h0M1689.8 990.1h0M1651.6 1010.9h0M1881.9 781.8h0M1902.7 810.9h0M1880.7 790h0M2032.4 979.9h0M1797.4 808.8h0M1695.6 929.4h0M1890 790.8h0M1861.1 904.8h0M1901.6 789.6h0M1894.6 792.8h0M1684 960.4h0M1689.8 847.7h0M1745.3 907.3h0M1944.4 914.4h0" stroke="#0F7DC2" stroke-width="7.2" stroke-linecap="round" fill="none"/>
<path d="M1866.9 908.4h0M1667.8 956.6h0M1745.3 793.5h0M1638.9 956.7h0M1785.9 810.9h0M1755.8 898.9h0M1692.1 924.1h0M1895.8 887.8h0M2039.3 832.6h0M1815.9 893.3h0M1974.5 806.9h0M1732.6 887.5h0M1766.2 896.2h0M1796.3 797.2h0M1733.8 806.7h0M1925.9 783.4h0M1993 908.9h0M1691 803.7h0M1753.4 879.4h0M1667.8 810h0M2030 960h0M1792.8 904.4h0M1906.2 910.4h0M1922.4 901.3h0M1819.4 910.2h0M1975.6 926.9h0M1751.1 881.9h0M1631.9 975.5h0M1935.1 784.9h0M2009.2 819.7h0M1736.1 920.1h0M1927 795.3h0M1658.5 952.9h0M1875 813.3h0M1833.3 886.4h0M1760.4 793h0M1957.1 791.3h0M1633.1 978.8h0M1630.8 939.9h0M1897 882.8h0M2032.4 986h0M1837.9 895.6h0M1974.5 927h0M2034.7 945.5h0M1653.9 821.1h0M1876.1 903.4h0M1798.6 793.5h0M1704.8 821.4h0M2017.3 932.7h0M1678.2 820.7h0M1656.2 822.8h0M1931.7 890h0M2004.6 817.8h0M1856.4 887.7h0M1783.5 921.4h0M1681.7 922.4h0M1738.4 919.2h0M1865.7 800.2h0M2003.4 816.3h0M1888.9 804.8h0M1993 811.7h0M1643.5 825.3h0M1868 817.2h0M1912 898.3h0M1718.7 792.6h0M1626.1 916.6h0M1689.8 945.9h0M1687.5 948.2h0M1701.4 814.4h0M1748.8 913.6h0M1947.9 800.2h0M1772 916.8h0M1756.9 910.2h0M1794 901.3h0M1868 915h0M1853 893h0M1991.9 920.2h0M1917.8 797.1h0M1809 815.3h0M1805.5 814.8h0M1699.1 808.3h0M1752.3 878.9h0M1837.9 796.2h0M1625 856h0M1715.3 914.9h0M1701.4 928.7h0M1670.1 932.1h0M1888.9 887.7h0M1962.9 907h0M1708.3 937.5h0M2010.4 811.5h0M1988.4 797.9h0M1669 820.8h0M1677.1 919.5h0M1709.5 909.7h0M1649.3 968.6h0M1666.6 962.6h0M1876.1 803.7h0M1881.9 890.4h0M1645.8 830.4h0M1880.7 784.5h0M1680.5 810.5h0M1900.4 792h0M1748.8 800.7h0M1755.8 807.7h0M1850.7 798h0M1899.3 877.6h0M1891.2 801.3h0M1635.4 823.8h0M1885.4 897.2h0M1765 816.4h0M1664.3 849.4h0M1818.3 908.2h0M2000 822h0M1880.7 884.9h0M1809 899.9h0M1846 809.8h0M1893.5 892.4h0M1844.9 888h0M1901.6 889.7h0M1996.5 815.2h0M1641.2 857.6h0M1822.9 928.9h0M1684 818.5h0M1952.5 899h0M1781.2 801.8h0M1724.5 924.2h0M1961.8 793.7h0M1910.8 802.7h0M1925.9 895.9h0M1714.1 923.8h0M1954.8 919.8h0M2000 922.7h0M1622.7 975h0M1821.7 783.2h0M2028.9 949.3h0M1774.3 800.5h0M1637.7 969.7h0M1789.3 802h0M1869.2 912.4h0M1945.6 910.4h0M1982.6 816.3h0M1965.2 929.5h0M1971 905.1h0M2009.2 944.4h0M1918.9 905.8h0M1715.3 821h0M1967.5 922.2h0M1792.8 806.2h0M1899.3 798.4h0M1633.1 841.1h0M1691 935h0M1997.6 953.4h0M1951.3 803.8h0M1767.3 810.2h0M1721 912h0M1903.9 904.2h0M1758.1 805.1h0M1930.5 886h0M1895.8 794.1h0M1820.6 888.8h0M2010.4 954.5h0M1773.1 914.1h0M1670.1 835h0M1657.4 946.6h0M1644.7 834.8h0M1660.9 923.9h0M1648.1 945.9h0M1956 796.4h0M2002.3 816.4h0M1700.2 921.9h0M1939.8 799.4h0M1918.9 795.1h0M1959.4 799.5h0M1973.3 809.3h0M1942.1 903.7h0M1949 910.5h0M1802.1 906.9h0M1842.6 897.4h0M1708.3 806.4h0M1787 909h0M2003.4 928.2h0M2025.4 994.6h0M1812.5 805.6h0M1969.9 813.1h0M1873.8 888.7h0M1800.9 788.9h0M1857.6 799.8h0M1863.4 887.7h0M1621.5 837.7h0M2006.9 818.6h0M1760.4 926.2h0M1900.4 898.1h0M1791.6 812.2h0M1944.4 938.9h0M1923.6 894.4h0M1628.5 945.7h0M1778.9 794.9h0M1711.8 803.3h0M1841.4 895h0M2023.1 995h0M1643.5 958.6h0M1782.4 906.7h0M1979.1 909.3h0M1747.7 899.6h0M1924.7 788.2h0M1851.8 885.8h0M1659.7 808.7h0M1790.5 901h0M1706 939.8h0M1628.5 844.8h0M1750 806.8h0M2017.3 845.7h0M1712.9 935.6h0M1924.7 893.1h0M2027.7 921.7h0M1920.1 786.1h0M2002.3 933.3h0M1954.8 797.2h0M1622.7 833.1h0M1940.9 807.1h0M1972.2 904.5h0M1769.6 929.8h0M1870.3 814.7h0M1703.7 822h0M1916.6 797.1h0M1813.6 810.1h0M1744.2 953h0M2018.5 839.2h0M1915.5 795.8h0M1930.5 795.1h0M1927 898.9h0M2041.6 836.4h0M1986.1 927.7h0M1722.2 819.7h0M1777.8 918.7h0M1674.8 823.5h0M1802.1 798h0M1725.7 921.1h0M1673.6 934.5h0M1751.1 818.5h0M1682.9 813.3h0M1756.9 806.8h0M1636.6 953.7h0" stroke="#FA6014" stroke-width="7.2" stroke-linecap="round" fill="none"/>
<defs><path id="L13omax" d="M1620.4 843.3 L1629.7 838.7 L1639.1 834.3 L1648.4 830.0 L1657.8 825.9 L1667.2 822.2 L1676.5 818.8 L1685.9 815.8 L1695.2 813.3 L1704.6 811.2 L1714.0 809.3 L1723.3 807.7 L1732.7 806.3 L1742.1 805.1 L1751.4 804.0 L1760.8 803.1 L1770.1 802.3 L1779.5 801.5 L1788.9 800.9 L1798.2 800.4 L1807.6 800.0 L1816.9 799.6 L1826.3 799.3 L1835.7 799.0 L1845.0 798.8 L1854.4 798.6 L1863.8 798.4 L1873.1 798.2 L1882.5 798.2 L1891.8 798.2 L1901.2 798.4 L1910.6 798.8 L1919.9 799.3 L1929.3 800.0 L1938.6 801.0 L1948.0 802.4 L1957.4 804.1 L1966.7 806.2 L1976.1 808.8 L1985.4 811.9 L1994.8 815.4 L2004.2 819.6 L2013.5 824.3 L2022.9 829.6 L2032.3 835.6 L2041.6 841.9"/></defs>
<use href="#L13omax" stroke="#FA6014" stroke-opacity="0.35" stroke-width="8" fill="none" stroke-linejoin="round"/>
<use href="#L13omax" stroke="#FA6014" stroke-width="4.3" fill="none" stroke-linejoin="round"/>
<defs><path id="L13omin" d="M1620.4 957.5 L1629.7 954.5 L1639.1 951.5 L1648.4 948.5 L1657.8 945.5 L1667.2 942.5 L1676.5 939.6 L1685.9 936.7 L1695.2 933.9 L1704.6 931.0 L1714.0 928.1 L1723.3 925.2 L1732.7 922.3 L1742.1 919.3 L1751.4 916.2 L1760.8 913.2 L1770.1 910.3 L1779.5 907.5 L1788.9 904.9 L1798.2 902.6 L1807.6 900.6 L1816.9 898.8 L1826.3 897.3 L1835.7 896.1 L1845.0 895.0 L1854.4 894.2 L1863.8 893.6 L1873.1 893.3 L1882.5 893.4 L1891.8 893.9 L1901.2 894.9 L1910.6 896.5 L1919.9 898.7 L1929.3 901.5 L1938.6 904.8 L1948.0 908.4 L1957.4 912.4 L1966.7 916.6 L1976.1 921.0 L1985.4 925.5 L1994.8 930.3 L2004.2 935.3 L2013.5 940.5 L2022.9 946.0 L2032.3 951.7 L2041.6 957.6"/></defs>
<use href="#L13omin" stroke="#FA6014" stroke-opacity="0.35" stroke-width="8" fill="none" stroke-linejoin="round"/>
<use href="#L13omin" stroke="#FA6014" stroke-width="4.3" fill="none" stroke-linejoin="round"/>
<defs><path id="L13bmax" d="M1623.8 887.3 L1633.1 880.3 L1642.4 873.4 L1651.7 866.8 L1661.0 860.5 L1670.2 854.6 L1679.5 849.2 L1688.8 844.4 L1698.1 840.1 L1707.4 836.2 L1716.7 832.6 L1726.0 829.2 L1735.2 826.0 L1744.5 822.9 L1753.8 819.8 L1763.1 816.8 L1772.4 814.0 L1781.7 811.4 L1790.9 808.9 L1800.2 806.7 L1809.5 804.6 L1818.8 802.8 L1828.1 801.3 L1837.4 799.9 L1846.6 798.8 L1855.9 798.0 L1865.2 797.3 L1874.5 796.9 L1883.8 796.7 L1893.1 796.8 L1902.4 797.1 L1911.6 797.6 L1920.9 798.4 L1930.2 799.5 L1939.5 801.1 L1948.8 803.1 L1958.1 805.7 L1967.3 809.0 L1976.6 813.0 L1985.9 817.7 L1995.2 823.0 L2004.5 828.8 L2013.8 835.2 L2023.0 841.9 L2032.3 849.1 L2041.6 856.4"/></defs>
<use href="#L13bmax" stroke="#0F7DC2" stroke-opacity="0.35" stroke-width="8" fill="none" stroke-linejoin="round"/>
<use href="#L13bmax" stroke="#0F7DC2" stroke-width="4.3" fill="none" stroke-linejoin="round"/>
<defs><path id="L13bmin" d="M1623.8 986.5 L1633.1 983.7 L1642.4 980.9 L1651.7 978.0 L1661.0 974.9 L1670.2 971.7 L1679.5 968.2 L1688.8 964.4 L1698.1 960.5 L1707.4 956.4 L1716.7 952.2 L1726.0 947.9 L1735.2 943.6 L1744.5 939.3 L1753.8 935.1 L1763.1 930.9 L1772.4 926.8 L1781.7 922.7 L1790.9 918.6 L1800.2 914.7 L1809.5 910.8 L1818.8 907.2 L1828.1 903.9 L1837.4 901.0 L1846.6 898.6 L1855.9 896.9 L1865.2 895.8 L1874.5 895.3 L1883.8 895.3 L1893.1 895.9 L1902.4 896.9 L1911.6 898.4 L1920.9 900.2 L1930.2 902.6 L1939.5 905.6 L1948.8 909.3 L1958.1 913.8 L1967.3 919.1 L1976.6 925.3 L1985.9 932.3 L1995.2 939.9 L2004.5 948.0 L2013.8 956.4 L2023.0 965.0 L2032.3 973.6 L2041.6 982.1"/></defs>
<use href="#L13bmin" stroke="#0F7DC2" stroke-opacity="0.35" stroke-width="8" fill="none" stroke-linejoin="round"/>
<use href="#L13bmin" stroke="#0F7DC2" stroke-width="4.3" fill="none" stroke-linejoin="round"/>
<rect x="132.1" y="1232.1" width="462.6" height="472.8" fill="#fff" stroke="#ADADAD" stroke-width="2.2"/>
<g stroke="#fff"><path d="M151.0 1231.0V1706.0" stroke-width="5.8"/><path d="M208.9 1231.0V1706.0" stroke-width="2.9"/><path d="M266.7 1231.0V1706.0" stroke-width="5.8"/><path d="M324.6 1231.0V1706.0" stroke-width="2.9"/><path d="M382.5 1231.0V1706.0" stroke-width="5.8"/><path d="M440.3 1231.0V1706.0" stroke-width="2.9"/><path d="M498.2 1231.0V1706.0" stroke-width="5.8"/><path d="M556.1 1231.0V1706.0" stroke-width="2.9"/><path d="M131.0 1655.2H595.8" stroke-width="2.9"/><path d="M131.0 1588.8H595.8" stroke-width="5.8"/><path d="M131.0 1522.3H595.8" stroke-width="2.9"/><path d="M131.0 1455.9H595.8" stroke-width="5.8"/><path d="M131.0 1389.4H595.8" stroke-width="2.9"/><path d="M131.0 1323.0H595.8" stroke-width="5.8"/><path d="M131.0 1256.5H595.8" stroke-width="2.9"/></g>
<path d="M416 1300.3h0M267.9 1449.5h0M402.1 1300.9h0M458.8 1414.2h0M450.7 1425.7h0M380.1 1421.3h0M572.3 1505.2h0M382.5 1298.6h0M552.6 1329.2h0M353.5 1410h0M392.9 1315h0M153.3 1355.4h0M368.6 1307.1h0M301.4 1435.1h0M436.9 1414h0M403.3 1393.9h0M404.4 1304.6h0M277.1 1434.9h0M190.3 1479.9h0M336.2 1429.6h0M350.1 1420.2h0M411.4 1300.7h0M413.7 1316.7h0M219.3 1338.1h0M425.3 1306.3h0M544.5 1319.8h0M405.6 1288.4h0M504 1311.1h0M288.7 1439.9h0M358.2 1319.3h0M516.7 1443.3h0M252.8 1328.8h0M517.9 1440.8h0M539.9 1452.7h0M239 1321.7h0M222.8 1456.9h0M369.7 1324.1h0M217 1474h0M397.5 1410.1h0M240.1 1320.8h0M159.1 1340.9h0M342 1428.9h0M375.5 1412.7h0M232 1450.9h0M156.8 1494.2h0M162.6 1349.6h0M530.6 1305h0M569.9 1487.5h0M177.6 1344h0M358.2 1414.8h0M410.2 1304.7h0M171.8 1333.8h0M384.8 1407.3h0M308.4 1426.1h0M251.7 1435h0M394 1407h0M516.7 1314.9h0M276 1440.4h0M395.2 1311.4h0M491.2 1311.1h0M563 1472.9h0M449.6 1313.2h0M387.1 1303.1h0M534.1 1308.9h0M469.3 1316.3h0M217 1331.3h0M559.5 1320.2h0M243.6 1444.1h0M282.9 1308.1h0M526 1448.4h0M198.4 1478.3h0M442.6 1317.5h0M242.4 1445.3h0M267.9 1315.8h0M154.5 1348.7h0M204.2 1462.4h0M273.7 1307.8h0M361.6 1318.1h0M545.6 1309.9h0M330.4 1313.8h0M309.6 1421h0M545.6 1449.8h0M225.1 1461.1h0M557.2 1325.4h0M346.6 1303.8h0M355.8 1309.2h0M351.2 1322.9h0M205.4 1325.7h0M476.2 1428.5h0M548 1318h0M515.5 1454.5h0M197.3 1338.4h0M431.1 1417.3h0M215.8 1324.8h0M233.2 1319.1h0M273.7 1440.8h0M550.3 1457h0M153.3 1493.5h0M320 1307.6h0M479.7 1306.5h0M382.5 1405h0M429.9 1322.2h0M247.1 1314.1h0M248.2 1312.8h0M265.6 1451.6h0M502.8 1319.6h0M477.4 1314.4h0M367.4 1415.2h0M243.6 1325.5h0M206.6 1323.1h0M573.4 1337.1h0M376.7 1318h0M396.3 1419h0M335 1313.7h0M183.4 1486h0M326.9 1433.4h0M293.3 1317.8h0M451.9 1302.9h0M513.2 1449.1h0M423 1415.8h0M421.8 1417.1h0M480.8 1417.6h0M549.1 1324.1h0M478.5 1312h0M376.7 1416.6h0M258.6 1329h0M219.3 1464.8h0M208.9 1461h0M255.2 1450.2h0M517.9 1325.9h0M541 1330.5h0M449.6 1419.5h0M359.3 1413.9h0M524.8 1439.4h0M388.2 1415.5h0M212.3 1469.1h0M370.9 1415.1h0M291 1442.9h0M399.8 1295.5h0M448.4 1310.6h0M265.6 1311.4h0M420.7 1306.3h0M279.5 1428.5h0M362.8 1424.8h0M567.6 1484.9h0M363.9 1423.1h0M188 1486.3h0M372 1309.9h0M499.3 1435.5h0M426.4 1411.4h0M284.1 1429.2h0M428.8 1414.2h0M184.6 1483.5h0M345.4 1307.2h0M537.5 1320.5h0M490.1 1309h0M324.6 1417.7h0M404.4 1405.5h0M262.1 1445.9h0M521.3 1311.7h0M326.9 1314.3h0M546.8 1449.6h0M550.3 1308h0M446.1 1418.2h0M250.5 1330.1h0M394 1313.9h0M333.9 1431.9h0M457.7 1415.8h0M166 1475.6h0M228.5 1335.7h0M280.6 1316.4h0M446.1 1304.5h0M186.9 1476.4h0M218.1 1333.8h0M257.5 1333.7h0M152.2 1351.1h0M303.8 1304.5h0M492.4 1316.5h0M331.5 1413.9h0M557.2 1467h0M200.8 1492.2h0M186.9 1334.5h0M229.7 1337.1h0M389.4 1426.6h0M303.8 1425.8h0M366.3 1313h0M328.1 1306.7h0M568.8 1487.6h0M218.1 1469.9h0M205.4 1464.7h0M508.6 1436.5h0M160.3 1344.9h0M360.5 1412.5h0M443.8 1418.8h0M426.4 1315.7h0M534.1 1452.6h0M198.4 1332.1h0M348.9 1434.4h0M528.3 1296h0M405.6 1405.4h0M258.6 1444.7h0M220.4 1449.6h0M247.1 1457.7h0M462.3 1311.7h0M461.2 1425.1h0M322.3 1314.2h0M361.6 1418.7h0M309.6 1309.2h0M438 1301.4h0M416 1415.2h0M519 1317h0M285.2 1435.7h0M450.7 1313.6h0M461.2 1311.4h0M169.5 1493.1h0M348.9 1313.7h0M473.9 1424.3h0M286.4 1312.6h0M495.9 1427.9h0M514.4 1442.2h0M435.7 1423h0M438 1426.1h0M392.9 1410.1h0M535.2 1442.9h0M336.2 1315.5h0M264.4 1314.4h0M302.6 1427.1h0M409.1 1298h0M523.7 1302.9h0M440.3 1313h0M369.7 1411.5h0M538.7 1450.1h0M242.4 1314.6h0M381.3 1291.2h0M315.3 1443.6h0M299.1 1319h0M313 1420.2h0M370.9 1319.8h0M527.1 1441.4h0M385.9 1302.9h0M441.5 1421.7h0M332.7 1313.1h0M287.6 1308.4h0" stroke="#0F7DC2" stroke-width="7.2" stroke-linecap="round" fill="none"/>
<path d="M465.8 1299.1h0M519 1440.4h0M154.5 1514h0M199.6 1326.7h0M361.6 1297h0M161.4 1508.9h0M183.4 1338.4h0M526 1311.9h0M446.1 1295.6h0M176.5 1333.9h0M508.6 1426.3h0M314.2 1425.9h0M515.5 1436h0M507.4 1430.3h0M366.3 1289.6h0M173 1507.6h0M512.1 1436.9h0M186.9 1327.7h0M343.1 1294.9h0M543.3 1322.8h0M152.2 1365.8h0M257.5 1295.1h0M544.5 1323.3h0M391.7 1295.9h0M565.3 1341.7h0M181.1 1346.3h0M414.9 1398.2h0M359.3 1291h0M374.4 1294.4h0M487.8 1314h0M196.1 1333.5h0M529.4 1453h0M536.4 1446h0M236.6 1314.1h0M256.3 1474.4h0M326.9 1427.2h0M372 1280.6h0M184.6 1496.9h0M169.5 1345.2h0M567.6 1493.9h0M324.6 1279.1h0M241.3 1464.4h0M512.1 1308.9h0M523.7 1298.8h0M223.9 1480.2h0M167.2 1510h0M395.2 1287h0M377.8 1293.1h0M153.3 1529.1h0M273.7 1448.7h0M403.3 1286.2h0M442.6 1296.4h0M534.1 1446.8h0M493.6 1423.8h0M553.7 1454.9h0M232 1330.1h0M545.6 1336.7h0M490.1 1314.6h0M553.7 1326.4h0M521.3 1308.7h0M517.9 1298.7h0M161.4 1343.2h0M218.1 1328.4h0M317.7 1283.4h0M223.9 1328h0M201.9 1329.9h0M215.8 1325h0M250.5 1459.2h0M335 1284h0M475 1421.9h0M325.8 1439.2h0M260.9 1456.6h0M222.8 1483.9h0M339.6 1423.4h0M498.2 1317.9h0M514.4 1306h0M571.1 1313.8h0M552.6 1449h0M370.9 1415h0M477.4 1314.2h0M218.1 1478.9h0M274.8 1272.4h0M355.8 1410.2h0M472.7 1310.7h0M370.9 1292h0M200.8 1507.6h0M412.5 1394.7h0M181.1 1487.8h0M429.9 1399.8h0M361.6 1406h0M186.9 1512h0M482 1316.2h0M537.5 1448.7h0M254 1305.7h0M569.9 1489.9h0M504 1301.5h0M234.3 1483.3h0M354.7 1405.4h0M545.6 1454.5h0M563 1343.7h0M568.8 1316.9h0M228.5 1486.8h0M401 1394.3h0M404.4 1294.4h0M195 1321.7h0M308.4 1426.7h0M263.3 1452.3h0M243.6 1458.9h0M233.2 1484h0M265.6 1293.7h0M328.1 1281.9h0M548 1447.6h0M332.7 1425.6h0M380.1 1400.4h0M560.7 1477.3h0M571.1 1485.6h0M162.6 1511h0M468.1 1416h0M281.8 1274.3h0M387.1 1401.7h0M339.6 1287.5h0M226.2 1473.8h0M326.9 1276.7h0M214.7 1481.9h0M460 1301.2h0M423 1303.6h0M572.3 1494.5h0M461.2 1308.1h0M188 1326.6h0M295.7 1434.4h0M448.4 1310.7h0M277.1 1442h0M572.3 1324.4h0M316.5 1427.5h0M293.3 1280.6h0M322.3 1425.3h0M506.3 1307.9h0M550.3 1456.5h0M561.8 1464.4h0M285.2 1441.6h0M450.7 1299.8h0M388.2 1285.1h0M451.9 1399.5h0M348.9 1411.1h0M230.9 1323.2h0M355.8 1282h0M240.1 1312.8h0M409.1 1411.4h0M375.5 1418.5h0M473.9 1319h0M410.2 1315.2h0M157.9 1346.7h0M258.6 1297h0M426.4 1393.9h0M396.3 1286.6h0M329.2 1419.8h0M220.4 1321.3h0M428.8 1398.8h0M317.7 1428.2h0M304.9 1435.5h0M255.2 1313.9h0M244.7 1304.2h0M366.3 1420.1h0M390.6 1406.7h0M476.2 1315.6h0M289.9 1281.2h0M398.7 1292h0M291 1434.7h0M482 1390.8h0M159.1 1511.9h0M257.5 1471.9h0M236.6 1485.9h0M442.6 1409h0M156.8 1344.9h0M405.6 1297.3h0M217 1482.6h0M299.1 1272.6h0M303.8 1263.8h0M548 1323.5h0M466.9 1307.5h0M384.8 1289.1h0M232 1475.8h0M424.1 1401.5h0M239 1319.5h0M531.8 1445.2h0M168.4 1503.3h0M513.2 1309.6h0M342 1425h0M266.7 1457h0M538.7 1443.7h0M439.2 1314.9h0M513.2 1432.8h0M359.3 1416.1h0M323.4 1436h0M534.1 1316.4h0M315.3 1428.9h0M338.5 1424.4h0M480.8 1324.2h0M167.2 1348.6h0M333.9 1425h0M438 1402.3h0M363.9 1291.2h0M330.4 1418.3h0M457.7 1317.8h0M505.1 1310.9h0M506.3 1433.9h0M560.7 1339.7h0M447.3 1293.6h0M247.1 1309.2h0M281.8 1455h0M207.7 1331.1h0M466.9 1425.5h0M346.6 1288.5h0M514.4 1434.7h0M210 1339.5h0M432.2 1402.4h0M531.8 1327h0M240.1 1469.4h0M510.9 1293.9h0M559.5 1478.3h0M242.4 1466.7h0M252.8 1298.5h0M220.4 1474.2h0M340.8 1431h0M524.8 1313h0M565.3 1486.7h0M245.9 1321.4h0M362.8 1407.4h0M497 1424.8h0M520.2 1307.8h0M245.9 1462h0M458.8 1418.7h0M221.6 1320.6h0M455.4 1406h0M156.8 1520.8h0M249.4 1301.8h0M494.7 1322.3h0M469.3 1311.6h0M542.2 1313.6h0M469.3 1419.2h0M155.6 1515.8h0M270.2 1299.6h0M420.7 1403.8h0" stroke="#FA6014" stroke-width="7.2" stroke-linecap="round" fill="none"/>
<path d="M531.8 1436.1h0M344.3 1413.6h0M322.3 1412.8h0M462.3 1415.4h0M469.3 1416.5h0M406.8 1408.8h0M234.3 1448.9h0M292.2 1318.6h0M307.2 1308.4h0M244.7 1448.1h0M323.4 1318.9h0M372 1420.5h0M528.3 1431.7h0M457.7 1314.1h0M175.3 1495.2h0M565.3 1484.3h0M529.4 1431.6h0M256.3 1328.6h0M551.4 1316.1h0M515.5 1323h0M380.1 1302.7h0M539.9 1322.9h0M278.3 1324.7h0M154.5 1499.7h0M164.9 1484.3h0M505.1 1437.7h0M512.1 1305.8h0M288.7 1308.5h0M432.2 1313.7h0M314.2 1429h0M210 1470.4h0M475 1316.9h0M542.2 1329.2h0M537.5 1448.3h0M365.1 1321.2h0M245.9 1319h0M245.9 1452.1h0M447.3 1315.2h0M558.4 1320.1h0M529.4 1303.4h0M241.3 1450.3h0M271.4 1312.5h0M161.4 1340.2h0M304.9 1305.4h0M563 1339.1h0M526 1312.6h0M206.6 1461.8h0M554.9 1453.7h0M391.7 1319.4h0M553.7 1324.2h0M296.8 1418.4h0M328.1 1419.3h0M417.2 1312h0M340.8 1303.1h0M507.4 1327.7h0M412.5 1319.8h0M491.2 1442h0M230.9 1329.6h0M410.2 1421.9h0M357 1416.2h0M329.2 1422.4h0M259.8 1321.4h0M468.1 1427.6h0M472.7 1427.2h0M401 1415.5h0M345.4 1411.8h0M568.8 1329.1h0M532.9 1445.4h0M542.2 1456h0M259.8 1452h0M484.3 1429.7h0M274.8 1440.6h0M237.8 1320.3h0M527.1 1309.2h0M377.8 1424.4h0M413.7 1407.1h0M184.6 1337.6h0M203.1 1468.8h0M183.4 1339h0M182.2 1326.9h0M432.2 1418.3h0M347.7 1307.9h0M204.2 1326h0M295.7 1426.5h0M486.6 1423.5h0M250.5 1448h0M211.2 1480.6h0M543.3 1334.1h0M163.7 1339.8h0M230.9 1451.9h0M531.8 1308h0M331.5 1316.1h0M155.6 1504.5h0M333.9 1306.9h0M475 1432.9h0M425.3 1415.1h0M465.8 1431.6h0M571.1 1501h0M235.5 1320.1h0M352.4 1414.6h0M379 1421.9h0M291 1321.1h0M494.7 1432.6h0M445 1415.2h0M490.1 1434.4h0M365.1 1416h0M256.3 1437.9h0M417.2 1415.4h0M439.2 1304.8h0M447.3 1404.8h0M483.1 1421.9h0M286.4 1432.1h0M482 1286.9h0M226.2 1329.8h0M397.5 1314.2h0M347.7 1427.7h0M572.3 1332.7h0M532.9 1305.1h0M170.7 1344.8h0M298 1430.3h0M453.1 1427.2h0M524.8 1316h0M168.4 1480.6h0M308.4 1306.4h0M314.2 1298.9h0M502.8 1437.1h0M395.2 1417.7h0M424.1 1308.3h0M193.8 1335.4h0M419.5 1303.4h0M383.6 1302.3h0M257.5 1442.3h0M263.3 1328.8h0M342 1314.6h0M388.2 1307.9h0M434.5 1305h0M324.6 1321.6h0M375.5 1311.8h0M541 1447.9h0M538.7 1332.6h0M343.1 1317.1h0M564.2 1471.5h0M414.9 1308.8h0M443.8 1313.9h0M522.5 1322.5h0M454.2 1307.8h0M296.8 1320.6h0M535.2 1304.8h0M277.1 1313.8h0M431.1 1320.3h0M407.9 1311h0M566.5 1326.5h0M411.4 1421.7h0M191.5 1331.8h0M470.4 1311.3h0M344.3 1317h0M453.1 1310.6h0M337.3 1418.2h0M390.6 1315h0M420.7 1411.6h0M530.6 1429.3h0M320 1418.1h0M554.9 1330.2h0M374.4 1303.1h0M195 1335.8h0M195 1471.6h0M466.9 1314.7h0M317.7 1315.8h0M485.5 1419.8h0M199.6 1325.1h0M226.2 1463.5h0M244.7 1314.4h0M213.5 1472.6h0M223.9 1465.8h0M270.2 1310h0M508.6 1311.4h0M355.8 1409.9h0M488.9 1306.1h0M191.5 1471.9h0M471.6 1428.1h0M507.4 1443h0M193.8 1483h0M282.9 1430.4h0M201.9 1480.4h0M190.3 1332.3h0M210 1322.1h0M161.4 1494.6h0M353.5 1303.6h0M311.9 1318.4h0M174.1 1485.7h0M373.2 1305.2h0M295.7 1320.5h0M456.5 1422.8h0M266.7 1448.4h0M492.4 1432.2h0M359.3 1319.3h0M520.2 1311.6h0M571.1 1330.8h0M362.8 1318.8h0M260.9 1443h0M418.3 1305.9h0M221.6 1345.3h0M374.4 1417.9h0M442.6 1411.1h0M240.1 1455h0M448.4 1407.6h0M323.4 1415.2h0M464.6 1309.8h0M316.5 1439.1h0M536.4 1310.7h0M232 1321.5h0M472.7 1309h0M409.1 1410.9h0M227.4 1332.7h0M512.1 1442.7h0M573.4 1500h0M384.8 1307.2h0M414.9 1413.1h0M419.5 1410.7h0M321.1 1413.5h0M429.9 1425h0M234.3 1313.3h0M272.5 1315.7h0M488.9 1436h0M500.5 1312.8h0M509.8 1306.2h0M289.9 1432.2h0M458.8 1314.7h0M188 1336.1h0M160.3 1488.8h0M544.5 1453.3h0M522.5 1433.7h0M350.1 1314.8h0M254 1329.6h0M548 1454.7h0M455.4 1430.1h0M270.2 1445.5h0M456.5 1321.6h0M300.3 1422.1h0M281.8 1438.3h0M567.6 1326.2h0M402.1 1405.2h0M220.4 1335.8h0" stroke="#0F7DC2" stroke-width="7.2" stroke-linecap="round" fill="none"/>
<path d="M544.5 1436.4h0M394 1282.3h0M431.1 1394.7h0M177.6 1502.6h0M198.4 1487.3h0M394 1388.4h0M207.7 1487.9h0M185.7 1325.5h0M573.4 1321.7h0M532.9 1324.6h0M376.7 1297.2h0M561.8 1333.8h0M416 1408.1h0M413.7 1398.9h0M344.3 1296.6h0M494.7 1420.4h0M174.1 1336h0M473.9 1415.1h0M278.3 1278.9h0M227.4 1477.8h0M229.7 1314.3h0M550.3 1328.1h0M450.7 1407.8h0M269 1295.4h0M376.7 1405.2h0M522.5 1298.3h0M351.2 1415.5h0M243.6 1304.6h0M203.1 1498.1h0M421.8 1302.2h0M178.8 1506.7h0M157.9 1524.8h0M214.7 1317.9h0M311.9 1426.9h0M237.8 1480.2h0M294.5 1427.8h0M456.5 1422.8h0M306.1 1436.6h0M228.5 1327.2h0M170.7 1351.4h0M267.9 1296.4h0M509.8 1295.9h0M164.9 1510.1h0M382.5 1397.8h0M504 1439.3h0M292.2 1441h0M248.2 1457.4h0M298 1445.2h0M543.3 1447.1h0M433.4 1315.1h0M418.3 1316.2h0M242.4 1316.2h0M286.4 1269.7h0M256.3 1313.2h0M402.1 1400.9h0M381.3 1288.5h0M537.5 1316.1h0M389.4 1394.9h0M289.9 1423.6h0M358.2 1422.9h0M480.8 1393.2h0M362.8 1293.7h0M219.3 1321.2h0M495.9 1316.3h0M476.2 1426.2h0M352.4 1298.4h0M510.9 1432.3h0M203.1 1336.7h0M541 1312.9h0M527.1 1452.2h0M178.8 1348.1h0M549.1 1453.3h0M260.9 1297.3h0M472.7 1415.3h0M222.8 1322.8h0M155.6 1350.7h0M447.3 1409.4h0M360.5 1283.5h0M235.5 1484h0M350.1 1290.2h0M500.5 1418.9h0M407.9 1407.1h0M419.5 1302h0M320 1280.4h0M188 1501.3h0M486.6 1321.1h0M351.2 1294.4h0M484.3 1413.9h0M335 1421.6h0M353.5 1294.4h0M204.2 1487.5h0M558.4 1327.1h0M412.5 1287.9h0M162.6 1344.1h0M475 1310.7h0M556.1 1328.5h0M199.6 1504.6h0M171.8 1510.2h0M528.3 1447.5h0M519 1307.9h0M478.5 1312.4h0M478.5 1419.5h0M377.8 1406.3h0M225.1 1477.9h0M244.7 1455.9h0M427.6 1306h0M470.4 1411h0M507.4 1299.6h0M428.8 1301.6h0M382.5 1277.2h0M191.5 1510.9h0M516.7 1300.5h0M491.2 1416.2h0M485.5 1401.3h0M423 1395h0M159.1 1346.9h0M309.6 1430.7h0M274.8 1450.1h0M293.3 1434.3h0M210 1488.3h0M557.2 1475.4h0M264.4 1299.5h0M282.9 1447.5h0M185.7 1499.4h0M337.3 1276.9h0M282.9 1280.8h0M492.4 1423.2h0M280.6 1274.4h0M501.7 1425.8h0M248.2 1309.6h0M175.3 1501.6h0M392.9 1404.7h0M301.4 1277.8h0M294.5 1281.7h0M264.4 1458.6h0M226.2 1315.9h0M173 1357.7h0M287.6 1272.6h0M287.6 1438.8h0M306.1 1277.2h0M277.1 1288.5h0M546.8 1454.5h0M285.2 1276.6h0M446.1 1406.5h0M392.9 1287.7h0M462.3 1312.3h0M375.5 1293.2h0M237.8 1317.1h0M435.7 1396.5h0M347.7 1295.2h0M229.7 1489h0M441.5 1407.5h0M445 1409h0M454.2 1392.8h0M304.9 1281.9h0M215.8 1482.8h0M399.8 1409.7h0M206.6 1342.2h0M464.6 1417.8h0M211.2 1485.2h0M346.6 1427.8h0M176.5 1506.3h0M538.7 1313.4h0M407.9 1310.9h0M458.8 1306.4h0M273.7 1289.4h0M477.4 1420.1h0M166 1506.9h0M179.9 1502.2h0M530.6 1323.9h0M567.6 1328.4h0M564.2 1466.9h0M457.7 1430.1h0M557.2 1319.5h0M564.2 1342.4h0M344.3 1417.2h0M329.2 1289h0M453.1 1301h0M230.9 1481.5h0M479.7 1313.6h0M421.8 1391.5h0M177.6 1348.2h0M311.9 1264.4h0M405.6 1397h0M453.1 1392.4h0M295.7 1272.3h0M258.6 1456.2h0M516.7 1428.8h0M486.6 1405.2h0M302.6 1432.4h0M192.7 1516h0M239 1479.7h0M348.9 1296.4h0M417.2 1299.4h0M233.2 1333.7h0M296.8 1282.8h0M499.3 1419.9h0M517.9 1446h0M436.9 1318.5h0M535.2 1453h0M152.2 1516h0M495.9 1430.9h0M515.5 1305.3h0M409.1 1309.7h0M163.7 1505.5h0M201.9 1509.9h0M200.8 1335.3h0M479.7 1411.4h0M445 1298.5h0M427.6 1399.2h0M320 1421.5h0M379 1405.6h0M416 1294.8h0M363.9 1418.3h0M321.1 1417.5h0M227.4 1327h0M197.3 1328.9h0M251.7 1303.9h0M403.3 1398.7h0M184.6 1339.2h0M160.3 1348.3h0M263.3 1293.6h0M388.2 1393.4h0M307.2 1431.6h0M487.8 1409h0M164.9 1344.8h0M532.9 1451.8h0M492.4 1316.8h0M365.1 1283.6h0M573.4 1495.6h0M441.5 1295.5h0M539.9 1452.1h0M213.5 1325.4h0M384.8 1393.2h0M443.8 1404.1h0M425.3 1299.3h0M325.8 1270.3h0M529.4 1320.7h0M300.3 1437.7h0M383.6 1294.8h0M566.5 1487.2h0M404.4 1400h0M360.5 1411h0" stroke="#FA6014" stroke-width="7.2" stroke-linecap="round" fill="none"/>
<path d="M407.9 1411.9h0M510.9 1432.7h0M221.6 1469h0M192.7 1473.5h0M236.6 1317h0M176.5 1342.6h0M269 1315h0M551.4 1462.8h0M279.5 1312.6h0M433.4 1415.7h0M249.4 1456.6h0M493.6 1307.8h0M509.8 1435.7h0M460 1419.9h0M310.7 1321.1h0M248.2 1454.2h0M300.3 1311.3h0M495.9 1320.6h0M168.4 1340.2h0M433.4 1303.4h0M520.2 1436.7h0M427.6 1312.8h0M360.5 1321.1h0M155.6 1351.3h0M255.2 1331.5h0M280.6 1422.4h0M225.1 1344.3h0M215.8 1471.5h0M167.2 1342.3h0M306.1 1414h0M330.4 1423.2h0M262.1 1319.4h0M170.7 1485.2h0M307.2 1435h0M494.7 1308.4h0M546.8 1311h0M398.7 1415.9h0M387.1 1405.5h0M354.7 1405.7h0M485.5 1306.8h0M436.9 1300.2h0M338.5 1422.9h0M157.9 1487.5h0M176.5 1503.1h0M553.7 1460.1h0M166 1331.6h0M182.2 1488.3h0M325.8 1421h0M223.9 1343.8h0M181.1 1331.4h0M203.1 1325.2h0M274.8 1310.1h0M561.8 1325.3h0M211.2 1325.8h0M396.3 1324.8h0M192.7 1337.5h0M536.4 1458.7h0M435.7 1298.2h0M363.9 1321.5h0M418.3 1409.8h0M278.3 1427.7h0M207.7 1334.3h0M185.7 1329.6h0M403.3 1303.5h0M476.2 1313h0M294.5 1315h0M169.5 1342.9h0M310.7 1430.9h0M285.2 1308.9h0M233.2 1453.7h0M178.8 1493.8h0M471.6 1302.9h0M272.5 1440.5h0M200.8 1323h0M302.6 1300.7h0M498.2 1325.1h0M556.1 1321.8h0M478.5 1429.7h0M460 1309.3h0M276 1312.6h0M339.6 1431.7h0M500.5 1436.4h0M239 1449.2h0M157.9 1339.9h0M214.7 1469.2h0M484.3 1297.9h0M513.2 1313.1h0M497 1316.9h0M558.4 1474.7h0M196.1 1339.7h0M214.7 1332.4h0M428.8 1315.6h0M510.9 1303.2h0M293.3 1437.1h0M455.4 1313.2h0M298 1303.7h0M454.2 1418.6h0M311.9 1427.5h0M152.2 1481h0M487.8 1432.9h0M379 1303.8h0M339.6 1317.5h0M543.3 1451.1h0M251.7 1328.2h0M399.8 1414.7h0M523.7 1433.8h0M561.8 1473.8h0M252.8 1447.7h0M299.1 1433.1h0M352.4 1314.5h0M173 1479.3h0M227.4 1453.9h0M304.9 1422.3h0M424.1 1413.8h0M390.6 1416.8h0M560.7 1312.5h0M441.5 1316h0M464.6 1426.9h0M177.6 1489.8h0M566.5 1485.9h0M480.8 1304.8h0M445 1312.4h0M412.5 1403.7h0M284.1 1316.6h0M559.5 1472.3h0M318.8 1421.2h0M439.2 1430.2h0M389.4 1307.1h0M514.4 1320h0M212.3 1333.1h0M179.9 1492.8h0M325.8 1310.4h0M423 1298.8h0M163.7 1485.2h0M263.3 1444.2h0M504 1437.9h0M201.9 1322.1h0M207.7 1464.9h0M486.6 1314.2h0M338.5 1312.5h0M367.4 1305.3h0M381.3 1412.3h0M156.8 1346.3h0M164.9 1332.8h0M317.7 1427.4h0M235.5 1450.9h0M337.3 1300.3h0M501.7 1316.7h0M292.2 1432.9h0M493.6 1432.1h0M505.1 1325h0M271.4 1443h0M487.8 1308.5h0M189.2 1473.8h0M294.5 1429.6h0M237.8 1456h0M552.6 1457.2h0M383.6 1409.2h0M498.2 1433h0M229.7 1455.2h0M173 1335.5h0M316.5 1307.8h0M479.7 1434.3h0M318.8 1309h0M228.5 1460.1h0M208.9 1331.4h0M179.9 1345.2h0M434.5 1421.5h0M499.3 1321.6h0M368.6 1407.7h0M477.4 1425.1h0M199.6 1471.5h0M306.1 1299.6h0M159.1 1487.6h0M181.1 1494.2h0M175.3 1346.1h0M373.2 1423.1h0M357 1314.2h0M519 1442.3h0M197.3 1465.9h0M287.6 1433.2h0M354.7 1300.7h0M463.5 1308.7h0M569.9 1330.6h0M501.7 1424.2h0M162.6 1490.2h0M329.2 1308.7h0M332.7 1428.7h0M167.2 1482.6h0M196.1 1480.5h0M497 1426h0M249.4 1314.8h0M406.8 1306.5h0M421.8 1306.3h0M335 1415.5h0M401 1292.4h0M301.4 1301.4h0M483.1 1298.4h0M549.1 1455.3h0M346.6 1414.6h0M315.3 1300.9h0M269 1448h0M506.3 1327.1h0M470.4 1410.6h0M266.7 1313.9h0M281.8 1318.2h0M236.6 1445.7h0M213.5 1331h0M189.2 1329.3h0M565.3 1330.7h0M377.8 1306.4h0M321.1 1310.5h0M351.2 1410h0M178.8 1342.7h0M385.9 1395.5h0M313 1301.9h0M465.8 1313.9h0M398.7 1304.2h0M254 1447.8h0M506.3 1436.8h0M222.8 1343.9h0M174.1 1342.8h0M264.4 1445.2h0M171.8 1485h0M560.7 1473.4h0M463.5 1421.1h0M343.1 1417.2h0M427.6 1418.5h0M260.9 1320.1h0M289.9 1314.8h0M185.7 1475h0M556.1 1465.4h0M521.3 1438.1h0M564.2 1330.3h0M366.3 1417.8h0M440.3 1427.8h0M451.9 1424h0M391.7 1410.6h0M473.9 1310.6h0M340.8 1425h0M466.9 1427.3h0M241.3 1316.7h0M468.1 1317.2h0M482 1409.2h0" stroke="#0F7DC2" stroke-width="7.2" stroke-linecap="round" fill="none"/>
<path d="M324.6 1427h0M358.2 1287.4h0M259.8 1295.8h0M410.2 1406.9h0M569.9 1321.7h0M385.9 1407.8h0M298 1276.8h0M508.6 1299.6h0M521.3 1439.9h0M175.3 1334.8h0M337.3 1426.1h0M315.3 1273.8h0M383.6 1396.3h0M330.4 1290.4h0M554.9 1327.8h0M411.4 1396.5h0M379 1304.1h0M168.4 1351h0M552.6 1328.8h0M417.2 1403.4h0M365.1 1416.6h0M390.6 1290.4h0M372 1411.9h0M440.3 1301.9h0M395.2 1394.9h0M385.9 1297.7h0M471.6 1320.2h0M191.5 1324.5h0M499.3 1319.1h0M484.3 1323.3h0M536.4 1315.7h0M559.5 1329.5h0M170.7 1498.2h0M406.8 1396.8h0M225.1 1321.2h0M431.1 1294h0M221.6 1484.2h0M368.6 1290.2h0M488.9 1400.9h0M354.7 1292.3h0M483.1 1317.5h0M301.4 1444.2h0M493.6 1324.2h0M520.2 1438.9h0M483.1 1403.3h0M288.7 1433.3h0M367.4 1282.5h0M373.2 1286.2h0M424.1 1304.8h0M406.8 1312h0M374.4 1415.1h0M279.5 1277.3h0M398.7 1409h0M432.2 1303.3h0M272.5 1455.8h0M212.3 1326.7h0M454.2 1312.3h0M449.6 1313h0M500.5 1319h0M438 1309.1h0M265.6 1466.3h0M166 1344.4h0M566.5 1337.7h0M551.4 1462.2h0M497 1310.5h0M217 1328.4h0M439.2 1393.1h0M195 1495.7h0M174.1 1510.2h0M313 1260.5h0M368.6 1421h0M299.1 1441.7h0M465.8 1419.5h0M433.4 1404.7h0M278.3 1439.2h0M213.5 1488.1h0M332.7 1285.3h0M255.2 1474.5h0M160.3 1513.1h0M182.2 1499.4h0M318.8 1419.7h0M468.1 1314.5h0M391.7 1396.3h0M463.5 1306.8h0M434.5 1396.6h0M190.3 1515.2h0M219.3 1482.9h0M490.1 1408.7h0M309.6 1266.2h0M522.5 1431.3h0M456.5 1317.7h0M528.3 1312.2h0M502.8 1425.4h0M254 1469.7h0M251.7 1463.7h0M212.3 1475h0M308.4 1258.2h0M373.2 1425.8h0M276 1453.3h0M357 1281.8h0M291 1287.1h0M234.3 1331.2h0M302.6 1274.6h0M527.1 1317.1h0M342 1291.4h0M470.4 1315.3h0M418.3 1397.7h0M286.4 1453.5h0M420.7 1295.4h0M190.3 1330.3h0M435.7 1319.4h0M429.9 1307.7h0M462.3 1427.4h0M551.4 1339.5h0M179.9 1349.1h0M204.2 1327.3h0M338.5 1282h0M524.8 1439.4h0M241.3 1315.5h0M196.1 1489h0M154.5 1361h0M502.8 1310.6h0M300.3 1271.7h0M269 1445.2h0M558.4 1473.5h0M169.5 1501.9h0M280.6 1451.4h0M272.5 1288.8h0M284.1 1284.1h0M205.4 1332.4h0M509.8 1432h0M389.4 1299h0M434.5 1305.6h0M206.6 1475.7h0M387.1 1288.4h0M193.8 1319.2h0M539.9 1310.8h0M266.7 1297.7h0M369.7 1408.8h0M568.8 1499.7h0M310.7 1260.5h0M381.3 1395.8h0M249.4 1471.5h0M189.2 1330.6h0M367.4 1415.7h0M193.8 1503.3h0M182.2 1341h0M198.4 1341.1h0M271.4 1443.6h0M318.8 1276.4h0M333.9 1283.2h0M336.2 1428.2h0M397.5 1284.1h0M192.7 1324.3h0M345.4 1294.4h0M369.7 1286.5h0M471.6 1425h0M336.2 1276h0M340.8 1285.7h0M296.8 1443.7h0M292.2 1286.5h0M288.7 1279.8h0M535.2 1314.8h0M401 1294.7h0M345.4 1420.8h0M426.4 1305.2h0M347.7 1432h0M208.9 1335.2h0M448.4 1418.2h0M153.3 1363.4h0M505.1 1441.3h0M331.5 1421h0M501.7 1314.4h0M321.1 1292.7h0M488.9 1317.3h0M276 1275.4h0M542.2 1454.8h0M262.1 1440.2h0M208.9 1485.4h0M267.9 1461.3h0M485.5 1325.6h0M197.3 1492.9h0M259.8 1450.4h0M414.9 1283.4h0M461.2 1419.5h0M498.2 1417.6h0M284.1 1440.4h0M491.2 1310.4h0M271.4 1305h0M183.4 1486.9h0M189.2 1513h0M397.5 1401.7h0M314.2 1266.4h0M556.1 1474.5h0M322.3 1293h0M402.1 1296.7h0M303.8 1433h0M350.1 1417.1h0M343.1 1419.4h0M313 1424.8h0M262.1 1305.2h0M250.5 1302h0M357 1406h0M413.7 1286h0M451.9 1293.9h0M541 1456.4h0M396.3 1396.4h0M399.8 1284.1h0M279.5 1428.4h0M455.4 1307.9h0M436.9 1415.6h0M310.7 1432.4h0M554.9 1464.9h0M235.5 1319.3h0M449.6 1406.3h0M205.4 1478.6h0M530.6 1453.8h0M546.8 1334.8h0M380.1 1298.1h0M328.1 1424.2h0M419.5 1404.3h0M307.2 1265.6h0M523.7 1443.5h0M247.1 1458.5h0M425.3 1410.6h0M323.4 1294h0M353.5 1420.4h0M316.5 1265.7h0M549.1 1322h0M163.7 1342.7h0M460 1422h0M252.8 1466.9h0M352.4 1417.5h0M440.3 1396.1h0M211.2 1324.6h0M563 1471.7h0M411.4 1295h0M463.5 1422.8h0M526 1445.6h0M443.8 1303.3h0M270.2 1441h0M331.5 1288.3h0M171.8 1350.8h0M464.6 1306.4h0" stroke="#FA6014" stroke-width="7.2" stroke-linecap="round" fill="none"/>
<defs><path id="L20omax" d="M152.2 1357.4 L161.5 1352.7 L170.9 1348.0 L180.2 1343.3 L189.6 1338.6 L199.0 1334.0 L208.3 1329.5 L217.7 1325.0 L227.0 1320.5 L236.4 1316.2 L245.8 1312.1 L255.1 1308.1 L264.5 1304.4 L273.9 1300.9 L283.2 1297.8 L292.6 1295.0 L301.9 1292.6 L311.3 1290.8 L320.7 1289.4 L330.0 1288.7 L339.4 1288.6 L348.7 1289.0 L358.1 1289.8 L367.5 1291.1 L376.8 1292.6 L386.2 1294.4 L395.6 1296.4 L404.9 1298.4 L414.3 1300.4 L423.6 1302.3 L433.0 1304.1 L442.4 1305.6 L451.7 1306.8 L461.1 1307.8 L470.4 1308.7 L479.8 1309.5 L489.2 1310.3 L498.5 1311.2 L507.9 1312.4 L517.2 1313.8 L526.6 1315.7 L536.0 1318.3 L545.3 1321.5 L554.7 1325.6 L564.1 1330.6 L573.4 1336.2"/></defs>
<use href="#L20omax" stroke="#FA6014" stroke-opacity="0.35" stroke-width="8" fill="none" stroke-linejoin="round"/>
<use href="#L20omax" stroke="#FA6014" stroke-width="4.3" fill="none" stroke-linejoin="round"/>
<defs><path id="L20omin" d="M152.2 1522.6 L161.5 1517.4 L170.9 1512.2 L180.2 1506.9 L189.6 1501.5 L199.0 1496.0 L208.3 1490.3 L217.7 1484.5 L227.0 1478.6 L236.4 1472.5 L245.8 1466.5 L255.1 1460.5 L264.5 1454.5 L273.9 1448.6 L283.2 1443.0 L292.6 1437.6 L301.9 1432.5 L311.3 1427.8 L320.7 1423.6 L330.0 1420.0 L339.4 1416.9 L348.7 1414.2 L358.1 1412.0 L367.5 1410.2 L376.8 1408.7 L386.2 1407.4 L395.6 1406.5 L404.9 1405.9 L414.3 1405.6 L423.6 1405.8 L433.0 1406.5 L442.4 1407.8 L451.7 1409.7 L461.1 1412.2 L470.4 1415.2 L479.8 1418.6 L489.2 1422.3 L498.5 1426.5 L507.9 1430.9 L517.2 1435.9 L526.6 1441.7 L536.0 1448.6 L545.3 1456.9 L554.7 1466.8 L564.1 1478.5 L573.4 1491.3"/></defs>
<use href="#L20omin" stroke="#FA6014" stroke-opacity="0.35" stroke-width="8" fill="none" stroke-linejoin="round"/>
<use href="#L20omin" stroke="#FA6014" stroke-width="4.3" fill="none" stroke-linejoin="round"/>
<defs><path id="L20bmax" d="M152.2 1346.0 L161.5 1343.4 L170.9 1340.8 L180.2 1338.2 L189.6 1335.7 L199.0 1333.2 L208.3 1330.8 L217.7 1328.4 L227.0 1326.2 L236.4 1324.0 L245.8 1321.9 L255.1 1320.0 L264.5 1318.3 L273.9 1316.7 L283.2 1315.3 L292.6 1314.1 L301.9 1313.1 L311.3 1312.3 L320.7 1311.6 L330.0 1311.1 L339.4 1310.7 L348.7 1310.4 L358.1 1310.3 L367.5 1310.2 L376.8 1310.1 L386.2 1310.1 L395.6 1310.1 L404.9 1310.1 L414.3 1310.1 L423.6 1310.1 L433.0 1310.1 L442.4 1310.1 L451.7 1310.2 L461.1 1310.3 L470.4 1310.5 L479.8 1310.7 L489.2 1311.2 L498.5 1311.8 L507.9 1312.6 L517.2 1313.7 L526.6 1315.2 L536.0 1317.2 L545.3 1319.8 L554.7 1323.2 L564.1 1327.3 L573.4 1331.8"/></defs>
<use href="#L20bmax" stroke="#0F7DC2" stroke-opacity="0.35" stroke-width="8" fill="none" stroke-linejoin="round"/>
<use href="#L20bmax" stroke="#0F7DC2" stroke-width="4.3" fill="none" stroke-linejoin="round"/>
<defs><path id="L20bmin" d="M152.2 1491.1 L161.5 1487.2 L170.9 1483.3 L180.2 1479.4 L189.6 1475.5 L199.0 1471.5 L208.3 1467.5 L217.7 1463.5 L227.0 1459.4 L236.4 1455.4 L245.8 1451.5 L255.1 1447.7 L264.5 1444.1 L273.9 1440.6 L283.2 1437.4 L292.6 1434.4 L301.9 1431.7 L311.3 1429.2 L320.7 1427.0 L330.0 1425.0 L339.4 1423.3 L348.7 1421.9 L358.1 1420.6 L367.5 1419.5 L376.8 1418.5 L386.2 1417.5 L395.6 1416.7 L404.9 1416.1 L414.3 1415.7 L423.6 1415.7 L433.0 1416.0 L442.4 1416.8 L451.7 1418.2 L461.1 1420.0 L470.4 1422.2 L479.8 1424.9 L489.2 1427.9 L498.5 1431.2 L507.9 1434.9 L517.2 1439.2 L526.6 1444.4 L536.0 1450.8 L545.3 1458.8 L554.7 1468.6 L564.1 1480.4 L573.4 1493.3"/></defs>
<use href="#L20bmin" stroke="#0F7DC2" stroke-opacity="0.35" stroke-width="8" fill="none" stroke-linejoin="round"/>
<use href="#L20bmin" stroke="#0F7DC2" stroke-width="4.3" fill="none" stroke-linejoin="round"/>
<rect x="621.6" y="1232.1" width="462.6" height="472.8" fill="#fff" stroke="#ADADAD" stroke-width="2.2"/>
<g stroke="#fff"><path d="M640.5 1231.0V1706.0" stroke-width="5.8"/><path d="M698.4 1231.0V1706.0" stroke-width="2.9"/><path d="M756.2 1231.0V1706.0" stroke-width="5.8"/><path d="M814.1 1231.0V1706.0" stroke-width="2.9"/><path d="M872.0 1231.0V1706.0" stroke-width="5.8"/><path d="M929.8 1231.0V1706.0" stroke-width="2.9"/><path d="M987.7 1231.0V1706.0" stroke-width="5.8"/><path d="M1045.6 1231.0V1706.0" stroke-width="2.9"/><path d="M620.5 1655.2H1085.3" stroke-width="2.9"/><path d="M620.5 1588.8H1085.3" stroke-width="5.8"/><path d="M620.5 1522.3H1085.3" stroke-width="2.9"/><path d="M620.5 1455.9H1085.3" stroke-width="5.8"/><path d="M620.5 1389.4H1085.3" stroke-width="2.9"/><path d="M620.5 1323.0H1085.3" stroke-width="5.8"/><path d="M620.5 1256.5H1085.3" stroke-width="2.9"/></g>
<path d="M1061.8 1337.5h0M822.2 1415.1h0M712.3 1313.2h0M947.2 1426.1h0M909 1427.3h0M704.2 1305.1h0M877.7 1298.4h0M917.1 1418.1h0M1038.6 1466.9h0M745.8 1441.7h0M714.6 1465.9h0M741.2 1322.2h0M826.8 1426.1h0M999.3 1443.4h0M1047.9 1330.9h0M1049 1466.8h0M689.1 1477.3h0M1029.4 1461.8h0M785.2 1430.8h0M872 1410.1h0M889.3 1411.1h0M966.9 1298.2h0M719.2 1467.5h0M750.4 1295.9h0M691.4 1460.3h0M858.1 1405.1h0M1034 1320h0M889.3 1312.7h0M1003.9 1317.1h0M987.7 1297.2h0M668.3 1491h0M720.4 1305.9h0M875.4 1403.3h0M660.2 1339.3h0M796.7 1293h0M696.1 1480h0M808.3 1430.4h0M1025.9 1468.5h0M742.3 1436.7h0M962.2 1299.6h0M684.5 1325.4h0M859.2 1301.6h0M954.1 1424.1h0M907.8 1296.7h0M796.7 1433.9h0M942.6 1413.3h0M853.4 1297.5h0M825.7 1293.4h0M850 1414.8h0M1057.1 1327h0M846.5 1415.7h0M1001.6 1307.8h0M966.9 1415.9h0M976.1 1421.8h0M745.8 1313.7h0M1046.7 1331.5h0M774.7 1299.7h0M912.5 1417.9h0M698.4 1483h0M787.5 1285.9h0M661.3 1502.7h0M1051.3 1319.2h0M965.7 1422.3h0M860.4 1416h0M911.3 1293.7h0M831.5 1292.1h0M920.6 1310.6h0M899.7 1420.8h0M1050.2 1322.6h0M803.7 1298.3h0M990 1431.1h0M994.6 1436h0M1047.9 1467.6h0M895.1 1291.5h0M872 1316.9h0M869.6 1420.5h0M740 1320.3h0M743.5 1295.3h0M1053.7 1485.4h0M884.7 1289.3h0M671.7 1331.2h0M1053.7 1324.4h0M686.8 1324.4h0M1060.6 1344.2h0M682.2 1489.4h0M705.3 1467.4h0M701.8 1316.3h0M685.6 1477h0M810.6 1288.4h0M847.7 1415.3h0M672.9 1332h0M737.7 1451.5h0M829.1 1423h0M1028.2 1448.5h0M784 1302.1h0M1056 1334.7h0M792.1 1424.7h0M978.4 1313h0M814.1 1288.2h0M1052.5 1480.2h0M723.8 1458.6h0M736.6 1309.2h0M656.7 1328.6h0M769 1432.2h0M817.6 1436.5h0M681 1319.1h0M975 1302.2h0M955.3 1405.5h0M913.6 1419.6h0M644 1342.6h0M750.4 1427.5h0M797.9 1281.8h0M788.6 1293.8h0M1058.3 1491.2h0M928.7 1424.3h0M1018.9 1302h0M748.1 1444.4h0M663.6 1335.8h0M991.2 1425.2h0M811.8 1296.9h0M905.5 1305.8h0M809.5 1291.7h0M685.6 1321.3h0M670.6 1485.2h0M837.2 1415h0M931 1416.7h0M995.8 1310.8h0M654.4 1346.8h0M727.3 1447.7h0M765.5 1283.5h0M825.7 1421h0M810.6 1427h0M669.4 1479.6h0M1016.6 1446.7h0M861.5 1440.6h0M659 1347.2h0M981.9 1311.7h0M881.2 1299.3h0M815.3 1447.3h0M679.8 1486.9h0M692.6 1321.1h0M733.1 1307.7h0M869.6 1317.3h0M874.3 1407.6h0M760.9 1283.7h0M795.6 1439.2h0M936.8 1419.3h0M878.9 1410.4h0M1057.1 1492.7h0M799.1 1419.3h0M819.9 1421.1h0M671.7 1491.7h0M644 1499.1h0M878.9 1302.6h0M752.8 1283.5h0M730.8 1311h0M943.7 1309h0M840.7 1291.4h0M723.8 1299h0M752.8 1432.8h0M728.5 1453.9h0M883.5 1405.7h0M828 1304.4h0M855.8 1413.9h0M1044.4 1320.5h0M809.5 1428.8h0M1010.8 1446.2h0M1035.1 1310.2h0M716.9 1458.7h0M961.1 1298.6h0M854.6 1419.8h0M884.7 1408.8h0M924 1296.2h0M905.5 1415.3h0M715.7 1456.6h0M830.3 1303.2h0M656.7 1492h0M793.3 1292.8h0M998.1 1440.1h0M704.2 1467.2h0M986.5 1299.9h0M863.9 1286.3h0M934.5 1409.2h0M934.5 1305.3h0M1044.4 1460.8h0M772.4 1428h0M980.7 1307.9h0M1017.8 1295.4h0M814.1 1445h0M642.8 1329.4h0M662.5 1330.9h0M1021.3 1310h0M929.8 1294.5h0M812.9 1290.1h0M753.9 1425.4h0M1052.5 1322.4h0M674.1 1341.6h0M711.1 1303.5h0M826.8 1297.8h0M675.2 1492.4h0M672.9 1484.2h0M659 1489h0M691.4 1320.3h0M777.1 1427.8h0M687.9 1474.1h0M714.6 1312.4h0M969.2 1304.2h0M942.6 1317.3h0M1012 1291.8h0M1037.5 1460.7h0M1037.5 1312.6h0M767.8 1427.8h0M660.2 1486.2h0M676.4 1340.3h0M1006.2 1317.2h0M915.9 1301.5h0M953 1313.2h0M978.4 1421.3h0M953 1419h0M1056 1492.6h0M1045.6 1466.2h0M652.1 1493.9h0M816.4 1284.3h0M742.3 1307.3h0M1006.2 1433.9h0M678.7 1338.3h0M972.6 1408.8h0M910.2 1298.2h0M1002.7 1310.8h0M919.4 1423.1h0M990 1287.8h0M950.7 1427.6h0M751.6 1288.5h0M976.1 1296.3h0M991.2 1295.6h0M841.9 1405h0M839.6 1305.4h0M862.7 1291h0M700.7 1324.6h0M1038.6 1302.7h0M729.6 1322.1h0M642.8 1496.3h0M847.7 1287.4h0" stroke="#0F7DC2" stroke-width="7.2" stroke-linecap="round" fill="none"/>
<path d="M741.2 1414.2h0M1000.4 1414.7h0M809.5 1406.5h0M1005 1425.7h0M782.8 1264.8h0M766.6 1415h0M927.5 1300.1h0M1059.4 1326.3h0M985.4 1408.8h0M699.5 1310h0M785.2 1409.3h0M890.5 1293.6h0M891.6 1305.9h0M889.3 1294.2h0M812.9 1402.6h0M671.7 1322.8h0M884.7 1406.1h0M809.5 1277.6h0M863.9 1296.3h0M834.9 1271.1h0M799.1 1264.6h0M961.1 1300.1h0M725 1437.7h0M904.4 1297.7h0M920.6 1397h0M747 1290.2h0M912.5 1297h0M770.1 1402.4h0M1017.8 1305.5h0M991.2 1411h0M751.6 1291.1h0M921.7 1291.7h0M711.1 1446.9h0M650.9 1497.6h0M988.8 1314.2h0M779.4 1265.1h0M947.2 1310.8h0M898.6 1392.5h0M727.3 1294.2h0M779.4 1414.1h0M954.1 1313.1h0M905.5 1300h0M745.8 1287.6h0M795.6 1272.2h0M831.5 1400.2h0M810.6 1406.9h0M745.8 1418.1h0M705.3 1448.2h0M674.1 1315.9h0M675.2 1309h0M829.1 1283.8h0M951.8 1305h0M1003.9 1314.3h0M786.3 1410h0M869.6 1399.1h0M1052.5 1469.7h0M668.3 1486.8h0M973.8 1405.4h0M685.6 1469.2h0M1028.2 1294.7h0M802.5 1388.3h0M914.8 1398.3h0M880.1 1404.4h0M1025.9 1441.1h0M1049 1325.6h0M759.7 1268.6h0M999.3 1300h0M1029.4 1445.2h0M992.3 1308.7h0M722.7 1441.6h0M874.3 1400.1h0M775.9 1258.4h0M814.1 1284.7h0M781.7 1425.5h0M859.2 1397.1h0M720.4 1300.3h0M641.7 1505.4h0M909 1307.8h0M1053.7 1318.8h0M789.8 1259.6h0M868.5 1289.5h0M905.5 1397.8h0M920.6 1300.2h0M891.6 1404.4h0M965.7 1419.4h0M1036.3 1440h0M903.2 1316.2h0M933.3 1291.4h0M984.2 1317.6h0M648.6 1497.4h0M844.2 1399.2h0M844.2 1292.9h0M713.4 1301.5h0M804.8 1278h0M822.2 1404.8h0M682.2 1473.2h0M676.4 1479h0M911.3 1397.9h0M841.9 1396.5h0M992.3 1416.8h0M648.6 1314.4h0M976.1 1306h0M887 1291.6h0M937.9 1415.5h0M872 1398.2h0M708.8 1440.2h0M744.7 1277h0M837.2 1390.8h0M738.9 1430.9h0M873.1 1410.4h0M1061.8 1327.3h0M657.9 1318.6h0M669.4 1318.8h0M978.4 1406h0M686.8 1298.5h0M679.8 1467.7h0M775.9 1412.2h0M869.6 1298.7h0M784 1402.2h0M918.3 1292.9h0M853.4 1271.2h0M1008.5 1302.1h0M681 1467.7h0M969.2 1307.7h0M757.4 1418.3h0M704.2 1458.4h0M769 1416.1h0M815.3 1292.7h0M748.1 1411h0M777.1 1414.2h0M795.6 1380.4h0M1013.2 1424.5h0M756.2 1415.2h0M893.9 1410.7h0M895.1 1291.1h0M733.1 1271.3h0M884.7 1283.7h0M804.8 1411.2h0M995.8 1290.3h0M756.2 1277.8h0M693.7 1450.2h0M824.5 1396.1h0M980.7 1419.5h0M728.5 1435h0M904.4 1385.6h0M948.3 1390.8h0M922.9 1303.6h0M670.6 1317.5h0M819.9 1294.8h0M852.3 1293.8h0M1046.7 1314.2h0M782.8 1411.7h0M890.5 1398.8h0M1035.1 1446.3h0M719.2 1449.7h0M762 1421.5h0M645.1 1489.3h0M730.8 1431.3h0M832.6 1290h0M811.8 1412.4h0M840.7 1398.3h0M936.8 1310.5h0M817.6 1298.8h0M1030.5 1296.2h0M826.8 1399.4h0M792.1 1273.2h0M1056 1469.9h0M1012 1313.6h0M692.6 1305h0M910.2 1305.5h0M653.2 1486.3h0M743.5 1424.2h0M964.5 1414h0M691.4 1451.6h0M735.4 1276.3h0M800.2 1272.7h0M953 1411.8h0M740 1273.2h0M1042.1 1300.7h0M867.3 1286.5h0M919.4 1302.2h0M956.4 1397.6h0M734.2 1286.5h0M822.2 1290.4h0M1052.5 1326.7h0M915.9 1295.9h0M1017.8 1424.5h0M877.7 1399.6h0M767.8 1277.5h0M883.5 1281.5h0M921.7 1398.9h0M876.6 1394.2h0M652.1 1316.9h0M994.6 1297.7h0M669.4 1479.2h0M744.7 1427.7h0M984.2 1411.4h0M743.5 1268.5h0M1061.8 1490h0M888.2 1299.4h0M772.4 1402.4h0M801.4 1387.4h0M771.3 1275.7h0M736.6 1284.9h0M694.9 1306.2h0M988.8 1421h0M866.2 1391.7h0M810.6 1284.5h0M729.6 1443.7h0M764.3 1261.3h0M898.6 1301.3h0M897.4 1399.3h0M943.7 1292h0M655.5 1483.7h0M759.7 1419.3h0M1002.7 1431.4h0M926.4 1300.9h0M878.9 1287.2h0M823.4 1393.3h0M1001.6 1428.8h0M947.2 1387.6h0M718 1305.4h0M831.5 1283.6h0M663.6 1493.1h0M971.5 1411.3h0M941.4 1293.7h0M983.1 1415.2h0M972.6 1315.5h0M711.1 1312.8h0M943.7 1396.1h0M707.6 1316.1h0M858.1 1399.7h0M854.6 1278h0M1018.9 1427.8h0M995.8 1432.5h0M855.8 1400.8h0M749.3 1287.7h0M655.5 1308.2h0M771.3 1410.5h0M855.8 1279.9h0M966.9 1411.9h0M936.8 1408.9h0M773.6 1393h0" stroke="#FA6014" stroke-width="7.2" stroke-linecap="round" fill="none"/>
<path d="M920.6 1425.5h0M895.1 1409.5h0M833.8 1423.5h0M759.7 1297.1h0M694.9 1311.2h0M687.9 1315.8h0M735.4 1310.7h0M907.8 1427.1h0M996.9 1297.8h0M774.7 1429.5h0M984.2 1435.7h0M1022.4 1457.4h0M707.6 1479h0M1022.4 1299h0M926.4 1417.4h0M789.8 1287.7h0M973.8 1420h0M937.9 1413.1h0M653.2 1352h0M782.8 1420.5h0M785.2 1292.2h0M971.5 1407.3h0M973.8 1302.7h0M1059.4 1333.7h0M943.7 1414.1h0M681 1493.1h0M1014.3 1447.2h0M915.9 1412.4h0M749.3 1426.2h0M941.4 1415.1h0M970.3 1288.4h0M811.8 1419.2h0M904.4 1312.5h0M706.5 1473.1h0M818.7 1431.5h0M985.4 1442h0M662.5 1510.5h0M690.3 1320.5h0M956.4 1403.1h0M959.9 1425.5h0M753.9 1285.8h0M873.1 1405.9h0M944.9 1423.9h0M962.2 1425.1h0M883.5 1290.4h0M748.1 1305.6h0M880.1 1313.4h0M765.5 1448.6h0M968 1409.4h0M799.1 1298.4h0M821 1296.4h0M1030.5 1313.4h0M1058.3 1325.6h0M888.2 1308.6h0M950.7 1316.7h0M1031.7 1312.8h0M781.7 1300.2h0M816.4 1435.7h0M970.3 1398.6h0M771.3 1298.4h0M1043.2 1451.6h0M993.5 1299.3h0M993.5 1428.9h0M767.8 1299.8h0M818.7 1291.7h0M1040.9 1311.2h0M740 1439.2h0M870.8 1302.3h0M716.9 1315.9h0M657.9 1498.9h0M896.3 1409.2h0M700.7 1481.3h0M694.9 1468.2h0M897.4 1285.7h0M655.5 1345.1h0M778.2 1427.7h0M786.3 1291.9h0M779.4 1300.4h0M874.3 1305.5h0M666 1487.9h0M1012 1449.8h0M646.3 1493.1h0M719.2 1327.3h0M958.8 1421.1h0M722.7 1471.1h0M744.7 1433.3h0M803.7 1432.2h0M1013.2 1445.5h0M865 1421.8h0M865 1288.9h0M794.4 1290.1h0M1050.2 1466.8h0M1024.7 1459.1h0M749.3 1304.6h0M1008.5 1427.7h0M965.7 1294.3h0M910.2 1422.3h0M711.1 1465.6h0M876.6 1301.8h0M929.8 1422.5h0M987.7 1421.8h0M744.7 1311.1h0M738.9 1294.9h0M792.1 1297.6h0M969.2 1405.7h0M885.8 1312.6h0M1020.1 1310.7h0M663.6 1508.1h0M670.6 1334h0M933.3 1310.9h0M958.8 1302.4h0M986.5 1441.4h0M890.5 1295h0M1054.8 1323.7h0M867.3 1411.1h0M713.4 1310.3h0M758.5 1303.8h0M921.7 1313.7h0M1007.4 1312.2h0M954.1 1318.5h0M917.1 1307.5h0M925.2 1418.8h0M898.6 1423.9h0M699.5 1316.1h0M789.8 1442h0M836.1 1421.3h0M696.1 1332.3h0M641.7 1499.5h0M1027 1310h0M824.5 1413.1h0M918.3 1310h0M935.6 1297.1h0M692.6 1465.6h0M664.8 1340.2h0M676.4 1489.1h0M985.4 1318.1h0M903.2 1406.3h0M731.9 1455.6h0M936.8 1309.7h0M726.1 1315.9h0M763.2 1438.1h0M682.2 1325.5h0M955.3 1301.2h0M834.9 1304.8h0M728.5 1319.7h0M777.1 1308.7h0M1017.8 1441.1h0M718 1313.6h0M1061.8 1495.8h0M888.2 1407.3h0M852.3 1417.1h0M708.8 1304.5h0M1031.7 1459.8h0M655.5 1482h0M741.2 1437.8h0M995.8 1448.4h0M887 1312.7h0M882.4 1292.1h0M775.9 1435.9h0M900.9 1317.4h0M706.5 1319.5h0M858.1 1289h0M806 1422.2h0M807.2 1424.1h0M832.6 1290.9h0M683.3 1485.9h0M801.4 1287.8h0M756.2 1427.9h0M762 1287.4h0M932.1 1315.9h0M1010.8 1302.1h0M1032.8 1319.2h0M1020.1 1440.6h0M819.9 1288.2h0M1032.8 1464.1h0M1062.9 1498.6h0M709.9 1305.2h0M773.6 1291.8h0M912.5 1299.1h0M903.2 1295.2h0M734.2 1309.5h0M1014.3 1293.4h0M961.1 1418.4h0M875.4 1299.7h0M932.1 1415.9h0M722.7 1293.1h0M882.4 1426.1h0M904.4 1412.8h0M786.3 1429.9h0M697.2 1316.4h0M979.6 1308.5h0M931 1298.4h0M686.8 1465.2h0M807.2 1300.4h0M927.5 1419.6h0M919.4 1303.4h0M802.5 1424h0M1042.1 1456.4h0M983.1 1426.9h0M1035.1 1461.7h0M1043.2 1327h0M957.6 1306.2h0M650.9 1493.8h0M664.8 1495.1h0M971.5 1284.3h0M881.2 1406.8h0M959.9 1302.4h0M846.5 1288.6h0M729.6 1457.4h0M984.2 1311.4h0M769 1294.2h0M844.2 1306h0M956.4 1306.8h0M668.3 1339.7h0M831.5 1425.3h0M913.6 1308.9h0M718 1469.8h0M699.5 1479.9h0M892.8 1417.4h0M1039.8 1471.5h0M797.9 1424.7h0M853.4 1406.8h0M721.5 1460.3h0M914.8 1428.3h0M1025.9 1316.1h0M949.5 1312.4h0M859.2 1406h0M747 1433h0M775.9 1303.8h0M925.2 1303.4h0M890.5 1420.1h0M790.9 1436.7h0M1049 1320.1h0M921.7 1424.9h0M851.1 1418.7h0M851.1 1283.3h0M703 1312.1h0M873.1 1297.9h0M837.2 1310.4h0M1000.4 1310.3h0M839.6 1414.1h0M795.6 1287.5h0M823.4 1409.9h0" stroke="#0F7DC2" stroke-width="7.2" stroke-linecap="round" fill="none"/>
<path d="M899.7 1395.3h0M1015.5 1307.1h0M1034 1308.5h0M836.1 1279.8h0M902 1401.5h0M773.6 1259.6h0M987.7 1409.7h0M885.8 1281.2h0M893.9 1305.1h0M900.9 1391.8h0M814.1 1401.7h0M649.8 1491.9h0M692.6 1456.9h0M986.5 1308.9h0M977.3 1312.9h0M839.6 1395.4h0M787.5 1410.6h0M682.2 1317h0M1014.3 1433.2h0M868.5 1398.7h0M1051.3 1326.9h0M955.3 1312.9h0M1062.9 1491.7h0M742.3 1276.8h0M979.6 1311h0M881.2 1301.7h0M645.1 1325.6h0M924 1390.8h0M882.4 1296.9h0M660.2 1308.4h0M981.9 1318h0M949.5 1303.6h0M1021.3 1439.1h0M691.4 1310.6h0M824.5 1282h0M701.8 1468.5h0M866.2 1293.4h0M896.3 1407.5h0M750.4 1430.8h0M993.5 1308.5h0M950.7 1406.3h0M861.5 1389.9h0M1023.6 1434.2h0M1016.6 1313.5h0M672.9 1311.2h0M700.7 1310.4h0M1035.1 1303.4h0M911.3 1312.2h0M996.9 1426.4h0M684.5 1300.6h0M875.4 1306.2h0M892.8 1394.8h0M900.9 1277.2h0M698.4 1304.9h0M737.7 1427.5h0M983.1 1307.6h0M1058.3 1471.5h0M712.3 1446.4h0M830.3 1283.8h0M935.6 1298.5h0M941.4 1385.7h0M1028.2 1447.4h0M801.4 1289.1h0M998.1 1293.7h0M996.9 1288.5h0M1043.2 1469.3h0M704.2 1293.6h0M970.3 1408.4h0M789.8 1387.2h0M979.6 1413h0M721.5 1296.6h0M797.9 1274.4h0M785.2 1259.2h0M730.8 1278.6h0M841.9 1295h0M1050.2 1326.3h0M878.9 1399.7h0M910.2 1403h0M748.1 1292.5h0M944.9 1303.2h0M812.9 1280.7h0M1043.2 1304.3h0M903.2 1407.6h0M806 1415.5h0M816.4 1307.3h0M906.7 1303.3h0M765.5 1406.3h0M666 1326h0M1057.1 1467.1h0M934.5 1400.2h0M646.3 1324.7h0M796.7 1278.9h0M887 1412.8h0M713.4 1444.8h0M958.8 1296.3h0M1010.8 1307.4h0M806 1275.6h0M1008.5 1435.6h0M796.7 1388.1h0M681 1312.3h0M1001.6 1296h0M677.5 1463.5h0M706.5 1451.1h0M892.8 1309.5h0M939.1 1302.2h0M794.4 1273.8h0M683.3 1461.5h0M924 1290h0M715.7 1295.4h0M647.4 1497h0M774.7 1259.6h0M826.8 1285.8h0M965.7 1301.3h0M953 1308.6h0M1058.3 1326.4h0M861.5 1296.1h0M818.7 1412.4h0M829.1 1392.2h0M706.5 1299.6h0M690.3 1304h0M1018.9 1314.6h0M833.8 1388.2h0M880.1 1289.5h0M656.7 1495.2h0M913.6 1296.4h0M1039.8 1320.4h0M843 1285h0M940.2 1303.3h0M741.2 1271.7h0M909 1402.5h0M664.8 1315.6h0M972.6 1405.4h0M794.4 1381h0M753.9 1420.3h0M832.6 1399.2h0M926.4 1392.3h0M934.5 1301h0M961.1 1411.8h0M1007.4 1432.9h0M699.5 1442.5h0M964.5 1286.9h0M1034 1435.6h0M1057.1 1328.4h0M683.3 1318.2h0M912.5 1402.2h0M729.6 1275.7h0M957.6 1310.2h0M1053.7 1471.9h0M698.4 1436.8h0M1006.2 1441.4h0M800.2 1389.2h0M1038.6 1436.1h0M666 1467.9h0M740 1420.8h0M856.9 1412.6h0M684.5 1462.2h0M678.7 1458.7h0M1024.7 1441.5h0M760.9 1274.1h0M807.2 1401.5h0M659 1493.1h0M687.9 1300.1h0M750.4 1292.9h0M716.9 1436.6h0M852.3 1392.1h0M808.3 1274h0M723.8 1303h0M836.1 1393.2h0M763.2 1280.3h0M1036.3 1296.5h0M725 1297.3h0M790.9 1382.7h0M980.7 1314.8h0M802.5 1278.5h0M679.8 1308.2h0M656.7 1318.6h0M644 1333.8h0M915.9 1397.9h0M944.9 1405.5h0M919.4 1393.1h0M778.2 1414h0M860.4 1393.2h0M939.1 1394.5h0M678.7 1309.2h0M726.1 1294.7h0M990 1306.6h0M749.3 1414.2h0M644 1486.3h0M985.4 1322.9h0M830.3 1410.9h0M843 1398.5h0M851.1 1396.7h0M932.1 1292.9h0M858.1 1293.1h0M747 1415.3h0M1009.7 1424.3h0M867.3 1395h0M736.6 1424.7h0M1045.6 1458.5h0M918.3 1397.3h0M846.5 1290.1h0M850 1284.9h0M735.4 1420.7h0M873.1 1282h0M685.6 1300h0M777.1 1261.6h0M856.9 1286.7h0M975 1397.9h0M674.1 1484.4h0M1037.5 1305.4h0M701.8 1302.2h0M788.6 1398.9h0M677.5 1309.2h0M862.7 1391.2h0M940.2 1394.3h0M765.5 1265.3h0M1007.4 1303.2h0M986.5 1398.9h0M860.4 1294.6h0M694.9 1449.8h0M784 1262.8h0M751.6 1411.2h0M1022.4 1440h0M780.5 1268.2h0M931 1388.7h0M654.4 1488.7h0M1023.6 1301.9h0M969.2 1420.3h0M917.1 1403.1h0M769 1275.8h0M874.3 1290h0M840.7 1293h0M946 1388.1h0M733.1 1424.2h0M792.1 1386.7h0M662.5 1495.2h0M987.7 1316.1h0M935.6 1398.2h0M760.9 1418.6h0M668.3 1319.4h0M968 1306.7h0M1056 1322.5h0M708.8 1315.4h0" stroke="#FA6014" stroke-width="7.2" stroke-linecap="round" fill="none"/>
<path d="M1040.9 1457.8h0M1023.6 1456.1h0M843 1290.7h0M922.9 1297h0M715.7 1313.7h0M924 1407.4h0M918.3 1416.5h0M755.1 1283.6h0M867.3 1307.4h0M790.9 1289.8h0M963.4 1306.9h0M979.6 1407.1h0M844.2 1415.9h0M735.4 1455.1h0M836.1 1311h0M781.7 1417h0M1015.5 1435.5h0M840.7 1408.5h0M802.5 1304.3h0M721.5 1295.8h0M1036.3 1307.9h0M824.5 1297.9h0M677.5 1343h0M1042.1 1334.7h0M678.7 1489.8h0M679.8 1329.3h0M850 1282.8h0M675.2 1346h0M733.1 1451.6h0M1001.6 1435.7h0M674.1 1488.7h0M648.6 1326.2h0M940.2 1419.9h0M736.6 1442h0M661.3 1336.7h0M1054.8 1489.3h0M828 1425.1h0M922.9 1418h0M654.4 1497h0M648.6 1498.1h0M1045.6 1322.8h0M713.4 1473.8h0M806 1306.6h0M834.9 1420.6h0M766.6 1437.6h0M909 1294.1h0M1005 1326.7h0M902 1301.4h0M860.4 1311.9h0M734.2 1458.9h0M964.5 1303.9h0M817.6 1303h0M1003.9 1438.9h0M731.9 1310h0M649.8 1511.2h0M1000.4 1445.3h0M1023.6 1298.5h0M758.5 1436.1h0M988.8 1295.2h0M652.1 1348.8h0M949.5 1426.5h0M866.2 1288.6h0M801.4 1434.4h0M697.2 1474.4h0M951.8 1313.3h0M755.1 1425.4h0M833.8 1301h0M891.6 1301.3h0M933.3 1415.3h0M900.9 1427.4h0M1018.9 1432.8h0M1046.7 1478.8h0M1060.6 1491.5h0M645.1 1494h0M968 1304.9h0M778.2 1312.8h0M1007.4 1431h0M766.6 1293h0M893.9 1292.3h0M994.6 1304.4h0M911.3 1418.2h0M737.7 1313.2h0M683.3 1326h0M838.4 1305.9h0M830.3 1413.9h0M928.7 1295.4h0M703 1472.7h0M1016.6 1304.5h0M843 1411.3h0M727.3 1316h0M1039.8 1313.3h0M738.9 1443.7h0M1015.5 1308.4h0M653.2 1496h0M779.4 1421.5h0M725 1314.7h0M666 1349.7h0M899.7 1300.9h0M822.2 1308.5h0M1009.7 1303.3h0M977.3 1303.8h0M983.1 1312.4h0M780.5 1424.4h0M829.1 1300.9h0M992.3 1308.9h0M1024.7 1307.1h0M709.9 1465.8h0M845.3 1291h0M926.4 1293.9h0M1027 1453.5h0M788.6 1427.6h0M705.3 1317.9h0M770.1 1296.6h0M946 1429.3h0M764.3 1446.6h0M770.1 1437.9h0M868.5 1322.6h0M771.3 1418.3h0M701.8 1471.6h0M845.3 1416.1h0M667.1 1491.2h0M757.4 1296.1h0M780.5 1303.5h0M861.5 1296.7h0M751.6 1432.1h0M948.3 1427h0M647.4 1491h0M782.8 1310.3h0M856.9 1418.7h0M726.1 1455.1h0M756.2 1297.4h0M649.8 1327.5h0M914.8 1302.2h0M1005 1434.5h0M657.9 1341.5h0M784 1422.5h0M877.7 1401.6h0M757.4 1433.2h0M1034 1463.3h0M972.6 1301.2h0M646.3 1338.4h0M689.1 1322.7h0M896.3 1292.8h0M999.3 1296.5h0M794.4 1431.5h0M832.6 1423h0M800.2 1293.8h0M1059.4 1494.8h0M725 1458.6h0M730.8 1452.6h0M947.2 1302.5h0M863.9 1420.9h0M981.9 1419h0M866.2 1420.2h0M876.6 1404.3h0M698.4 1324.8h0M838.4 1421.6h0M964.5 1420.3h0M891.6 1414.9h0M1021.3 1439.3h0M823.4 1293.3h0M885.8 1410.8h0M1002.7 1420.2h0M841.9 1292.9h0M747 1310h0M902 1416.5h0M1062.9 1337.7h0M1028.2 1305.8h0M1008.5 1307.4h0M862.7 1434.2h0M669.4 1340.6h0M944.9 1310.1h0M693.7 1303h0M927.5 1292.4h0M804.8 1303.9h0M821 1420.1h0M893.9 1419h0M762 1442h0M963.4 1425.4h0M1029.4 1310.8h0M892.8 1283.6h0M650.9 1344.5h0M887 1412.8h0M720.4 1468.5h0M645.1 1332.7h0M804.8 1433.5h0M856.9 1290.3h0M855.8 1293.8h0M690.3 1467h0M773.6 1428.3h0M980.7 1416.7h0M977.3 1422.3h0M939.1 1301.9h0M812.9 1444h0M772.4 1304.5h0M975 1425.4h0M854.6 1298.4h0M793.3 1419h0M848.8 1417.6h0M941.4 1292.5h0M996.9 1437.1h0M763.2 1295.2h0M939.1 1415.8h0M808.3 1291.5h0M712.3 1470.8h0M898.6 1303.9h0M677.5 1494.1h0M951.8 1416.6h0M800.2 1421.9h0M940.2 1303.1h0M693.7 1475.5h0M764.3 1287.7h0M946 1300.8h0M815.3 1289.6h0M870.8 1419.5h0M988.8 1429.8h0M1036.3 1460.3h0M998.1 1299.4h0M787.5 1435.8h0M1009.7 1437.1h0M868.5 1423h0M708.8 1464.3h0M759.7 1439.1h0M684.5 1481.7h0M992.3 1433.7h0M1051.3 1473.5h0M1030.5 1459.1h0M937.9 1314.2h0M647.4 1335.8h0M948.3 1301h0M906.7 1306.7h0M760.9 1442h0M667.1 1344.2h0M957.6 1421.1h0M897.4 1414.9h0M1013.2 1288.7h0M935.6 1417.6h0M852.3 1289.2h0M707.6 1299.2h0M880.1 1411.1h0M641.7 1343.7h0M848.8 1284.2h0M743.5 1441.9h0M906.7 1414.5h0" stroke="#0F7DC2" stroke-width="7.2" stroke-linecap="round" fill="none"/>
<path d="M738.9 1278h0M752.8 1301.7h0M877.7 1292.3h0M703 1306.6h0M650.9 1315.6h0M663.6 1304.1h0M1032.8 1438.8h0M672.9 1476.5h0M950.7 1301.7h0M848.8 1280.5h0M671.7 1478.4h0M1016.6 1423.3h0M1021.3 1316.9h0M865 1389.6h0M807.2 1271.4h0M942.6 1393.7h0M662.5 1304.6h0M949.5 1402.6h0M649.8 1323.3h0M1040.9 1447.7h0M971.5 1311.5h0M742.3 1420h0M815.3 1403.6h0M870.8 1398.8h0M883.5 1407.7h0M722.7 1292.1h0M1003.9 1438h0M1040.9 1315.4h0M714.6 1298.4h0M693.7 1320.4h0M653.2 1322h0M859.2 1300.5h0M766.6 1270.5h0M647.4 1317.5h0M929.8 1297.3h0M774.7 1408.4h0M977.3 1410.3h0M865 1305.7h0M922.9 1399.4h0M954.1 1412.3h0M876.6 1295.7h0M727.3 1437.4h0M817.6 1412.6h0M786.3 1261.6h0M1038.6 1313.8h0M863.9 1391.6h0M818.7 1293.3h0M687.9 1469.6h0M851.1 1279.7h0M942.6 1297.7h0M956.4 1314h0M991.2 1310.5h0M697.2 1308h0M667.1 1474.3h0M968 1414.4h0M793.3 1284h0M917.1 1300.7h0M1044.4 1315.4h0M929.8 1395h0M957.6 1410.2h0M963.4 1407.4h0M1031.7 1309.6h0M990 1415h0M764.3 1416.2h0M882.4 1399.6h0M902 1294.9h0M885.8 1407.9h0M838.4 1387.9h0M1029.4 1295.2h0M845.3 1290.7h0M959.9 1297.7h0M854.6 1408.8h0M803.7 1397.7h0M970.3 1309.4h0M780.5 1425.3h0M723.8 1428h0M838.4 1297.3h0M642.8 1500.4h0M951.8 1412.4h0M790.9 1270h0M686.8 1461.3h0M888.2 1405.8h0M1037.5 1439.5h0M1020.1 1431h0M993.5 1416.8h0M1027 1300.4h0M1049 1463.4h0M788.6 1261.4h0M755.1 1424.2h0M946 1315.9h0M667.1 1317.7h0M772.4 1275.3h0M646.3 1495.7h0M793.3 1382.3h0M718 1448.4h0M1054.8 1333.4h0M641.7 1335h0M975 1305.5h0M705.3 1295h0M1054.8 1475.2h0M931 1298.5h0M999.3 1415h0M848.8 1392.7h0M697.2 1448h0M828 1284h0M661.3 1299.8h0M1000.4 1295.1h0M1027 1432.3h0M690.3 1470.3h0M716.9 1308.2h0M660.2 1499.1h0M981.9 1413.1h0M906.7 1389.9h0M770.1 1281.5h0M661.3 1499.1h0M833.8 1290.5h0M781.7 1259.6h0M734.2 1418.9h0M762 1278.2h0M1006.2 1302.2h0M709.9 1449.6h0M853.4 1400.7h0M1010.8 1424.5h0M1059.4 1470h0M925.2 1395.9h0M862.7 1289.4h0M731.9 1275.4h0M889.3 1391.8h0M753.9 1279.4h0M907.8 1409.4h0M895.1 1405.7h0M797.9 1394.9h0M778.2 1271.1h0M808.3 1401.6h0M642.8 1325.8h0M913.6 1398.1h0M948.3 1304.6h0M1009.7 1305.9h0M657.9 1504.4h0M1012 1417.7h0M959.9 1400.6h0M1025.9 1307.5h0M937.9 1308.7h0M659 1323.5h0M675.2 1473.6h0M1046.7 1457.3h0M1015.5 1421.6h0M837.2 1292.2h0M758.5 1431.9h0M1013.2 1316.8h0M821 1295h0M728.5 1280.9h0M1032.8 1316.3h0M689.1 1307h0M755.1 1282h0M1020.1 1327.2h0M875.4 1389.1h0M689.1 1468h0M811.8 1290.1h0M962.2 1299h0M696.1 1306.8h0M1022.4 1322.4h0M1060.6 1323h0M654.4 1319.6h0M703 1468h0M1024.7 1314h0M721.5 1435.1h0M719.2 1301.9h0M821 1406.5h0M1060.6 1477.2h0M803.7 1271.2h0M696.1 1454.8h0M973.8 1306.8h0M834.9 1382.5h0M664.8 1483.3h0M787.5 1262.4h0M726.1 1430.3h0M976.1 1398.9h0M767.8 1420.1h0M958.8 1403.4h0M847.7 1292.8h0M927.5 1391.8h0M962.2 1416.3h0M928.7 1298.7h0M1045.6 1309.5h0M846.5 1393.7h0M933.3 1398.5h0M709.9 1312.7h0M899.7 1289.7h0M714.6 1442.9h0M670.6 1476.5h0M994.6 1416.1h0M932.1 1390.9h0M825.7 1302.9h0M1062.9 1323.4h0M896.3 1296.1h0M928.7 1403.4h0M845.3 1391.7h0M907.8 1303.8h0M1005 1314.5h0M676.4 1303.2h0M850 1383.1h0M1014.3 1309.8h0M720.4 1446.4h0M1047.9 1463.2h0M881.2 1392.6h0M1031.7 1441.3h0M828 1403h0M799.1 1395.4h0M758.5 1264.2h0M1042.1 1455.8h0M897.4 1299.2h0M1030.5 1437.2h0M870.8 1299.4h0M712.3 1308.9h0M731.9 1409.7h0M1047.9 1327.3h0M963.4 1287.5h0M737.7 1275.9h0M819.9 1395.2h0M1039.8 1441.8h0M925.2 1296.2h0M652.1 1494.2h0M752.8 1405.2h0M966.9 1298.2h0M1044.4 1464.8h0M763.2 1421.2h0M872 1287.1h0M757.4 1275.9h0M998.1 1419.1h0M839.6 1279.3h0M1002.7 1310.7h0M715.7 1445.8h0M1051.3 1476.8h0M823.4 1285h0M847.7 1391.2h0M825.7 1401.9h0M1050.2 1470.5h0M955.3 1404.9h0M707.6 1449.8h0M978.4 1301.1h0M914.8 1308.6h0M816.4 1411.9h0M700.7 1462.1h0" stroke="#FA6014" stroke-width="7.2" stroke-linecap="round" fill="none"/>
<defs><path id="L21omax" d="M641.7 1321.1 L651.0 1318.5 L660.4 1315.8 L669.7 1313.0 L679.1 1310.1 L688.5 1306.8 L697.8 1303.3 L707.2 1299.5 L716.5 1295.5 L725.9 1291.5 L735.3 1287.8 L744.6 1284.5 L754.0 1281.9 L763.4 1280.1 L772.7 1279.1 L782.1 1278.9 L791.4 1279.3 L800.8 1280.2 L810.2 1281.6 L819.5 1283.3 L828.9 1285.3 L838.2 1287.4 L847.6 1289.6 L857.0 1291.7 L866.3 1293.7 L875.7 1295.5 L885.1 1297.0 L894.4 1298.3 L903.8 1299.4 L913.1 1300.3 L922.5 1301.1 L931.9 1301.8 L941.2 1302.4 L950.6 1302.9 L959.9 1303.5 L969.3 1304.1 L978.7 1304.8 L988.0 1305.6 L997.4 1306.6 L1006.7 1307.7 L1016.1 1309.1 L1025.5 1310.8 L1034.8 1312.8 L1044.2 1315.1 L1053.6 1317.9 L1062.9 1320.8"/></defs>
<use href="#L21omax" stroke="#FA6014" stroke-opacity="0.35" stroke-width="8" fill="none" stroke-linejoin="round"/>
<use href="#L21omax" stroke="#FA6014" stroke-width="4.3" fill="none" stroke-linejoin="round"/>
<defs><path id="L21omin" d="M641.7 1499.2 L651.0 1492.0 L660.4 1484.9 L669.7 1477.7 L679.1 1470.5 L688.5 1463.3 L697.8 1456.1 L707.2 1449.0 L716.5 1442.0 L725.9 1435.2 L735.3 1428.8 L744.6 1422.9 L754.0 1417.6 L763.4 1413.1 L772.7 1409.4 L782.1 1406.3 L791.4 1403.7 L800.8 1401.7 L810.2 1400.1 L819.5 1398.8 L828.9 1397.8 L838.2 1397.0 L847.6 1396.5 L857.0 1396.2 L866.3 1396.1 L875.7 1396.2 L885.1 1396.3 L894.4 1396.7 L903.8 1397.2 L913.1 1397.8 L922.5 1398.6 L931.9 1399.6 L941.2 1400.7 L950.6 1402.2 L959.9 1404.1 L969.3 1406.5 L978.7 1409.6 L988.0 1413.5 L997.4 1418.3 L1006.7 1424.2 L1016.1 1431.0 L1025.5 1439.0 L1034.8 1448.2 L1044.2 1458.7 L1053.6 1470.4 L1062.9 1482.8"/></defs>
<use href="#L21omin" stroke="#FA6014" stroke-opacity="0.35" stroke-width="8" fill="none" stroke-linejoin="round"/>
<use href="#L21omin" stroke="#FA6014" stroke-width="4.3" fill="none" stroke-linejoin="round"/>
<defs><path id="L21bmax" d="M641.7 1343.4 L651.0 1338.8 L660.4 1334.3 L669.7 1329.9 L679.1 1325.7 L688.5 1321.8 L697.8 1318.3 L707.2 1315.1 L716.5 1312.3 L725.9 1309.8 L735.3 1307.6 L744.6 1305.5 L754.0 1303.6 L763.4 1301.7 L772.7 1300.0 L782.1 1298.4 L791.4 1297.1 L800.8 1296.1 L810.2 1295.5 L819.5 1295.3 L828.9 1295.5 L838.2 1296.1 L847.6 1296.8 L857.0 1297.7 L866.3 1298.6 L875.7 1299.5 L885.1 1300.2 L894.4 1300.9 L903.8 1301.4 L913.1 1301.9 L922.5 1302.4 L931.9 1302.8 L941.2 1303.2 L950.6 1303.6 L959.9 1304.0 L969.3 1304.6 L978.7 1305.3 L988.0 1306.3 L997.4 1307.4 L1006.7 1309.0 L1016.1 1311.2 L1025.5 1314.1 L1034.8 1318.0 L1044.2 1322.9 L1053.6 1329.1 L1062.9 1335.9"/></defs>
<use href="#L21bmax" stroke="#0F7DC2" stroke-opacity="0.35" stroke-width="8" fill="none" stroke-linejoin="round"/>
<use href="#L21bmax" stroke="#0F7DC2" stroke-width="4.3" fill="none" stroke-linejoin="round"/>
<defs><path id="L21bmin" d="M641.7 1501.8 L651.0 1496.8 L660.4 1491.7 L669.7 1486.5 L679.1 1481.2 L688.5 1475.8 L697.8 1470.2 L707.2 1464.4 L716.5 1458.5 L725.9 1452.8 L735.3 1447.2 L744.6 1442.1 L754.0 1437.5 L763.4 1433.6 L772.7 1430.3 L782.1 1427.6 L791.4 1425.4 L800.8 1423.6 L810.2 1422.2 L819.5 1421.0 L828.9 1420.0 L838.2 1419.2 L847.6 1418.6 L857.0 1418.1 L866.3 1417.7 L875.7 1417.3 L885.1 1417.0 L894.4 1416.9 L903.8 1416.8 L913.1 1416.9 L922.5 1417.1 L931.9 1417.5 L941.2 1418.2 L950.6 1419.1 L959.9 1420.4 L969.3 1422.2 L978.7 1424.5 L988.0 1427.4 L997.4 1431.0 L1006.7 1435.6 L1016.1 1441.2 L1025.5 1448.1 L1034.8 1456.5 L1044.2 1466.6 L1053.6 1478.5 L1062.9 1491.3"/></defs>
<use href="#L21bmin" stroke="#0F7DC2" stroke-opacity="0.35" stroke-width="8" fill="none" stroke-linejoin="round"/>
<use href="#L21bmin" stroke="#0F7DC2" stroke-width="4.3" fill="none" stroke-linejoin="round"/>
<rect x="1111.0" y="1232.1" width="462.6" height="472.8" fill="#fff" stroke="#ADADAD" stroke-width="2.2"/>
<g stroke="#fff"><path d="M1129.9 1231.0V1706.0" stroke-width="5.8"/><path d="M1187.8 1231.0V1706.0" stroke-width="2.9"/><path d="M1245.6 1231.0V1706.0" stroke-width="5.8"/><path d="M1303.5 1231.0V1706.0" stroke-width="2.9"/><path d="M1361.4 1231.0V1706.0" stroke-width="5.8"/><path d="M1419.2 1231.0V1706.0" stroke-width="2.9"/><path d="M1477.1 1231.0V1706.0" stroke-width="5.8"/><path d="M1535.0 1231.0V1706.0" stroke-width="2.9"/><path d="M1109.9 1655.2H1574.7" stroke-width="2.9"/><path d="M1109.9 1588.8H1574.7" stroke-width="5.8"/><path d="M1109.9 1522.3H1574.7" stroke-width="2.9"/><path d="M1109.9 1455.9H1574.7" stroke-width="5.8"/><path d="M1109.9 1389.4H1574.7" stroke-width="2.9"/><path d="M1109.9 1323.0H1574.7" stroke-width="5.8"/><path d="M1109.9 1256.5H1574.7" stroke-width="2.9"/></g>
<path d="M1212.1 1479.3h0M1155.4 1343h0M1187.8 1368h0M1371.8 1306.9h0M1216.7 1355.4h0M1482.9 1412.9h0M1361.4 1420.4h0M1463.2 1435.2h0M1169.2 1558.8h0M1325.5 1303.3h0M1389.1 1402.1h0M1267.6 1467.2h0M1213.2 1331.5h0M1440.1 1418.5h0M1516.4 1460.6h0M1393.8 1308.9h0M1140.3 1359.4h0M1484 1340.7h0M1508.3 1442.6h0M1484 1418.5h0M1473.6 1318.2h0M1506 1335.1h0M1377.6 1410.5h0M1415.8 1294.5h0M1348.6 1312.4h0M1348.6 1419.9h0M1230.6 1458.4h0M1134.5 1373.3h0M1436.6 1316h0M1372.9 1301.2h0M1303.5 1445.8h0M1515.3 1453.7h0M1503.7 1327.4h0M1510.7 1437h0M1473.6 1429.6h0M1266.5 1321.5h0M1268.8 1328.1h0M1165.8 1367.5h0M1334.7 1303.9h0M1470.1 1328.9h0M1224.8 1313.6h0M1249.1 1322.6h0M1222.5 1492h0M1453.9 1415.5h0M1479.4 1438.4h0M1423.9 1302.9h0M1491 1348.4h0M1448.2 1304.8h0M1513 1487.9h0M1345.2 1420.9h0M1256 1454.7h0M1543.1 1502h0M1154.2 1369.6h0M1405.3 1408.9h0M1245.6 1468.2h0M1412.3 1292h0M1465.5 1312.3h0M1488.7 1429.2h0M1297.7 1454.2h0M1182 1479.7h0M1366 1406.9h0M1287.3 1441.8h0M1362.5 1420h0M1366 1298.2h0M1155.4 1483.9h0M1448.2 1416.2h0M1263 1461.3h0M1547.7 1455.9h0M1457.4 1438.1h0M1266.5 1462h0M1526.9 1464.5h0M1317.4 1438.5h0M1518.8 1343.3h0M1148.4 1383.4h0M1397.2 1406h0M1333.6 1454.8h0M1492.1 1326.3h0M1226 1365.5h0M1208.6 1345.6h0M1312.8 1442.5h0M1392.6 1425.2h0M1354.4 1312.6h0M1432 1288.8h0M1144.9 1384.4h0M1209.8 1477.9h0M1221.3 1306.5h0M1499.1 1444.6h0M1162.3 1374.6h0M1199.3 1459.4h0M1458.6 1299.3h0M1359 1299.8h0M1442.4 1296.4h0M1369.5 1428.2h0M1257.2 1315.2h0M1539.6 1519.9h0M1311.6 1292.7h0M1429.6 1413.6h0M1393.8 1422.8h0M1354.4 1414.5h0M1291.9 1445.4h0M1239.8 1313.5h0M1496.8 1324.2h0M1535 1490.7h0M1400.7 1407.5h0M1230.6 1328.6h0M1283.8 1458.9h0M1494.4 1441.5h0M1252.6 1451.5h0M1412.3 1427.2h0M1404.2 1404.8h0M1367.1 1301.2h0M1197 1455.7h0M1304.7 1441.2h0M1176.2 1515.2h0M1315.1 1452.8h0M1176.2 1327.1h0M1494.4 1327.2h0M1381 1418.3h0M1241 1523.4h0M1535 1365.3h0M1408.8 1408.5h0M1507.2 1352.5h0M1141.5 1526h0M1236.4 1328.8h0M1242.2 1484.9h0M1215.5 1460.2h0M1166.9 1362.2h0M1396.1 1319.7h0M1242.2 1338.8h0M1517.6 1458h0M1524.5 1359.8h0M1330.1 1293.6h0M1214.4 1511.3h0M1528 1482.6h0M1186.6 1329.6h0M1493.3 1326.4h0M1515.3 1330.3h0M1363.7 1297.9h0M1261.8 1334.4h0M1497.9 1326.7h0M1157.7 1494.8h0M1294.2 1329.9h0M1311.6 1432.4h0M1325.5 1427.8h0M1419.2 1406.3h0M1451.6 1309.1h0M1422.7 1304.4h0M1379.9 1418.8h0M1487.5 1320.8h0M1378.7 1309.3h0M1310.4 1427.7h0M1232.9 1458.4h0M1382.2 1304.5h0M1349.8 1413h0M1526.9 1371h0M1543.1 1332.9h0M1504.9 1340.7h0M1142.6 1367.6h0M1356.7 1416.9h0M1525.7 1366.6h0M1217.9 1509.4h0M1474.8 1307.5h0M1231.7 1458.5h0M1419.2 1302h0M1171.6 1332.7h0M1413.4 1408.8h0M1318.5 1309.5h0M1280.3 1450.9h0M1530.3 1331h0M1156.5 1496.3h0M1326.6 1421.7h0M1386.8 1299h0M1273.4 1445.5h0M1478.2 1478h0M1213.2 1476.1h0M1223.6 1327.8h0M1285 1455h0M1411.1 1424.2h0M1193.6 1328.5h0M1180.8 1529.4h0M1249.1 1473h0M1258.4 1320.9h0M1243.3 1499.2h0M1363.7 1411.9h0M1403 1409.3h0M1300 1324.8h0M1267.6 1337.7h0M1335.9 1416.3h0M1338.2 1426.9h0M1241 1329.2h0M1525.7 1506h0M1210.9 1308.2h0M1147.3 1526.6h0M1206.3 1307.7h0M1357.9 1307.9h0M1486.3 1372.2h0M1135.7 1355.2h0M1148.4 1508.3h0M1414.6 1296.2h0M1323.2 1308.1h0M1422.7 1414.6h0M1548.8 1371.1h0M1421.5 1411.1h0M1156.5 1379h0M1447 1310h0M1175 1490.5h0M1378.7 1423.6h0M1426.2 1429h0M1169.2 1346.1h0M1506 1440.2h0M1337.1 1423.1h0M1166.9 1496.1h0M1315.1 1303.7h0M1521.1 1338.7h0M1214.4 1332.2h0M1195.9 1366.4h0M1154.2 1508h0M1390.3 1315.4h0M1537.3 1480.1h0M1499.1 1314.6h0M1359 1410.5h0M1362.5 1300.3h0M1253.7 1310.8h0M1288.5 1471.4h0M1332.4 1314.2h0M1341.7 1411.8h0M1263 1329.7h0M1410 1415.1h0M1204 1498.3h0M1349.8 1332.6h0M1523.4 1473.3h0M1289.6 1447.3h0M1279.2 1457h0M1254.9 1326.3h0M1500.2 1301.4h0M1168.1 1505.9h0M1163.5 1499.6h0M1147.3 1387.7h0M1243.3 1331.7h0M1272.2 1316.6h0M1340.5 1302.9h0M1275.7 1429.1h0M1430.8 1299.3h0" stroke="#0F7DC2" stroke-width="7.2" stroke-linecap="round" fill="none"/>
<path d="M1166.9 1462.1h0M1224.8 1295.6h0M1458.6 1399h0M1285 1293.7h0M1302.3 1306.9h0M1533.8 1465.5h0M1522.2 1310.6h0M1238.7 1438.8h0M1249.1 1429.3h0M1155.4 1325.8h0M1474.8 1403.8h0M1544.2 1438.2h0M1399.6 1322.5h0M1161.1 1462h0M1236.4 1430.1h0M1471.3 1300h0M1491 1284h0M1529.2 1438.4h0M1551.2 1465.5h0M1322 1308.9h0M1228.3 1429.7h0M1550 1466.6h0M1523.4 1313.2h0M1422.7 1291.5h0M1329 1407.7h0M1307 1402.1h0M1435.4 1413.5h0M1489.8 1413.7h0M1269.9 1424.8h0M1288.5 1438.4h0M1131.1 1344.4h0M1187.8 1467.2h0M1506 1311.4h0M1269.9 1296.5h0M1215.5 1292.8h0M1541.9 1312.6h0M1227.1 1447.1h0M1444.7 1311.1h0M1519.9 1310h0M1244.5 1312.8h0M1495.6 1287.8h0M1375.2 1399.4h0M1231.7 1432h0M1138 1460.3h0M1173.9 1304.2h0M1264.1 1285.8h0M1214.4 1466.9h0M1326.6 1282.9h0M1291.9 1428.9h0M1389.1 1393.8h0M1433.1 1286.9h0M1410 1400.5h0M1330.1 1291.8h0M1392.6 1397.4h0M1362.5 1311.3h0M1370.6 1285.6h0M1278 1280.2h0M1188.9 1468.3h0M1294.2 1300h0M1163.5 1455.7h0M1388 1397.3h0M1317.4 1308.5h0M1484 1418.3h0M1452.8 1292h0M1329 1286.3h0M1405.3 1300.2h0M1526.9 1317.1h0M1478.2 1294.8h0M1347.5 1296.3h0M1394.9 1298.7h0M1458.6 1299.2h0M1482.9 1311.4h0M1330.1 1399.5h0M1296.6 1301.4h0M1441.2 1393h0M1195.9 1441.2h0M1389.1 1309.9h0M1184.3 1285.4h0M1415.8 1303.4h0M1199.3 1434.9h0M1521.1 1448.2h0M1384.5 1409.3h0M1464.4 1425.2h0M1278 1430.3h0M1229.4 1293.6h0M1421.5 1298.2h0M1430.8 1398.8h0M1204 1454.3h0M1201.7 1311.6h0M1384.5 1287h0M1385.7 1404.7h0M1552.3 1457h0M1177.3 1442.3h0M1448.2 1303.3h0M1246.8 1289.9h0M1428.5 1313.4h0M1274.6 1303.1h0M1341.7 1298.3h0M1327.8 1401.8h0M1339.4 1298.9h0M1366 1290.5h0M1529.2 1320.7h0M1508.3 1299.1h0M1268.8 1425.3h0M1367.1 1303.3h0M1242.2 1303.9h0M1161.1 1327.5h0M1202.8 1320.2h0M1265.3 1428.2h0M1280.3 1415.9h0M1208.6 1289.5h0M1437.7 1401.4h0M1481.7 1413.8h0M1176.2 1316.6h0M1453.9 1408.7h0M1313.9 1289.9h0M1480.6 1423h0M1429.6 1310.8h0M1327.8 1286h0M1484 1324h0M1551.2 1326.4h0M1486.3 1312.9h0M1513 1429.6h0M1366 1386.9h0M1157.7 1319.6h0M1545.4 1319.6h0M1514.1 1304.8h0M1195.9 1290.1h0M1400.7 1314.8h0M1308.1 1415.1h0M1509.5 1297.7h0M1499.1 1293.8h0M1221.3 1275.5h0M1408.8 1398.5h0M1191.2 1470.7h0M1170.4 1325.9h0M1381 1402.2h0M1318.5 1404.6h0M1434.3 1402.6h0M1377.6 1392h0M1470.1 1417.3h0M1247.9 1435.4h0M1438.9 1407.7h0M1318.5 1303.4h0M1194.7 1310.4h0M1265.3 1310.8h0M1488.7 1302.9h0M1184.3 1444.6h0M1143.8 1329.1h0M1460.9 1303.2h0M1298.9 1391.6h0M1289.6 1304.8h0M1414.6 1298.6h0M1279.2 1292.9h0M1164.6 1321.6h0M1536.1 1307.8h0M1522.2 1447.4h0M1266.5 1300.1h0M1138 1320.2h0M1153 1451.4h0M1382.2 1409.6h0M1322 1390.9h0M1325.5 1405.9h0M1486.3 1437.4h0M1154.2 1454.7h0M1272.2 1413.6h0M1232.9 1296.3h0M1383.3 1412.3h0M1156.5 1466.3h0M1235.2 1450.1h0M1517.6 1440.4h0M1403 1290.5h0M1244.5 1446.4h0M1239.8 1288.6h0M1473.6 1298.2h0M1200.5 1299h0M1246.8 1427.2h0M1370.6 1394.8h0M1259.5 1278.4h0M1504.9 1306.4h0M1258.4 1289.4h0M1194.7 1453.3h0M1449.3 1392.7h0M1185.5 1460.2h0M1222.5 1433.9h0M1326.6 1399.7h0M1348.6 1396.7h0M1206.3 1310.4h0M1183.1 1294.7h0M1404.2 1291.6h0M1231.7 1294.4h0M1418.1 1321.1h0M1518.8 1310.1h0M1418.1 1408.2h0M1296.6 1414.2h0M1352.1 1305h0M1511.8 1428.6h0M1311.6 1439.3h0M1198.2 1439.2h0M1445.8 1416.2h0M1423.9 1282h0M1539.6 1308.7h0M1162.3 1458.7h0M1426.2 1301.3h0M1499.1 1431.3h0M1188.9 1295.2h0M1163.5 1309.9h0M1166.9 1324.8h0M1432 1385.7h0M1535 1466.9h0M1397.2 1377.1h0M1337.1 1280.4h0M1213.2 1285.5h0M1550 1333.3h0M1192.4 1297.1h0M1315.1 1406.9h0M1350.9 1310.6h0M1466.7 1305.2h0M1385.7 1298.1h0M1303.5 1407.2h0M1369.5 1284.7h0M1440.1 1393.8h0M1208.6 1449.3h0M1295.4 1305h0M1356.7 1401.5h0M1346.3 1307.2h0M1346.3 1412.4h0M1207.4 1309.6h0M1155.4 1457h0M1325.5 1305.5h0M1139.2 1461h0M1149.6 1464.1h0M1432 1299.6h0M1237.5 1288.2h0M1223.6 1436.9h0M1532.6 1333.5h0M1139.2 1316.1h0M1495.6 1422.2h0M1451.6 1303.4h0M1279.2 1410.6h0M1496.8 1417.6h0M1503.7 1301.5h0M1171.6 1311.8h0" stroke="#FA6014" stroke-width="7.2" stroke-linecap="round" fill="none"/>
<path d="M1450.5 1308.2h0M1420.4 1396.2h0M1291.9 1321.8h0M1369.5 1297.1h0M1491 1479.1h0M1519.9 1341.4h0M1334.7 1423.5h0M1356.7 1299.5h0M1175 1339.8h0M1462 1429.3h0M1420.4 1312.1h0M1524.5 1466.9h0M1305.8 1318.8h0M1278 1458.4h0M1480.6 1437.2h0M1495.6 1341.9h0M1276.9 1320.3h0M1541.9 1341.5h0M1495.6 1443.9h0M1455.1 1420.5h0M1477.1 1318.5h0M1198.2 1326h0M1288.5 1342.1h0M1370.6 1426.2h0M1368.3 1418.2h0M1244.5 1331h0M1522.2 1336.7h0M1346.3 1410.1h0M1131.1 1351.6h0M1163.5 1430.6h0M1421.5 1299.7h0M1251.4 1340.7h0M1235.2 1335.3h0M1405.3 1322.5h0M1143.8 1487.8h0M1440.1 1303.6h0M1206.3 1486.3h0M1205.1 1474.5h0M1307 1426.6h0M1192.4 1367h0M1320.9 1306.9h0M1183.1 1346.3h0M1144.9 1480.9h0M1399.6 1306.3h0M1235.2 1478.4h0M1335.9 1315.5h0M1275.7 1331.3h0M1444.7 1280.9h0M1293.1 1330.2h0M1238.7 1313.4h0M1297.7 1334.5h0M1265.3 1330.9h0M1221.3 1494.6h0M1170.4 1348.6h0M1536.1 1375.6h0M1246.8 1469.4h0M1418.1 1410.1h0M1142.6 1492.4h0M1307 1310.2h0M1488.7 1316h0M1375.2 1309.9h0M1173.9 1504.4h0M1469 1315.3h0M1316.2 1309.3h0M1377.6 1311.6h0M1481.7 1345.1h0M1228.3 1456.4h0M1259.5 1454.2h0M1244.5 1452.2h0M1332.4 1422.8h0M1478.2 1314.3h0M1459.7 1444.7h0M1458.6 1430.2h0M1219 1344.9h0M1320.9 1437.8h0M1452.8 1415h0M1158.8 1366.7h0M1459.7 1296.6h0M1191.2 1356.6h0M1352.1 1305.3h0M1261.8 1446.9h0M1398.4 1414.6h0M1427.3 1311.1h0M1150.7 1567.4h0M1146.1 1369.7h0M1201.7 1553.5h0M1246.8 1326.2h0M1531.5 1458.8h0M1489.8 1305.9h0M1438.9 1423h0M1222.5 1324.9h0M1149.6 1371.6h0M1271.1 1301.8h0M1375.2 1429.1h0M1432 1418.5h0M1333.6 1308.1h0M1425 1433.2h0M1544.2 1350.9h0M1452.8 1308.1h0M1509.5 1440.2h0M1384.5 1293h0M1523.4 1337.6h0M1353.3 1405.7h0M1442.4 1422.6h0M1209.8 1329.2h0M1227.1 1504.5h0M1236.4 1476.9h0M1237.5 1470.3h0M1160 1534.3h0M1532.6 1364.9h0M1140.3 1468.2h0M1160 1346.5h0M1186.6 1524.8h0M1492.1 1442h0M1485.2 1433.9h0M1381 1314.6h0M1407.7 1309.6h0M1388 1407.3h0M1551.2 1459.7h0M1383.3 1427.4h0M1198.2 1490.9h0M1190.1 1488h0M1161.1 1493h0M1410 1302.8h0M1274.6 1515.6h0M1540.7 1342.5h0M1182 1357h0M1503.7 1464.2h0M1433.1 1413.5h0M1418.1 1288.3h0M1256 1329.2h0M1536.1 1483.2h0M1540.7 1478.9h0M1324.3 1421.8h0M1502.6 1308.5h0M1464.4 1310.2h0M1172.7 1350.4h0M1394.9 1436.8h0M1509.5 1366h0M1487.5 1438.7h0M1460.9 1310.3h0M1237.5 1338.3h0M1541.9 1520.3h0M1532.6 1484.3h0M1139.2 1495.6h0M1180.8 1386.3h0M1164.6 1484h0M1232.9 1342.6h0M1185.5 1333h0M1294.2 1438.5h0M1437.7 1431.2h0M1141.5 1383.1h0M1350.9 1302.3h0M1202.8 1490.2h0M1228.3 1339.4h0M1318.5 1439.2h0M1357.9 1406.1h0M1436.6 1417.6h0M1391.4 1325h0M1437.7 1309.5h0M1374.1 1307.1h0M1151.9 1368.5h0M1229.4 1446.7h0M1416.9 1407.2h0M1296.6 1445.1h0M1408.8 1303.1h0M1217.9 1361.2h0M1347.5 1413.2h0M1464.4 1417.2h0M1453.9 1298h0M1231.7 1320h0M1364.8 1447.8h0M1414.6 1411.6h0M1269.9 1306.4h0M1157.7 1376.1h0M1416.9 1283.6h0M1346.3 1312.3h0M1428.5 1303.5h0M1493.3 1434.9h0M1472.5 1319.8h0M1329 1427.4h0M1178.5 1317.1h0M1401.9 1405.8h0M1309.3 1427.7h0M1194.7 1486.8h0M1443.5 1421.9h0M1456.3 1307.1h0M1360.2 1299.5h0M1342.8 1311.5h0M1254.9 1445.2h0M1470.1 1431.3h0M1172.7 1511.2h0M1441.2 1407.1h0M1394.9 1300.6h0M1467.8 1417.1h0M1413.4 1291.9h0M1178.5 1528.2h0M1463.2 1299.2h0M1388 1307.4h0M1296.6 1322.1h0M1319.7 1436.6h0M1273.4 1303.8h0M1514.1 1333.5h0M1149.6 1510.6h0M1404.2 1311.4h0M1191.2 1464.9h0M1272.2 1502.7h0M1286.1 1442.3h0M1460.9 1443h0M1474.8 1438.5h0M1370.6 1297.4h0M1150.7 1361.3h0M1301.2 1308.5h0M1533.8 1490.3h0M1551.2 1554.2h0M1323.2 1419.5h0M1367.1 1417.2h0M1153 1345.1h0M1385.7 1419.5h0M1204 1330.2h0M1158.8 1517.2h0M1197 1343.4h0M1531.5 1346.5h0M1287.3 1334.8h0M1401.9 1304.3h0M1522.2 1491h0M1260.7 1338.2h0M1289.6 1333.1h0M1500.2 1453h0M1472.5 1443.3h0M1445.8 1412.4h0M1295.4 1321.9h0M1184.3 1510.5h0M1344 1298.2h0M1133.4 1346.2h0M1133.4 1484.5h0M1250.3 1311.5h0M1280.3 1331.6h0M1481.7 1425.8h0M1508.3 1347.6h0M1293.1 1458.3h0M1376.4 1314.7h0M1342.8 1435.1h0M1283.8 1307.4h0" stroke="#0F7DC2" stroke-width="7.2" stroke-linecap="round" fill="none"/>
<path d="M1410 1285.5h0M1508.3 1429.6h0M1371.8 1284.3h0M1510.7 1436.2h0M1249.1 1302.3h0M1149.6 1325.7h0M1515.3 1435h0M1172.7 1452.2h0M1160 1309.9h0M1531.5 1458h0M1180.8 1307.5h0M1463.2 1418.5h0M1142.6 1447.9h0M1436.6 1300.3h0M1317.4 1402h0M1360.2 1393.9h0M1500.2 1297h0M1286.1 1289.4h0M1447 1321.3h0M1428.5 1390.6h0M1440.1 1290.1h0M1361.4 1389.5h0M1369.5 1389h0M1469 1422h0M1281.5 1299.7h0M1230.6 1294.6h0M1287.3 1431.5h0M1406.5 1296.5h0M1441.2 1304.2h0M1393.8 1305.5h0M1516.4 1316.9h0M1421.5 1402.3h0M1506 1431.8h0M1450.5 1308.4h0M1379.9 1289.7h0M1297.7 1305.1h0M1372.9 1405.1h0M1222.5 1275h0M1390.3 1392.2h0M1546.5 1313.5h0M1407.7 1299.9h0M1142.6 1307.7h0M1232.9 1443h0M1396.1 1295h0M1386.8 1397.6h0M1283.8 1410h0M1482.9 1428.6h0M1202.8 1438.9h0M1374.1 1305.7h0M1140.3 1320.3h0M1507.2 1433.6h0M1147.3 1466.7h0M1332.4 1301.7h0M1427.3 1311.6h0M1502.6 1421.5h0M1401.9 1313.6h0M1253.7 1434.4h0M1367.1 1378.4h0M1491 1404.6h0M1276.9 1440.2h0M1543.1 1327.9h0M1182 1447.2h0M1162.3 1320.9h0M1272.2 1293.9h0M1455.1 1412.1h0M1282.7 1400.7h0M1212.1 1442.4h0M1308.1 1301.9h0M1545.4 1463.8h0M1333.6 1300.4h0M1288.5 1310.6h0M1517.6 1322.5h0M1466.7 1432.3h0M1228.3 1301.8h0M1293.1 1431h0M1234.1 1277.7h0M1536.1 1455.7h0M1337.1 1404.3h0M1509.5 1423.4h0M1273.4 1301.8h0M1539.6 1461.8h0M1348.6 1294.4h0M1135.7 1461.7h0M1201.7 1438.3h0M1320.9 1307h0M1339.4 1402.7h0M1193.6 1466.7h0M1290.8 1442.3h0M1501.4 1303.4h0M1359 1397.1h0M1209.8 1292.1h0M1500.2 1436.2h0M1375.2 1309.6h0M1335.9 1396.3h0M1264.1 1436.7h0M1496.8 1287.9h0M1544.2 1326.2h0M1487.5 1318h0M1433.1 1396.9h0M1239.8 1437.5h0M1438.9 1291.9h0M1226 1317.6h0M1532.6 1465.5h0M1266.5 1425.3h0M1150.7 1466.3h0M1305.8 1288.6h0M1319.7 1310.1h0M1381 1299.5h0M1510.7 1305.6h0M1463.2 1290.4h0M1334.7 1303.2h0M1502.6 1297.5h0M1552.3 1307.9h0M1342.8 1289.4h0M1243.3 1429.6h0M1334.7 1396.5h0M1437.7 1294.7h0M1497.9 1298.5h0M1477.1 1310.3h0M1488.7 1412.6h0M1252.6 1286.8h0M1274.6 1438.9h0M1485.2 1429.2h0M1151.9 1337.1h0M1478.2 1417.5h0M1223.6 1289.5h0M1467.8 1429.3h0M1191.2 1307.7h0M1217.9 1440.2h0M1354.4 1404.6h0M1169.2 1454.8h0M1287.3 1311.2h0M1183.1 1437.2h0M1415.8 1396.6h0M1443.5 1388.4h0M1160 1451.9h0M1350.9 1394.4h0M1309.3 1305.4h0M1212.1 1293.5h0M1538.4 1300.1h0M1361.4 1312.6h0M1304.7 1299h0M1252.6 1421.3h0M1470.1 1303h0M1372.9 1294.2h0M1260.7 1280.4h0M1368.3 1375.9h0M1309.3 1423.3h0M1396.1 1391.3h0M1543.1 1446.2h0M1146.1 1461.3h0M1216.7 1445h0M1210.9 1286.5h0M1422.7 1404.2h0M1411.1 1302.2h0M1376.4 1302.5h0M1132.2 1480.4h0M1448.2 1394.7h0M1359 1314.9h0M1371.8 1390.8h0M1515.3 1310.3h0M1465.5 1412.9h0M1271.1 1412h0M1257.2 1288.4h0M1462 1417.7h0M1219 1301.7h0M1310.4 1292.9h0M1443.5 1302.4h0M1537.3 1304.7h0M1169.2 1327.4h0M1435.4 1298.1h0M1467.8 1310.8h0M1464.4 1302.3h0M1267.6 1429.3h0M1453.9 1293.8h0M1256 1425.2h0M1310.4 1430.9h0M1158.8 1325.7h0M1312.8 1277.9h0M1200.5 1429.4h0M1143.8 1450.9h0M1302.3 1402.9h0M1179.7 1453.7h0M1533.8 1318.4h0M1132.2 1331.6h0M1221.3 1436.4h0M1301.2 1307.6h0M1261.8 1292.8h0M1425 1390.7h0M1263 1292.9h0M1324.3 1294.1h0M1311.6 1277h0M1185.5 1310.1h0M1170.4 1442.8h0M1268.8 1312.5h0M1267.6 1302.7h0M1217.9 1285.7h0M1386.8 1312.6h0M1420.4 1306.5h0M1408.8 1286.7h0M1263 1435.4h0M1313.9 1409.6h0M1475.9 1311.2h0M1457.4 1403.6h0M1305.8 1401.7h0M1316.2 1400.9h0M1349.8 1399.5h0M1315.1 1298.2h0M1176.2 1450.6h0M1236.4 1293.2h0M1271.1 1294.8h0M1504.9 1419h0M1523.4 1461.7h0M1175 1451.8h0M1456.3 1304.7h0M1526.9 1452.2h0M1513 1303.4h0M1400.7 1421.2h0M1511.8 1298.8h0M1492.1 1410.3h0M1475.9 1422.2h0M1452.8 1386.4h0M1416.9 1315.5h0M1136.8 1465.2h0M1250.3 1428h0M1331.3 1402.6h0M1398.4 1388h0M1388 1308h0M1426.2 1395.6h0M1383.3 1277.8h0M1404.2 1397.5h0M1449.3 1309.3h0M1213.2 1450h0M1493.3 1281.7h0M1332.4 1401.2h0M1260.7 1416.7h0M1216.7 1290h0M1485.2 1304.6h0M1316.2 1313.1h0M1363.7 1379.9h0M1547.7 1468.7h0M1323.2 1317.1h0M1521.1 1314.1h0" stroke="#FA6014" stroke-width="7.2" stroke-linecap="round" fill="none"/>
<path d="M1179.7 1355.4h0M1389.1 1299.3h0M1415.8 1416.6h0M1136.8 1342.4h0M1264.1 1496.4h0M1290.8 1378.9h0M1247.9 1482h0M1427.3 1429.3h0M1327.8 1299.4h0M1397.2 1292.7h0M1428.5 1429.8h0M1310.4 1296h0M1545.4 1491.6h0M1219 1490.2h0M1165.8 1508.7h0M1550 1479.6h0M1298.9 1437.5h0M1511.8 1509h0M1519.9 1466.9h0M1435.4 1308h0M1274.6 1304.6h0M1462 1302.7h0M1276.9 1427.9h0M1399.6 1423.7h0M1264.1 1326.6h0M1151.9 1511.1h0M1300 1443h0M1546.5 1358.6h0M1136.8 1487.5h0M1517.6 1350.5h0M1441.2 1302.6h0M1447 1404.8h0M1200.5 1353.7h0M1247.9 1303.7h0M1411.1 1305.4h0M1379.9 1310h0M1340.5 1416h0M1552.3 1368.3h0M1355.6 1298.7h0M1305.8 1434.7h0M1516.4 1326.5h0M1384.5 1413.3h0M1341.7 1303.2h0M1451.6 1409.2h0M1326.6 1295.8h0M1501.4 1302.9h0M1146.1 1577h0M1467.8 1311.2h0M1423.9 1423.2h0M1253.7 1458.8h0M1368.3 1299h0M1552.3 1504.8h0M1426.2 1317.1h0M1455.1 1339h0M1480.6 1323.2h0M1185.5 1506.1h0M1285 1314.5h0M1322 1309.6h0M1215.5 1344.6h0M1139.2 1344h0M1510.7 1320.5h0M1188.9 1368.9h0M1177.3 1371.4h0M1295.4 1435.1h0M1338.2 1309.6h0M1161.1 1350.5h0M1364.8 1293.5h0M1131.1 1482.4h0M1497.9 1438.7h0M1193.6 1518.2h0M1372.9 1411h0M1183.1 1488.9h0M1386.8 1411h0M1537.3 1360.7h0M1406.5 1392.9h0M1538.4 1356.4h0M1391.4 1413.3h0M1466.7 1305.5h0M1308.1 1418.4h0M1352.1 1412.5h0M1485.2 1331.2h0M1258.4 1441.2h0M1331.3 1298.4h0M1514.1 1459.4h0M1529.2 1351.5h0M1302.3 1441.9h0M1229.4 1328.1h0M1171.6 1522.5h0M1546.5 1466.7h0M1347.5 1306.3h0M1134.5 1504.6h0M1312.8 1293.4h0M1309.3 1301.7h0M1207.4 1316.1h0M1317.4 1311.4h0M1304.7 1309.9h0M1194.7 1332.7h0M1143.8 1383.9h0M1482.9 1341.9h0M1238.7 1472.8h0M1403 1304.7h0M1245.6 1328.1h0M1496.8 1440.4h0M1396.1 1416.9h0M1345.2 1316.7h0M1138 1462.9h0M1382.2 1418.6h0M1449.3 1413.4h0M1469 1436.1h0M1200.5 1483h0M1282.7 1315.2h0M1344 1431.2h0M1226 1476.6h0M1430.8 1429.3h0M1257.2 1450.4h0M1192.4 1477.5h0M1477.1 1452.5h0M1539.6 1333.4h0M1433.1 1300.5h0M1371.8 1430.5h0M1282.7 1459h0M1544.2 1497.3h0M1489.8 1517.6h0M1319.7 1313.9h0M1445.8 1296.5h0M1425 1305.4h0M1385.7 1306.4h0M1202.8 1317.9h0M1376.4 1415.5h0M1260.7 1443.3h0M1220.2 1362.8h0M1210.9 1481.3h0M1331.3 1424.4h0M1350.9 1417.3h0M1322 1420.6h0M1298.9 1327.2h0M1392.6 1303h0M1281.5 1445.6h0M1201.7 1335.9h0M1188.9 1497.8h0M1434.3 1296.1h0M1475.9 1309.7h0M1216.7 1473.8h0M1268.8 1455.5h0M1456.3 1413.2h0M1184.3 1355.8h0M1530.3 1471h0M1290.8 1437.9h0M1329 1304.2h0M1502.6 1455.4h0M1220.2 1486.9h0M1224.8 1473.8h0M1529.2 1483.2h0M1190.1 1343.6h0M1301.2 1429.2h0M1279.2 1334.4h0M1528 1351.5h0M1429.6 1302h0M1170.4 1550.9h0M1271.1 1466.6h0M1355.6 1398.9h0M1337.1 1310.8h0M1313.9 1434.6h0M1449.3 1304.8h0M1434.3 1402.3h0M1548.8 1472.6h0M1400.7 1310.9h0M1199.3 1341h0M1547.7 1349.7h0M1308.1 1303.6h0M1269.9 1454.1h0M1513 1339.1h0M1353.3 1305.5h0M1135.7 1490.1h0M1138 1389.1h0M1383.3 1303.2h0M1507.2 1472.3h0M1316.2 1420.7h0M1327.8 1426h0M1223.6 1514.5h0M1168.1 1362.9h0M1330.1 1417.6h0M1339.4 1418.3h0M1390.3 1396.5h0M1407.7 1392.6h0M1259.5 1318h0M1465.5 1403.9h0M1302.3 1325.1h0M1250.3 1479.5h0M1303.5 1327.7h0M1339.4 1308.6h0M1360.2 1416.7h0M1450.5 1414.3h0M1164.6 1393.2h0M1265.3 1475.8h0M1398.4 1295.3h0M1212.1 1303.5h0M1313.9 1307.2h0M1281.5 1326.6h0M1479.4 1314.1h0M1239.8 1470h0M1153 1504.9h0M1252.6 1317.7h0M1187.8 1554.2h0M1361.4 1297.8h0M1551.2 1360.9h0M1471.3 1440.9h0M1466.7 1448.8h0M1234.1 1354.2h0M1278 1338.7h0M1234.1 1477.8h0M1195.9 1472.2h0M1545.4 1373h0M1457.4 1309.8h0M1251.4 1450.2h0M1538.4 1497.5h0M1179.7 1504.9h0M1533.8 1370.8h0M1511.8 1340.4h0M1324.3 1293.3h0M1518.8 1450h0M1475.9 1514.1h0M1486.3 1423.4h0M1406.5 1323.6h0M1207.4 1455h0M1132.2 1359.1h0M1173.9 1341.6h0M1374.1 1424.6h0M1227.1 1325.4h0M1501.4 1451.6h0M1504.9 1467.4h0M1132.2 1530.2h0M1435.4 1416.9h0M1162.3 1508.4h0M1444.7 1427.2h0M1286.1 1305.7h0M1550 1374.6h0M1177.3 1531.2h0M1438.9 1305.6h0M1521.1 1488.5h0M1443.5 1295h0M1208.6 1485.8h0M1205.1 1311.9h0M1471.3 1331.7h0" stroke="#0F7DC2" stroke-width="7.2" stroke-linecap="round" fill="none"/>
<path d="M1133.4 1470.3h0M1407.7 1391.9h0M1420.4 1410.9h0M1524.5 1450.1h0M1340.5 1415.1h0M1362.5 1381.2h0M1377.6 1301.5h0M1465.5 1287h0M1345.2 1294.1h0M1413.4 1396.8h0M1535 1322.4h0M1541.9 1449.3h0M1459.7 1297.6h0M1430.8 1301.8h0M1291.9 1293.3h0M1190.1 1318.5h0M1219 1453.7h0M1144.9 1462.3h0M1427.3 1396.5h0M1165.8 1321.8h0M1140.3 1459.2h0M1168.1 1313.9h0M1460.9 1409.7h0M1447 1416.3h0M1141.5 1447.9h0M1540.7 1328.7h0M1241 1296.6h0M1481.7 1309h0M1134.5 1345.6h0M1518.8 1446.9h0M1207.4 1458.7h0M1285 1416.7h0M1210.9 1440.1h0M1204 1319.3h0M1507.2 1306.9h0M1462 1289.9h0M1530.3 1446.2h0M1344 1300.8h0M1238.7 1283.6h0M1173.9 1453.5h0M1153 1324.4h0M1338.2 1292.3h0M1192.4 1459.6h0M1179.7 1310.4h0M1434.3 1295.7h0M1341.7 1421.7h0M1281.5 1418h0M1525.7 1438.4h0M1397.2 1314.3h0M1135.7 1342.8h0M1199.3 1295.5h0M1134.5 1468.1h0M1297.7 1399.9h0M1355.6 1318.3h0M1146.1 1329.2h0M1214.4 1302h0M1157.7 1469.2h0M1250.3 1300.1h0M1393.8 1392.5h0M1335.9 1291.5h0M1180.8 1438.1h0M1414.6 1396.8h0M1411.1 1392.3h0M1368.3 1307.7h0M1230.6 1438.6h0M1391.4 1305.5h0M1307 1304.6h0M1333.6 1396.5h0M1537.3 1460.9h0M1259.5 1415.1h0M1280.3 1303.9h0M1401.9 1405.8h0M1247.9 1298.5h0M1172.7 1312.7h0M1190.1 1461.3h0M1154.2 1314.6h0M1324.3 1378.3h0M1538.4 1462.8h0M1378.7 1300.6h0M1193.6 1317.9h0M1319.7 1388.8h0M1165.8 1459.2h0M1235.2 1296.2h0M1394.9 1385.4h0M1206.3 1457.8h0M1151.9 1459.1h0M1220.2 1291.8h0M1286.1 1439.1h0M1226 1439.8h0M1479.4 1291.9h0M1245.6 1286.6h0M1528 1327.8h0M1253.7 1294.6h0M1423.9 1395.7h0M1442.4 1393.7h0M1524.5 1295.3h0M1469 1305.4h0M1382.2 1299.3h0M1480.6 1307.3h0M1492.1 1292.8h0M1354.4 1302.7h0M1209.8 1438.4h0M1237.5 1438.2h0M1156.5 1334.1h0M1347.5 1409.2h0M1245.6 1454.3h0M1282.7 1296.2h0M1360.2 1300h0M1344 1402.9h0M1363.7 1323.7h0M1304.7 1413.1h0M1390.3 1302.9h0M1471.3 1423.8h0M1131.1 1478.9h0M1171.6 1447.1h0M1186.6 1309.4h0M1353.3 1313.2h0M1148.4 1317.4h0M1405.3 1398h0M1379.9 1381.4h0M1459.7 1403.5h0M1455.1 1291.8h0M1352.1 1405.1h0M1364.8 1299.3h0M1489.8 1286.3h0M1168.1 1450.4h0M1474.8 1306.5h0M1451.6 1410.4h0M1158.8 1453.9h0M1187.8 1306.5h0M1514.1 1437.8h0M1503.7 1432.2h0M1254.9 1289.2h0M1133.4 1339.8h0M1290.8 1281.1h0M1416.9 1412.6h0M1182 1312.6h0M1472.5 1293.7h0M1251.4 1423h0M1530.3 1325.1h0M1519.9 1450.1h0M1148.4 1462.8h0M1399.6 1400.4h0M1295.4 1412h0M1525.7 1320h0M1294.2 1429.4h0M1477.1 1430.5h0M1391.4 1398.8h0M1403 1402.1h0M1338.2 1403.8h0M1275.7 1295.1h0M1205.1 1449.7h0M1473.6 1417.4h0M1450.5 1407.3h0M1312.8 1415.5h0M1406.5 1386.4h0M1364.8 1379.5h0M1412.3 1279.7h0M1283.8 1305.3h0M1472.5 1411.1h0M1136.8 1331.3h0M1413.4 1292.3h0M1261.8 1425.1h0M1342.8 1415.2h0M1456.3 1404.9h0M1398.4 1318.1h0M1273.4 1435.3h0M1548.8 1327.4h0M1345.2 1414.2h0M1376.4 1391.6h0M1412.3 1400.2h0M1374.1 1406.8h0M1144.9 1321.1h0M1275.7 1434.3h0M1215.5 1457h0M1323.2 1384.2h0M1197 1301.7h0M1258.4 1419.4h0M1243.3 1301.2h0M1357.9 1317.3h0M1501.4 1437.4h0M1178.5 1450.7h0M1331.3 1308.5h0M1528 1446.4h0M1378.7 1389.4h0M1419.2 1310.6h0M1356.7 1313.9h0M1340.5 1301h0M1548.8 1473h0M1494.4 1277.6h0M1516.4 1443.5h0M1392.6 1307.3h0M1300 1318.2h0M1251.4 1288.9h0M1257.2 1444.6h0M1436.6 1395.5h0M1198.2 1305.9h0M1186.6 1441h0M1493.3 1418.3h0M1357.9 1383.8h0M1547.7 1325.8h0M1175 1297.1h0M1178.5 1336.1h0M1546.5 1469.9h0M1540.7 1467.3h0M1445.8 1315.7h0M1224.8 1437h0M1227.1 1306.9h0M1197 1435.9h0M1141.5 1329.6h0M1479.4 1428.9h0M1487.5 1424.7h0M1289.6 1444.3h0M1276.9 1286.4h0M1425 1282.7h0M1457.4 1322.9h0M1444.7 1405.5h0M1220.2 1446.6h0M1234.1 1453.9h0M1300 1398.7h0M1301.2 1400.5h0M1150.7 1315.8h0M1147.3 1320.6h0M1419.2 1406.5h0M1320.9 1394.5h0M1355.6 1417h0M1298.9 1314.7h0M1349.8 1292h0M1497.9 1420.7h0M1242.2 1432.7h0M1229.4 1438.4h0M1353.3 1398.1h0M1429.6 1395.6h0M1494.4 1421.2h0M1303.5 1300.2h0M1531.5 1326.6h0M1254.9 1421.6h0M1293.1 1288.2h0M1164.6 1462.5h0M1442.4 1308.4h0M1205.1 1303.3h0M1256 1298.3h0M1177.3 1328.5h0M1241 1430.4h0" stroke="#FA6014" stroke-width="7.2" stroke-linecap="round" fill="none"/>
<defs><path id="L22omax" d="M1131.1 1334.8 L1140.4 1331.7 L1149.8 1328.7 L1159.1 1325.7 L1168.5 1322.8 L1177.9 1320.1 L1187.2 1317.5 L1196.6 1315.1 L1205.9 1312.9 L1215.3 1310.9 L1224.7 1309.1 L1234.0 1307.4 L1243.4 1306.0 L1252.8 1304.7 L1262.1 1303.5 L1271.5 1302.5 L1280.8 1301.6 L1290.2 1300.8 L1299.6 1300.2 L1308.9 1299.5 L1318.3 1299.0 L1327.6 1298.5 L1337.0 1298.1 L1346.4 1297.8 L1355.7 1297.5 L1365.1 1297.2 L1374.5 1297.1 L1383.8 1297.0 L1393.2 1296.9 L1402.5 1297.0 L1411.9 1297.1 L1421.3 1297.4 L1430.6 1297.7 L1440.0 1298.2 L1449.3 1298.9 L1458.7 1299.8 L1468.1 1300.9 L1477.4 1302.4 L1486.8 1304.1 L1496.1 1306.2 L1505.5 1308.5 L1514.9 1311.1 L1524.2 1313.9 L1533.6 1317.0 L1543.0 1320.1 L1552.3 1323.4"/></defs>
<use href="#L22omax" stroke="#FA6014" stroke-opacity="0.35" stroke-width="8" fill="none" stroke-linejoin="round"/>
<use href="#L22omax" stroke="#FA6014" stroke-width="4.3" fill="none" stroke-linejoin="round"/>
<defs><path id="L22omin" d="M1131.1 1475.2 L1140.4 1472.7 L1149.8 1470.2 L1159.1 1467.5 L1168.5 1464.6 L1177.9 1461.4 L1187.2 1457.8 L1196.6 1453.8 L1205.9 1449.5 L1215.3 1444.9 L1224.7 1440.4 L1234.0 1435.9 L1243.4 1431.6 L1252.8 1427.7 L1262.1 1424.1 L1271.5 1420.9 L1280.8 1417.9 L1290.2 1415.2 L1299.6 1412.7 L1308.9 1410.4 L1318.3 1408.3 L1327.6 1406.4 L1337.0 1404.7 L1346.4 1403.2 L1355.7 1401.9 L1365.1 1400.9 L1374.5 1400.2 L1383.8 1399.8 L1393.2 1399.7 L1402.5 1399.9 L1411.9 1400.5 L1421.3 1401.5 L1430.6 1402.9 L1440.0 1404.8 L1449.3 1407.2 L1458.7 1410.2 L1468.1 1413.7 L1477.4 1417.9 L1486.8 1422.8 L1496.1 1428.3 L1505.5 1434.3 L1514.9 1440.8 L1524.2 1447.8 L1533.6 1455.0 L1543.0 1462.6 L1552.3 1470.2"/></defs>
<use href="#L22omin" stroke="#FA6014" stroke-opacity="0.35" stroke-width="8" fill="none" stroke-linejoin="round"/>
<use href="#L22omin" stroke="#FA6014" stroke-width="4.3" fill="none" stroke-linejoin="round"/>
<defs><path id="L22bmax" d="M1131.1 1364.5 L1140.4 1361.6 L1149.8 1358.7 L1159.1 1355.8 L1168.5 1352.8 L1177.9 1349.8 L1187.2 1346.7 L1196.6 1343.6 L1205.9 1340.5 L1215.3 1337.3 L1224.7 1334.2 L1234.0 1331.0 L1243.4 1328.0 L1252.8 1325.0 L1262.1 1322.1 L1271.5 1319.3 L1280.8 1316.7 L1290.2 1314.4 L1299.6 1312.2 L1308.9 1310.3 L1318.3 1308.7 L1327.6 1307.4 L1337.0 1306.3 L1346.4 1305.4 L1355.7 1304.7 L1365.1 1304.3 L1374.5 1304.1 L1383.8 1304.0 L1393.2 1304.1 L1402.5 1304.4 L1411.9 1304.9 L1421.3 1305.6 L1430.6 1306.4 L1440.0 1307.5 L1449.3 1309.1 L1458.7 1311.1 L1468.1 1313.6 L1477.4 1316.9 L1486.8 1320.9 L1496.1 1325.6 L1505.5 1330.9 L1514.9 1336.7 L1524.2 1343.1 L1533.6 1349.8 L1543.0 1356.8 L1552.3 1364.0"/></defs>
<use href="#L22bmax" stroke="#0F7DC2" stroke-opacity="0.35" stroke-width="8" fill="none" stroke-linejoin="round"/>
<use href="#L22bmax" stroke="#0F7DC2" stroke-width="4.3" fill="none" stroke-linejoin="round"/>
<defs><path id="L22bmin" d="M1131.1 1509.1 L1140.4 1506.9 L1149.8 1504.7 L1159.1 1502.3 L1168.5 1499.7 L1177.9 1496.8 L1187.2 1493.5 L1196.6 1489.8 L1205.9 1485.7 L1215.3 1481.4 L1224.7 1476.8 L1234.0 1472.0 L1243.4 1467.1 L1252.8 1462.3 L1262.1 1457.4 L1271.5 1452.6 L1280.8 1448.0 L1290.2 1443.5 L1299.6 1439.2 L1308.9 1435.2 L1318.3 1431.5 L1327.6 1428.1 L1337.0 1425.1 L1346.4 1422.4 L1355.7 1420.1 L1365.1 1418.2 L1374.5 1416.8 L1383.8 1415.7 L1393.2 1415.2 L1402.5 1415.3 L1411.9 1415.8 L1421.3 1417.0 L1430.6 1418.8 L1440.0 1421.3 L1449.3 1424.4 L1458.7 1428.1 L1468.1 1432.5 L1477.4 1437.6 L1486.8 1443.4 L1496.1 1449.9 L1505.5 1457.2 L1514.9 1465.2 L1524.2 1474.2 L1533.6 1483.9 L1543.0 1494.6 L1552.3 1505.7"/></defs>
<use href="#L22bmin" stroke="#0F7DC2" stroke-opacity="0.35" stroke-width="8" fill="none" stroke-linejoin="round"/>
<use href="#L22bmin" stroke="#0F7DC2" stroke-width="4.3" fill="none" stroke-linejoin="round"/>
<rect x="1600.3" y="1232.1" width="462.6" height="472.8" fill="#fff" stroke="#ADADAD" stroke-width="2.2"/>
<g stroke="#fff"><path d="M1619.2 1231.0V1706.0" stroke-width="5.8"/><path d="M1677.1 1231.0V1706.0" stroke-width="2.9"/><path d="M1734.9 1231.0V1706.0" stroke-width="5.8"/><path d="M1792.8 1231.0V1706.0" stroke-width="2.9"/><path d="M1850.7 1231.0V1706.0" stroke-width="5.8"/><path d="M1908.5 1231.0V1706.0" stroke-width="2.9"/><path d="M1966.4 1231.0V1706.0" stroke-width="5.8"/><path d="M2024.3 1231.0V1706.0" stroke-width="2.9"/><path d="M1599.2 1655.2H2064.0" stroke-width="2.9"/><path d="M1599.2 1588.8H2064.0" stroke-width="5.8"/><path d="M1599.2 1522.3H2064.0" stroke-width="2.9"/><path d="M1599.2 1455.9H2064.0" stroke-width="5.8"/><path d="M1599.2 1389.4H2064.0" stroke-width="2.9"/><path d="M1599.2 1323.0H2064.0" stroke-width="5.8"/><path d="M1599.2 1256.5H2064.0" stroke-width="2.9"/></g>
<path d="M1866.9 1397.5h0M1704.8 1521.7h0M1635.4 1382.5h0M1833.3 1278.8h0M1859.9 1281.8h0M1822.9 1302.7h0M2027.7 1477.4h0M1673.6 1492h0M2033.5 1524h0M1767.3 1317.4h0M1914.3 1298.1h0M1892.3 1279.9h0M2028.9 1373.1h0M1813.6 1411.1h0M1894.6 1298h0M2016.2 1336.7h0M1643.5 1550.5h0M2003.4 1316.2h0M1777.8 1306.5h0M1924.7 1299.7h0M1686.3 1460.2h0M1886.5 1302.6h0M1980.3 1421.4h0M1913.2 1472.6h0M1781.2 1424.6h0M2027.7 1352.8h0M1770.8 1442.2h0M1675.9 1470.4h0M1678.2 1475h0M1766.2 1461.6h0M1966.4 1319.9h0M1950.2 1305h0M1641.2 1548.9h0M1835.6 1405.4h0M1938.6 1409.1h0M2039.3 1484.8h0M1892.3 1407.4h0M2031.2 1459.5h0M1875 1297.8h0M1759.2 1447.4h0M1866.9 1293.2h0M1729.1 1357.5h0M1684 1467.7h0M1958.3 1407.7h0M1932.8 1400.8h0M1848.3 1409h0M1736.1 1462.1h0M1971 1429.6h0M1778.9 1292.1h0M1731.5 1328.9h0M1755.8 1352.3h0M1997.6 1444.2h0M1844.9 1412.2h0M1983.7 1462.4h0M1740.7 1328.7h0M1989.5 1318.7h0M1776.6 1337.5h0M1803.2 1509.6h0M1875 1390.7h0M1995.3 1367h0M1689.8 1486.4h0M1679.4 1467.6h0M1650.4 1487.4h0M1671.3 1489.6h0M1647 1385.1h0M1927 1392.9h0M1960.6 1326.3h0M1797.4 1325h0M1728 1334.4h0M1787 1320.4h0M1903.9 1281.5h0M1622.7 1340.9h0M1636.6 1479.5h0M1984.9 1437.1h0M1751.1 1325.5h0M1700.2 1314.3h0M1717.6 1461.8h0M1783.5 1308.7h0M1799.7 1302.7h0M1725.7 1479.3h0M1954.8 1287.6h0M1949 1322.6h0M1809 1406.1h0M1684 1344.6h0M1946.7 1297.2h0M1769.6 1320.6h0M1682.9 1507.2h0M1660.9 1348.5h0M1821.7 1401.7h0M1952.5 1306.7h0M1807.8 1420.3h0M1674.8 1333.3h0M1820.6 1413.1h0M1976.8 1434.7h0M1699.1 1453.3h0M1802.1 1301.4h0M1712.9 1319.7h0M1716.4 1307.1h0M1929.4 1389.6h0M1915.5 1295.3h0M1704.8 1302.6h0M1975.6 1437.6h0M1870.3 1407.8h0M1743 1358.3h0M1710.6 1465.1h0M1959.4 1429.8h0M1929.4 1294.5h0M1702.5 1482.1h0M1694.4 1448.9h0M1794 1328.8h0M1663.2 1364h0M1769.6 1423.6h0M2028.9 1482.1h0M1974.5 1480.9h0M1943.2 1404.8h0M1846 1403.6h0M1629.6 1373.2h0M1920.1 1411.5h0M1765 1455h0M1748.8 1355.5h0M1888.9 1392.6h0M1790.5 1411h0M1782.4 1308h0M1869.2 1397.7h0M1621.5 1492.3h0M1881.9 1296.6h0M1680.5 1466.2h0M1895.8 1296.5h0M1961.8 1429h0M1623.8 1514.5h0M1880.7 1379.1h0M1944.4 1401.5h0M1774.3 1426.6h0M2018.5 1352.8h0M1894.6 1404.7h0M2016.2 1469.9h0M1951.3 1306.8h0M2033.5 1359.1h0M1936.3 1408.2h0M1633.1 1379.8h0M1818.3 1289.8h0M1940.9 1418h0M1659.7 1499.3h0M1910.8 1400.8h0M2003.4 1446.3h0M1799.7 1426h0M1969.9 1410.3h0M1798.6 1295.4h0M2005.7 1300.4h0M1746.5 1443.1h0M1934 1391.6h0M1795.1 1323.1h0M1628.5 1356.1h0M1794 1407.6h0M1886.5 1382.5h0M1709.5 1331.3h0M1891.2 1410.7h0M1777.8 1431h0M1743 1431.5h0M1711.8 1470.3h0M1849.5 1289.1h0M1655.1 1340.2h0M1657.4 1345.6h0M1937.5 1408.9h0M2032.4 1359.5h0M1887.7 1298.2h0M1982.6 1441.7h0M1623.8 1360.1h0M2037 1363.4h0M1707.2 1438.6h0M1620.4 1376.3h0M1737.2 1517.3h0M1856.4 1407.3h0M1673.6 1325.1h0M1753.4 1459.7h0M1840.2 1424.1h0M1964.1 1315.8h0M1824 1300.9h0M1902.7 1403h0M1761.5 1412.2h0M1796.3 1424.9h0M1815.9 1413.4h0M1906.2 1293.2h0M1788.2 1321.4h0M1908.5 1401.5h0M1928.2 1289.5h0M1912 1400.5h0M1789.3 1314.9h0M1819.4 1403.4h0M1847.2 1298.2h0M1665.5 1491.2h0M1657.4 1486.7h0M1986.1 1452.2h0M1914.3 1404.1h0M2004.6 1441.3h0M1745.3 1366.1h0M1857.6 1399.6h0M1747.7 1313.4h0M1755.8 1455.2h0M1630.8 1493.1h0M1876.1 1295.6h0M1691 1359h0M1634.2 1357.9h0M1748.8 1438.3h0M1776.6 1421.2h0M1726.8 1478.4h0M1837.9 1410.7h0M1947.9 1299h0M1796.3 1320.9h0M2023.1 1443.5h0M2000 1335.2h0M1737.2 1311.6h0M1943.2 1302.5h0M1719.9 1457.8h0M1730.3 1367.8h0M1682.9 1338.8h0M1716.4 1443.5h0M1629.6 1502.9h0M1832.1 1280.5h0M1979.1 1307h0M1789.3 1433.7h0M1666.6 1342.2h0M1879.6 1430.1h0M1974.5 1307.9h0M1827.5 1418.3h0M1791.6 1397.9h0M1871.5 1407.7h0M2013.8 1509.7h0M1626.1 1521.3h0M1854.1 1307.7h0M1967.5 1416.6h0M1883.1 1390.7h0M1745.3 1426.8h0M1990.7 1445.5h0M2025.4 1467.9h0M1978 1310.7h0M1706 1309.4h0M1647 1476.6h0M1760.4 1442.1h0M1932.8 1285h0M1738.4 1321.9h0M1930.5 1289.4h0M1826.4 1301.9h0" stroke="#0F7DC2" stroke-width="7.2" stroke-linecap="round" fill="none"/>
<path d="M2009.2 1318h0M2039.3 1450.9h0M1848.3 1397.4h0M2017.3 1424.2h0M1666.6 1476.9h0M1712.9 1304.1h0M1870.3 1273.4h0M1767.3 1290.5h0M1879.6 1406.2h0M1862.2 1387.4h0M1754.6 1433.7h0M1680.5 1303.8h0M2027.7 1286h0M1980.3 1408.1h0M1657.4 1339.4h0M1783.5 1287.5h0M1989.5 1403.6h0M1740.7 1270.4h0M1689.8 1444.8h0M2028.9 1444.6h0M2001.1 1416.9h0M1930.5 1402.9h0M1750 1435.6h0M1641.2 1352.1h0M1759.2 1285.7h0M1978 1410.6h0M1753.4 1426.9h0M1940.9 1418.6h0M1831 1408.7h0M1629.6 1315.2h0M1899.3 1397.9h0M1627.3 1482.2h0M1983.7 1408.2h0M1921.3 1401.1h0M1972.2 1306.5h0M1758.1 1286.8h0M1945.6 1302.5h0M1745.3 1413.5h0M1724.5 1266.8h0M1916.6 1287.3h0M2003.4 1422.5h0M1990.7 1419.2h0M1870.3 1407.9h0M1635.4 1476.6h0M1794 1293h0M1680.5 1458h0M1844.9 1283.5h0M1739.6 1284.9h0M1770.8 1270.2h0M1756.9 1418.5h0M1623.8 1475.7h0M1621.5 1471.8h0M1949 1297.7h0M1980.3 1298.1h0M1994.2 1309.1h0M1620.4 1473.2h0M2021.9 1309.9h0M1811.3 1400.6h0M1824 1278.3h0M1748.8 1411.2h0M1862.2 1290.5h0M2002.3 1413.4h0M1755.8 1419.4h0M1868 1397.4h0M1693.3 1291h0M2019.6 1426h0M1663.2 1472.1h0M1995.3 1414.9h0M1954.8 1294h0M1644.7 1459.5h0M1745.3 1304.1h0M1914.3 1408.8h0M1891.2 1404.9h0M2010.4 1312.7h0M1791.6 1279.8h0M2000 1435.5h0M2005.7 1410.8h0M1936.3 1296.6h0M1711.8 1445.3h0M1787 1303.3h0M2006.9 1421.2h0M1901.6 1298h0M1885.4 1299.5h0M1754.6 1286.3h0M1674.8 1317.9h0M1692.1 1441.8h0M2002.3 1307.5h0M1981.4 1407.2h0M1746.5 1305.9h0M1715.3 1285.8h0M1782.4 1425.5h0M1777.8 1292.2h0M1846 1296.7h0M2026.6 1293.1h0M1756.9 1279.5h0M1761.5 1269.2h0M1871.5 1404.2h0M1746.5 1410.8h0M1986.1 1300.1h0M1888.9 1389.4h0M1892.3 1280h0M1918.9 1404h0M1718.7 1424.4h0M1976.8 1410.8h0M1905.1 1295.5h0M1760.4 1423.4h0M1914.3 1296.7h0M1706 1286.9h0M1853 1400.4h0M1884.2 1280.8h0M1861.1 1394.8h0M1770.8 1406.8h0M2023.1 1435.4h0M1791.6 1408.8h0M1759.2 1428.1h0M1922.4 1404.7h0M1709.5 1314.6h0M1662 1464.5h0M1703.7 1293.2h0M1650.4 1322.3h0M1755.8 1293.3h0M1917.8 1384h0M1829.8 1413.3h0M1847.2 1406.7h0M2008.1 1303.7h0M1707.2 1430h0M1666.6 1312.9h0M1858.8 1276.5h0M1943.2 1408.4h0M1647 1463.1h0M2000 1304.6h0M1820.6 1416h0M1996.5 1439h0M1687.5 1297.8h0M1638.9 1312.7h0M1952.5 1403.7h0M1866.9 1391h0M1939.8 1282.2h0M1937.5 1294.8h0M1768.5 1409.1h0M1796.3 1298.4h0M1893.5 1399.7h0M1934 1289.1h0M1804.4 1414.3h0M1864.5 1297h0M1858.8 1402.7h0M1730.3 1283.6h0M1944.4 1402.8h0M1931.7 1395.9h0M1984.9 1413h0M1704.8 1288.1h0M1773.1 1273.6h0M1958.3 1410.6h0M1762.7 1273.3h0M1650.4 1468.1h0M1834.5 1288.8h0M1897 1305.9h0M1636.6 1325.2h0M1678.2 1314.4h0M1641.2 1482.8h0M1637.7 1328.9h0M1638.9 1492h0M1965.2 1425.9h0M1673.6 1448.8h0M1790.5 1280.9h0M1964.1 1418.1h0M1722.2 1444.5h0M1960.6 1324h0M1848.3 1268.3h0M1688.6 1304.8h0M1912 1282.6h0M1971 1304.6h0M1792.8 1287.8h0M1877.3 1295.3h0M1744.2 1290.4h0M1699.1 1277h0M1902.7 1291.6h0M1810.2 1297.5h0M1953.7 1410.6h0M1674.8 1431.1h0M1864.5 1399.5h0M1805.5 1412.7h0M1726.8 1441h0M2039.3 1347.2h0M1954.8 1409.3h0M1671.3 1439.9h0M1696.7 1289.8h0M1653.9 1453.5h0M1712.9 1460.1h0M1626.1 1326.8h0M1909.7 1400h0M2025.4 1301.9h0M1982.6 1411.1h0M2028.9 1309h0M1894.6 1286.3h0M1707.2 1292.2h0M1647 1314.4h0M2032.4 1321.7h0M1636.6 1520h0M1937.5 1414.5h0M1724.5 1439.2h0M2004.6 1410.4h0M1813.6 1275.1h0M1752.3 1271h0M1659.7 1434.7h0M2017.3 1313.2h0M1908.5 1294.9h0M1982.6 1315.3h0M1734.9 1280.3h0M1839.1 1398.4h0M1922.4 1290.9h0M1697.9 1470.9h0M1664.3 1478.6h0M1626.1 1463.2h0M1729.1 1418.8h0M1719.9 1413h0M1628.5 1310.7h0M2037 1340.9h0M1800.9 1272.1h0M1630.8 1341.5h0M1932.8 1282.4h0M1996.5 1308h0M1635.4 1350h0M1915.5 1293.5h0M1956 1408.2h0M2037 1462.9h0M1743 1403.7h0M1876.1 1411.8h0M1622.7 1450.6h0M1691 1458.7h0M1778.9 1282.8h0M1935.1 1410.6h0M1656.2 1422.7h0M1699.1 1467.7h0M1883.1 1285.4h0M1640 1328.2h0M2016.2 1286.9h0M1843.7 1394.7h0M1925.9 1294.3h0M1873.8 1299h0M1981.4 1307.8h0M1630.8 1471.9h0M2032.4 1457.1h0" stroke="#FA6014" stroke-width="7.2" stroke-linecap="round" fill="none"/>
<path d="M1787 1424.2h0M1652.8 1352.3h0M1957.1 1336.1h0M1803.2 1311.6h0M1782.4 1413.7h0M2005.7 1430.5h0M1834.5 1388.6h0M1876.1 1389.8h0M1638.9 1332.6h0M1765 1314h0M1909.7 1292.3h0M1968.7 1326h0M1979.1 1428.5h0M1950.2 1414.9h0M1978 1418.4h0M2026.6 1345.9h0M1843.7 1281.6h0M1809 1299.1h0M1656.2 1343.8h0M1893.5 1413.5h0M1741.9 1346.2h0M1998.8 1423.9h0M1910.8 1299.4h0M1780.1 1429.7h0M1831 1288.7h0M1994.2 1396.6h0M1885.4 1299.3h0M1854.1 1379.8h0M1669 1332.9h0M1734.9 1459.9h0M1864.5 1342.1h0M1732.6 1303.3h0M1922.4 1310.3h0M1828.7 1412.7h0M2024.3 1335.9h0M1829.8 1398.7h0M1844.9 1286.4h0M1677.1 1461.9h0M1947.9 1441.7h0M1783.5 1435.6h0M1762.7 1409.2h0M1721 1316.8h0M1675.9 1325.5h0M1693.3 1481.2h0M2035.8 1366.8h0M1863.4 1389.7h0M2011.5 1330.5h0M1708.3 1333h0M1695.6 1378.8h0M1688.6 1316.1h0M1792.8 1319.7h0M1913.2 1281h0M1656.2 1479.2h0M1685.2 1349.6h0M1939.8 1298.9h0M1772 1436.6h0M1996.5 1336.5h0M1627.3 1388.4h0M1868 1411.6h0M1829.8 1284.7h0M1664.3 1494.7h0M1724.5 1299.2h0M1775.4 1427.9h0M2038.1 1376.3h0M1856.4 1308h0M2023.1 1350.1h0M1905.1 1398.4h0M1753.4 1300.3h0M1907.4 1280.1h0M2013.8 1389.8h0M1626.1 1405.8h0M1925.9 1393.8h0M1872.6 1289.9h0M2019.6 1463.6h0M1871.5 1299.2h0M1897 1309.2h0M1826.4 1419.7h0M1667.8 1315.3h0M1964.1 1423.9h0M1828.7 1306.6h0M1928.2 1411.9h0M1707.2 1321h0M1940.9 1310.1h0M1825.2 1405.3h0M1883.1 1301.7h0M1736.1 1317.8h0M1715.3 1325.1h0M1635.4 1490h0M1754.6 1305.8h0M1884.2 1394.9h0M1729.1 1468.7h0M1997.6 1317.6h0M1811.3 1321.1h0M1653.9 1344h0M1849.5 1414h0M1658.5 1486.1h0M1701.4 1474.4h0M1865.7 1399.8h0M1760.4 1320.2h0M1721 1452.1h0M1651.6 1510.3h0M1953.7 1306h0M1924.7 1417.1h0M1731.5 1444.3h0M1877.3 1301.1h0M1873.8 1397h0M1758.1 1334.7h0M1640 1483.5h0M1761.5 1316.7h0M1706 1461.9h0M1718.7 1460.1h0M1649.3 1328.4h0M1744.2 1467.2h0M1938.6 1303.7h0M2037 1493.6h0M1655.1 1534.5h0M1649.3 1485.5h0M1692.1 1477.4h0M1982.6 1314.5h0M1700.2 1439h0M1723.4 1345.2h0M1949 1417.7h0M1792.8 1403.4h0M1781.2 1321.9h0M1817.1 1406.8h0M1878.4 1296.6h0M1692.1 1389.3h0M1806.7 1420.5h0M1855.3 1384.3h0M1637.7 1486h0M1806.7 1286.3h0M1822.9 1417.6h0M1752.3 1456.5h0M1804.4 1301.7h0M1833.3 1381.6h0M1931.7 1283.2h0M1723.4 1438.8h0M1899.3 1398h0M2017.3 1483.2h0M1981.4 1424.8h0M1920.1 1303.6h0M1686.3 1347.3h0M1827.5 1306.5h0M1898.1 1315.8h0M1653.9 1469.1h0M1672.4 1360.7h0M2034.7 1474.7h0M1957.1 1409.1h0M1741.9 1438.1h0M1681.7 1484.3h0M1627.3 1488.1h0M1836.8 1288.6h0M1906.2 1406.9h0M1925.9 1295.9h0M1693.3 1368.9h0M1880.7 1300.6h0M1885.4 1391.6h0M1640 1365.2h0M2030 1369h0M1750 1328h0M1825.2 1306.7h0M1988.4 1426.5h0M2002.3 1349.2h0M1841.4 1407.9h0M2006.9 1434.7h0M1836.8 1430.7h0M1942.1 1407.6h0M1798.6 1430.6h0M1993 1415.4h0M1969.9 1325.8h0M1810.2 1427.6h0M1820.6 1350.3h0M1625 1384.2h0M1697.9 1402.6h0M1890 1276h0M1869.2 1289.9h0M1901.6 1402.1h0M1730.3 1500.9h0M1750 1448.5h0M1936.3 1317.3h0M1659.7 1419.7h0M1687.5 1458.3h0M1636.6 1354.9h0M1708.3 1474.8h0M1951.3 1409.2h0M1622.7 1485.9h0M1981.4 1307.8h0M1916.6 1410.4h0M1887.7 1388.4h0M1767.3 1440h0M1893.5 1288.3h0M1850.7 1298.3h0M1915.5 1413.4h0M1633.1 1485.2h0M1768.5 1413.3h0M1917.8 1292.8h0M1680.5 1338.9h0M1699.1 1358h0M1909.7 1400.1h0M1988.4 1353.8h0M2015 1338.3h0M1785.9 1437.4h0M1759.2 1323.1h0M1956 1426.8h0M1986.1 1300.6h0M1934 1306.3h0M1648.1 1490.4h0M1677.1 1336.5h0M1815.9 1285.2h0M1983.7 1350.9h0M1811.3 1428.4h0M1862.2 1309h0M1722.2 1317.3h0M1998.8 1325h0M1664.3 1358.4h0M1687.5 1374.6h0M2020.8 1450.5h0M1785.9 1301.1h0M2026.6 1484.4h0M2019.6 1331.2h0M1807.8 1316.8h0M1625 1506.8h0M1870.3 1296.7h0M1900.4 1395.5h0M1746.5 1305.5h0M1763.9 1307.2h0M1694.4 1368.3h0M1935.1 1306.6h0M1645.8 1498.6h0M1927 1273.2h0M2009.2 1348.9h0M1679.4 1341.2h0M1709.5 1479.4h0M1739.6 1429.8h0M1873.8 1290.5h0M1788.2 1424.4h0M1756.9 1317h0M1851.8 1304.5h0M1645.8 1365.7h0M1644.7 1480.7h0M1666.6 1475.4h0M1990.7 1337.9h0M1879.6 1294.9h0" stroke="#0F7DC2" stroke-width="7.2" stroke-linecap="round" fill="none"/>
<path d="M1716.4 1303.5h0M1872.6 1409h0M1987.2 1416.9h0M1631.9 1473.8h0M1733.8 1432.5h0M1960.6 1417.8h0M1946.7 1409.3h0M1901.6 1393.2h0M1743 1291.1h0M1732.6 1286.7h0M1762.7 1420.9h0M1899.3 1294.7h0M1725.7 1268h0M1717.6 1284.7h0M2027.7 1447.3h0M1938.6 1292.7h0M1625 1466.1h0M1811.3 1308h0M1907.4 1281h0M1781.2 1426.1h0M1818.3 1414.6h0M1802.1 1414.7h0M1741.9 1288.3h0M1890 1275.1h0M1649.3 1321.7h0M1796.3 1408.9h0M1740.7 1435.3h0M1849.5 1396.8h0M1903.9 1291.1h0M1706 1432.2h0M1827.5 1292.3h0M1655.1 1317.6h0M1620.4 1317h0M1658.5 1327.8h0M1645.8 1450.8h0M1906.2 1286.2h0M1652.8 1464.2h0M1951.3 1404.2h0M1722.2 1287.2h0M1856.4 1387.5h0M1833.3 1297.8h0M1837.9 1390.7h0M1829.8 1290.6h0M1841.4 1279.6h0M1822.9 1286.5h0M1723.4 1443h0M1701.4 1294.7h0M1748.8 1308.2h0M1731.5 1275.8h0M1907.4 1412.9h0M1865.7 1300.9h0M1774.3 1288.9h0M1967.5 1309.5h0M1750 1297.3h0M1861.1 1293.1h0M1784.7 1301h0M2038.1 1334.1h0M1731.5 1406.8h0M2031.2 1441.9h0M1689.8 1303.1h0M1765 1277.4h0M1891.2 1281h0M1881.9 1289.4h0M1859.9 1288.8h0M1820.6 1294h0M1826.4 1408.9h0M1978 1299h0M1775.4 1282.4h0M1842.6 1284.6h0M1726.8 1285.4h0M1951.3 1302.1h0M1671.3 1332h0M1873.8 1401.7h0M1773.1 1405.1h0M1925.9 1383.2h0M1851.8 1399.2h0M1777.8 1421.9h0M1763.9 1421.9h0M1710.6 1314.9h0M1721 1290h0M1702.5 1460.9h0M1730.3 1414.5h0M1888.9 1282.8h0M1663.2 1304.3h0M2006.9 1318.4h0M1863.4 1305.2h0M1872.6 1296h0M1979.1 1290.6h0M1716.4 1410.5h0M1968.7 1420.5h0M1694.4 1291.2h0M1936.3 1406.5h0M1898.1 1394.4h0M1702.5 1286.4h0M1781.2 1281.7h0M1648.1 1476.8h0M1878.4 1298.8h0M1729.1 1290.6h0M1827.5 1409.4h0M1725.7 1433.8h0M1784.7 1417.8h0M1912 1397.3h0M1939.8 1410.2h0M1906.2 1401.8h0M1938.6 1423.1h0M1909.7 1292.8h0M1701.4 1432.8h0M1807.8 1387.3h0M1803.2 1284.9h0M1991.9 1432.7h0M1670.1 1334.8h0M1642.3 1341.7h0M1723.4 1278.1h0M1734.9 1430.1h0M1739.6 1437.6h0M1964.1 1290.2h0M1900.4 1300.8h0M1643.5 1463.9h0M1819.4 1410.8h0M1640 1489.5h0M2011.5 1424.1h0M1913.2 1404.7h0M1682.9 1307.8h0M1695.6 1302.7h0M1897 1400.8h0M1797.4 1303.8h0M1691 1311.8h0M1780.1 1288.2h0M1989.5 1286.4h0M1772 1269.9h0M1653.9 1322.9h0M1875 1411.9h0M1697.9 1284.3h0M1998.8 1297.9h0M1900.4 1394h0M1692.1 1295.9h0M1913.2 1300.2h0M1776.6 1296.8h0M1839.1 1289.7h0M1732.6 1410h0M1921.3 1300.1h0M1714.1 1438.2h0M1835.6 1400.4h0M1799.7 1404.3h0M1950.2 1407.4h0M1908.5 1407.6h0M1929.4 1284.6h0M1788.2 1309.1h0M1817.1 1421.9h0M1652.8 1351.5h0M1840.2 1406.6h0M1942.1 1286.2h0M1644.7 1339.6h0M1669 1467h0M1947.9 1404.8h0M1788.2 1421.7h0M1658.5 1439.3h0M1623.8 1322.4h0M1769.6 1408.7h0M1969.9 1415.4h0M1902.7 1398.3h0M1809 1286.8h0M1768.5 1286.7h0M1988.4 1402.2h0M1805.5 1277.3h0M1979.1 1408.3h0M1633.1 1344h0M1783.5 1422.9h0M1957.1 1414.3h0M1806.7 1406.5h0M1648.1 1301.8h0M1946.7 1299.2h0M1675.9 1452.7h0M2030 1454.4h0M1880.7 1403.5h0M1763.9 1259.4h0M1834.5 1399.5h0M1678.2 1447.6h0M1857.6 1399.9h0M1775.4 1407.9h0M2018.5 1324h0M1988.4 1292.3h0M1973.3 1389.6h0M1785.9 1405.4h0M1881.9 1391.1h0M1880.7 1293.5h0M1886.5 1390h0M2019.6 1301.1h0M1621.5 1354h0M1789.3 1299.3h0M2004.6 1320.4h0M1910.8 1290.7h0M1662 1308.8h0M1714.1 1291.1h0M1695.6 1463.7h0M1821.7 1287.9h0M1920.1 1405.7h0M1667.8 1317h0M1928.2 1288.4h0M1747.7 1415.3h0M1968.7 1318.3h0M1625 1322h0M1950.2 1293.5h0M1659.7 1308.2h0M1975.6 1304.4h0M1831 1283.6h0M2010.4 1426.8h0M1649.3 1466.5h0M1850.7 1392.1h0M1657.4 1440.9h0M2034.7 1313.1h0M1865.7 1390.2h0M1924.7 1295.7h0M1809 1396.5h0M2020.8 1311.2h0M1835.6 1288.4h0M1994.2 1418.9h0M1997.6 1298h0M1747.7 1305.9h0M2013.8 1308.2h0M1813.6 1413.1h0M1665.5 1472h0M1685.2 1302.6h0M1804.4 1281.7h0M1642.3 1488.4h0M1760.4 1274.2h0M1993 1292.7h0M1905.1 1398.4h0M1983.7 1311.3h0M1920.1 1300.9h0M2016.2 1437.7h0M2015 1294.4h0M1718.7 1281.8h0M1660.9 1304.6h0M1787 1408.3h0M2033.5 1444h0M2012.7 1411h0M1924.7 1394.9h0M1875 1291.7h0M1711.8 1303.7h0M1932.8 1414.1h0M1869.2 1407h0M1789.3 1422.2h0" stroke="#FA6014" stroke-width="7.2" stroke-linecap="round" fill="none"/>
<path d="M1872.6 1393.1h0M1651.6 1343h0M1780.1 1307.3h0M2010.4 1443.2h0M1861.1 1290.8h0M1672.4 1480.4h0M1763.9 1436.9h0M1630.8 1349.2h0M1802.1 1434.4h0M1805.5 1421.5h0M1858.8 1282.3h0M1972.2 1313.5h0M1696.7 1342.3h0M1859.9 1394.5h0M1961.8 1306.4h0M1712.9 1466.5h0M1773.1 1415.2h0M2024.3 1442.9h0M1991.9 1442h0M1991.9 1341.2h0M1888.9 1289.9h0M1744.2 1347.3h0M1937.5 1311.7h0M1795.1 1421.2h0M1973.3 1312.5h0M1916.6 1297.9h0M2021.9 1460.9h0M1967.5 1307h0M1884.2 1299.5h0M1620.4 1523.5h0M1842.6 1410.7h0M1701.4 1328.4h0M1724.5 1454.3h0M1703.7 1309.5h0M1958.3 1313h0M1853 1402.9h0M2020.8 1329.5h0M1864.5 1407h0M1930.5 1399.9h0M1956 1305.6h0M1908.5 1289.9h0M2030 1487.8h0M1965.2 1308.4h0M1832.1 1390.5h0M1637.7 1351.6h0M2018.5 1476.9h0M2006.9 1306.8h0M1939.8 1413.2h0M1648.1 1333.8h0M1658.5 1347.6h0M1953.7 1401.1h0M1984.9 1310.2h0M1945.6 1408.7h0M1773.1 1324.5h0M1921.3 1394.8h0M2011.5 1492.7h0M1718.7 1319.3h0M1652.8 1512.3h0M2025.4 1337.9h0M1688.6 1530.8h0M1726.8 1314.3h0M1663.2 1479.2h0M1631.9 1506.2h0M1898.1 1414.4h0M1670.1 1457.3h0M1878.4 1388.7h0M1670.1 1342h0M2039.3 1344.1h0M1778.9 1415.3h0M1862.2 1394.7h0M1923.6 1314.2h0M2035.8 1484.8h0M2034.7 1349.2h0M1710.6 1305.3h0M1671.3 1342.2h0M1903.9 1397.3h0M1689.8 1338.4h0M1840.2 1294.8h0M2040.5 1504.8h0M1824 1420.7h0M1959.4 1322.1h0M1971 1323.6h0M1818.3 1412h0M2041.6 1498.9h0M1791.6 1303.9h0M1821.7 1309.9h0M1644.7 1361.8h0M1805.5 1291.5h0M2012.7 1495.4h0M1800.9 1293.7h0M2015 1453.8h0M2008.1 1378.5h0M1756.9 1502.2h0M2041.6 1353.2h0M1717.6 1328.6h0M1868 1282.4h0M1863.4 1308.7h0M1621.5 1351.6h0M1638.9 1514.8h0M1667.8 1461.9h0M1814.8 1415h0M1739.6 1338.2h0M1980.3 1304.3h0M1772 1311.4h0M1895.8 1409.2h0M1628.5 1504.3h0M1994.2 1322.7h0M1853 1305.5h0M1900.4 1302.7h0M1812.5 1414h0M1897 1402.2h0M1847.2 1416.1h0M1697.9 1445h0M2040.5 1364.4h0M1702.5 1331.8h0M1751.1 1443.6h0M1758.1 1442.9h0M1770.8 1372.2h0M1831 1385.3h0M1662 1478.6h0M1800.9 1428.9h0M1944.4 1316.3h0M1839.1 1302.2h0M2038.1 1487.1h0M1810.2 1326.1h0M1993 1325.9h0M1722.2 1455.9h0M1669 1463.4h0M1923.6 1415.9h0M1996.5 1426.1h0M1843.7 1416.8h0M1960.6 1430h0M1842.6 1280.1h0M1733.8 1446.8h0M1714.1 1330.5h0M1835.6 1278.4h0M1851.8 1429h0M1813.6 1308.8h0M1696.7 1451.5h0M1711.8 1327.5h0M1784.7 1302.5h0M1945.6 1287.4h0M1942.1 1308.2h0M1643.5 1355.1h0M2031.2 1351.3h0M1790.5 1307h0M1922.4 1399.1h0M2004.6 1303.2h0M1965.2 1427.7h0M1733.8 1306.4h0M2021.9 1355.9h0M1725.7 1297.7h0M1881.9 1384.4h0M1774.3 1302.7h0M1846 1302.3h0M1861.1 1390.6h0M1691 1502h0M1641.2 1420.2h0M1976.8 1310.9h0M1987.2 1312.4h0M1972.2 1416.8h0M1740.7 1424.3h0M2001.1 1325.2h0M1797.4 1435.6h0M1877.3 1387h0M1917.8 1400.3h0M1962.9 1430.3h0M1734.9 1311.5h0M1918.9 1313.2h0M1918.9 1398.4h0M1766.2 1335.4h0M1775.4 1340.5h0M1962.9 1304.9h0M1907.4 1412.2h0M1642.3 1371.6h0M1728 1462.8h0M2009.2 1435.5h0M2001.1 1415.5h0M1665.5 1347h0M1837.9 1287.9h0M1850.7 1415.2h0M1804.4 1416.8h0M1995.3 1416.2h0M1989.5 1420h0M1902.7 1298.6h0M1901.6 1301.5h0M1784.7 1430.8h0M1891.2 1280h0M1839.1 1415.5h0M1752.3 1323.9h0M2032.4 1543.9h0M1931.7 1414.2h0M1703.7 1487.6h0M1812.5 1306.7h0M1681.7 1340.4h0M1858.8 1396.7h0M1890 1398.7h0M1819.4 1297.6h0M1662 1349.6h0M1650.4 1366.7h0M1631.9 1360.2h0M1966.4 1428.5h0M1946.7 1418.7h0M1715.3 1440.7h0M1968.7 1424.5h0M2000 1433.2h0M1865.7 1298.5h0M1738.4 1457.2h0M1954.8 1419.6h0M1714.1 1445.5h0M1634.2 1458.4h0M1935.1 1397.2h0M1975.6 1309.9h0M1674.8 1464.5h0M1905.1 1282.5h0M1768.5 1376.2h0M1912 1297.7h0M1848.3 1299.5h0M1660.9 1496.4h0M1857.6 1296.5h0M1952.5 1390.9h0M1855.3 1305.4h0M1747.7 1426.9h0M1732.6 1444.8h0M1899.3 1305.6h0M2010.4 1336.1h0M1754.6 1447.8h0M2017.3 1332.2h0M1642.3 1544.1h0M1973.3 1419.9h0M1817.1 1291.4h0M1921.3 1313.2h0M2012.7 1345.2h0M1987.2 1445.9h0M1841.4 1287.5h0M2002.3 1422.3h0M1695.6 1435h0M1678.2 1313.6h0M1834.5 1275.9h0M2008.1 1464.8h0M1814.8 1283.4h0M1685.2 1513.7h0M1762.7 1317.6h0M1719.9 1327.3h0" stroke="#0F7DC2" stroke-width="7.2" stroke-linecap="round" fill="none"/>
<path d="M1633.1 1450.6h0M1681.7 1294.5h0M1704.8 1446.4h0M1708.3 1292.2h0M2035.8 1443h0M1966.4 1426.1h0M1785.9 1306.7h0M1935.1 1300.6h0M1991.9 1297.4h0M1958.3 1311.7h0M1800.9 1416.2h0M1887.7 1286.6h0M1629.6 1464.3h0M1898.1 1301.1h0M1778.9 1418.7h0M1854.1 1294.6h0M1859.9 1397.2h0M1879.6 1306h0M1903.9 1394.8h0M1700.2 1308.9h0M1814.8 1276.7h0M1782.4 1288.7h0M1798.6 1296.5h0M1918.9 1289.3h0M1974.5 1286.7h0M1962.9 1295.3h0M2024.3 1444.6h0M1795.1 1287.5h0M2023.1 1320.6h0M2040.5 1437.5h0M1670.1 1456.5h0M1856.4 1270.1h0M1682.9 1442h0M1894.6 1396.5h0M1844.9 1396.5h0M1828.7 1288.3h0M1895.8 1292.4h0M1634.2 1347.9h0M1947.9 1303.9h0M1945.6 1410.9h0M1803.2 1419.4h0M2020.8 1432.5h0M1969.9 1316.9h0M1774.3 1406.6h0M1990.7 1299.8h0M1752.3 1423.4h0M1807.8 1283.4h0M1719.9 1278.6h0M1664.3 1309.4h0M1776.6 1418.7h0M1877.3 1410h0M1943.2 1292.3h0M1825.2 1273.3h0M1959.4 1317.8h0M2005.7 1307.1h0M1761.5 1413.9h0M2003.4 1315.8h0M1766.2 1420.2h0M1975.6 1392.2h0M1815.9 1278.3h0M1836.8 1293.4h0M1841.4 1395.8h0M1694.4 1452.7h0M1622.7 1326.2h0M1942.1 1413.7h0M1824 1398.6h0M1677.1 1439.9h0M2012.7 1316.8h0M1631.9 1351.6h0M1675.9 1304.7h0M2018.5 1431.1h0M1733.8 1263.3h0M1693.3 1441.1h0M2040.5 1359.7h0M1855.3 1278.3h0M1868 1286.8h0M2034.7 1438.9h0M1998.8 1422.2h0M1677.1 1311.7h0M1634.2 1454.9h0M1984.9 1305.9h0M1878.4 1409.9h0M1737.2 1423h0M1928.2 1398.7h0M1799.7 1289.1h0M1794 1402.1h0M1769.6 1283.7h0M2011.5 1317.5h0M1651.6 1351.3h0M1944.4 1293.1h0M1772 1410.2h0M1810.2 1382h0M1806.7 1287h0M1672.4 1416.1h0M1710.6 1460.7h0M1681.7 1440.8h0M2033.5 1305.9h0M1849.5 1277.5h0M1961.8 1419.2h0M1656.2 1312.5h0M1987.2 1286.7h0M1655.1 1419.2h0M1684 1292.6h0M1751.1 1430.1h0M2041.6 1349h0M1869.2 1292.2h0M1708.3 1435.2h0M1952.5 1303.4h0M1715.3 1425.6h0M2026.6 1442.4h0M1993 1431.3h0M1696.7 1461.5h0M1953.7 1298.3h0M1817.1 1288h0M2021.9 1440.1h0M1916.6 1389.1h0M1651.6 1477.6h0M1812.5 1303.9h0M1910.8 1398.6h0M1847.2 1292h0M1797.4 1426.2h0M2031.2 1322.2h0M1751.1 1296.7h0M1997.6 1415.6h0M1976.8 1305.5h0M1686.3 1313.4h0M1822.9 1396.2h0M1765 1422.1h0M1667.8 1452.3h0M1851.8 1291.6h0M1738.4 1437.7h0M1949 1395.4h0M2009.2 1431.1h0M1843.7 1290.1h0M1717.6 1416.8h0M1842.6 1400.8h0M2024.3 1300.7h0M2035.8 1318.6h0M1965.2 1278.3h0M1837.9 1288.7h0M1890 1402.1h0M1863.4 1388.6h0M1767.3 1406.3h0M1814.8 1422.7h0M1961.8 1318.8h0M1857.6 1270.8h0M1758.1 1417.8h0M1687.5 1426.3h0M1728 1424.9h0M1886.5 1299h0M1766.2 1290.8h0M1967.5 1414.9h0M2030 1306.8h0M1627.3 1335.3h0M1923.6 1402.8h0M1679.4 1314.2h0M1709.5 1428.7h0M1957.1 1306.6h0M1821.7 1395.6h0M2015 1434.9h0M1972.2 1400.6h0M1780.1 1422.6h0M1934 1410.1h0M1959.4 1411.4h0M1884.2 1388.7h0M1956 1302.2h0M1737.2 1290.8h0M1795.1 1409.1h0M1995.3 1305h0M1643.5 1326.7h0M1931.7 1294.3h0M1792.8 1407.1h0M1753.4 1266.7h0M1962.9 1418.1h0M1660.9 1464.3h0M1798.6 1411.5h0M1790.5 1417.6h0M1688.6 1431.8h0M1887.7 1388.5h0M1871.5 1287.3h0M1832.1 1404.3h0M1966.4 1297.5h0M1973.3 1285.8h0M1855.3 1393h0M1883.1 1392.2h0M1741.9 1422.4h0M1637.7 1482.9h0M1915.5 1397.6h0M1818.3 1279.9h0M1665.5 1294.1h0M2008.1 1416.6h0M2013.8 1421h0M1628.5 1468.4h0M1892.3 1401.5h0M1802.1 1287.4h0M1744.2 1416h0M1669 1321.2h0M1685.2 1430.7h0M1836.8 1389.9h0M1673.6 1312.9h0M1832.1 1294.6h0M1885.4 1381.9h0M2001.1 1296.7h0M1815.9 1432.3h0M1738.4 1308.5h0M1672.4 1314.2h0M1721 1409.7h0M1825.2 1398.2h0M1866.9 1291.9h0M1819.4 1303.2h0M1923.6 1296h0M1840.2 1293.7h0M1927 1288h0M1679.4 1463.6h0M1703.7 1448h0M1853 1292.4h0M1826.4 1278.7h0M1645.8 1316.4h0M1876.1 1300.7h0M1930.5 1277.4h0M1940.9 1295.7h0M1971 1406.3h0M1986.1 1414.5h0M1684 1442.2h0M1895.8 1397.7h0M1929.4 1405h0M1812.5 1407.3h0M1686.3 1434.1h0M1917.8 1300.7h0M2041.6 1431.7h0M1893.5 1282.9h0M2038.1 1469h0M1728 1294.2h0M1850.7 1289.9h0M1700.2 1440.9h0M1974.5 1397.4h0M2025.4 1441.2h0M1833.3 1409.9h0M1736.1 1299.7h0M1736.1 1438.8h0M1854.1 1388.8h0M1828.7 1410.4h0M1846 1395.7h0M1927 1385.9h0" stroke="#FA6014" stroke-width="7.2" stroke-linecap="round" fill="none"/>
<defs><path id="L23omax" d="M1620.4 1330.2 L1629.7 1326.8 L1639.1 1323.4 L1648.4 1320.1 L1657.8 1316.9 L1667.2 1313.9 L1676.5 1311.0 L1685.9 1308.2 L1695.2 1305.7 L1704.6 1303.3 L1714.0 1301.2 L1723.3 1299.2 L1732.7 1297.5 L1742.1 1295.9 L1751.4 1294.6 L1760.8 1293.4 L1770.1 1292.5 L1779.5 1291.7 L1788.9 1291.0 L1798.2 1290.6 L1807.6 1290.2 L1816.9 1290.0 L1826.3 1289.9 L1835.7 1290.0 L1845.0 1290.1 L1854.4 1290.3 L1863.8 1290.6 L1873.1 1290.9 L1882.5 1291.4 L1891.8 1291.9 L1901.2 1292.5 L1910.6 1293.3 L1919.9 1294.1 L1929.3 1295.0 L1938.6 1296.0 L1948.0 1297.2 L1957.4 1298.4 L1966.7 1299.8 L1976.1 1301.3 L1985.4 1303.0 L1994.8 1305.0 L2004.2 1307.4 L2013.5 1310.4 L2022.9 1313.9 L2032.3 1318.2 L2041.6 1322.8"/></defs>
<use href="#L23omax" stroke="#FA6014" stroke-opacity="0.35" stroke-width="8" fill="none" stroke-linejoin="round"/>
<use href="#L23omax" stroke="#FA6014" stroke-width="4.3" fill="none" stroke-linejoin="round"/>
<defs><path id="L23omin" d="M1620.4 1468.1 L1629.7 1464.6 L1639.1 1461.2 L1648.4 1457.8 L1657.8 1454.4 L1667.2 1451.0 L1676.5 1447.6 L1685.9 1444.3 L1695.2 1441.0 L1704.6 1437.7 L1714.0 1434.5 L1723.3 1431.3 L1732.7 1428.2 L1742.1 1425.2 L1751.4 1422.2 L1760.8 1419.4 L1770.1 1416.6 L1779.5 1413.9 L1788.9 1411.4 L1798.2 1409.0 L1807.6 1406.8 L1816.9 1404.7 L1826.3 1402.8 L1835.7 1401.2 L1845.0 1399.8 L1854.4 1398.6 L1863.8 1397.7 L1873.1 1397.1 L1882.5 1396.8 L1891.8 1396.8 L1901.2 1397.1 L1910.6 1397.8 L1919.9 1398.8 L1929.3 1400.1 L1938.6 1401.8 L1948.0 1403.8 L1957.4 1406.1 L1966.7 1408.8 L1976.1 1411.8 L1985.4 1415.4 L1994.8 1419.6 L2004.2 1424.7 L2013.5 1430.7 L2022.9 1438.0 L2032.3 1446.5 L2041.6 1455.7"/></defs>
<use href="#L23omin" stroke="#FA6014" stroke-opacity="0.35" stroke-width="8" fill="none" stroke-linejoin="round"/>
<use href="#L23omin" stroke="#FA6014" stroke-width="4.3" fill="none" stroke-linejoin="round"/>
<defs><path id="L23bmax" d="M1620.4 1368.6 L1629.7 1364.7 L1639.1 1360.9 L1648.4 1357.1 L1657.8 1353.3 L1667.2 1349.6 L1676.5 1346.0 L1685.9 1342.5 L1695.2 1339.0 L1704.6 1335.7 L1714.0 1332.4 L1723.3 1329.3 L1732.7 1326.2 L1742.1 1323.3 L1751.4 1320.4 L1760.8 1317.7 L1770.1 1315.1 L1779.5 1312.6 L1788.9 1310.3 L1798.2 1308.1 L1807.6 1306.1 L1816.9 1304.3 L1826.3 1302.7 L1835.7 1301.2 L1845.0 1300.0 L1854.4 1299.0 L1863.8 1298.1 L1873.1 1297.5 L1882.5 1297.1 L1891.8 1296.8 L1901.2 1296.8 L1910.6 1297.0 L1919.9 1297.4 L1929.3 1298.1 L1938.6 1299.2 L1948.0 1300.7 L1957.4 1302.8 L1966.7 1305.6 L1976.1 1309.1 L1985.4 1313.5 L1994.8 1318.8 L2004.2 1325.4 L2013.5 1333.2 L2022.9 1342.5 L2032.3 1353.3 L2041.6 1364.9"/></defs>
<use href="#L23bmax" stroke="#0F7DC2" stroke-opacity="0.35" stroke-width="8" fill="none" stroke-linejoin="round"/>
<use href="#L23bmax" stroke="#0F7DC2" stroke-width="4.3" fill="none" stroke-linejoin="round"/>
<defs><path id="L23bmin" d="M1620.4 1497.5 L1629.7 1494.6 L1639.1 1491.7 L1648.4 1488.7 L1657.8 1485.6 L1667.2 1482.3 L1676.5 1478.9 L1685.9 1475.2 L1695.2 1471.3 L1704.6 1467.3 L1714.0 1463.0 L1723.3 1458.7 L1732.7 1454.2 L1742.1 1449.6 L1751.4 1444.9 L1760.8 1440.2 L1770.1 1435.5 L1779.5 1430.9 L1788.9 1426.5 L1798.2 1422.2 L1807.6 1418.1 L1816.9 1414.3 L1826.3 1410.8 L1835.7 1407.6 L1845.0 1404.8 L1854.4 1402.4 L1863.8 1400.5 L1873.1 1399.0 L1882.5 1398.2 L1891.8 1398.0 L1901.2 1398.4 L1910.6 1399.5 L1919.9 1401.3 L1929.3 1403.9 L1938.6 1407.0 L1948.0 1410.8 L1957.4 1415.2 L1966.7 1420.0 L1976.1 1425.4 L1985.4 1431.5 L1994.8 1438.6 L2004.2 1446.8 L2013.5 1456.6 L2022.9 1468.0 L2032.3 1481.2 L2041.6 1495.5"/></defs>
<use href="#L23bmin" stroke="#0F7DC2" stroke-opacity="0.35" stroke-width="8" fill="none" stroke-linejoin="round"/>
<use href="#L23bmin" stroke="#0F7DC2" stroke-width="4.3" fill="none" stroke-linejoin="round"/>
<text transform="translate(108.4 604.2) scale(1 1.035)" font-size="39.2" fill="#333" text-anchor="end">10</text>
<text transform="translate(108.4 471.3) scale(1 1.035)" font-size="39.2" fill="#333" text-anchor="end">20</text>
<text transform="translate(108.4 338.4) scale(1 1.035)" font-size="39.2" fill="#333" text-anchor="end">30</text>
<text transform="translate(108.4 1103.7) scale(1 1.035)" font-size="39.2" fill="#333" text-anchor="end">10</text>
<text transform="translate(108.4 970.8) scale(1 1.035)" font-size="39.2" fill="#333" text-anchor="end">20</text>
<text transform="translate(108.4 837.9) scale(1 1.035)" font-size="39.2" fill="#333" text-anchor="end">30</text>
<text transform="translate(108.4 1603.2) scale(1 1.035)" font-size="39.2" fill="#333" text-anchor="end">10</text>
<text transform="translate(108.4 1470.3) scale(1 1.035)" font-size="39.2" fill="#333" text-anchor="end">20</text>
<text transform="translate(108.4 1337.4) scale(1 1.035)" font-size="39.2" fill="#333" text-anchor="end">30</text>
<text transform="translate(151.0 1756) scale(1 1.035)" font-size="39.2" fill="#333" text-anchor="middle">0</text>
<text transform="translate(266.7 1756) scale(1 1.035)" font-size="39.2" fill="#333" text-anchor="middle">100</text>
<text transform="translate(382.5 1756) scale(1 1.035)" font-size="39.2" fill="#333" text-anchor="middle">200</text>
<text transform="translate(498.2 1756) scale(1 1.035)" font-size="39.2" fill="#333" text-anchor="middle">300</text>
<text transform="translate(640.5 1756) scale(1 1.035)" font-size="39.2" fill="#333" text-anchor="middle">0</text>
<text transform="translate(756.2 1756) scale(1 1.035)" font-size="39.2" fill="#333" text-anchor="middle">100</text>
<text transform="translate(872.0 1756) scale(1 1.035)" font-size="39.2" fill="#333" text-anchor="middle">200</text>
<text transform="translate(987.7 1756) scale(1 1.035)" font-size="39.2" fill="#333" text-anchor="middle">300</text>
<text transform="translate(1129.9 1756) scale(1 1.035)" font-size="39.2" fill="#333" text-anchor="middle">0</text>
<text transform="translate(1245.6 1756) scale(1 1.035)" font-size="39.2" fill="#333" text-anchor="middle">100</text>
<text transform="translate(1361.4 1756) scale(1 1.035)" font-size="39.2" fill="#333" text-anchor="middle">200</text>
<text transform="translate(1477.1 1756) scale(1 1.035)" font-size="39.2" fill="#333" text-anchor="middle">300</text>
<text transform="translate(1619.2 1756) scale(1 1.035)" font-size="39.2" fill="#333" text-anchor="middle">0</text>
<text transform="translate(1734.9 1756) scale(1 1.035)" font-size="39.2" fill="#333" text-anchor="middle">100</text>
<text transform="translate(1850.7 1756) scale(1 1.035)" font-size="39.2" fill="#333" text-anchor="middle">200</text>
<text transform="translate(1966.4 1756) scale(1 1.035)" font-size="39.2" fill="#333" text-anchor="middle">300</text>
<path d="M119 589.8H131M119 456.9H131M119 324.0H131M119 1089.3H131M119 956.4H131M119 823.5H131M119 1588.8H131M119 1455.9H131M119 1323.0H131M151.0 1706V1718M266.7 1706V1718M382.5 1706V1718M498.2 1706V1718M640.5 1706V1718M756.2 1706V1718M872.0 1706V1718M987.7 1706V1718M1129.9 1706V1718M1245.6 1706V1718M1361.4 1706V1718M1477.1 1706V1718M1619.2 1706V1718M1734.9 1706V1718M1850.7 1706V1718M1966.4 1706V1718" stroke="#222" stroke-width="4" fill="none"/>
<text x="971.1" y="1811.2" font-size="49.3" fill="#000">Day of year</text>
<text transform="translate(42.8 969.2) rotate(-90)" font-size="49.8" fill="#000" text-anchor="middle">Temperature (°C)</text>
<text x="2211.1" y="898.4" font-size="49.2" fill="#000">Location</text>
<rect x="2212.4" y="927.3" width="76.7" height="152.7" fill="#FAFAFA"/>
<path d="M2219.7 965.2H2281.3" stroke="#0F7DC2" stroke-width="5.5"/>
<path d="M2219.7 1042.2H2281.3" stroke="#FA6014" stroke-width="5.5"/>
<circle cx="2250.9" cy="965.2" r="3.3" fill="#0F7DC2"/><circle cx="2250.9" cy="1042.2" r="3.3" fill="#FA6014"/>
<text x="2312.6" y="979.5" font-size="39.3" fill="#000">Non-urban</text>
<text x="2312.6" y="1056.6" font-size="39.3" fill="#000">Urban</text>
<text x="1340.6" y="1874.5" font-size="39.3" fill="#000">Data source: NOAA GHCN, GHSL, VIIRS</text>
</svg></body></html>
